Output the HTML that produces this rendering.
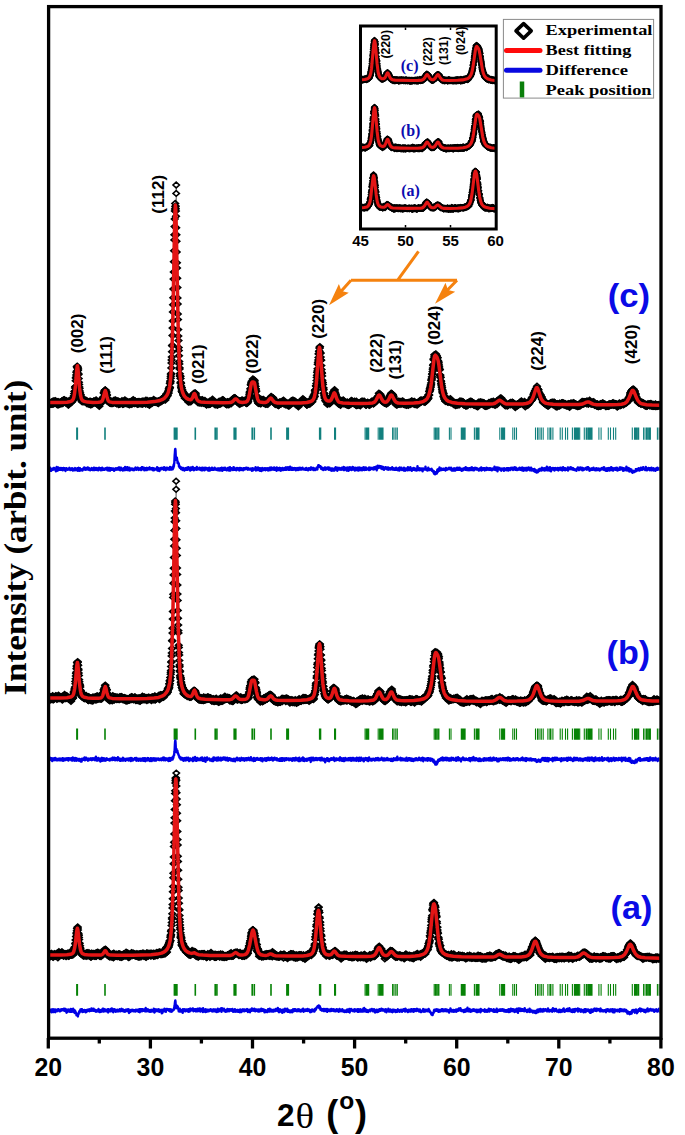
<!DOCTYPE html><html><head><meta charset="utf-8"><style>html,body{margin:0;padding:0;background:#fff;}svg{display:block;}text{font-family:"Liberation Sans",sans-serif;}</style></head><body>
<svg width="685" height="1135" viewBox="0 0 685 1135">
<defs>
<marker id="dm" markerUnits="userSpaceOnUse" markerWidth="12" markerHeight="12" viewBox="-6 -6 12 12" refX="0" refY="0" overflow="visible"><path d="M0,-2.8L3.2,0L0,2.8L-3.2,0Z" fill="none" stroke="#000" stroke-width="1.7" stroke-linejoin="miter"/></marker><marker id="dmw" markerUnits="userSpaceOnUse" markerWidth="12" markerHeight="12" viewBox="-6 -6 12 12" refX="0" refY="0" overflow="visible"><path d="M0,-2.85L3.2,0L0,2.85L-3.2,0Z" fill="#fff" stroke="#000" stroke-width="1.55" stroke-linejoin="miter"/></marker>
<marker id="dmi" markerUnits="userSpaceOnUse" markerWidth="10" markerHeight="10" viewBox="-5 -5 10 10" refX="0" refY="0" overflow="visible"><path d="M0,-2.5L2.8,0L0,2.5L-2.8,0Z" fill="none" stroke="#000" stroke-width="1.6" stroke-linejoin="round"/></marker>
</defs>
<rect width="685" height="1135" fill="#fff"/>
<clipPath id="cp"><rect x="50" y="8" width="609.5" height="1028.5"/></clipPath>
<clipPath id="cpi"><rect x="362" y="27.5" width="132.7" height="200"/></clipPath>
<g clip-path="url(#cp)">
<path d="M48.3,403.9 48.5,403.7 48.7,404.3 48.9,404.9 49.1,404.4 49.3,405 49.5,403.8 49.7,402.4 49.9,404.2 50.1,404.2 50.3,403 50.5,403 50.8,403.1 51,404 51.2,402.9 51.4,402 51.6,403.9 51.8,402.8 52,404.2 52.2,403.4 52.4,403.8 52.6,402 52.8,403 53,401.3 53.2,401.3 53.4,401.6 53.6,404 53.8,401.9 54,401.4 54.2,401.3 54.4,403 54.6,402 54.8,402.6 55,402.5 55.2,400.7 55.4,402.7 55.7,402 55.9,401.2 56.1,402.9 56.3,402.6 56.5,402.5 56.7,402.7 56.9,404.2 57.1,403 57.3,401.8 57.5,404.9 57.7,402.5 57.9,403.4 58.1,404.2 58.3,401.6 58.5,402.9 58.7,404.9 58.9,403.6 59.1,403.1 59.3,403.8 59.5,402.9 59.7,403.6 59.9,402.8 60.1,401.9 60.3,403.9 60.6,402.9 60.8,403.4 61,402.7 61.2,403.9 61.4,403.1 61.6,402.6 61.8,401.3 62,400.9 62.2,403.3 62.4,402.6 62.6,401 62.8,403.6 63,401.9 63.2,401.4 63.4,400 63.6,400.5 63.8,401.5 64,401.6 64.2,401.4 64.4,399.6 64.6,401.7 64.8,401.6 65,401 65.2,401.6 65.5,401.7 65.7,402.8 65.9,401.8 66.1,402.3 66.3,400.8 66.5,401.4 66.7,402.3 66.9,401.7 67.1,402.8 67.3,401.5 67.5,402.7 67.7,402.2 67.9,404.2 68.1,402.5 68.3,404.7 68.5,405.1 68.7,403.3 68.9,403.9 69.1,402.7 69.3,400.5 69.5,403.6 69.7,403.3 69.9,402.3 70.1,401.9 70.4,402.4 70.6,402.3 70.8,401.1 71,401.1 71.2,402.6 71.4,401.3 71.6,401 71.8,401.9 72,400.2 72.2,401.1 72.4,398.8 72.6,399.3 72.8,399.1 73,399.4 73.2,398.4 73.4,400 73.6,398.4 73.8,396 74,398 74.2,393.6 74.4,395.5 74.6,391.2 74.8,391.6 75.1,387.9 75.3,386.7 75.5,386.6 75.7,380.7 75.9,378 76.1,377.3 76.3,375 76.5,372.4 76.7,371.3 76.9,366.6 77.1,367.5 77.3,366.2 77.5,367.3 77.7,368 77.9,370.4 78.1,369 78.3,373.4 78.5,374.6 78.7,378.6 78.9,382.2 79.1,384.4 79.3,387.1 79.5,388.6 79.7,391.1 80,392.8 80.2,395.6 80.4,396.2 80.6,394.4 80.8,398 81,399.2 81.2,398.2 81.4,397.4 81.6,400.9 81.8,399.8 82,400.5 82.2,401.9 82.4,399.3 82.6,400.2 82.8,400.1 83,401.1 83.2,399.8 83.4,400.9 83.6,400.5 83.8,401.6 84,401.8 84.2,399.2 84.4,401.2 84.6,400.4 84.9,400.9 85.1,401.4 85.3,401.6 85.5,400.5 85.7,401.6 85.9,401.6 86.1,401.5 86.3,400.5 86.5,401.1 86.7,401.6 86.9,402.7 87.1,403.7 87.3,401.4 87.5,401.5 87.7,402.8 87.9,402.2 88.1,402.1 88.3,402.1 88.5,402.1 88.7,403.5 88.9,401.6 89.1,404.4 89.3,402.3 89.5,402.6 89.8,402.2 90,401.2 90.2,401.5 90.4,404.2 90.6,404.7 90.8,402 91,403.8 91.2,402.7 91.4,401.7 91.6,404.1 91.8,404.5 92,402 92.2,402.1 92.4,402.3 92.6,401.9 92.8,402.7 93,403.3 93.2,401.9 93.4,402.6 93.6,403.2 93.8,401 94,401.6 94.2,401.1 94.4,402.5 94.7,402.2 94.9,402.6 95.1,402.5 95.3,401.4 95.5,402.5 95.7,401.4 95.9,401.5 96.1,399.9 96.3,403.5 96.5,401.2 96.7,402.3 96.9,402.3 97.1,403.9 97.3,403 97.5,401.8 97.7,402.8 97.9,402.7 98.1,403.1 98.3,401.7 98.5,402.9 98.7,405.2 98.9,403.7 99.1,405 99.3,406.3 99.6,403.4 99.8,401.5 100,402.7 100.2,403.9 100.4,403.6 100.6,401.3 100.8,402.2 101,402.2 101.2,402.1 101.4,401.8 101.6,400.7 101.8,400.7 102,400.8 102.2,401.7 102.4,399.7 102.6,400.5 102.8,398 103,399.9 103.2,397.9 103.4,396.9 103.6,397.5 103.8,393.1 104,392.4 104.3,393.6 104.5,391.2 104.7,390.8 104.9,393.7 105.1,389.9 105.3,390.1 105.5,390.2 105.7,392.1 105.9,391.9 106.1,392.7 106.3,392.1 106.5,394.2 106.7,395.6 106.9,394.9 107.1,398.2 107.3,398.9 107.5,401.2 107.7,398.2 107.9,399.4 108.1,399.9 108.3,400.6 108.5,401.5 108.7,401.7 108.9,402.3 109.2,402.5 109.4,402.3 109.6,400.9 109.8,402 110,402.6 110.2,403.2 110.4,403.2 110.6,400.9 110.8,402 111,402.5 111.2,402.8 111.4,403.6 111.6,402.5 111.8,401.4 112,402.7 112.2,402.4 112.4,402.4 112.6,402 112.8,403.6 113,402.2 113.2,402.8 113.4,401 113.6,402.7 113.8,401.3 114.1,400.3 114.3,402.2 114.5,402.5 114.7,401.7 114.9,401.9 115.1,402.9 115.3,401.5 115.5,400 115.7,402.3 115.9,402.3 116.1,403.3 116.3,402 116.5,403.6 116.7,403.6 116.9,401.2 117.1,403.5 117.3,401.6 117.5,401.2 117.7,402.6 117.9,402.4 118.1,401 118.3,403.2 118.5,403.7 118.7,404.5 119,403.1 119.2,401.7 119.4,402.2 119.6,404.1 119.8,404.1 120,403.7 120.2,402.9 120.4,403.3 120.6,402.9 120.8,402.8 121,403.3 121.2,403 121.4,402.7 121.6,402.9 121.8,402.3 122,400.8 122.2,402 122.4,402.5 122.6,404.2 122.8,402 123,404.3 123.2,403.7 123.4,401.4 123.6,401.5 123.9,402.4 124.1,403.9 124.3,402.5 124.5,402.8 124.7,401.5 124.9,399.9 125.1,402 125.3,403 125.5,403.4 125.7,402.3 125.9,402.5 126.1,403.5 126.3,402.3 126.5,403.6 126.7,401.4 126.9,401.5 127.1,401.6 127.3,403.2 127.5,402.3 127.7,403 127.9,403.3 128.1,403.2 128.3,404.2 128.6,404.4 128.8,402.2 129,403.2 129.2,402.8 129.4,402 129.6,404.7 129.8,403.8 130,402.8 130.2,402.5 130.4,403.2 130.6,401.8 130.8,402.6 131,403.9 131.2,403.6 131.4,401.8 131.6,402.1 131.8,404.3 132,401.1 132.2,401.7 132.4,400.9 132.6,402.6 132.8,402.5 133,403.2 133.2,399.6 133.5,402.2 133.7,400.4 133.9,402.6 134.1,401.8 134.3,403.6 134.5,402.4 134.7,401 134.9,403.3 135.1,401 135.3,401.7 135.5,403.2 135.7,402.7 135.9,402.7 136.1,402.3 136.3,402.9 136.5,403.2 136.7,402.7 136.9,403.5 137.1,403.8 137.3,402.6 137.5,401.8 137.7,404.2 137.9,402.7 138.1,403.4 138.4,403.8 138.6,402 138.8,403.4 139,401.4 139.2,403.6 139.4,402.5 139.6,403.1 139.8,403.6 140,402.2 140.2,402.9 140.4,402.1 140.6,402.7 140.8,403.7 141,402.7 141.2,402.5 141.4,401.5 141.6,403.3 141.8,402.4 142,404 142.2,401.6 142.4,403.3 142.6,404 142.8,402.2 143,401 143.3,403.6 143.5,403.1 143.7,402.8 143.9,403.1 144.1,401.6 144.3,402.8 144.5,402.7 144.7,401.4 144.9,402.8 145.1,401.6 145.3,403.1 145.5,403.3 145.7,404 145.9,400.3 146.1,402.6 146.3,402 146.5,402.3 146.7,402.2 146.9,402.3 147.1,400.5 147.3,403.5 147.5,404 147.7,403.5 147.9,403.8 148.2,401.7 148.4,401.7 148.6,403.5 148.8,403.9 149,402.8 149.2,401 149.4,405.2 149.6,401.8 149.8,403.4 150,401.2 150.2,403.3 150.4,402.4 150.6,403.6 150.8,403 151,400.6 151.2,401.1 151.4,402.2 151.6,402.7 151.8,403.6 152,402.1 152.2,401.6 152.4,401.6 152.6,401.6 152.9,402.6 153.1,401.5 153.3,401.4 153.5,400.1 153.7,399.4 153.9,401.5 154.1,402.1 154.3,401.4 154.5,401.9 154.7,402.1 154.9,401.4 155.1,402.4 155.3,400.7 155.5,401.5 155.7,401.1 155.9,401.6 156.1,402.2 156.3,402.4 156.5,401.7 156.7,402 156.9,401.2 157.1,401.5 157.3,402.8 157.5,401.4 157.8,402.8 158,402 158.2,401.7 158.4,403.5 158.6,401.2 158.8,401.1 159,401.3 159.2,401.5 159.4,401.4 159.6,401.9 159.8,401.1 160,401.3 160.2,400.5 160.4,401.7 160.6,400.1 160.8,400.1 161,400.3 161.2,400.4 161.4,399.3 161.6,401.5 161.8,399.1 162,399.2 162.2,399 162.4,398.8 162.7,399.7 162.9,399.2 163.1,398.1 163.3,398.2 163.5,398.3 163.7,400 163.9,397.7 164.1,396.9 164.3,396.9 164.5,397.6 164.7,399.4 164.9,396.6 165.1,397.6 165.3,400 165.5,396.7 165.7,398.5 165.9,398.1 166.1,397.2 166.3,394.9 166.5,396.4 166.7,395.5 166.7,393.8 166.9,393.8 167.1,395.4 167.2,395.3 167.4,396.1 167.6,395.1 167.7,393.5 167.9,393.2 168,393.1 168.2,391.7 168.4,393.2 168.5,391.9 168.7,390.4 168.9,389.9 169,388.7 169.2,388.7 169.3,388.8 169.5,387.1 169.7,387.7 169.8,387.4 170,383.5 170.2,382.9 170.3,380.9 170.5,381.7 170.7,378.2 170.8,376.3 171,374.3 171.1,373.4 171.3,367.9 171.5,363 171.6,359.9 171.8,357.1 172,351.8 172.1,345.7 172.3,345.2 172.5,335.5 172.6,328.1 172.8,320.9 172.9,311.9 173.1,304.8 173.3,297.7 173.4,289 173.6,279.1 173.8,272 173.9,261.8 174.1,250.8 174.3,239.9 174.4,234.8 174.6,226.6 174.7,219 174.9,211 175.1,209 175.2,203.4 175.4,206.8 175.6,206.1 175.7,208.7 175.9,211.1 176,216.3 176.2,227.8 176.4,234.7 176.5,241.2 176.7,252 176.9,262.8 177,268 177.2,278.3 177.4,287.5 177.5,297.9 177.7,304 177.8,314 178,319.6 178.2,329.6 178.3,336.1 178.5,340.6 178.7,347.4 178.8,350.6 179,355.8 179.2,361.5 179.3,363.9 179.5,367.8 179.6,369.1 179.8,373.8 180,375.9 180.1,375.9 180.3,376.5 180.5,378.5 180.6,382.3 180.8,383.4 180.9,383 181.1,386 181.3,387.9 181.4,387.4 181.6,387.8 181.8,389.9 181.9,391.5 182.1,391.8 182.3,390 182.4,392.1 182.6,391.8 182.7,391.9 182.9,391.8 183.1,393.3 183.2,392.8 183.4,394.7 183.6,394.4 183.7,395.5 183.9,393.4 184.1,395 184.2,396.1 184.4,396 184.5,396.1 184.7,395.4 184.9,398.2 185,397.8 185.1,397.3 185.3,394.4 185.5,396.4 185.7,397.9 185.9,397.3 186.1,396.1 186.3,398.8 186.5,399.1 186.7,397.7 187,398.6 187.2,398.6 187.4,400 187.6,397.6 187.8,397.9 188,399.2 188.2,399.2 188.4,402.1 188.6,399.3 188.8,400.2 189,399.6 189.2,399.3 189.4,400.3 189.6,401.7 189.8,399.5 190,400.6 190.2,400.1 190.4,400.3 190.6,399.9 190.8,401.8 191,398 191.2,398.8 191.4,397.7 191.6,396.5 191.9,398.2 192.1,399.8 192.3,398.5 192.5,398.4 192.7,397.2 192.9,396 193.1,397.7 193.3,394.7 193.5,396.2 193.7,393.7 193.9,393.7 194.1,393.6 194.3,393.2 194.5,393.8 194.7,394.1 194.9,395.7 195.1,394.4 195.3,393 195.5,393.5 195.7,395 195.9,396.4 196.1,398.6 196.3,397 196.5,399.2 196.8,399.8 197,400.5 197.2,400.5 197.4,401.4 197.6,401.3 197.8,402.6 198,402 198.2,399.5 198.4,402 198.6,402.2 198.8,401.5 199,401.3 199.2,403.1 199.4,402.1 199.6,401 199.8,401.6 200,401.7 200.2,400.2 200.4,402.3 200.6,401.5 200.8,402 201,399.9 201.2,403.3 201.4,401.9 201.7,401.8 201.9,400.5 202.1,400.6 202.3,399.8 202.5,402.7 202.7,400.4 202.9,401.5 203.1,401.9 203.3,400.7 203.5,402.2 203.7,403.4 203.9,401.9 204.1,403 204.3,402.3 204.5,401.5 204.7,401.6 204.9,400.5 205.1,402.4 205.3,403.8 205.5,403.2 205.7,403.5 205.9,403.9 206.1,402.4 206.4,403.6 206.6,405 206.8,402.5 207,403.3 207.2,402.9 207.4,403.2 207.6,402.7 207.8,403.3 208,402.2 208.2,403 208.4,403 208.6,402.9 208.8,404.6 209,403.3 209.2,403.3 209.4,402.8 209.6,404.2 209.8,401.2 210,402.6 210.2,403.7 210.4,404.1 210.6,402.6 210.8,402.3 211,402.8 211.3,401.9 211.5,402.5 211.7,401.3 211.9,402.5 212.1,401.8 212.3,400.8 212.5,399.2 212.7,402.6 212.9,402.1 213.1,402.5 213.3,401 213.5,402.9 213.7,402.4 213.9,402 214.1,403 214.3,403.1 214.5,402.8 214.7,404.5 214.9,404 215.1,403.1 215.3,402.7 215.5,403.2 215.7,404.9 215.9,403.7 216.2,402.7 216.4,403 216.6,403.7 216.8,404.6 217,403.2 217.2,404.4 217.4,405 217.6,404.7 217.8,402.6 218,403.7 218.2,402.8 218.4,404.3 218.6,402.9 218.8,404.3 219,403.8 219.2,401.1 219.4,402.6 219.6,403.7 219.8,403.2 220,402.6 220.2,401.6 220.4,403.1 220.6,404.1 220.8,402.6 221.1,402.2 221.3,402 221.5,400.7 221.7,401.5 221.9,401 222.1,402.7 222.3,400.8 222.5,399.6 222.7,400.8 222.9,401.3 223.1,401.4 223.3,399.9 223.5,402.5 223.7,401.8 223.9,401.4 224.1,401.2 224.3,402.5 224.5,401.9 224.7,402.6 224.9,402.4 225.1,402.7 225.3,403.9 225.5,403 225.7,402.3 226,404.1 226.2,403.6 226.4,402.9 226.6,404.6 226.8,403.5 227,404.8 227.2,402.8 227.4,401.7 227.6,402 227.8,404.1 228,403.2 228.2,403.8 228.4,403.7 228.6,402.3 228.8,404.9 229,402.5 229.2,403.4 229.4,401.9 229.6,402.9 229.8,403.5 230,402.4 230.2,401.8 230.4,402.3 230.7,401.7 230.9,402.4 231.1,403.8 231.3,400.7 231.5,400.6 231.7,401 231.9,400.9 232.1,399.7 232.3,401 232.5,401.1 232.7,400.4 232.9,398.9 233.1,401.2 233.3,398.5 233.5,400.2 233.7,400.5 233.9,398 234.1,399.3 234.3,400.4 234.5,399.4 234.7,398 234.9,397.7 235.1,399.4 235.3,398.6 235.6,398.4 235.8,400 236,399.2 236.2,399.8 236.4,400.6 236.6,400.9 236.8,400.6 237,401 237.2,401.9 237.4,402 237.6,400.7 237.8,401.9 238,401.4 238.2,401.2 238.4,402 238.6,400.4 238.8,403.5 239,401.9 239.2,403 239.4,400.9 239.6,401 239.8,404.4 240,403.3 240.2,401.6 240.5,401.4 240.7,401.3 240.9,401.9 241.1,401.3 241.3,400.9 241.5,401.5 241.7,400.3 241.9,403.3 242.1,400.5 242.3,402 242.5,400.1 242.7,401.2 242.9,401.8 243.1,400.6 243.3,401.8 243.5,401.9 243.7,402.6 243.9,401.2 244.1,400.8 244.3,400.4 244.5,401.7 244.7,400.7 244.9,401.8 245.1,402 245.4,401.6 245.6,401.2 245.8,402.7 246,402.7 246.2,402.7 246.4,402.6 246.6,403.5 246.8,401.7 247,403 247.2,402.1 247.4,403.1 247.6,401.7 247.8,401.4 248,401.8 248.2,398.8 248.4,399.8 248.6,397.7 248.8,397.6 249,398.3 249.2,396.9 249.4,394.9 249.6,393.9 249.8,392.5 250,391.4 250.3,391.6 250.5,388.4 250.7,389.2 250.9,384.8 251.1,384.9 251.3,383.8 251.5,382.4 251.7,381.2 251.9,382.8 252.1,382.9 252.3,382 252.5,383.1 252.7,381.9 252.9,378.9 253.1,382 253.3,380 253.5,382.4 253.7,380.5 253.9,381.4 254.1,381.3 254.3,381 254.5,380.3 254.7,383 255,384.1 255.2,386.6 255.4,386.2 255.6,388.7 255.8,389 256,391.5 256.2,391 256.4,396.4 256.6,395.9 256.8,395.9 257,398.3 257.2,399.7 257.4,400 257.6,401.8 257.8,400.9 258,399.1 258.2,400.8 258.4,403.3 258.6,403.2 258.8,402.9 259,401.6 259.2,403.4 259.4,403.3 259.6,401.7 259.9,401.6 260.1,402.7 260.3,403.2 260.5,403.5 260.7,402.5 260.9,403.8 261.1,400.9 261.3,402 261.5,400.8 261.7,399.4 261.9,399.9 262.1,402 262.3,400.1 262.5,399.7 262.7,401.5 262.9,401.7 263.1,400.9 263.3,402.4 263.5,399.5 263.7,403.3 263.9,402.2 264.1,401.5 264.3,401.6 264.5,401.4 264.8,401.5 265,402.1 265.2,401 265.4,404.3 265.6,402.5 265.8,403.3 266,402.6 266.2,402.7 266.4,403.9 266.6,403.7 266.8,402.4 267,402.8 267.2,403.8 267.4,401.1 267.6,400.7 267.8,404.2 268,402.2 268.2,399.8 268.4,401.2 268.6,401.4 268.8,401.5 269,401.4 269.2,400.6 269.4,400.5 269.7,398.8 269.9,399.5 270.1,399.2 270.3,399.6 270.5,398.1 270.7,398.7 270.9,397.8 271.1,396.5 271.3,397.2 271.5,397.1 271.7,397.3 271.9,397.7 272.1,398.1 272.3,398.5 272.5,397.6 272.7,399.7 272.9,397.6 273.1,399.1 273.3,400.2 273.5,400.2 273.7,400.7 273.9,400.2 274.1,401.3 274.3,399.9 274.6,402 274.8,403.7 275,402.5 275.2,404 275.4,402.5 275.6,401.7 275.8,402.4 276,404.5 276.2,404.2 276.4,402.1 276.6,403.6 276.8,404.1 277,403.3 277.2,402.1 277.4,403.3 277.6,404.4 277.8,404.3 278,404 278.2,405.2 278.4,405.5 278.6,404.4 278.8,405.3 279,404.4 279.3,404.1 279.5,401.9 279.7,404.6 279.9,403.8 280.1,403.6 280.3,402.9 280.5,402.1 280.7,403.3 280.9,403.4 281.1,404 281.3,403.1 281.5,401.6 281.7,401.9 281.9,402.7 282.1,402 282.3,401.6 282.5,401.1 282.7,402 282.9,401.7 283.1,403.1 283.3,402.6 283.5,400.1 283.7,403.7 283.9,402.1 284.2,401.7 284.4,402.4 284.6,403 284.8,402.5 285,402.6 285.2,402.9 285.4,404.7 285.6,403.4 285.8,404.2 286,404.1 286.2,403.6 286.4,403.5 286.6,403.4 286.8,404.8 287,403.7 287.2,403.5 287.4,403.7 287.6,403.5 287.8,404.9 288,405 288.2,404.1 288.4,406 288.6,404.5 288.8,405.1 289.1,404.8 289.3,405.9 289.5,405 289.7,404 289.9,403 290.1,402.7 290.3,403.5 290.5,403.4 290.7,403.8 290.9,402.4 291.1,402.8 291.3,401.9 291.5,400.6 291.7,402.1 291.9,403.2 292.1,402.5 292.3,403 292.5,402.7 292.7,400.3 292.9,401.3 293.1,402.8 293.3,400.9 293.5,400.4 293.7,401.9 294,402.3 294.2,402.1 294.4,401.7 294.6,401.5 294.8,401.2 295,401.4 295.2,401.6 295.4,401.6 295.6,402.4 295.8,404.6 296,403.5 296.2,403.3 296.4,404.1 296.6,403.1 296.8,404.4 297,405.1 297.2,403 297.4,403.8 297.6,404.3 297.8,403.7 298,403.6 298.2,404.2 298.4,406.7 298.6,405 298.9,404.8 299.1,405.1 299.3,403.9 299.5,402.9 299.7,404.2 299.9,404.6 300.1,401.6 300.3,403.6 300.5,404.1 300.7,402.6 300.9,402.2 301.1,403 301.3,401.5 301.5,402.4 301.7,402.7 301.9,401.5 302.1,400.8 302.3,402 302.5,401 302.7,401.4 302.9,398.7 303.1,401.9 303.3,400 303.6,401.3 303.8,401.4 304,400.8 304.2,400.7 304.4,400.5 304.6,401.5 304.8,402.5 305,402.6 305.2,401.8 305.4,401.9 305.6,401.4 305.8,402.4 306,402 306.2,401.8 306.4,403.2 306.6,404.8 306.8,404.7 307,405 307.2,402.3 307.4,404.6 307.6,402.8 307.8,403.4 308,402.3 308.2,402.9 308.5,403.9 308.7,403.8 308.9,403.4 309.1,403.2 309.3,403.7 309.5,403 309.7,401.3 309.9,404.1 310.1,402 310.3,402.9 310.5,401.6 310.7,400.7 310.9,401.2 311.1,400.2 311.3,402.1 311.5,399.3 311.7,400.6 311.9,399.2 312.1,399.3 312.3,401.7 312.5,399.7 312.7,398.5 312.9,396.9 313.1,397.9 313.4,397.6 313.6,398.9 313.8,395.8 314,395 314.2,396.3 314.4,396 314.6,396.8 314.8,393.5 315,390.8 315.2,391.9 315.4,390.1 315.6,389.6 315.8,389.8 316,385.6 316.2,386.6 316.4,383.4 316.6,380.6 316.8,377.4 317,375.3 317.2,372.6 317.4,371.1 317.6,368.8 317.8,364.2 318,362.2 318.3,360.1 318.5,357.4 318.7,354 318.9,353.7 319.1,351.5 319.3,350.9 319.5,348.1 319.7,347.9 319.9,346.6 320.1,352.4 320.3,353.1 320.5,353.2 320.7,357.1 320.9,360 321.1,360.2 321.3,365.6 321.5,369.5 321.7,372.5 321.9,373.2 322.1,375.9 322.3,380.3 322.5,382.2 322.7,382.7 322.9,384.6 323.2,387.8 323.4,388.1 323.6,389.7 323.8,393.6 324,393.3 324.2,393.6 324.4,395.6 324.6,398.1 324.8,397 325,396.7 325.2,396.6 325.4,400.8 325.6,396.7 325.8,400.8 326,399.2 326.2,399.3 326.4,399.9 326.6,401 326.8,402.5 327,401.1 327.2,402.6 327.4,404.4 327.6,399.5 327.8,401.6 328.1,400.7 328.3,403.3 328.5,401 328.7,400.9 328.9,400.9 329.1,402.3 329.3,403.2 329.5,402.1 329.7,403.8 329.9,403.1 330.1,401.2 330.3,401.9 330.5,400.8 330.7,400.4 330.9,398.1 331.1,398.2 331.3,399.1 331.5,397.3 331.7,398.7 331.9,397.7 332.1,395.9 332.3,397.4 332.5,395.8 332.8,396.2 333,394.2 333.2,392 333.4,393.9 333.6,392.4 333.8,393.2 334,393.2 334.2,393.2 334.4,390.4 334.6,389.7 334.8,392 335,393.8 335.2,392.9 335.4,394.7 335.6,394.3 335.8,395.6 336,396.4 336.2,396.9 336.4,398.8 336.6,399.3 336.8,401.3 337,400.6 337.2,402.1 337.4,401.4 337.7,402.5 337.9,401.9 338.1,401.9 338.3,403.8 338.5,403.5 338.7,403.7 338.9,402.3 339.1,401.5 339.3,402.3 339.5,403.3 339.7,401.7 339.9,404.3 340.1,401.5 340.3,403.4 340.5,405.2 340.7,400.2 340.9,401.1 341.1,403.3 341.3,402.2 341.5,402.4 341.7,402 341.9,403.4 342.1,402.6 342.3,401.6 342.6,401.8 342.8,400.9 343,401.9 343.2,399.9 343.4,402.6 343.6,401.8 343.8,403.8 344,403.3 344.2,401.2 344.4,403.3 344.6,402.1 344.8,402.8 345,403.8 345.2,403.3 345.4,403.6 345.6,403.8 345.8,402.8 346,403 346.2,404.3 346.4,404.7 346.6,403.8 346.8,404.2 347,403.3 347.2,402 347.5,403.6 347.7,404.4 347.9,404.6 348.1,405.2 348.3,405.2 348.5,405.3 348.7,404.7 348.9,404.6 349.1,403.6 349.3,404.5 349.5,404.2 349.7,405 349.9,402.3 350.1,403.2 350.3,402 350.5,402.7 350.7,402 350.9,403.3 351.1,402.4 351.3,400.5 351.5,403.8 351.7,401.7 351.9,401.1 352.1,402.2 352.4,401.8 352.6,401.3 352.8,403 353,402 353.2,403.2 353.4,403 353.6,403 353.8,402.7 354,402.5 354.2,402.3 354.4,404 354.6,401.1 354.8,402 355,402.5 355.2,403.6 355.4,403.4 355.6,403 355.8,403.2 356,405.2 356.2,403.2 356.4,401.3 356.6,405.6 356.8,403.2 357.1,403.8 357.3,404.3 357.5,403 357.7,405.3 357.9,404.1 358.1,403 358.3,404.4 358.5,404.6 358.7,404.1 358.9,404.5 359.1,402.6 359.3,404.7 359.5,403.1 359.7,404.8 359.9,403 360.1,403.6 360.3,405.7 360.5,403.3 360.7,404.1 360.9,403.5 361.1,401.6 361.3,403.9 361.5,403.8 361.7,401.5 362,402.6 362.2,401.3 362.4,402.3 362.6,403.4 362.8,402.6 363,401.5 363.2,401.8 363.4,402.7 363.6,402.7 363.8,402.9 364,403.3 364.2,401.2 364.4,403 364.6,404.1 364.8,403.6 365,402.7 365.2,402.8 365.4,403.6 365.6,404.2 365.8,403.7 366,405.2 366.2,405 366.4,403.2 366.6,404.4 366.9,403.7 367.1,403 367.3,403.5 367.5,404.1 367.7,402.2 367.9,403.5 368.1,404.4 368.3,403.4 368.5,403.6 368.7,404.6 368.9,403.7 369.1,403.9 369.3,405.4 369.5,403.7 369.7,403.7 369.9,403.7 370.1,404.7 370.3,403.4 370.5,403 370.7,402.8 370.9,403.8 371.1,402.1 371.3,403.7 371.5,402.7 371.8,401.3 372,403 372.2,402.8 372.4,401.3 372.6,402.6 372.8,402.5 373,402 373.2,401.2 373.4,404.1 373.6,402.8 373.8,403 374,403 374.2,402.8 374.4,402.7 374.6,401.6 374.8,402.6 375,401.5 375.2,401.1 375.4,402 375.6,401 375.8,399.3 376,400.3 376.2,400.9 376.4,400.1 376.7,400.5 376.9,399 377.1,398 377.3,399.2 377.5,398.2 377.7,396.4 377.9,397.5 378.1,396.4 378.3,397.3 378.5,396.7 378.7,396.1 378.9,393.3 379.1,395.7 379.3,395.8 379.5,395.9 379.7,395.6 379.9,395 380.1,395.7 380.3,394.2 380.5,396.4 380.7,395.5 380.9,397 381.1,397.1 381.4,399.5 381.6,398.6 381.8,398.9 382,399.4 382.2,401.5 382.4,399 382.6,400.5 382.8,400.8 383,400.9 383.2,401.1 383.4,400.8 383.6,402.5 383.8,402.4 384,401.5 384.2,401.8 384.4,402.4 384.6,402.7 384.8,403.1 385,402.5 385.2,401.4 385.4,403.5 385.6,401.2 385.8,401.9 386,403 386.3,401.9 386.5,403.8 386.7,403.9 386.9,403.4 387.1,402.5 387.3,402.2 387.5,402.2 387.7,401.3 387.9,403.1 388.1,400.3 388.3,401.7 388.5,400.6 388.7,400 388.9,400.2 389.1,399.9 389.3,399.1 389.5,397.6 389.7,396.5 389.9,396 390.1,397 390.3,396.4 390.5,396.1 390.7,394.4 390.9,396.6 391.2,393.2 391.4,394.9 391.6,395.2 391.8,394.2 392,393.7 392.2,394.7 392.4,394.4 392.6,395.7 392.8,395.1 393,395.6 393.2,397.4 393.4,396.5 393.6,398.2 393.8,398.8 394,400.2 394.2,400.1 394.4,399.5 394.6,401.8 394.8,400.4 395,401.1 395.2,401.4 395.4,404 395.6,402.3 395.8,401.9 396.1,403.3 396.3,402.7 396.5,405.1 396.7,402.5 396.9,403.7 397.1,402.5 397.3,404.9 397.5,402.7 397.7,403.5 397.9,402.6 398.1,404.1 398.3,403.8 398.5,401.3 398.7,403.9 398.9,403.7 399.1,403.3 399.3,403.9 399.5,401.9 399.7,401.4 399.9,403.4 400.1,404.3 400.3,401.8 400.5,401.8 400.7,402 401,401.7 401.2,403.4 401.4,402.8 401.6,403.8 401.8,403.9 402,401.9 402.2,403.3 402.4,400.9 402.6,402.8 402.8,403.4 403,402.3 403.2,401.5 403.4,402.7 403.6,404.2 403.8,403 404,402.2 404.2,403.9 404.4,404.2 404.6,402.7 404.8,403.5 405,404.7 405.2,404.1 405.4,404.5 405.7,403.6 405.9,403.8 406.1,402.9 406.3,403.3 406.5,405.2 406.7,403.5 406.9,403.1 407.1,403.4 407.3,402.9 407.5,404.2 407.7,404.4 407.9,402.8 408.1,404.4 408.3,405.2 408.5,402.4 408.7,403.8 408.9,403.4 409.1,404.2 409.3,404.1 409.5,403.9 409.7,403.1 409.9,402.4 410.1,404.6 410.3,402 410.6,403.6 410.8,403.5 411,402 411.2,402.6 411.4,403.8 411.6,401 411.8,403.3 412,402.4 412.2,402.5 412.4,401.5 412.6,403.1 412.8,402 413,403.5 413.2,402 413.4,403.7 413.6,403.4 413.8,401.6 414,403 414.2,403.3 414.4,401.5 414.6,403.2 414.8,404.2 415,403 415.2,404.6 415.5,402.7 415.7,402.6 415.9,404.1 416.1,404.2 416.3,403.5 416.5,403.6 416.7,404.4 416.9,403 417.1,405.1 417.3,403.7 417.5,403.5 417.7,403.3 417.9,402.7 418.1,403.9 418.3,402.2 418.5,402.8 418.7,403.1 418.9,403.6 419.1,403.3 419.3,401.8 419.5,402.9 419.7,401.9 419.9,400.9 420.1,400.8 420.4,400.3 420.6,401.8 420.8,402.4 421,400.5 421.2,401.1 421.4,400.4 421.6,401.3 421.8,400.3 422,400.6 422.2,400.7 422.4,400.9 422.6,401 422.8,401.1 423,401.1 423.2,400.5 423.4,401.8 423.6,399.8 423.8,401.4 424,400.5 424.2,401.4 424.4,401.5 424.6,399.4 424.8,401.5 425,402.2 425.3,401.6 425.5,401.2 425.7,398.8 425.9,400.4 426.1,399.6 426.3,401.1 426.5,399.6 426.7,399.1 426.9,397.7 427.1,399.7 427.3,398.2 427.5,398 427.7,398.9 427.9,397.5 428.1,397.2 428.3,398.6 428.5,395.2 428.7,394.6 428.9,394.9 429.1,395.1 429.3,391.5 429.5,391.8 429.7,390.2 429.9,388.8 430.2,389.7 430.4,387.2 430.6,387.1 430.8,385.7 431,384.4 431.2,382.9 431.4,380.2 431.6,379.7 431.8,378.3 432,376.7 432.2,374.3 432.4,373.8 432.6,371.5 432.8,369.2 433,367.9 433.2,365.6 433.4,364.4 433.6,359.7 433.8,359 434,358.8 434.2,358.3 434.4,354.7 434.6,356.3 434.9,356.4 435.1,355.7 435.3,355.6 435.5,354.4 435.7,356.3 435.9,353.9 436.1,357.8 436.3,356.2 436.5,358.5 436.7,355.4 436.9,358.3 437.1,358.3 437.3,357.4 437.5,357.4 437.7,360.7 437.9,360.4 438.1,362.4 438.3,361.4 438.5,362.7 438.7,364.2 438.9,365.9 439.1,367 439.3,369 439.5,369.2 439.8,369.7 440,375.3 440.2,375 440.4,377 440.6,377.6 440.8,380.8 441,381.5 441.2,383.9 441.4,383.5 441.6,385.5 441.8,387.1 442,387.7 442.2,389.5 442.4,391.9 442.6,390.8 442.8,392 443,393.4 443.2,393.1 443.4,393.6 443.6,396.6 443.8,396.9 444,395.4 444.2,396.1 444.4,398.6 444.7,399.5 444.9,399.4 445.1,399.6 445.3,401 445.5,399.8 445.7,401.3 445.9,401.4 446.1,399.7 446.3,401.3 446.5,400.9 446.7,400.4 446.9,400.3 447.1,401.4 447.3,401.1 447.5,401.9 447.7,399.7 447.9,400.7 448.1,402.2 448.3,401.2 448.5,400.5 448.7,400.7 448.9,399.5 449.1,399.9 449.3,401.5 449.6,401.1 449.8,402.1 450,400.8 450.2,400.9 450.4,398.7 450.6,401 450.8,402.9 451,401.8 451.2,401.2 451.4,402.4 451.6,402.2 451.8,401.9 452,401.4 452.2,402 452.4,402.7 452.6,401.5 452.8,402.7 453,402.9 453.2,403.8 453.4,403.4 453.6,402.4 453.8,404.5 454,403.3 454.2,402.8 454.5,403.8 454.7,403.5 454.9,404.7 455.1,402.8 455.3,403 455.5,403.8 455.7,405.5 455.9,405 456.1,403.3 456.3,402.7 456.5,403.8 456.7,403 456.9,404.5 457.1,404.1 457.3,403.9 457.5,403.4 457.7,405 457.9,402.8 458.1,402.4 458.3,404.3 458.5,404.4 458.7,402.9 458.9,403.6 459.2,404.9 459.4,402.2 459.6,402.6 459.8,403.1 460,400.9 460.2,402.4 460.4,403.1 460.6,402.4 460.8,403.3 461,403.1 461.2,402.2 461.4,403 461.6,403 461.8,401.3 462,402.1 462.2,402.2 462.4,402.5 462.6,402.7 462.8,402 463,403.3 463.2,402 463.4,404.4 463.6,403.9 463.8,405 464.1,404.3 464.3,403.7 464.5,403.1 464.7,404.9 464.9,404.4 465.1,404.8 465.3,405.2 465.5,405.6 465.7,404.6 465.9,406.1 466.1,404.6 466.3,404.7 466.5,405.2 466.7,405.4 466.9,405.7 467.1,403 467.3,405.5 467.5,403.1 467.7,403.7 467.9,404.4 468.1,404.9 468.3,403 468.5,402.4 468.7,404.4 469,403.8 469.2,402.6 469.4,403 469.6,401.6 469.8,403.6 470,402.6 470.2,404 470.4,401.2 470.6,403.5 470.8,404.6 471,403 471.2,403 471.4,401.4 471.6,403.2 471.8,403 472,402.6 472.2,401.9 472.4,403.3 472.6,402.6 472.8,403.1 473,403.9 473.2,403.7 473.4,403.9 473.6,404.8 473.9,403.2 474.1,405.4 474.3,403.5 474.5,403.8 474.7,404.7 474.9,405.4 475.1,405 475.3,404.6 475.5,404.4 475.7,404.8 475.9,404.3 476.1,405.5 476.3,404.9 476.5,406.3 476.7,404.4 476.9,404.9 477.1,405.3 477.3,403.9 477.5,404.2 477.7,406.9 477.9,404.5 478.1,405.6 478.3,403.4 478.5,402.2 478.8,404.4 479,403.8 479.2,404 479.4,403.4 479.6,403 479.8,402.4 480,404.1 480.2,402 480.4,403.9 480.6,402.9 480.8,402.2 481,402.5 481.2,403.8 481.4,403.6 481.6,403.4 481.8,403.1 482,402.3 482.2,404.2 482.4,402.9 482.6,402.9 482.8,403.1 483,403.3 483.2,402.6 483.5,403.5 483.7,403.4 483.9,403.7 484.1,402.9 484.3,405.9 484.5,403.5 484.7,404.9 484.9,405 485.1,405.6 485.3,406.4 485.5,405.3 485.7,405.6 485.9,404.7 486.1,406.3 486.3,404 486.5,404.9 486.7,405.3 486.9,405.6 487.1,405.6 487.3,405.8 487.5,405.2 487.7,404.7 487.9,404.7 488.1,405.6 488.4,404.5 488.6,404.9 488.8,403.9 489,402.5 489.2,403.3 489.4,403.9 489.6,404.8 489.8,404.5 490,404.6 490.2,402.6 490.4,403.7 490.6,403 490.8,403.4 491,402.8 491.2,401.8 491.4,403.4 491.6,403.1 491.8,403.5 492,402.2 492.2,403.8 492.4,403.9 492.6,404.2 492.8,404.3 493,402.9 493.3,401.3 493.5,404.2 493.7,402.8 493.9,403.4 494.1,404.6 494.3,404 494.5,404 494.7,404.4 494.9,402.3 495.1,405.4 495.3,403.6 495.5,403.6 495.7,404.2 495.9,403.6 496.1,402.9 496.3,403.3 496.5,402.9 496.7,402.5 496.9,404.6 497.1,401.4 497.3,400.5 497.5,401.3 497.7,401 497.9,402.8 498.2,401.4 498.4,401.8 498.6,401.3 498.8,399.7 499,401 499.2,400.2 499.4,401.6 499.6,399.9 499.8,399.6 500,400.2 500.2,400.2 500.4,398 500.6,400.7 500.8,400.6 501,400.5 501.2,398.9 501.4,398.3 501.6,400 501.8,401.1 502,401.1 502.2,400 502.4,401.9 502.6,400.2 502.8,400.5 503.1,401.9 503.3,401.7 503.5,401.8 503.7,401.4 503.9,403.8 504.1,402.2 504.3,403.7 504.5,404.3 504.7,403.8 504.9,404.2 505.1,405 505.3,405.7 505.5,405.3 505.7,403.5 505.9,403.2 506.1,404.4 506.3,404 506.5,405.4 506.7,405.1 506.9,404.8 507.1,405.9 507.3,405.8 507.5,404.9 507.8,405.1 508,405.6 508.2,404.4 508.4,404.8 508.6,403.7 508.8,404.4 509,404.5 509.2,404 509.4,404.2 509.6,404.4 509.8,404.1 510,403.1 510.2,403.1 510.4,402.5 510.6,404.7 510.8,403.6 511,403.6 511.2,403.1 511.4,403.5 511.6,403.6 511.8,402.6 512,403.1 512.2,404.1 512.4,402.3 512.7,402.6 512.9,403.9 513.1,402.9 513.3,404.2 513.5,402.9 513.7,404 513.9,404.6 514.1,404.4 514.3,404.8 514.5,404.2 514.7,404.3 514.9,404.6 515.1,405.1 515.3,407.6 515.5,404.8 515.7,406.4 515.9,404.9 516.1,404.2 516.3,404.9 516.5,405.5 516.7,405.3 516.9,405.3 517.1,405.6 517.3,405.5 517.6,405.7 517.8,404 518,404.9 518.2,404 518.4,404.8 518.6,404.5 518.8,404.5 519,403.9 519.2,403.5 519.4,403.8 519.6,404.4 519.8,404.3 520,402.3 520.2,403.6 520.4,403.5 520.6,402 520.8,402.2 521,402.6 521.2,403.2 521.4,401 521.6,402.5 521.8,402.4 522,402.9 522.2,403.9 522.5,403.8 522.7,402.5 522.9,402.6 523.1,403.2 523.3,404 523.5,404.3 523.7,403.5 523.9,404.5 524.1,402.7 524.3,402.7 524.5,401.5 524.7,403.1 524.9,404.4 525.1,404.7 525.3,406.8 525.5,404.6 525.7,404.4 525.9,403.5 526.1,403.9 526.3,403.9 526.5,404.2 526.7,403.9 526.9,403.2 527.1,405.2 527.4,404.6 527.6,405.3 527.8,402.7 528,402.9 528.2,403.2 528.4,404.6 528.6,403.3 528.8,403.4 529,402.9 529.2,402.9 529.4,402.1 529.6,402.6 529.8,401.3 530,401.5 530.2,401.6 530.4,401.2 530.6,401.2 530.8,399.8 531,400.4 531.2,399.6 531.4,399.8 531.6,400.4 531.8,398 532,399.3 532.3,397.4 532.5,397.2 532.7,398.7 532.9,397.6 533.1,396.8 533.3,396.6 533.5,396.5 533.7,394.3 533.9,394.7 534.1,393.6 534.3,393.8 534.5,392.6 534.7,393 534.9,391.8 535.1,390.7 535.3,390.7 535.5,390.7 535.7,390.9 535.9,389.3 536.1,388.8 536.3,389.1 536.5,389.5 536.7,388.1 537,386.2 537.2,389.1 537.4,388.7 537.6,388.9 537.8,392.1 538,390 538.2,391.2 538.4,389.8 538.6,391.9 538.8,392.9 539,392.9 539.2,393.1 539.4,394.3 539.6,394.4 539.8,396.1 540,395.5 540.2,395.1 540.4,394.5 540.6,396 540.8,396.8 541,396.4 541.2,396.9 541.4,396.7 541.6,397.6 541.9,398.9 542.1,398.9 542.3,399.3 542.5,399.5 542.7,399.8 542.9,400.9 543.1,402.3 543.3,401.4 543.5,402.8 543.7,401.4 543.9,401.7 544.1,403.3 544.3,401.6 544.5,401.7 544.7,402.6 544.9,401.6 545.1,401.7 545.3,404.3 545.5,402.7 545.7,403.4 545.9,403.6 546.1,403.4 546.3,404.8 546.5,404.8 546.8,405.1 547,405.1 547.2,404.7 547.4,405.8 547.6,405.5 547.8,404.3 548,404.8 548.2,404.4 548.4,406.1 548.6,405.2 548.8,405 549,404.5 549.2,404.9 549.4,403.6 549.6,404.3 549.8,404.1 550,404 550.2,403.4 550.4,404.2 550.6,402.8 550.8,403.2 551,403.4 551.2,403.4 551.4,403 551.7,402.5 551.9,402.6 552.1,403 552.3,402.6 552.5,403.1 552.7,402.3 552.9,403.3 553.1,404.9 553.3,402.4 553.5,403.4 553.7,404.4 553.9,403.8 554.1,404.4 554.3,402.3 554.5,403.6 554.7,405.3 554.9,403.9 555.1,404.7 555.3,403.1 555.5,405.4 555.7,406.5 555.9,404.8 556.1,405.3 556.3,405.4 556.6,406.8 556.8,404.9 557,404 557.2,406.8 557.4,404.5 557.6,405.8 557.8,403.6 558,405 558.2,405.5 558.4,404.4 558.6,404.8 558.8,405.6 559,404.5 559.2,405.3 559.4,406.1 559.6,403.2 559.8,404.8 560,404.9 560.2,404.1 560.4,405.4 560.6,405.1 560.8,404.4 561,404.3 561.3,403.7 561.5,402.9 561.7,404 561.9,403.2 562.1,403.1 562.3,404.3 562.5,403.3 562.7,404.2 562.9,402.7 563.1,403.2 563.3,403.6 563.5,404.7 563.7,403.7 563.9,404.4 564.1,403.4 564.3,404.1 564.5,404.8 564.7,403.6 564.9,403.9 565.1,405 565.3,403.8 565.5,405 565.7,405.2 565.9,405 566.2,405.7 566.4,405.6 566.6,405.5 566.8,404.4 567,404.4 567.2,405.8 567.4,404.5 567.6,405.7 567.8,405.4 568,405 568.2,405.4 568.4,403.8 568.6,405.4 568.8,406.3 569,404.4 569.2,405.6 569.4,405.4 569.6,407.3 569.8,404.2 570,404.2 570.2,404.1 570.4,403.9 570.6,403.2 570.8,404.4 571.1,403.6 571.3,404.7 571.5,404.3 571.7,403.2 571.9,403.6 572.1,404.8 572.3,403.5 572.5,403.9 572.7,404.3 572.9,403.4 573.1,404.1 573.3,404.9 573.5,404.7 573.7,402.6 573.9,405.1 574.1,403.9 574.3,403.7 574.5,403.8 574.7,405.3 574.9,404.7 575.1,404.5 575.3,404.2 575.5,405.3 575.7,405.8 576,404.3 576.2,404.4 576.4,405 576.6,405.8 576.8,405.1 577,405.4 577.2,404.9 577.4,406.5 577.6,405.5 577.8,405.7 578,406.4 578.2,405.4 578.4,405.5 578.6,405.7 578.8,405.1 579,406.3 579.2,405.2 579.4,404.8 579.6,404.7 579.8,404 580,405.6 580.2,405.7 580.4,404.2 580.6,403.9 580.9,402.6 581.1,403.6 581.3,404.5 581.5,403.1 581.7,404.3 581.9,404.6 582.1,401.5 582.3,403.1 582.5,402.7 582.7,402.7 582.9,401.7 583.1,402.8 583.3,402 583.5,403.7 583.7,404 583.9,401.8 584.1,401.7 584.3,402.4 584.5,402.7 584.7,402.7 584.9,403.4 585.1,401.6 585.3,402.3 585.6,402.4 585.8,402.5 586,402 586.2,402.4 586.4,402.2 586.6,403.7 586.8,402.4 587,401 587.2,403.2 587.4,402.9 587.6,402 587.8,402 588,402.2 588.2,404 588.4,402.3 588.6,403.7 588.8,403.4 589,402.3 589.2,403 589.4,402.1 589.6,400.3 589.8,402.2 590,402.2 590.2,403.5 590.5,403.3 590.7,403.6 590.9,403.2 591.1,403.7 591.3,403.3 591.5,403 591.7,403.6 591.9,404 592.1,404 592.3,402.6 592.5,403 592.7,402.3 592.9,402.3 593.1,403.4 593.3,402.8 593.5,404.4 593.7,401.8 593.9,402.7 594.1,403.8 594.3,404.6 594.5,403.6 594.7,405.4 594.9,404.7 595.1,403.7 595.4,404.4 595.6,404.9 595.8,404 596,405.5 596.2,404.7 596.4,405.4 596.6,405.7 596.8,404.9 597,406 597.2,404 597.4,405.8 597.6,404 597.8,406.3 598,405.1 598.2,406.4 598.4,406.5 598.6,405.4 598.8,405 599,406.3 599.2,404.5 599.4,405.8 599.6,405.1 599.8,404.9 600,404.6 600.3,406.2 600.5,403.7 600.7,404.4 600.9,405 601.1,405.3 601.3,405.7 601.5,405.4 601.7,404 601.9,404.5 602.1,405 602.3,404.6 602.5,403 602.7,404.4 602.9,404.5 603.1,403.2 603.3,403.8 603.5,404.1 603.7,404.6 603.9,405.4 604.1,405.2 604.3,404.7 604.5,404.6 604.7,404.3 604.9,404.2 605.2,404.6 605.4,404.7 605.6,405.6 605.8,406.5 606,405.5 606.2,405.9 606.4,405.7 606.6,405.5 606.8,406.3 607,406.3 607.2,405.6 607.4,405.5 607.6,406 607.8,405.2 608,405.8 608.2,406.3 608.4,405.5 608.6,404.2 608.8,406 609,404.6 609.2,404.4 609.4,404.2 609.6,405.8 609.9,403.7 610.1,405 610.3,405.1 610.5,405 610.7,404.3 610.9,404.6 611.1,404.7 611.3,403.6 611.5,404.9 611.7,405.1 611.9,403.7 612.1,403.7 612.3,403.4 612.5,404.9 612.7,403.3 612.9,403.7 613.1,402.8 613.3,405 613.5,403.9 613.7,404.3 613.9,405.3 614.1,404.7 614.3,403.5 614.5,404.7 614.8,404.9 615,403.9 615.2,403.8 615.4,403.9 615.6,405.3 615.8,404.8 616,404.1 616.2,405.4 616.4,405.5 616.6,404.5 616.8,404 617,406 617.2,407 617.4,406.2 617.6,405.9 617.8,405.3 618,404.7 618.2,405.3 618.4,405.6 618.6,405 618.8,405.7 619,405 619.2,405.4 619.4,402.9 619.7,404.1 619.9,405.3 620.1,405.3 620.3,404.8 620.5,405.6 620.7,404.8 620.9,404.7 621.1,403.4 621.3,404.3 621.5,404.4 621.7,404.8 621.9,404.6 622.1,403.7 622.3,403.7 622.5,402.7 622.7,403.9 622.9,402.6 623.1,403.2 623.3,403.3 623.5,404.8 623.7,404.2 623.9,402.6 624.1,402.1 624.3,403 624.6,402.5 624.8,403.4 625,403.3 625.2,403.5 625.4,402.2 625.6,402.6 625.8,402.9 626,402.9 626.2,402.1 626.4,402.2 626.6,402.9 626.8,400.7 627,401.7 627.2,401.6 627.4,400.2 627.6,400.3 627.8,400.8 628,400 628.2,400.9 628.4,400.2 628.6,401.1 628.8,397.7 629,399.8 629.2,397.2 629.5,397.9 629.7,397.5 629.9,396.2 630.1,395.2 630.3,394.3 630.5,392.7 630.7,393.4 630.9,392.3 631.1,393 631.3,391.3 631.5,391.3 631.7,391.4 631.9,390.7 632.1,390.3 632.3,389.9 632.5,389.5 632.7,390.2 632.9,390.5 633.1,389.2 633.3,391.6 633.5,390.9 633.7,389.3 633.9,393.5 634.1,392.2 634.4,391.5 634.6,394.1 634.8,391 635,396.1 635.2,393.2 635.4,393.7 635.6,394.8 635.8,396.4 636,396.5 636.2,398.1 636.4,397.2 636.6,399.3 636.8,399.1 637,398.5 637.2,400.6 637.4,400.4 637.6,400.3 637.8,401.9 638,400.2 638.2,401.1 638.4,402.8 638.6,401.9 638.8,402.7 639.1,402.8 639.3,402.4 639.5,403.1 639.7,402 639.9,403.4 640.1,402.2 640.3,403.1 640.5,402.5 640.7,403.6 640.9,403.7 641.1,404.2 641.3,403 641.5,402.8 641.7,402 641.9,402.6 642.1,403.5 642.3,403.9 642.5,403.5 642.7,403.9 642.9,402.8 643.1,403.3 643.3,404.6 643.5,404.6 643.7,403.2 644,404 644.2,404.5 644.4,403.6 644.6,404.8 644.8,404.8 645,405 645.2,406.1 645.4,404.2 645.6,405.7 645.8,405.3 646,405.5 646.2,404.5 646.4,405.1 646.6,405 646.8,406.3 647,405.2 647.2,406.1 647.4,404.9 647.6,404.9 647.8,405.1 648,403.7 648.2,404.7 648.4,404.6 648.6,404.9 648.9,405.1 649.1,404.3 649.3,404.2 649.5,405.8 649.7,404.1 649.9,404.5 650.1,404.1 650.3,404.4 650.5,405.6 650.7,405.5 650.9,403.4 651.1,404.5 651.3,405.6 651.5,404.4 651.7,404.9 651.9,405.9 652.1,406.2 652.3,405.8 652.5,404.5 652.7,404.8 652.9,405 653.1,404.6 653.3,404.5 653.5,406.4 653.8,405.2 654,405.6 654.2,405.9 654.4,405.5 654.6,405.3 654.8,405.4 655,406.3 655.2,405.7 655.4,404 655.6,406.1 655.8,406.6 656,405.3 656.2,405.1 656.4,405.2 656.6,406.3 656.8,404.8 657,406.1 657.2,406.3 657.4,405.9 657.6,405.5 657.8,405 658,405 658.2,405.4 658.4,404.7 658.7,405.2 658.9,404.6 659.1,406.2 659.3,406.2 659.5,404.6 659.7,406 659.9,405.3 660.1,405.1 660.3,405.3 660.5,405.3 660.7,404 660.9,406.7" fill="none" stroke="#000" stroke-width="0.7" marker-start="url(#dm)" marker-mid="url(#dm)" marker-end="url(#dm)"/>
<path d="M176.2,185 176.2,193.4 176.2,205.0" fill="none" stroke="#000" stroke-width="0.7" marker-start="url(#dmw)" marker-mid="url(#dmw)"/>
<path d="M48.3,402.6 60.6,402.5 66.9,402.2 70.6,401.5 71.8,400.9 72.6,400.2 73.2,399.2 73.8,397.5 74.6,393.1 75.5,385.4 76.7,370 77.3,365.8 77.5,365.8 77.9,368 79.5,387.7 80.6,395.7 81.2,398.2 81.8,399.6 82.8,400.7 84.2,401.4 87.5,402.1 93,402.4 98.5,402.3 100.2,402 101.2,401.7 102,401.1 102.8,399.5 104.7,391.9 105.3,390.6 105.9,391.9 107.1,397.5 108.1,400.5 108.7,401.3 109.6,401.9 112.2,402.4 120.6,402.6 137.1,402.5 147.3,402.2 154.3,401.6 158.8,400.8 162,399.7 164.5,398.2 166.5,395.8 167.6,394 168.4,391.9 169.7,386.3 170.7,377.8 171.5,364.5 172.8,322.4 174.7,219.6 175.1,209.1 175.4,205 175.7,208.2 176.2,224.9 178.3,334.3 179.2,359.8 180,375.1 181.1,386.1 181.8,389.4 182.6,392.3 183.7,394.9 185,396.8 186.7,398.4 188.6,399.4 190.4,399.8 191,399.6 191.6,399.1 192.5,397.8 193.9,394.1 194.5,393.5 195.1,394.3 196.5,398.5 197.4,400.2 198.6,401.3 200.6,401.9 205.1,402.3 212.5,402.6 223.3,402.8 229.4,402.6 230.9,402.4 232.1,401.9 233.1,401.1 234.9,399.2 235.8,398.9 236.6,399.3 238.6,401.4 239.8,402.1 242.3,402.4 245.6,402.1 246.6,401.6 247.2,401.2 247.8,400.3 248.4,398.8 249.2,395.5 250.9,385.7 251.5,383 252.1,382.1 253.7,382.1 254.3,382.6 254.7,383.7 256.6,394.5 257.6,398.9 258.6,401 259.2,401.6 260.1,402 263.3,402.5 265,402.5 266.2,402.2 267.6,401.4 269.9,398.5 270.7,398.1 271.5,398.6 273.3,401 274.3,402 275.6,402.6 277.4,402.9 287.4,403.1 300.7,402.9 306.8,402.5 310.7,401.5 312.3,400.6 313.6,399 314.4,396.8 315.2,393 316,386.7 316.6,380 318.7,352 319.1,348.6 319.5,347.4 319.9,348.6 320.3,352 322.3,380 322.9,386.6 323.8,392.9 324.6,396.7 325.4,398.8 326.6,400.3 327.4,400.8 328.5,401.1 329.9,401 331.1,399.9 332.1,397.9 333.6,393.9 334,393.1 334.4,392.9 335,393.6 336.8,398.9 338.1,401.2 338.9,402 339.7,402.4 342.8,403 349.5,403.3 360.9,403.4 368.7,403.3 372.6,402.9 374,402.4 375.2,401.4 376.2,399.9 378.3,395.7 378.7,395.2 379.1,395 379.5,395.1 379.9,395.6 381.8,399.3 382.8,400.9 383.8,401.8 384.8,402.2 386.3,402 387.5,401.1 388.5,399.7 390.5,395.6 390.9,395.1 391.4,395 391.8,395.2 392.2,395.7 394.2,399.8 395.2,401.4 396.5,402.4 398.1,403 404.4,403.3 413.8,403 419.5,402.4 421.8,401.9 423.6,401.3 425.7,400.1 427.3,398.3 428.5,396 429.5,392.8 430.6,387.8 431.4,382.2 434,359 434.6,356.1 435.3,355.2 435.9,355.6 437.1,357.5 438.1,360.5 438.9,365.3 441.6,386.4 442.6,391.7 443.6,395.4 444.9,398 446.5,400 448.7,401.4 452,402.4 457.3,403.2 465.1,403.7 479.4,404 490.8,404 493.3,403.7 494.9,403.3 496.3,402.4 498.6,400.6 499.6,400.3 500.6,400.6 504.1,403.2 505.3,403.7 506.7,403.9 510.8,404.1 517.8,404.1 522.7,403.9 526.1,403.5 528,403 529.4,402.4 530.4,401.6 531.4,400.4 532.5,398.6 533.3,396.7 535.9,388.7 536.5,387.7 537,387.6 537.4,388 537.8,388.7 540.6,397.2 541.4,399.1 542.5,400.8 543.5,401.9 544.9,402.8 546.5,403.4 548.8,403.8 553.3,404.2 560,404.5 579,404.6 582.7,404 586.6,402.2 587.8,401.9 589,402.1 593.1,404.1 596.6,404.7 611.9,404.8 617.6,404.6 621.5,404.2 623.3,403.8 624.8,403.3 626,402.5 627,401.5 628.8,398.4 631.7,391.5 632.3,390.5 632.9,390.3 633.5,390.8 634.1,391.9 636.4,397.6 637.6,400.1 639.1,402 640.7,403.3 642.9,404.1 646.6,404.7 652.1,405.1 660.9,405.3" fill="none" stroke="#e31515" stroke-width="3.5" stroke-linejoin="round"/>
<path d="M76.9,427.5V439.7M77.3,427.5V439.7M105,427.5V439.7M174.4,427.5V439.7M175.9,427.5V439.7M176.9,427.5V439.7M195.3,427.5V439.7M215.2,427.5V439.7M216.9,427.5V439.7M234.2,427.5V439.7M235.7,427.5V439.7M235.8,427.5V439.7M252.2,427.5V439.7M254.3,427.5V439.7M271,427.5V439.7M286.9,427.5V439.7M288.3,427.5V439.7M319.7,427.5V439.7M320.5,427.5V439.7M334.8,427.5V439.7M335.3,427.5V439.7" stroke="#12807e" stroke-width="1.6"/>
<path d="M365.1,427.5V439.7M366.4,427.5V439.7M367.3,427.5V439.7M378.2,427.5V439.7M380.1,427.5V439.7M380.6,427.5V439.7M381.5,427.5V439.7M392.6,427.5V439.7M395.8,427.5V439.7M434.2,427.5V439.7M435.5,427.5V439.7M437,427.5V439.7M437.3,427.5V439.7M449.4,427.5V439.7M461.3,427.5V439.7M462.3,427.5V439.7M463.2,427.5V439.7M463.4,427.5V439.7M474.4,427.5V439.7M476.2,427.5V439.7M476.5,427.5V439.7M477.3,427.5V439.7M499.8,427.5V439.7M501.9,427.5V439.7M502.7,427.5V439.7M512.8,427.5V439.7M514.6,427.5V439.7M535.5,427.5V439.7M539,427.5V439.7M541.3,427.5V439.7M547.9,427.5V439.7M550.9,427.5V439.7M560.2,427.5V439.7M565.5,427.5V439.7M572.4,427.5V439.7M574.4,427.5V439.7M575.4,427.5V439.7M576.2,427.5V439.7M576.4,427.5V439.7M577.6,427.5V439.7M584.3,427.5V439.7M586.2,427.5V439.7M587,427.5V439.7M588.3,427.5V439.7M589,427.5V439.7M589.9,427.5V439.7M598.9,427.5V439.7M608.3,427.5V439.7M613.5,427.5V439.7M632.3,427.5V439.7M634.5,427.5V439.7M635.6,427.5V439.7M636.4,427.5V439.7M643.6,427.5V439.7M644,427.5V439.7M646.9,427.5V439.7M648.1,427.5V439.7M657.4,427.5V439.7M659.1,427.5V439.7M366.5,427.5V439.7M367.8,427.5V439.7M368.7,427.5V439.7M379.6,427.5V439.7M381.5,427.5V439.7M382,427.5V439.7M383,427.5V439.7M394,427.5V439.7M397.3,427.5V439.7M435.8,427.5V439.7M437.1,427.5V439.7M438.6,427.5V439.7M438.9,427.5V439.7M451,427.5V439.7M462.9,427.5V439.7M464,427.5V439.7M464.8,427.5V439.7M465.1,427.5V439.7M476.1,427.5V439.7M478,427.5V439.7M478.2,427.5V439.7M479,427.5V439.7M501.6,427.5V439.7M503.7,427.5V439.7M504.6,427.5V439.7M514.6,427.5V439.7M516.5,427.5V439.7M537.5,427.5V439.7M541,427.5V439.7M543.2,427.5V439.7M549.9,427.5V439.7M552.9,427.5V439.7M562.3,427.5V439.7M567.6,427.5V439.7M574.5,427.5V439.7M576.5,427.5V439.7M577.5,427.5V439.7M578.3,427.5V439.7M578.5,427.5V439.7M579.7,427.5V439.7M586.5,427.5V439.7M588.3,427.5V439.7M589.1,427.5V439.7M590.5,427.5V439.7M591.1,427.5V439.7M592,427.5V439.7M601.1,427.5V439.7M610.5,427.5V439.7M615.7,427.5V439.7M634.6,427.5V439.7M636.8,427.5V439.7M638,427.5V439.7M638.7,427.5V439.7M646,427.5V439.7M646.4,427.5V439.7M649.3,427.5V439.7M650.4,427.5V439.7M659.8,427.5V439.7M661.5,427.5V439.7" stroke="#12807e" stroke-width="1.1"/>
<path d="M48.3,469.4 48.5,469.1 48.7,469.3 48.9,469.3 49.1,468.7 49.3,469.2 49.5,470.7 49.7,467.5 49.9,469.3 50.1,469.6 50.3,468.4 50.5,468.2 50.8,470.8 51,468.9 51.2,470.7 51.4,469.5 51.6,469.1 51.8,469.4 52,469.5 52.2,469.8 52.4,469.2 52.6,469 52.8,469 53,469.8 53.2,469.4 53.4,468 53.6,468.3 53.8,469 54,468.3 54.2,468.5 54.4,468.1 54.6,468.6 54.8,469.1 55,469.6 55.2,468.9 55.4,470.4 55.7,468.9 55.9,471.4 56.1,469.8 56.3,469.4 56.5,468.7 56.7,467 56.9,469 57.1,469.3 57.3,470.6 57.5,468.2 57.7,470.7 57.9,469.1 58.1,469.8 58.3,467.4 58.5,469.4 58.7,469 58.9,469.7 59.1,469.3 59.3,468.3 59.5,469.9 59.7,469.6 59.9,469.5 60.1,469.8 60.3,469.8 60.6,469 60.8,467.9 61,467.9 61.2,469.9 61.4,469.4 61.6,468.9 61.8,468.5 62,468.8 62.2,468.8 62.4,468.5 62.6,468.3 62.8,470.4 63,469 63.2,468.4 63.4,467.9 63.6,468.3 63.8,469.5 64,469.5 64.2,468.8 64.4,469 64.6,468.8 64.8,468.2 65,470.1 65.2,469.4 65.5,471 65.7,468.6 65.9,469 66.1,469.8 66.3,469 66.5,468.1 66.7,468.4 66.9,469.2 67.1,469.4 67.3,469 67.5,469.8 67.7,469.8 67.9,469.3 68.1,469 68.3,468.8 68.5,469.3 68.7,469.6 68.9,468.9 69.1,469.2 69.3,468.6 69.5,467.8 69.7,468.1 69.9,469.4 70.1,469.1 70.4,470 70.6,468.9 70.8,469.5 71,469.8 71.2,469.6 71.4,468.4 71.6,468.8 71.8,469 72,468.2 72.2,469.4 72.4,469.8 72.6,468.7 72.8,470.6 73,468.9 73.2,469 73.4,469 73.6,468.7 73.8,469.5 74,469.2 74.2,470.4 74.4,469.7 74.6,469.6 74.8,469 75.1,468.1 75.3,469.1 75.5,468.5 75.7,469.8 75.9,469 76.1,470.3 76.3,469.5 76.5,469.6 76.7,469.1 76.9,469.1 77.1,469.4 77.3,469.6 77.5,468.3 77.7,469.2 77.9,470.8 78.1,468.8 78.3,468.6 78.5,468.3 78.7,467.8 78.9,469.8 79.1,468.9 79.3,469.1 79.5,470.3 79.7,470.8 80,468.3 80.2,469.8 80.4,469.5 80.6,469.4 80.8,469.5 81,469.1 81.2,470.4 81.4,469.6 81.6,469.5 81.8,470.1 82,469.9 82.2,469.6 82.4,469.5 82.6,470.5 82.8,469.6 83,469.1 83.2,468.5 83.4,468.9 83.6,468.3 83.8,469.1 84,469.2 84.2,467.4 84.4,469 84.6,469.4 84.9,469 85.1,468.1 85.3,469.8 85.5,468.3 85.7,467.9 85.9,468 86.1,468.8 86.3,469.5 86.5,469.6 86.7,468.9 86.9,467.9 87.1,468.3 87.3,468.1 87.5,468.7 87.7,467.5 87.9,469 88.1,469.4 88.3,468.8 88.5,469.3 88.7,468.3 88.9,468 89.1,468.6 89.3,470 89.5,469.9 89.8,468.8 90,470.1 90.2,468.9 90.4,470.3 90.6,469.5 90.8,468.8 91,469.8 91.2,468.6 91.4,468.4 91.6,468 91.8,469.3 92,469 92.2,469 92.4,468.7 92.6,470.1 92.8,468.6 93,468.4 93.2,469.9 93.4,470 93.6,469.1 93.8,467.6 94,468.4 94.2,469.3 94.4,468.9 94.7,470 94.9,467.9 95.1,469.4 95.3,468.4 95.5,469.9 95.7,468.9 95.9,469.7 96.1,468.5 96.3,468 96.5,468.2 96.7,468.6 96.9,468.3 97.1,470 97.3,470.1 97.5,469.3 97.7,468.4 97.9,469.1 98.1,468.6 98.3,470.3 98.5,469.4 98.7,469.5 98.9,468.8 99.1,467.6 99.3,468.5 99.6,468.3 99.8,469.4 100,469.1 100.2,468.4 100.4,468.7 100.6,470.2 100.8,468.2 101,468.3 101.2,468.8 101.4,468.4 101.6,468.6 101.8,469.3 102,470.2 102.2,467.6 102.4,468.9 102.6,468.9 102.8,468.8 103,468.8 103.2,468.7 103.4,469.7 103.6,468.6 103.8,468.9 104,469 104.3,469.1 104.5,468.9 104.7,469.8 104.9,469 105.1,469.2 105.3,469 105.5,468.3 105.7,468.4 105.9,468.3 106.1,469.2 106.3,468.5 106.5,468.2 106.7,469.2 106.9,469.4 107.1,467.7 107.3,470.2 107.5,469 107.7,468.8 107.9,469.7 108.1,468.9 108.3,468.4 108.5,470.5 108.7,468 108.9,468.8 109.2,469.5 109.4,468 109.6,468.8 109.8,469.1 110,470.7 110.2,468.2 110.4,468.9 110.6,469.4 110.8,469 111,468.1 111.2,469.3 111.4,469.1 111.6,469.4 111.8,469.9 112,469.9 112.2,469.4 112.4,469.4 112.6,468.4 112.8,469.1 113,469.4 113.2,468.9 113.4,469.3 113.6,468.6 113.8,470.4 114.1,470.8 114.3,468.9 114.5,469.5 114.7,469 114.9,470.1 115.1,469.4 115.3,469.1 115.5,468.9 115.7,469.1 115.9,468.2 116.1,469.4 116.3,468.4 116.5,469.3 116.7,469 116.9,469.7 117.1,468.8 117.3,469.6 117.5,468.1 117.7,469.3 117.9,468.6 118.1,469 118.3,468.9 118.5,469.6 118.7,467.4 119,469.2 119.2,467.8 119.4,469.9 119.6,467.5 119.8,468.3 120,467.8 120.2,470.3 120.4,468.2 120.6,469.2 120.8,468.8 121,467.8 121.2,469 121.4,469.7 121.6,469.1 121.8,469.9 122,468.9 122.2,469.2 122.4,468.9 122.6,469.4 122.8,470.5 123,469.3 123.2,469.2 123.4,468.5 123.6,468.4 123.9,470 124.1,468 124.3,468.1 124.5,468.7 124.7,468.4 124.9,470.2 125.1,466.9 125.3,469 125.5,469.2 125.7,467.8 125.9,468.2 126.1,469 126.3,469.9 126.5,468 126.7,467.6 126.9,469.5 127.1,470 127.3,468.6 127.5,467.2 127.7,470 127.9,468.8 128.1,469.9 128.3,469 128.6,468.8 128.8,468.8 129,470.3 129.2,470.3 129.4,467.6 129.6,468.6 129.8,470.6 130,469 130.2,468.3 130.4,469.3 130.6,469.2 130.8,469.2 131,468.9 131.2,469 131.4,468.8 131.6,469.4 131.8,468.5 132,468.9 132.2,468.9 132.4,470 132.6,469.2 132.8,468.8 133,469.3 133.2,469.2 133.5,469.7 133.7,469.2 133.9,470.2 134.1,469.8 134.3,468.8 134.5,468.5 134.7,469.5 134.9,469.2 135.1,468.8 135.3,467.8 135.5,467.5 135.7,469.2 135.9,469.5 136.1,469.6 136.3,468.1 136.5,469.8 136.7,468.7 136.9,469.4 137.1,469.4 137.3,468.6 137.5,468.7 137.7,467.6 137.9,468.5 138.1,467.8 138.4,469.5 138.6,469.2 138.8,469.9 139,469.4 139.2,468.7 139.4,469.4 139.6,468.8 139.8,469.5 140,469.2 140.2,468.2 140.4,468.9 140.6,468.9 140.8,468.6 141,469.5 141.2,470.1 141.4,468.5 141.6,468.5 141.8,467.1 142,468.6 142.2,468.4 142.4,467.1 142.6,469 142.8,469.2 143,468.2 143.3,468.5 143.5,468.1 143.7,469.4 143.9,467.7 144.1,468.7 144.3,470.4 144.5,469 144.7,469.3 144.9,468.9 145.1,468.2 145.3,469.1 145.5,469.4 145.7,468.4 145.9,469.4 146.1,470.1 146.3,470 146.5,468 146.7,468.4 146.9,467.9 147.1,470 147.3,469.6 147.5,469.6 147.7,468.4 147.9,468.2 148.2,469.1 148.4,469.1 148.6,468.4 148.8,469.1 149,469.4 149.2,469.1 149.4,468.1 149.6,467.3 149.8,468.7 150,469 150.2,468.7 150.4,468.6 150.6,468.4 150.8,469.4 151,468.9 151.2,469 151.4,468.2 151.6,468.5 151.8,469.1 152,468.2 152.2,468.1 152.4,468.8 152.6,470 152.9,469.2 153.1,470.2 153.3,469 153.5,468.9 153.7,468.1 153.9,468.7 154.1,470.2 154.3,469.4 154.5,469.7 154.7,469.7 154.9,469.1 155.1,469 155.3,469.2 155.5,469.6 155.7,469.4 155.9,469.4 156.1,469.1 156.3,468.4 156.5,468.7 156.7,468.2 156.9,469.6 157.1,467.2 157.3,468.6 157.5,470.6 157.8,468.5 158,467.9 158.2,468.7 158.4,469.7 158.6,468.6 158.8,469.2 159,468.8 159.2,468.5 159.4,471.1 159.6,468.8 159.8,468.4 160,468.5 160.2,469.2 160.4,469.2 160.6,469.5 160.8,469.1 161,467.9 161.2,469.4 161.4,468.8 161.6,468.8 161.8,467.9 162,468.6 162.2,468.5 162.4,469.1 162.7,468 162.9,469.1 163.1,469.2 163.3,468.2 163.5,468.6 163.7,468.4 163.9,469.7 164.1,467.1 164.3,468.7 164.5,467.7 164.7,468.6 164.9,469.5 165.1,468.4 165.3,468.9 165.5,468.2 165.7,470.2 165.9,469.4 166.1,469.6 166.3,467.7 166.5,467.9 166.7,469.5 166.9,468.6 167.1,468.5 167.3,469 167.6,467.8 167.8,469.3 168,468.8 168.2,469.2 168.4,468.3 168.6,469.2 168.8,468.3 169,469.6 169.2,469.7 169.4,469.6 169.6,469.3 169.8,469.4 170,466.9 170.2,469.5 170.4,468.7 170.6,468.9 170.8,468.6 171,467.7 171.2,468.3 171.4,469.1 171.6,469.6 171.8,468 172,467.6 172.2,469.2 172.5,467.3 172.7,469.3 172.9,467.5 173.1,466.5 173.3,467.5 173.5,467.6 173.7,464.7 173.9,466.2 174.1,463.7 174.3,463.3 174.5,459.4 174.7,455.1 174.9,452.8 175.1,449.6 175.3,448.9 175.5,450.3 175.7,455 175.9,459.8 176.1,459.5 176.3,458.4 176.5,458.1 176.7,459 176.9,457.8 177.2,460.3 177.4,460.7 177.6,463.2 177.8,462.5 178,462.2 178.2,463.6 178.4,462.9 178.6,464 178.8,463.6 179,466.6 179.2,466.5 179.4,465.6 179.6,466.8 179.8,467.9 180,467.8 180.2,468 180.4,467.2 180.6,467.6 180.8,468.2 181,469 181.2,467.7 181.4,467.6 181.6,469.3 181.8,467.8 182.1,469.3 182.3,468.7 182.5,469.2 182.7,469.9 182.9,469.1 183.1,469.2 183.3,468 183.5,468.2 183.7,469.2 183.9,469.9 184.1,469.8 184.3,470.5 184.5,469 184.7,469 184.9,469.6 185.1,468.9 185.3,468.9 185.5,468.1 185.7,469.7 185.9,468.2 186.1,469.4 186.3,467.9 186.5,469.8 186.7,468.2 187,469.7 187.2,467.8 187.4,468.7 187.6,469.9 187.8,468.4 188,469.1 188.2,468.6 188.4,467.3 188.6,469.2 188.8,469.3 189,468.1 189.2,469.4 189.4,468.3 189.6,468.1 189.8,468.9 190,468.4 190.2,470.6 190.4,467.7 190.6,469.4 190.8,469.6 191,467.4 191.2,467.6 191.4,469.3 191.6,468.5 191.9,469.2 192.1,469.7 192.3,468.6 192.5,468.1 192.7,466.9 192.9,469.1 193.1,468.3 193.3,469.2 193.5,469.2 193.7,468 193.9,470.3 194.1,469.8 194.3,469.7 194.5,468.2 194.7,468.7 194.9,468.6 195.1,468.7 195.3,468.2 195.5,469.4 195.7,469.2 195.9,469.3 196.1,468.6 196.3,469.9 196.5,469.1 196.8,466.9 197,468.4 197.2,468.9 197.4,469.6 197.6,468.6 197.8,468.7 198,468.3 198.2,469.3 198.4,468.5 198.6,468.4 198.8,468.3 199,469.2 199.2,468.4 199.4,467.6 199.6,469.3 199.8,468.3 200,469.2 200.2,469.2 200.4,469.8 200.6,469.7 200.8,468.5 201,468.9 201.2,468 201.4,470.3 201.7,469.4 201.9,470.1 202.1,468.9 202.3,467.6 202.5,470.3 202.7,469.2 202.9,469.2 203.1,469.2 203.3,469.6 203.5,469.5 203.7,467.9 203.9,469.9 204.1,468.7 204.3,468.7 204.5,470.4 204.7,469.7 204.9,468.8 205.1,467.6 205.3,469.1 205.5,469.4 205.7,468.9 205.9,468 206.1,468.3 206.4,468 206.6,469 206.8,469.5 207,469.6 207.2,468.3 207.4,469 207.6,469.3 207.8,468.5 208,468.8 208.2,470.5 208.4,469.1 208.6,469.6 208.8,468.6 209,469 209.2,467.7 209.4,469 209.6,469.9 209.8,470.6 210,470 210.2,469.6 210.4,469.1 210.6,468.7 210.8,469 211,469.6 211.3,468.5 211.5,469.8 211.7,468.4 211.9,467.8 212.1,468.3 212.3,467.8 212.5,468 212.7,469.9 212.9,468.9 213.1,469.2 213.3,469.9 213.5,469.9 213.7,468.6 213.9,469.9 214.1,469.2 214.3,468.9 214.5,469.2 214.7,467.8 214.9,468.3 215.1,468.8 215.3,469.3 215.5,468.6 215.7,468.7 215.9,469.6 216.2,469.9 216.4,469.4 216.6,469.8 216.8,468.6 217,468.7 217.2,469.2 217.4,468.7 217.6,468.6 217.8,470.2 218,468.9 218.2,468.3 218.4,469.4 218.6,470.4 218.8,469.1 219,470 219.2,468.8 219.4,468.7 219.6,468.6 219.8,469 220,470.5 220.2,468.2 220.4,470.3 220.6,468.3 220.8,468.9 221.1,469.6 221.3,469.5 221.5,469.2 221.7,467.7 221.9,469.2 222.1,468.2 222.3,470.9 222.5,468.8 222.7,469.1 222.9,468.1 223.1,468.6 223.3,467.9 223.5,469.7 223.7,468.7 223.9,469.4 224.1,468.4 224.3,468.6 224.5,469.9 224.7,468.3 224.9,467.7 225.1,469.3 225.3,468.2 225.5,468.7 225.7,469.8 226,468.5 226.2,469.8 226.4,468.6 226.6,470.3 226.8,470.1 227,468.8 227.2,469 227.4,468.5 227.6,469.3 227.8,470 228,468 228.2,469.8 228.4,468.1 228.6,468.4 228.8,467.7 229,470.6 229.2,469 229.4,469.1 229.6,468.4 229.8,469.7 230,467.3 230.2,468.9 230.4,470.5 230.7,468.6 230.9,468.9 231.1,469.4 231.3,468.2 231.5,468.9 231.7,469.6 231.9,469 232.1,469.2 232.3,468.7 232.5,469.2 232.7,469 232.9,470.1 233.1,469.6 233.3,468.8 233.5,467.2 233.7,469.6 233.9,469.7 234.1,468.4 234.3,467.6 234.5,468.3 234.7,469.8 234.9,468.3 235.1,468.8 235.3,469.3 235.6,470 235.8,469.1 236,469 236.2,468.6 236.4,470.2 236.6,469.8 236.8,468.9 237,467.9 237.2,468.3 237.4,469.3 237.6,468.3 237.8,469.5 238,469.1 238.2,469 238.4,469.3 238.6,469.1 238.8,468.1 239,468.5 239.2,470.5 239.4,467.9 239.6,468.4 239.8,469.6 240,468.7 240.2,468.3 240.5,467.9 240.7,469.4 240.9,469.8 241.1,470.1 241.3,469.1 241.5,469.9 241.7,468.4 241.9,469.3 242.1,468.7 242.3,469.4 242.5,469.8 242.7,470.1 242.9,468.5 243.1,470.2 243.3,468.9 243.5,468.5 243.7,469.1 243.9,468.2 244.1,469.2 244.3,469.4 244.5,469 244.7,469.5 244.9,468.9 245.1,469.1 245.4,467.9 245.6,469 245.8,468.3 246,468.6 246.2,468.8 246.4,469 246.6,467.6 246.8,467.6 247,468.5 247.2,469.1 247.4,469 247.6,469.4 247.8,469.7 248,469.2 248.2,468.8 248.4,468.1 248.6,468.2 248.8,468.5 249,469.1 249.2,469.1 249.4,469 249.6,468.9 249.8,469.6 250,469.3 250.3,469.4 250.5,469.4 250.7,468.8 250.9,468.4 251.1,469.6 251.3,469.5 251.5,469.1 251.7,468.9 251.9,470.9 252.1,468.6 252.3,469 252.5,469.3 252.7,468.2 252.9,469.1 253.1,470.4 253.3,469.7 253.5,469.4 253.7,469.3 253.9,468.9 254.1,469.5 254.3,468.7 254.5,468.4 254.7,468.8 255,469.4 255.2,468.9 255.4,469.2 255.6,467.2 255.8,469.6 256,470.5 256.2,469.7 256.4,468.5 256.6,468.1 256.8,469 257,468.1 257.2,469.4 257.4,468.5 257.6,469.7 257.8,470 258,467.5 258.2,469.3 258.4,468.6 258.6,468.1 258.8,468.7 259,469.1 259.2,470 259.4,468.1 259.6,470.1 259.9,470.8 260.1,469.7 260.3,469.7 260.5,469.2 260.7,468.3 260.9,469.6 261.1,469.5 261.3,469.7 261.5,471 261.7,469.6 261.9,469.4 262.1,470.2 262.3,468 262.5,468.1 262.7,468.6 262.9,468.4 263.1,469.4 263.3,468.6 263.5,470.1 263.7,470 263.9,469.4 264.1,468.5 264.3,469.3 264.5,469.5 264.8,468.1 265,469.2 265.2,469.5 265.4,469.1 265.6,470.2 265.8,469.9 266,468.4 266.2,469.2 266.4,468.5 266.6,469.6 266.8,468.5 267,469.9 267.2,469.5 267.4,469.9 267.6,469.1 267.8,468.1 268,470.5 268.2,469 268.4,470.2 268.6,469.4 268.8,469.6 269,470.4 269.2,469.3 269.4,470 269.7,467.8 269.9,469.6 270.1,468.7 270.3,468.7 270.5,468.8 270.7,469.1 270.9,470 271.1,467.4 271.3,468.8 271.5,468.2 271.7,469.6 271.9,468.4 272.1,469.1 272.3,468.5 272.5,469.3 272.7,469.6 272.9,468.5 273.1,468.9 273.3,467.8 273.5,469.2 273.7,469.6 273.9,468.6 274.1,469.9 274.3,467.5 274.6,467.7 274.8,468.1 275,468.8 275.2,469.2 275.4,469.1 275.6,469.2 275.8,469.8 276,468.9 276.2,468.3 276.4,468.3 276.6,470.8 276.8,467.4 277,469 277.2,470.2 277.4,469.4 277.6,468.4 277.8,469 278,469.6 278.2,469.9 278.4,468.3 278.6,469.5 278.8,469.1 279,469.7 279.3,469.9 279.5,468.6 279.7,467.8 279.9,469.1 280.1,470.2 280.3,469.4 280.5,469.1 280.7,470.7 280.9,468.1 281.1,469.6 281.3,468.6 281.5,469 281.7,469.1 281.9,470.2 282.1,468.4 282.3,468.7 282.5,468 282.7,469.5 282.9,468.9 283.1,469.5 283.3,468.4 283.5,469 283.7,470 283.9,469.1 284.2,469.7 284.4,469.6 284.6,468.9 284.8,468 285,469.9 285.2,469.2 285.4,469.8 285.6,467.5 285.8,467.7 286,467.3 286.2,468.3 286.4,469.7 286.6,469.3 286.8,468.8 287,468.9 287.2,469.3 287.4,468.5 287.6,469 287.8,468.8 288,467.1 288.2,468.5 288.4,469.8 288.6,468.5 288.8,468.7 289.1,468.3 289.3,468.5 289.5,469.7 289.7,468.7 289.9,468.2 290.1,466.6 290.3,468.6 290.5,467.5 290.7,467.7 290.9,469.7 291.1,469.6 291.3,467.7 291.5,469.8 291.7,469.5 291.9,468.6 292.1,469.7 292.3,467.9 292.5,468.2 292.7,468 292.9,468.3 293.1,469.8 293.3,468.1 293.5,468.2 293.7,468.3 294,469.2 294.2,468.7 294.4,469.6 294.6,468.4 294.8,468 295,468.5 295.2,468.9 295.4,468.2 295.6,469.1 295.8,470.3 296,468.5 296.2,468.9 296.4,469.9 296.6,468.4 296.8,468.3 297,468.1 297.2,469.3 297.4,469.4 297.6,468.9 297.8,469.1 298,470 298.2,469.7 298.4,468 298.6,469.1 298.9,469.2 299.1,469.7 299.3,469 299.5,468.6 299.7,468.8 299.9,467.8 300.1,469.1 300.3,468.7 300.5,469.5 300.7,468.3 300.9,468.7 301.1,468.3 301.3,468.2 301.5,469.5 301.7,468.6 301.9,469.3 302.1,468.1 302.3,469 302.5,467.6 302.7,468.5 302.9,468.5 303.1,469.3 303.3,469 303.5,468.7 303.8,469.5 304,469 304.2,469.3 304.4,469.4 304.6,468.8 304.8,468.7 305,469.1 305.2,468.6 305.4,469.2 305.6,469.8 305.8,469.6 306,468.7 306.2,468 306.4,468.9 306.6,468.9 306.8,469.8 307,468.7 307.2,468.8 307.4,469.5 307.6,468.6 307.8,468.9 308,470.3 308.2,470.1 308.5,469.4 308.7,469.1 308.9,468.2 309.1,469.3 309.3,468.9 309.5,469 309.7,468.4 309.9,468.8 310.1,468.7 310.3,469 310.5,469.9 310.7,469.1 310.9,467.5 311.1,468.1 311.3,467.6 311.5,468.2 311.7,469.2 311.9,469.1 312.1,468.4 312.3,469.1 312.5,468.3 312.7,467.9 312.9,467.9 313.1,468.3 313.4,470.1 313.6,468 313.8,470 314,470.1 314.2,468.9 314.4,469.1 314.6,468.6 314.8,469.1 315,469.6 315.2,469.1 315.4,469.8 315.6,469.9 315.8,469.2 316,469.2 316.2,468.8 316.4,469 316.6,467.8 316.8,468.8 317,468.5 317.2,467.5 317.4,469.5 317.6,466.9 317.8,466.7 318,467.3 318.3,465.3 318.5,465.9 318.7,465.1 318.9,465.3 319.1,465.8 319.3,466 319.5,466.6 319.7,466.5 319.9,466.9 320.1,466.7 320.3,466.2 320.5,467.7 320.7,466.7 320.9,466.9 321.1,468.8 321.3,468.5 321.5,468.3 321.7,468.9 321.9,469.2 322.1,467.6 322.3,468.7 322.5,468 322.7,469 322.9,468.5 323.2,470 323.4,469.4 323.6,468.4 323.8,469 324,468.1 324.2,469.1 324.4,469.4 324.6,469.2 324.8,467.5 325,468.7 325.2,469.3 325.4,469.1 325.6,469.7 325.8,467.8 326,469.2 326.2,468.2 326.4,468.9 326.6,469 326.8,469.2 327,468.2 327.2,468.8 327.4,467.8 327.6,467.6 327.8,469.1 328.1,468.6 328.3,467.5 328.5,468.1 328.7,468.8 328.9,469.9 329.1,469.6 329.3,469.5 329.5,467.6 329.7,468.9 329.9,469.3 330.1,469.3 330.3,469.4 330.5,468.9 330.7,470.4 330.9,470.2 331.1,469.1 331.3,468.4 331.5,470.7 331.7,468.8 331.9,470.1 332.1,470.6 332.3,468.5 332.5,469.4 332.8,468.9 333,469.5 333.2,469.3 333.4,470.5 333.6,469.5 333.8,469 334,469.8 334.2,468.7 334.4,468.6 334.6,470.5 334.8,468.2 335,468.5 335.2,468.8 335.4,468 335.6,467.2 335.8,469.6 336,468.2 336.2,468.4 336.4,468.5 336.6,468.1 336.8,468 337,469 337.2,470.7 337.4,469.4 337.7,469.5 337.9,467.8 338.1,468.9 338.3,468.1 338.5,469.6 338.7,468.9 338.9,469.1 339.1,469 339.3,468.7 339.5,468 339.7,469.5 339.9,468.1 340.1,468.2 340.3,468.9 340.5,468.6 340.7,469.3 340.9,469.8 341.1,469.2 341.3,469.2 341.5,469 341.7,469.6 341.9,467.6 342.1,469.2 342.3,468.2 342.6,467.9 342.8,468.9 343,468.5 343.2,469.2 343.4,469.6 343.6,467 343.8,468.7 344,470.2 344.2,469.4 344.4,469.9 344.6,468.9 344.8,467.7 345,468 345.2,469.4 345.4,469.6 345.6,468.3 345.8,468.7 346,469.1 346.2,467.6 346.4,468.7 346.6,470.2 346.8,470.6 347,468.9 347.2,470.4 347.5,468.6 347.7,468.4 347.9,467.4 348.1,469.8 348.3,468.8 348.5,470.8 348.7,469.3 348.9,469.2 349.1,467.7 349.3,470.1 349.5,468.7 349.7,468.8 349.9,467.3 350.1,469.6 350.3,469.6 350.5,468.4 350.7,468.9 350.9,469.1 351.1,469.6 351.3,468.9 351.5,470.1 351.7,468.6 351.9,468.4 352.1,468.5 352.4,466.9 352.6,468.3 352.8,469.6 353,469.1 353.2,468.3 353.4,469.2 353.6,467.4 353.8,468.8 354,469.4 354.2,469.6 354.4,468.5 354.6,469.8 354.8,470.5 355,468.8 355.2,469.7 355.4,468 355.6,467.7 355.8,469.6 356,469.2 356.2,469.3 356.4,468.7 356.6,468.9 356.8,469.7 357.1,470.3 357.3,468.9 357.5,467.8 357.7,469.9 357.9,469.4 358.1,469.4 358.3,469 358.5,470.6 358.7,468.9 358.9,469.2 359.1,467.4 359.3,468.3 359.5,468.3 359.7,468.7 359.9,469 360.1,468.2 360.3,470.1 360.5,468 360.7,468.4 360.9,469 361.1,467.9 361.3,469.3 361.5,469.3 361.7,468.7 362,470.3 362.2,469 362.4,469.2 362.6,468.3 362.8,467.8 363,468.6 363.2,468.8 363.4,468.7 363.6,469.7 363.8,467.3 364,468.2 364.2,467.7 364.4,470.1 364.6,468.6 364.8,468.7 365,468.2 365.2,469.7 365.4,468.7 365.6,469.1 365.8,467.4 366,469.8 366.2,469.2 366.4,469.2 366.6,469.7 366.9,468.6 367.1,468.6 367.3,469.3 367.5,469 367.7,468.5 367.9,468.7 368.1,468.3 368.3,469.2 368.5,469.4 368.7,468.7 368.9,470.1 369.1,467.5 369.3,468.5 369.5,470 369.7,468.4 369.9,467.6 370.1,469.8 370.3,469.2 370.5,467.9 370.7,469.4 370.9,468.1 371.1,467.9 371.3,468.8 371.5,468.5 371.8,468.1 372,468.6 372.2,468.1 372.4,468.9 372.6,468.8 372.8,469.3 373,468.4 373.2,467.7 373.4,467.6 373.6,468.4 373.8,469.6 374,469 374.2,467.8 374.4,468.9 374.6,467.3 374.8,468.8 375,467.7 375.2,468.4 375.4,468.2 375.6,467.5 375.8,467.8 376,466.7 376.2,467.4 376.4,468.2 376.7,470.3 376.9,467.7 377.1,467.2 377.3,466.3 377.5,467.8 377.7,465.8 377.9,466.4 378.1,467.2 378.3,466 378.5,468.1 378.7,467.8 378.9,466.5 379.1,466.6 379.3,466 379.5,466 379.7,467.4 379.9,467.6 380.1,467.4 380.3,467.4 380.5,466.8 380.7,467.6 380.9,466.3 381.1,467.4 381.4,468.6 381.6,468.5 381.8,467.2 382,467.4 382.2,468.7 382.4,469.1 382.6,466.7 382.8,467.5 383,468 383.2,468.8 383.4,467.3 383.6,468.5 383.8,467.8 384,469.9 384.2,468.4 384.4,468 384.6,467.9 384.8,469 385,468.8 385.2,467.5 385.4,468.5 385.6,467.4 385.8,467.9 386,467.5 386.3,467.5 386.5,468.1 386.7,467.9 386.9,469.1 387.1,469.3 387.3,468.6 387.5,468 387.7,469.5 387.9,467.4 388.1,467.5 388.3,469.5 388.5,469.5 388.7,469.7 388.9,468.8 389.1,468.1 389.3,468.6 389.5,469.4 389.7,468.4 389.9,468.5 390.1,468 390.3,468.1 390.5,469.6 390.7,469.3 390.9,468.1 391.2,468.1 391.4,468.5 391.6,469.3 391.8,468 392,468.8 392.2,467.3 392.4,467.9 392.6,469.2 392.8,469.6 393,468 393.2,468.3 393.4,469.5 393.6,468.6 393.8,468.5 394,469.3 394.2,469.1 394.4,469.8 394.6,469.5 394.8,468.5 395,468.9 395.2,468.9 395.4,468 395.6,468.3 395.8,469.8 396.1,467.8 396.3,469.8 396.5,469.3 396.7,468.9 396.9,469.4 397.1,469.4 397.3,469.9 397.5,468.7 397.7,468.8 397.9,468.8 398.1,470.4 398.3,469.6 398.5,468.2 398.7,468.6 398.9,468.3 399.1,468.9 399.3,469 399.5,470.5 399.7,467.4 399.9,469.6 400.1,469.1 400.3,468.2 400.5,468.6 400.7,468.4 401,468.8 401.2,469.5 401.4,467.6 401.6,469.8 401.8,468.5 402,470 402.2,469.2 402.4,469.8 402.6,469.3 402.8,469.7 403,469 403.2,468.4 403.4,469.5 403.6,469.6 403.8,470.6 404,467.6 404.2,468.9 404.4,469.9 404.6,468.2 404.8,468.9 405,470.7 405.2,470.2 405.4,468.4 405.6,470.2 405.9,470 406.1,469.7 406.3,469.3 406.5,469.2 406.7,468.4 406.9,468.6 407.1,469.5 407.3,469.1 407.5,470.3 407.7,468.7 407.9,467.1 408.1,468.6 408.3,469.1 408.5,469.2 408.7,468.9 408.9,468.3 409.1,470 409.3,468.4 409.5,469.4 409.7,468.7 409.9,468 410.1,470 410.3,467.1 410.6,468.4 410.8,469.3 411,468.8 411.2,469.6 411.4,469 411.6,468.8 411.8,470.8 412,469 412.2,469 412.4,468.4 412.6,468.6 412.8,469.7 413,469.6 413.2,469.2 413.4,468.6 413.6,469.7 413.8,467.9 414,468.9 414.2,468.9 414.4,468.4 414.6,469.2 414.8,468.5 415,468.4 415.2,470.3 415.5,469.5 415.7,469.8 415.9,468.9 416.1,469.6 416.3,469.4 416.5,469.7 416.7,470.6 416.9,468.6 417.1,469 417.3,468.7 417.5,466.2 417.7,467.8 417.9,468.8 418.1,469.3 418.3,468.4 418.5,469.7 418.7,469.9 418.9,468.6 419.1,470 419.3,470.3 419.5,469.3 419.7,468.3 419.9,470.1 420.1,468.9 420.4,468.8 420.6,469.2 420.8,468.7 421,469.9 421.2,469.7 421.4,470 421.6,469.6 421.8,468.5 422,469 422.2,469.8 422.4,468.8 422.6,471.3 422.8,468.9 423,468.6 423.2,469.9 423.4,469.6 423.6,469 423.8,468.8 424,469.3 424.2,469.6 424.4,469.6 424.6,468.8 424.8,469.3 425,469.6 425.3,469.6 425.5,466.7 425.7,468.3 425.9,468.5 426.1,468.9 426.3,469.2 426.5,469.8 426.7,469.6 426.9,469 427.1,469.2 427.3,470.5 427.5,468.7 427.7,469.5 427.9,470.4 428.1,469.5 428.3,467.7 428.5,469.6 428.7,469 428.9,469.2 429.1,470.1 429.3,469.7 429.5,469.1 429.7,470 429.9,469.6 430.2,469.4 430.4,469.6 430.6,469.5 430.8,469.1 431,469.1 431.2,469.5 431.4,468.8 431.6,468.7 431.8,470.7 432,469.7 432.2,470 432.4,470.2 432.6,470.5 432.8,470.8 433,471.1 433.2,470.8 433.4,472.4 433.6,471.5 433.8,473.2 434,471.3 434.2,472.3 434.4,474.1 434.6,473.5 434.9,473.4 435.1,474.3 435.3,473.3 435.5,474.1 435.7,472.3 435.9,473.4 436.1,473 436.3,473.7 436.5,473.6 436.7,472 436.9,473.5 437.1,471.5 437.3,470 437.5,469.5 437.7,472.1 437.9,470.6 438.1,469.9 438.3,469.6 438.5,469.1 438.7,470.8 438.9,469.5 439.1,470.8 439.3,469.2 439.5,467.5 439.8,469.8 440,468.8 440.2,468.9 440.4,470.2 440.6,468.8 440.8,469.9 441,469 441.2,468.4 441.4,469.4 441.6,468.6 441.8,470 442,469.8 442.2,469.2 442.4,469.6 442.6,469.6 442.8,469 443,469.9 443.2,469.1 443.4,469.8 443.6,468.6 443.8,469.4 444,469.7 444.2,468.8 444.4,469.1 444.7,469 444.9,469.9 445.1,468.8 445.3,469.7 445.5,470.5 445.7,469.5 445.9,468 446.1,469.3 446.3,469.9 446.5,468.9 446.7,469.9 446.9,469.5 447.1,469.3 447.3,468.7 447.5,468.5 447.7,468.7 447.9,468.9 448.1,469.2 448.3,469.1 448.5,468.5 448.7,468.8 448.9,469.1 449.1,467.6 449.3,468.2 449.6,468.2 449.8,468.7 450,468.7 450.2,468.7 450.4,468.3 450.6,469.5 450.8,469.2 451,467.8 451.2,469.1 451.4,468.3 451.6,470.5 451.8,468.9 452,468.9 452.2,469.3 452.4,469.1 452.6,469.2 452.8,470.5 453,469.5 453.2,469.9 453.4,470.1 453.6,468.5 453.8,470.5 454,469.7 454.2,469.9 454.5,468.5 454.7,469.7 454.9,469.3 455.1,468.6 455.3,470.6 455.5,469.3 455.7,468.7 455.9,468.9 456.1,469.5 456.3,469.6 456.5,469.2 456.7,469.6 456.9,469.8 457.1,467.8 457.3,468.3 457.5,468 457.7,468.8 457.9,469.8 458.1,469.3 458.3,468 458.5,468.7 458.7,469.7 458.9,468.6 459.2,468.9 459.4,469.3 459.6,467.7 459.8,469.7 460,469.5 460.2,469.7 460.4,468.5 460.6,468.7 460.8,468.9 461,469.5 461.2,469.4 461.4,469.4 461.6,470.7 461.8,470.3 462,468.8 462.2,468.8 462.4,470.5 462.6,469 462.8,470.2 463,470.3 463.2,468.7 463.4,468.8 463.6,469.1 463.8,468.3 464.1,468.2 464.3,468.6 464.5,469.5 464.7,468.5 464.9,468.7 465.1,468.5 465.3,467.8 465.5,469.9 465.7,467.1 465.9,468.3 466.1,469.3 466.3,467.8 466.5,469.3 466.7,469.9 466.9,468.3 467.1,469.1 467.3,468.2 467.5,469.4 467.7,469.1 467.9,469.3 468.1,470.2 468.3,469.5 468.5,470.2 468.7,469.7 469,468.3 469.2,469.4 469.4,469.6 469.6,468.1 469.8,470.2 470,469.3 470.2,469.5 470.4,468.5 470.6,469.2 470.8,469.3 471,468.8 471.2,469.1 471.4,467.4 471.6,470 471.8,468.1 472,467.3 472.2,468.2 472.4,468.2 472.6,469.2 472.8,468.1 473,469 473.2,468.1 473.4,470.4 473.6,469.2 473.9,470.3 474.1,468.1 474.3,469.3 474.5,468.1 474.7,469.3 474.9,469.4 475.1,467.8 475.3,468.1 475.5,468.1 475.7,467.9 475.9,468.5 476.1,468.4 476.3,468 476.5,469.2 476.7,469.6 476.9,468.2 477.1,468.8 477.3,469.2 477.5,469 477.7,468.7 477.9,469.8 478.1,469.8 478.3,469.6 478.5,469 478.8,470.6 479,470.4 479.2,468.7 479.4,468.9 479.6,469.9 479.8,468.4 480,469.2 480.2,468.9 480.4,468.4 480.6,468.7 480.8,467.7 481,468.4 481.2,467.4 481.4,470.6 481.6,470 481.8,469.8 482,469.1 482.2,469.7 482.4,469.9 482.6,469.7 482.8,469.7 483,468.3 483.2,469.4 483.5,468.7 483.7,468.2 483.9,468.3 484.1,469.5 484.3,470 484.5,468.2 484.7,470.5 484.9,470.3 485.1,468.9 485.3,468.9 485.5,469.2 485.7,469.9 485.9,468.9 486.1,468.3 486.3,469.4 486.5,467.6 486.7,469.2 486.9,469.9 487.1,469.3 487.3,469.6 487.5,469.3 487.7,469.5 487.9,469 488.1,468.3 488.4,468.7 488.6,468.8 488.8,469.8 489,470 489.2,469.1 489.4,468.2 489.6,468.3 489.8,468.7 490,469.9 490.2,469.1 490.4,468.8 490.6,468.3 490.8,469.6 491,469.2 491.2,468.9 491.4,469.1 491.6,470.3 491.8,468.9 492,470.3 492.2,470 492.4,469.1 492.6,469.8 492.8,469 493,468.5 493.3,468.9 493.5,468.5 493.7,469.5 493.9,469.1 494.1,469.5 494.3,469.7 494.5,466.7 494.7,469.3 494.9,467.7 495.1,469.1 495.3,468.3 495.5,469 495.7,470 495.9,467.6 496.1,469 496.3,468.8 496.5,467.4 496.7,469.3 496.9,468.9 497.1,468.5 497.3,468.3 497.5,471.3 497.7,468.6 497.9,467.5 498.2,468.2 498.4,468.6 498.6,468.6 498.8,468.9 499,468.2 499.2,469.4 499.4,468.7 499.6,468 499.8,468.5 500,468.8 500.2,469.7 500.4,469.5 500.6,468.9 500.8,469.2 501,469.3 501.2,470.7 501.4,468.7 501.6,469.5 501.8,469.7 502,468.4 502.2,469.3 502.4,469.3 502.6,468.8 502.8,469.5 503.1,469.8 503.3,469.9 503.5,468.9 503.7,469.2 503.9,470.8 504.1,468.2 504.3,469.1 504.5,469.6 504.7,469.1 504.9,469.4 505.1,469.1 505.3,469.5 505.5,469.9 505.7,468.8 505.9,469.1 506.1,468.9 506.3,468.6 506.5,469 506.7,468.1 506.9,469.6 507.1,470.3 507.3,470.3 507.5,470 507.7,468.3 508,470.2 508.2,468.5 508.4,469 508.6,470.5 508.8,468.3 509,469.7 509.2,469.3 509.4,469 509.6,468.4 509.8,469.4 510,468.7 510.2,469.8 510.4,469.9 510.6,468 510.8,468.6 511,468.7 511.2,468 511.4,468.1 511.6,469 511.8,468.7 512,467.6 512.2,468.5 512.4,469.2 512.7,467.9 512.9,468.1 513.1,470 513.3,469.8 513.5,467.6 513.7,467.9 513.9,469.2 514.1,468 514.3,468.7 514.5,468.6 514.7,469.4 514.9,467.1 515.1,467.4 515.3,468.1 515.5,469.8 515.7,469 515.9,467.8 516.1,469.5 516.3,469.7 516.5,469 516.7,468.9 516.9,469.5 517.1,470.1 517.3,469.3 517.6,469.5 517.8,469.1 518,468.8 518.2,468.4 518.4,469.3 518.6,468.8 518.8,468.9 519,469.7 519.2,469.4 519.4,469.6 519.6,467.8 519.8,469.4 520,468.5 520.2,468.3 520.4,468.3 520.6,469.8 520.8,469.5 521,468.4 521.2,468.1 521.4,468.9 521.6,468.6 521.8,470.2 522,467.9 522.2,467.6 522.5,468.8 522.7,469.1 522.9,469.2 523.1,469.7 523.3,470.7 523.5,468.9 523.7,468.8 523.9,467.9 524.1,469.4 524.3,469.9 524.5,469 524.7,470.1 524.9,469.3 525.1,470.4 525.3,469.5 525.5,468.4 525.7,468.7 525.9,468 526.1,467.8 526.3,469.3 526.5,469.7 526.7,470.5 526.9,469 527.1,468.8 527.4,468.1 527.6,469.7 527.8,469.2 528,468.4 528.2,469.4 528.4,469.3 528.6,467.4 528.8,469.4 529,468.9 529.2,468.5 529.4,468.5 529.6,470.2 529.8,470 530,470.3 530.2,468 530.4,468.4 530.6,469.7 530.8,468.1 531,468.5 531.2,467.7 531.4,470.5 531.6,470 531.8,469.6 532,469.5 532.3,469.1 532.5,469.2 532.7,470 532.9,469.1 533.1,470.6 533.3,469.4 533.5,469.3 533.7,471 533.9,470 534.1,470.7 534.3,470.1 534.5,468.9 534.7,471.1 534.9,469.9 535.1,471.9 535.3,470 535.5,470 535.7,471.7 535.9,471.9 536.1,471.8 536.3,470.9 536.5,472.5 536.7,470.8 537,471.5 537.2,471.3 537.4,471.5 537.6,472.3 537.8,471.1 538,471.8 538.2,471.8 538.4,469.8 538.6,470.1 538.8,470.5 539,470.2 539.2,470.7 539.4,468.9 539.6,470.7 539.8,470.6 540,469.9 540.2,468.9 540.4,469.8 540.6,469.3 540.8,470.1 541,469.5 541.2,470.1 541.4,469.2 541.6,470.5 541.9,467.7 542.1,468.6 542.3,469.7 542.5,468.2 542.7,469.8 542.9,468.3 543.1,469.3 543.3,468.5 543.5,468.8 543.7,469.2 543.9,469 544.1,468.7 544.3,470.6 544.5,469 544.7,468.2 544.9,469.6 545.1,469.5 545.3,469.8 545.5,470.2 545.7,468.2 545.9,469.7 546.1,469.7 546.3,468.9 546.5,469.1 546.8,466.6 547,468.5 547.2,470.3 547.4,467.6 547.6,468.6 547.8,469.2 548,469.4 548.2,470.2 548.4,467.7 548.6,469.1 548.8,469.7 549,468.1 549.2,469.1 549.4,470.5 549.6,470.1 549.8,469.5 550,467.1 550.2,469 550.4,469.4 550.6,468.8 550.8,469 551,471.4 551.2,468.9 551.4,468.3 551.7,469.2 551.9,468.7 552.1,468.7 552.3,468.9 552.5,469.5 552.7,469.1 552.9,468 553.1,468.8 553.3,469.3 553.5,468.6 553.7,469.8 553.9,469.5 554.1,468.2 554.3,469.2 554.5,470.5 554.7,470.2 554.9,469 555.1,469.7 555.3,468.5 555.5,468 555.7,469.5 555.9,469.3 556.1,469.5 556.3,469.1 556.6,469.4 556.8,468.8 557,469.6 557.2,469.8 557.4,469.2 557.6,469.8 557.8,467.9 558,468.6 558.2,470.3 558.4,470.5 558.6,469.4 558.8,469.1 559,468.2 559.2,469.4 559.4,469.6 559.6,467.9 559.8,469.4 560,469.3 560.2,469.3 560.4,468.1 560.6,469.3 560.8,467.8 561,470 561.3,468.9 561.5,468 561.7,469.8 561.9,469.7 562.1,468.3 562.3,470.5 562.5,468.1 562.7,469.1 562.9,469.8 563.1,467.2 563.3,469.7 563.5,468.9 563.7,469 563.9,468.2 564.1,469.3 564.3,468.2 564.5,468.3 564.7,468.7 564.9,468.2 565.1,470.3 565.3,468.1 565.5,468.6 565.7,468.9 565.9,469.1 566.2,469.7 566.4,469.7 566.6,468.9 566.8,468.8 567,469.1 567.2,469.7 567.4,469.6 567.6,468.6 567.8,467.4 568,470.6 568.2,469.6 568.4,469.1 568.6,469.1 568.8,468.5 569,468.1 569.2,468.6 569.4,468.6 569.6,468.3 569.8,467.7 570,468.6 570.2,469.2 570.4,468.4 570.6,468.8 570.8,467.3 571.1,468.7 571.3,468.8 571.5,468 571.7,467.7 571.9,469.3 572.1,468.4 572.3,469.4 572.5,468.8 572.7,469.6 572.9,468.9 573.1,468.1 573.3,469.2 573.5,469 573.7,469.8 573.9,468.9 574.1,469 574.3,469.9 574.5,470.1 574.7,469.8 574.9,470 575.1,469.6 575.3,469.8 575.5,469.8 575.7,469.5 576,469.2 576.2,469.2 576.4,470.8 576.6,469 576.8,468.8 577,468.7 577.2,468.9 577.4,469.1 577.6,468 577.8,467.4 578,469 578.2,467.6 578.4,469 578.6,468.9 578.8,469.7 579,470.1 579.2,469.1 579.4,468.4 579.6,468 579.8,468.3 580,468.9 580.2,467.4 580.4,469 580.6,469 580.9,469.5 581.1,468.8 581.3,469.2 581.5,468.5 581.7,468.8 581.9,467.8 582.1,469.2 582.3,470.3 582.5,469.3 582.7,469.4 582.9,468.4 583.1,470.2 583.3,468.5 583.5,469.7 583.7,469.2 583.9,468.3 584.1,469.8 584.3,469 584.5,469.1 584.7,469.3 584.9,468.9 585.1,468.6 585.3,469.2 585.6,468.5 585.8,468.9 586,468.3 586.2,467.7 586.4,468.3 586.6,468.4 586.8,468.8 587,469.7 587.2,467.6 587.4,468.9 587.6,467.2 587.8,468.1 588,468.5 588.2,467.2 588.4,467.6 588.6,469.1 588.8,469.1 589,469 589.2,468.5 589.4,470.7 589.6,469 589.8,468.5 590,470.4 590.2,469.6 590.5,468.9 590.7,470.1 590.9,469.3 591.1,469.7 591.3,469.4 591.5,468.4 591.7,469.9 591.9,469.3 592.1,468.4 592.3,468.5 592.5,469.8 592.7,468.8 592.9,469.1 593.1,469.5 593.3,469.1 593.5,467.8 593.7,469.4 593.9,469.6 594.1,469.6 594.3,470.1 594.5,469.2 594.7,469.5 594.9,470.1 595.1,468.7 595.4,470.2 595.6,470.2 595.8,469.5 596,470.3 596.2,469.6 596.4,468.3 596.6,469.9 596.8,469.3 597,469.4 597.2,469.2 597.4,470.1 597.6,469.5 597.8,468.6 598,469.5 598.2,469.7 598.4,468.6 598.6,468.8 598.8,468.9 599,468.7 599.2,469.4 599.4,469.9 599.6,470.5 599.8,470 600,469.8 600.3,469.9 600.5,470 600.7,468.7 600.9,469.5 601.1,469.2 601.3,468.8 601.5,468.5 601.7,468.5 601.9,468.6 602.1,467.9 602.3,469.2 602.5,468.8 602.7,468.9 602.9,469.1 603.1,469.4 603.3,468.4 603.5,468.8 603.7,467.7 603.9,467.2 604.1,467.5 604.3,470.1 604.5,467.6 604.7,469.4 604.9,470.1 605.2,468.7 605.4,470.3 605.6,470.5 605.8,469.8 606,470.9 606.2,469.6 606.4,468.6 606.6,469.6 606.8,468.8 607,468.2 607.2,468.2 607.4,470.9 607.6,468.7 607.8,469.1 608,468.6 608.2,469.2 608.4,468.9 608.6,468.7 608.8,468.1 609,467.9 609.2,468.4 609.4,469.2 609.6,470.5 609.8,469.7 610.1,470.3 610.3,469.2 610.5,468.8 610.7,467.9 610.9,468.9 611.1,467.3 611.3,468.7 611.5,470.1 611.7,469.2 611.9,469.8 612.1,468.7 612.3,468 612.5,468.7 612.7,468.8 612.9,470 613.1,470.6 613.3,468.6 613.5,468.9 613.7,469.1 613.9,468.9 614.1,468.3 614.3,469.3 614.5,469.5 614.8,469.5 615,468.3 615.2,469.1 615.4,467.9 615.6,469.9 615.8,468.4 616,468.9 616.2,468.8 616.4,468.7 616.6,468.3 616.8,467.7 617,470.3 617.2,469.2 617.4,469.2 617.6,470.5 617.8,468.9 618,469.3 618.2,468.9 618.4,469.8 618.6,469.3 618.8,469.1 619,468.7 619.2,469.1 619.4,469.8 619.7,467.4 619.9,468.8 620.1,468.6 620.3,468.7 620.5,467.5 620.7,469.6 620.9,468.4 621.1,468.9 621.3,468.7 621.5,467.8 621.7,468.8 621.9,467.7 622.1,468.4 622.3,468.9 622.5,469.2 622.7,469.2 622.9,469.1 623.1,470.8 623.3,469.5 623.5,468.2 623.7,468.7 623.9,468.6 624.1,469 624.3,468.6 624.6,468.4 624.8,470.3 625,469.1 625.2,468.8 625.4,468.8 625.6,468.8 625.8,470 626,469.4 626.2,469.8 626.4,466.7 626.6,469.3 626.8,469.8 627,470.5 627.2,469.1 627.4,467.8 627.6,469.6 627.8,468.7 628,467.9 628.2,468.8 628.4,470.1 628.6,470.3 628.8,470 629,468.7 629.2,471.5 629.5,468.8 629.7,469.7 629.9,468.8 630.1,471 630.3,470.4 630.5,470.9 630.7,470.4 630.9,470.5 631.1,470.8 631.3,469.4 631.5,471.8 631.7,471.9 631.9,471 632.1,471.5 632.3,471.8 632.5,472.9 632.7,472.1 632.9,471.9 633.1,471.5 633.3,470.8 633.5,471.5 633.7,471.9 633.9,471.6 634.1,471.7 634.4,472.1 634.6,471.7 634.8,471.4 635,471.5 635.2,471 635.4,470.7 635.6,470.9 635.8,469.1 636,471.2 636.2,469.2 636.4,470.7 636.6,470 636.8,470.7 637,469.8 637.2,469 637.4,470.5 637.6,469.7 637.8,469.6 638,469.6 638.2,470.2 638.4,470 638.6,469.5 638.8,468.2 639.1,469 639.3,469.3 639.5,470.5 639.7,469.4 639.9,469 640.1,470 640.3,468.9 640.5,469 640.7,469.1 640.9,467.8 641.1,469.6 641.3,469.2 641.5,468.6 641.7,468 641.9,469 642.1,469.9 642.3,468.3 642.5,468 642.7,469.2 642.9,467.7 643.1,467.2 643.3,468.6 643.5,468.4 643.7,468.8 644,468.6 644.2,469.3 644.4,469 644.6,468.7 644.8,468.9 645,469.7 645.2,470 645.4,470 645.6,469.9 645.8,466.9 646,468.6 646.2,469.1 646.4,469.5 646.6,468.1 646.8,470.4 647,469.5 647.2,468.8 647.4,469.4 647.6,469 647.8,468.6 648,469.5 648.2,468.8 648.4,468 648.6,468.5 648.9,468.9 649.1,468.1 649.3,469.8 649.5,468.1 649.7,470.2 649.9,469.5 650.1,468.1 650.3,468.9 650.5,469.7 650.7,468.7 650.9,467.9 651.1,468.9 651.3,470.4 651.5,467.8 651.7,469.4 651.9,469 652.1,469 652.3,468.8 652.5,468.9 652.7,469.9 652.9,469.7 653.1,468.5 653.3,470.5 653.5,468.3 653.8,469.8 654,469.5 654.2,470.3 654.4,469.6 654.6,470.2 654.8,469.4 655,470.1 655.2,469.6 655.4,470.9 655.6,468.7 655.8,470.1 656,469.5 656.2,469.3 656.4,468.7 656.6,469.4 656.8,467.9 657,467.9 657.2,469.4 657.4,467.7 657.6,469.9 657.8,468.6 658,468.9 658.2,468.8 658.4,469 658.7,468.5 658.9,468.4 659.1,468.6 659.3,469.5 659.5,469.6 659.7,469.7 659.9,469.1 660.1,468.7 660.3,467.6 660.5,469.4 660.7,469.6 660.9,468.7" fill="none" stroke="#0000e6" stroke-width="2.4" stroke-linejoin="round"/>
<path d="M48.3,697.4 48.5,699.7 48.7,698.3 48.9,697.7 49.1,699.1 49.3,700.6 49.5,699 49.7,699.8 49.9,697.9 50.1,699.4 50.3,696.7 50.5,698.4 50.8,699.3 51,699 51.2,699.6 51.4,698 51.6,696.9 51.8,698.6 52,697.4 52.2,699.2 52.4,697.9 52.6,695.8 52.8,699.6 53,696.8 53.2,696.8 53.4,699.9 53.6,699.4 53.8,698.8 54,696.8 54.2,698.1 54.4,697.8 54.6,696.9 54.8,697.4 55,697.2 55.2,697.8 55.4,696.2 55.7,698.1 55.9,695.6 56.1,697.6 56.3,698.1 56.5,696.5 56.7,696.7 56.9,699.2 57.1,697 57.3,698.6 57.5,698 57.7,696.4 57.9,698.1 58.1,696.9 58.3,697.6 58.5,695.3 58.7,697.4 58.9,698.5 59.1,698.5 59.3,698.3 59.5,697.3 59.7,697.4 59.9,696.4 60.1,697.3 60.3,697.3 60.6,697.2 60.8,697.6 61,697.2 61.2,696.7 61.4,696.7 61.6,698.1 61.8,699.3 62,698.3 62.2,697.2 62.4,700.1 62.6,698 62.8,697 63,698 63.2,698.6 63.4,695.6 63.6,695.9 63.8,697.6 64,695.9 64.2,695.9 64.4,698.4 64.6,694.5 64.8,698.2 65,697.5 65.2,698.4 65.5,697.2 65.7,698.6 65.9,697.3 66.1,696.2 66.3,697.1 66.5,697.7 66.7,695.8 66.9,698.4 67.1,696.5 67.3,697.9 67.5,697.4 67.7,697.7 67.9,697.6 68.1,697.9 68.3,698.7 68.5,698.5 68.7,697.5 68.9,698.2 69.1,699.3 69.3,698.9 69.5,698.9 69.7,698.3 69.9,698.1 70.1,698.2 70.4,699 70.6,698.2 70.8,699.7 71,701.2 71.2,698.2 71.4,699.8 71.6,698.9 71.8,699.1 72,697 72.2,698.8 72.4,697 72.6,697.5 72.8,698 73,698 73.2,695.4 73.4,694.9 73.6,693.9 73.8,691.9 74,692.8 74.2,691.7 74.4,691 74.6,689.3 74.8,688.2 75.1,687 75.3,681.4 75.5,683.8 75.7,678.7 75.9,675.9 76.1,673.6 76.3,672.3 76.5,668.7 76.7,666.7 76.9,665.5 77.1,662.7 77.3,662.4 77.5,662.6 77.7,661.6 77.9,665.3 78.1,665.2 78.3,668.9 78.5,670 78.7,673.1 78.9,675.5 79.1,679.6 79.3,681.7 79.5,684 79.7,684.7 80,685.8 80.2,687 80.4,690.2 80.6,690.6 80.8,693.5 81,695 81.2,694.2 81.4,694.5 81.6,695.9 81.8,696.6 82,694.4 82.2,696.1 82.4,697.3 82.6,693.2 82.8,695.7 83,696.3 83.2,695.4 83.4,697.1 83.6,694.7 83.8,698.2 84,698 84.2,696.9 84.4,697.7 84.6,695.5 84.9,698.8 85.1,698 85.3,697.1 85.5,696.9 85.7,696.5 85.9,697.3 86.1,695.5 86.3,698.4 86.5,697.8 86.7,697.2 86.9,698.5 87.1,698.6 87.3,698.9 87.5,699.2 87.7,699.8 87.9,699.2 88.1,700.3 88.3,698.4 88.5,700.5 88.7,696.8 88.9,697.3 89.1,697.9 89.3,699.3 89.5,699.7 89.8,697.9 90,698.9 90.2,698.5 90.4,699.8 90.6,698 90.8,699.9 91,698.9 91.2,700.7 91.4,699.6 91.6,698.4 91.8,699.3 92,699.2 92.2,697.9 92.4,698.7 92.6,697.3 92.8,701 93,697.8 93.2,697.8 93.4,699.9 93.6,699.5 93.8,697.3 94,699.2 94.2,698.7 94.4,697.4 94.7,698.3 94.9,697.5 95.1,698.8 95.3,697.6 95.5,696.8 95.7,697.5 95.9,700.1 96.1,697.2 96.3,697.8 96.5,698.7 96.7,696.4 96.9,699.6 97.1,695.9 97.3,698.5 97.5,696.3 97.7,697.9 97.9,699.2 98.1,697.8 98.3,697.6 98.5,697.3 98.7,696.8 98.9,698.8 99.1,697.4 99.3,697.1 99.6,698.1 99.8,698.8 100,698.8 100.2,697 100.4,696.9 100.6,698.5 100.8,698.9 101,696.2 101.2,699 101.4,697.1 101.6,697.9 101.8,698.7 102,696.5 102.2,696.6 102.4,694.5 102.6,693.2 102.8,695.3 103,693.4 103.2,692.7 103.4,693.7 103.6,693.2 103.8,689.5 104,690.8 104.3,689.5 104.5,688.9 104.7,687.9 104.9,687.8 105.1,685.8 105.3,685.1 105.5,687.3 105.7,689 105.9,688 106.1,690.8 106.3,690.8 106.5,689.7 106.7,689.5 106.9,692.7 107.1,695.3 107.3,694.1 107.5,698.1 107.7,697.1 107.9,695.3 108.1,696.6 108.3,699.2 108.5,699.8 108.7,697.4 108.9,698.6 109.2,699.3 109.4,698.4 109.6,699.5 109.8,700.9 110,698.2 110.2,699.7 110.4,700.1 110.6,700.4 110.8,698.8 111,699.9 111.2,698.4 111.4,699.3 111.6,697.9 111.8,699.3 112,699.5 112.2,700.8 112.4,699.9 112.6,698 112.8,695.6 113,699.9 113.2,699.6 113.4,698.2 113.6,698 113.8,699.1 114.1,698.3 114.3,700 114.5,698.6 114.7,697.4 114.9,696.6 115.1,698.4 115.3,698.5 115.5,697.7 115.7,697.1 115.9,697.7 116.1,698.9 116.3,697.8 116.5,697.2 116.7,698.9 116.9,699.5 117.1,697.7 117.3,697.8 117.5,697.2 117.7,698.1 117.9,698.8 118.1,698.6 118.3,699.2 118.5,699.2 118.7,698.8 119,698.7 119.2,697.1 119.4,699.5 119.6,698.3 119.8,698.8 120,696.8 120.2,698 120.4,698.7 120.6,697.5 120.8,698.2 121,698.8 121.2,696.8 121.4,697.6 121.6,696.7 121.8,697.2 122,697.6 122.2,698.3 122.4,699.6 122.6,697.8 122.8,698.5 123,697.9 123.2,698.6 123.4,699.4 123.6,699.7 123.9,698.1 124.1,697.6 124.3,699.2 124.5,698.5 124.7,697.6 124.9,699.9 125.1,699.5 125.3,700.3 125.5,698.1 125.7,699 125.9,699.8 126.1,701 126.3,699.6 126.5,698.4 126.7,699.7 126.9,699.9 127.1,698.8 127.3,700.7 127.5,699.4 127.7,698.8 127.9,700.2 128.1,700.2 128.3,699.1 128.6,699.4 128.8,699.5 129,699 129.2,698.9 129.4,700 129.6,699.7 129.8,698.5 130,697.8 130.2,697.5 130.4,699.6 130.6,697.6 130.8,697.9 131,698.6 131.2,698.1 131.4,697.7 131.6,696.7 131.8,699.5 132,697.8 132.2,698.5 132.4,698.6 132.6,697.2 132.8,697.6 133,699.4 133.2,698.7 133.5,698.2 133.7,699.9 133.9,697.6 134.1,698.6 134.3,698.4 134.5,698.3 134.7,696.9 134.9,698.7 135.1,699.2 135.3,697.2 135.5,699.5 135.7,699.6 135.9,700.5 136.1,698.1 136.3,699 136.5,698.8 136.7,699.2 136.9,699.5 137.1,700.2 137.3,700.2 137.5,699 137.7,699.4 137.9,697.9 138.1,700.2 138.4,700 138.6,700.5 138.8,698.1 139,700.6 139.2,698.6 139.4,697.9 139.6,699.4 139.8,698.5 140,701.3 140.2,699.5 140.4,700.7 140.6,698.8 140.8,698.9 141,699.6 141.2,697.9 141.4,698.4 141.6,699.2 141.8,699.1 142,700 142.2,698.6 142.4,696.3 142.6,699.1 142.8,697.9 143,698.8 143.3,697.4 143.5,697.8 143.7,698.4 143.9,699.9 144.1,698.6 144.3,696.9 144.5,698.3 144.7,697.5 144.9,698.6 145.1,699.9 145.3,697.7 145.5,697.8 145.7,698.7 145.9,698.5 146.1,697.8 146.3,698.7 146.5,697.8 146.7,698.4 146.9,700.5 147.1,698.3 147.3,698.8 147.5,699 147.7,697.8 147.9,698.7 148.2,697.7 148.4,697.2 148.6,698.1 148.8,699.8 149,699 149.2,697.4 149.4,698.6 149.6,699.1 149.8,698.4 150,697.9 150.2,698.1 150.4,697.8 150.6,699.2 150.8,698.7 151,698.7 151.2,698.5 151.4,700.6 151.6,698.8 151.8,699.9 152,697.2 152.2,697.1 152.4,697 152.6,697.9 152.9,699.2 153.1,697.8 153.3,699 153.5,698.2 153.7,699.7 153.9,699.4 154.1,698.4 154.3,697 154.5,698.8 154.7,696.5 154.9,696 155.1,700.1 155.3,698.8 155.5,699.6 155.7,698.8 155.9,699.1 156.1,698.6 156.3,697.5 156.5,697.4 156.7,698 156.9,698.2 157.1,698 157.3,697.8 157.5,697.3 157.8,697.7 158,697.1 158.2,698.8 158.4,696.5 158.6,695.4 158.8,696.9 159,698.4 159.2,695.5 159.4,697 159.6,699.6 159.8,696.7 160,695.7 160.2,695.8 160.4,694.8 160.6,695.4 160.8,695.8 161,697.9 161.2,696.9 161.4,695.5 161.6,694.9 161.8,696.6 162,696.1 162.2,694.9 162.4,697.3 162.7,697.3 162.9,695.5 163.1,694.9 163.3,695.6 163.5,697.4 163.7,694.9 163.9,696.3 164.1,694.1 164.3,694.8 164.5,694.3 164.7,693.8 164.9,695 165.1,693.4 165.3,692.8 165.5,693.5 165.7,692.3 165.9,694.2 166.1,692.3 166.3,692.8 166.5,693.9 166.7,692.6 166.7,693.1 166.9,692.8 167.1,691.8 167.2,690.5 167.4,691.7 167.6,690.8 167.7,692.2 167.9,690.1 168,688.5 168.2,688.4 168.4,688.3 168.5,688.9 168.7,688.8 168.9,687.2 169,687.9 169.2,687.1 169.3,683.8 169.5,685 169.7,680.9 169.8,683.6 170,680.2 170.2,680.7 170.3,677.6 170.5,677.4 170.7,674.2 170.8,672.3 171,670.4 171.1,666.5 171.3,662.2 171.5,661.6 171.6,656 171.8,652.9 172,648.5 172.1,640.5 172.3,641.1 172.5,633.1 172.6,628.2 172.8,619.1 172.9,611.5 173.1,597.4 173.3,594.3 173.4,583.2 173.6,574.9 173.8,568.3 173.9,557.4 174.1,545.9 174.3,539.2 174.4,530.4 174.6,521.8 174.7,518.1 174.9,510.9 175.1,504.3 175.2,501 175.4,502.5 175.6,502.1 175.7,504.3 175.9,508.5 176,512.7 176.2,520.7 176.4,528.5 176.5,539.8 176.7,548.3 176.9,555.4 177,568 177.2,574.4 177.4,585 177.5,594.1 177.7,600.4 177.8,610.4 178,618.3 178.2,625.1 178.3,630.6 178.5,632.9 178.7,645.3 178.8,647.5 179,652.5 179.2,655.1 179.3,660.6 179.5,666.7 179.6,664.9 179.8,670.7 180,671.8 180.1,675.6 180.3,677.1 180.5,678.1 180.6,678 180.8,679.4 180.9,682.3 181.1,682.1 181.3,684.1 181.4,684.5 181.6,685.2 181.8,685.4 181.9,687.5 182.1,687.6 182.3,687.8 182.4,688.4 182.6,689.9 182.7,687.5 182.9,690.4 183.1,689.4 183.2,690.4 183.4,689.7 183.6,693.7 183.7,689.4 183.9,692.1 184.1,693.5 184.2,692.3 184.4,690.2 184.5,692.3 184.7,694.4 184.9,693.7 185,692 185.1,695 185.3,693.9 185.5,694.2 185.7,691.7 185.9,694.5 186.1,692.9 186.3,695.1 186.5,695.4 186.7,693.6 187,694.1 187.2,696.6 187.4,694.2 187.6,694.3 187.8,695.7 188,694.9 188.2,694.9 188.4,695.8 188.6,696 188.8,696.1 189,695.8 189.2,696.9 189.4,695.7 189.6,697.2 189.8,695.7 190,695.9 190.2,696.9 190.4,695 190.6,694 190.8,694.6 191,697.4 191.2,694.6 191.4,695.6 191.6,695.8 191.9,696.2 192.1,695.3 192.3,693.6 192.5,694.1 192.7,694.8 192.9,694.6 193.1,693.9 193.3,692.3 193.5,690.4 193.7,693.1 193.9,691.5 194.1,691.6 194.3,691.8 194.5,690.5 194.7,690.5 194.9,693 195.1,693 195.3,691.2 195.5,692.7 195.7,693.2 195.9,694.9 196.1,695.4 196.3,695.1 196.5,696.6 196.8,697.7 197,696.9 197.2,696.4 197.4,698.6 197.6,696.8 197.8,697.3 198,699.1 198.2,698.3 198.4,698.5 198.6,697.9 198.8,697.9 199,699.9 199.2,700 199.4,697.7 199.6,698.7 199.8,698.4 200,698.5 200.2,697.4 200.4,700.1 200.6,697.9 200.8,699.8 201,698.3 201.2,697.7 201.4,700.4 201.7,698.7 201.9,699.4 202.1,699.4 202.3,699.1 202.5,700.2 202.7,700.1 202.9,698.5 203.1,698.4 203.3,699.7 203.5,700.6 203.7,696.9 203.9,698.1 204.1,698.8 204.3,700.1 204.5,699.6 204.7,698.8 204.9,699.9 205.1,697.4 205.3,698.7 205.5,698.5 205.7,699.8 205.9,699.6 206.1,699.4 206.4,698.4 206.6,698.8 206.8,698.8 207,698.2 207.2,698.3 207.4,697 207.6,698.6 207.8,699.4 208,698.4 208.2,697 208.4,698.9 208.6,698.3 208.8,698.7 209,698 209.2,698.2 209.4,699.3 209.6,698.8 209.8,697.7 210,697.6 210.2,697.9 210.4,698 210.6,699.2 210.8,699.3 211,698.2 211.3,700.2 211.5,699.3 211.7,701 211.9,699.8 212.1,700.2 212.3,700.7 212.5,699.1 212.7,700.4 212.9,700.2 213.1,700.2 213.3,700.7 213.5,698.7 213.7,700.6 213.9,700 214.1,701.5 214.3,700.8 214.5,700.7 214.7,700.7 214.9,701 215.1,700.3 215.3,699 215.5,700.6 215.7,700.7 215.9,700.9 216.2,698.2 216.4,699.1 216.6,700 216.8,699.9 217,701.2 217.2,700.7 217.4,700.4 217.6,700.4 217.8,701.3 218,701.2 218.2,700 218.4,700.2 218.6,702.4 218.8,700.4 219,699.2 219.2,701 219.4,700.2 219.6,701.7 219.8,699.5 220,701.3 220.2,701.4 220.4,700.5 220.6,698 220.8,700.7 221.1,701.2 221.3,699.6 221.5,699.7 221.7,698.4 221.9,701 222.1,701.2 222.3,700 222.5,699.3 222.7,699.2 222.9,698.4 223.1,700.7 223.3,700 223.5,699.3 223.7,698.3 223.9,698.6 224.1,699.3 224.3,699.8 224.5,697.9 224.7,697.8 224.9,696.1 225.1,698.7 225.3,697 225.5,699.6 225.7,698.9 226,699 226.2,698.8 226.4,699.1 226.6,698.8 226.8,698.4 227,698.7 227.2,697.7 227.4,698.5 227.6,698.4 227.8,697.1 228,698.3 228.2,698.5 228.4,698.7 228.6,698.7 228.8,698.4 229,699.7 229.2,698.1 229.4,697.8 229.6,698.3 229.8,699.9 230,701 230.2,700.1 230.4,699.6 230.7,699.1 230.9,700.1 231.1,700.3 231.3,698.6 231.5,700.7 231.7,699.1 231.9,699.3 232.1,701.4 232.3,699.8 232.5,700.5 232.7,700.8 232.9,701.5 233.1,701.1 233.3,699 233.5,699.6 233.7,698.7 233.9,699.8 234.1,698.8 234.3,698.5 234.5,699.5 234.7,699.4 234.9,697.1 235.1,697.2 235.3,698.1 235.6,697.1 235.8,696.3 236,695.1 236.2,697.9 236.4,696.4 236.6,695 236.8,697.2 237,696 237.2,700.1 237.4,696.3 237.6,697.9 237.8,699.9 238,697.4 238.2,697.3 238.4,697.3 238.6,697.4 238.8,698.7 239,699.5 239.2,699.3 239.4,699 239.6,698.6 239.8,699.5 240,699 240.2,698.3 240.5,698.8 240.7,697 240.9,697.1 241.1,700.2 241.3,699.7 241.5,700.3 241.7,700.2 241.9,698.6 242.1,700 242.3,700 242.5,699.3 242.7,698.3 242.9,699.3 243.1,699.3 243.3,698.1 243.5,698.4 243.7,698.4 243.9,697.9 244.1,699.7 244.3,698.5 244.5,699.3 244.7,697.7 244.9,697.9 245.1,699.6 245.4,697.3 245.6,699.6 245.8,697.3 246,698.2 246.2,699.1 246.4,699.3 246.6,698.5 246.8,698.1 247,698.6 247.2,697.3 247.4,699 247.6,697.4 247.8,697.1 248,698.6 248.2,696 248.4,697.1 248.6,697.7 248.8,695.2 249,694 249.2,691.9 249.4,692.4 249.6,689.3 249.8,688.1 250,687.3 250.3,685.8 250.5,685.6 250.7,685.4 250.9,683 251.1,681.6 251.3,681.6 251.5,681.5 251.7,682.6 251.9,679.7 252.1,680 252.3,681.8 252.5,680.3 252.7,679.6 252.9,680.6 253.1,679.5 253.3,679.5 253.5,682 253.7,680.7 253.9,679.8 254.1,679.4 254.3,679.1 254.5,683.4 254.7,682 255,681.9 255.2,682.4 255.4,683.1 255.6,687.2 255.8,687.9 256,689.9 256.2,689.2 256.4,692.7 256.6,691.2 256.8,692.6 257,694 257.2,697.6 257.4,696.9 257.6,696.2 257.8,698.9 258,698.3 258.2,698.6 258.4,698 258.6,699 258.8,699.2 259,700.2 259.2,699.9 259.4,700.2 259.6,699.5 259.9,700.5 260.1,699.4 260.3,702.1 260.5,699.4 260.7,700.7 260.9,699.5 261.1,700.5 261.3,699.7 261.5,699.1 261.7,701 261.9,700.3 262.1,700.5 262.3,700.1 262.5,701.7 262.7,700.2 262.9,700.2 263.1,700.6 263.3,700 263.5,701.1 263.7,698.3 263.9,699 264.1,697.6 264.3,700 264.5,700.2 264.8,698.7 265,700.4 265.2,698.5 265.4,699.3 265.6,698.8 265.8,698.2 266,698.3 266.2,696.5 266.4,697.5 266.6,699.2 266.8,697 267,699 267.2,697.6 267.4,698.7 267.6,698.2 267.8,696 268,697.6 268.2,697.5 268.4,697.3 268.6,696.8 268.8,694.9 269,697.3 269.2,697.2 269.4,695.2 269.7,697.2 269.9,695.9 270.1,694.3 270.3,695.4 270.5,695.8 270.7,696.1 270.9,696.4 271.1,696.3 271.3,695.8 271.5,695 271.7,695.5 271.9,697.4 272.1,697.9 272.3,696.8 272.5,699.6 272.7,698.6 272.9,698.8 273.1,699.8 273.3,700 273.5,699 273.7,701.1 273.9,700.7 274.1,700.6 274.3,700.1 274.6,701.6 274.8,699.5 275,701 275.2,701 275.4,701.2 275.6,701.6 275.8,702 276,700.1 276.2,701.1 276.4,701.4 276.6,700.4 276.8,702 277,700.8 277.2,701.4 277.4,702.2 277.6,700.8 277.8,702.8 278,700.8 278.2,702.2 278.4,701 278.6,700.1 278.8,700.8 279,701.8 279.3,701.2 279.5,701.4 279.7,702.1 279.9,701.9 280.1,700.8 280.3,700.3 280.5,702.2 280.7,700.6 280.9,700 281.1,700.2 281.3,701.1 281.5,699.2 281.7,701.1 281.9,699.3 282.1,698.3 282.3,701.5 282.5,699.3 282.7,699.2 282.9,699.2 283.1,700 283.3,699.5 283.5,700.4 283.7,699 283.9,698.5 284.2,699.6 284.4,699.8 284.6,699.4 284.8,698.9 285,698.9 285.2,699 285.4,698.9 285.6,700.2 285.8,701.5 286,698.6 286.2,697.9 286.4,700.5 286.6,699.9 286.8,699.1 287,698.6 287.2,699 287.4,698.5 287.6,699.8 287.8,699.5 288,699.6 288.2,700.4 288.4,699.1 288.6,699.7 288.8,699.5 289.1,700.8 289.3,699.6 289.5,701.5 289.7,700.3 289.9,703 290.1,701.7 290.3,700.2 290.5,701.3 290.7,700.8 290.9,702.4 291.1,699.7 291.3,700.6 291.5,701.1 291.7,700.8 291.9,700.9 292.1,700 292.3,701 292.5,702.5 292.7,701.5 292.9,700.2 293.1,700.8 293.3,701.7 293.5,700.8 293.7,701.3 294,700.9 294.2,702.8 294.4,702.2 294.6,700.9 294.8,701.7 295,701.2 295.2,699.8 295.4,701.8 295.6,701.3 295.8,702 296,702.1 296.2,701.6 296.4,702.8 296.6,703.4 296.8,700.4 297,701.6 297.2,700.5 297.4,701.4 297.6,701.3 297.8,700.8 298,700.8 298.2,702.4 298.4,700.2 298.6,702.1 298.9,701 299.1,698.8 299.3,700.9 299.5,699.4 299.7,701.1 299.9,700.1 300.1,700.5 300.3,700.1 300.5,701.1 300.7,701.1 300.9,699.8 301.1,701.4 301.3,700.6 301.5,699.2 301.7,700.2 301.9,700.4 302.1,700.4 302.3,699.2 302.5,699.6 302.7,699 302.9,699.3 303.1,697.4 303.3,699.3 303.6,700.6 303.8,698.8 304,698.8 304.2,698.6 304.4,700.2 304.6,697.7 304.8,698.8 305,698.8 305.2,700.2 305.4,698.3 305.6,698.8 305.8,697.6 306,699.2 306.2,700 306.4,698.8 306.6,699.8 306.8,698.6 307,700 307.2,699.2 307.4,699.3 307.6,699.2 307.8,699.6 308,699.9 308.2,699.3 308.5,699.8 308.7,699.1 308.9,699.5 309.1,701.3 309.3,699.3 309.5,698 309.7,699 309.9,698.7 310.1,698.8 310.3,699.6 310.5,700.4 310.7,698.4 310.9,698.1 311.1,698.5 311.3,698.5 311.5,698.5 311.7,698.8 311.9,698.4 312.1,698.5 312.3,698.1 312.5,699.1 312.7,698.6 312.9,697.3 313.1,697.9 313.4,699.6 313.6,696.8 313.8,698.7 314,694.2 314.2,694.8 314.4,694.2 314.6,694.8 314.8,694.4 315,692.4 315.2,691 315.4,690.5 315.6,688.1 315.8,685.8 316,684 316.2,683.7 316.4,682.7 316.6,677.9 316.8,676 317,671.9 317.2,667.6 317.4,664.5 317.6,663 317.8,658.8 318,655.1 318.3,654.1 318.5,651.1 318.7,647.9 318.9,647 319.1,646 319.3,645.3 319.5,644 319.7,645 319.9,644.1 320.1,646.9 320.3,646.6 320.5,649.2 320.7,654.9 320.9,654.9 321.1,659.6 321.3,660.6 321.5,664.6 321.7,668.3 321.9,670.4 322.1,674.5 322.3,676.1 322.5,678.5 322.7,681.3 322.9,682.9 323.2,686.2 323.4,686.3 323.6,689.6 323.8,689.1 324,690.5 324.2,691.3 324.4,693.5 324.6,690.8 324.8,694.7 325,694.9 325.2,696.3 325.4,694.7 325.6,696.9 325.8,695.9 326,698 326.2,697.1 326.4,697.9 326.6,696.9 326.8,698.2 327,698.9 327.2,697.8 327.4,699.3 327.6,699.2 327.8,697.7 328.1,700.1 328.3,697.8 328.5,698.8 328.7,699.3 328.9,698.2 329.1,697.8 329.3,698.8 329.5,698.3 329.7,697.4 329.9,697.3 330.1,697.8 330.3,698.2 330.5,698.2 330.7,697.6 330.9,696.1 331.1,695.8 331.3,695.7 331.5,694.2 331.7,695.3 331.9,694.8 332.1,694.2 332.3,691.4 332.5,694.5 332.8,691.5 333,690.7 333.2,690.4 333.4,687.5 333.6,688.1 333.8,688 334,689.3 334.2,687.7 334.4,688.6 334.6,688.3 334.8,688.5 335,689.7 335.2,689.3 335.4,689 335.6,690.4 335.8,692 336,694.9 336.2,692.8 336.4,693.6 336.6,695.6 336.8,696.5 337,696.1 337.2,698 337.4,697.1 337.7,699.2 337.9,699.5 338.1,699 338.3,700.5 338.5,699.5 338.7,699.2 338.9,701 339.1,699.2 339.3,700.6 339.5,699.7 339.7,700.1 339.9,700.7 340.1,700.8 340.3,701.8 340.5,700.9 340.7,701 340.9,699 341.1,699.5 341.3,701.5 341.5,699.6 341.7,700.1 341.9,700.6 342.1,699.8 342.3,699.5 342.6,700.7 342.8,700.4 343,700 343.2,700.9 343.4,699.9 343.6,700.1 343.8,700.6 344,700.7 344.2,699.7 344.4,699.2 344.6,699.7 344.8,700.6 345,699.3 345.2,699.7 345.4,699.4 345.6,698.9 345.8,700.5 346,699.9 346.2,700.3 346.4,700.5 346.6,698.1 346.8,698.9 347,701.1 347.2,699.3 347.5,700.1 347.7,698.7 347.9,699.6 348.1,699.8 348.3,699.6 348.5,699.4 348.7,699.7 348.9,700 349.1,699.9 349.3,699.4 349.5,700.8 349.7,700 349.9,700.1 350.1,700.5 350.3,699.6 350.5,701.3 350.7,700.7 350.9,701.2 351.1,700.2 351.3,701.1 351.5,700.8 351.7,700.6 351.9,702.4 352.1,700.8 352.4,701.9 352.6,701.7 352.8,701.7 353,701 353.2,701.2 353.4,700.5 353.6,701.9 353.8,702.5 354,702.6 354.2,701.7 354.4,701.1 354.6,702.1 354.8,702.9 355,702.3 355.2,702.3 355.4,702.5 355.6,703.1 355.8,704.5 356,702.9 356.2,701.6 356.4,702.2 356.6,704.1 356.8,702.2 357.1,703.6 357.3,700.4 357.5,701.8 357.7,702.8 357.9,701.1 358.1,702.2 358.3,701 358.5,701.3 358.7,702.1 358.9,700.5 359.1,702 359.3,699.7 359.5,700.6 359.7,701.4 359.9,701.9 360.1,699 360.3,699.1 360.5,701.1 360.7,698.7 360.9,699.8 361.1,700.1 361.3,699.9 361.5,700 361.7,698.6 362,699.6 362.2,701.2 362.4,698 362.6,699 362.8,700.6 363,700 363.2,700.5 363.4,699.7 363.6,699.5 363.8,699.6 364,700.3 364.2,700.5 364.4,699.3 364.6,700.1 364.8,698.2 365,700.7 365.2,699.5 365.4,700.1 365.6,700.8 365.8,699.2 366,700.2 366.2,701.1 366.4,700.6 366.6,699.6 366.9,701.4 367.1,699.4 367.3,700 367.5,700.8 367.7,699.5 367.9,699.2 368.1,700.2 368.3,700.5 368.5,699.2 368.7,699.5 368.9,701.5 369.1,700.9 369.3,700.9 369.5,701.1 369.7,702 369.9,700.1 370.1,700.8 370.3,700.8 370.5,699.7 370.7,701.3 370.9,700.9 371.1,700.7 371.3,701.3 371.5,701 371.8,700.3 372,700.9 372.2,699.8 372.4,701.5 372.6,700.6 372.8,701.9 373,700.8 373.2,701.2 373.4,699.4 373.6,699.9 373.8,699.9 374,698.7 374.2,698.9 374.4,699.3 374.6,700.3 374.8,700.7 375,699.2 375.2,699.2 375.4,699.2 375.6,698.5 375.8,699.3 376,696.2 376.2,698.1 376.4,697.2 376.7,695.6 376.9,697.1 377.1,694.3 377.3,693.7 377.5,694.4 377.7,694.6 377.9,693.5 378.1,694.4 378.3,691 378.5,691.9 378.7,692.4 378.9,692.4 379.1,691 379.3,690.2 379.5,693 379.7,692.6 379.9,694 380.1,692.1 380.3,693.1 380.5,691.6 380.7,694.3 380.9,695.1 381.1,695.9 381.4,695 381.6,697.7 381.8,696.1 382,697 382.2,698.1 382.4,698.8 382.6,697.5 382.8,697.1 383,699.4 383.2,698.8 383.4,698 383.6,700.2 383.8,700 384,701 384.2,700.2 384.4,700.2 384.6,700.5 384.8,700.8 385,701.5 385.2,701.3 385.4,700.9 385.6,699.5 385.8,700.4 386,700.6 386.3,699.1 386.5,699.1 386.7,700 386.9,699.7 387.1,698.4 387.3,698.4 387.5,699.1 387.7,697.9 387.9,697.8 388.1,696.4 388.3,697.8 388.5,695.8 388.7,695.8 388.9,696.6 389.1,694.3 389.3,693.9 389.5,695.5 389.7,692 389.9,694.4 390.1,693.7 390.3,692.8 390.5,691.4 390.7,691.3 390.9,691.7 391.2,690.2 391.4,691.1 391.6,690.2 391.8,689.1 392,691.8 392.2,694.8 392.4,693.2 392.6,694.2 392.8,693.6 393,694 393.2,695.8 393.4,696.2 393.6,695.8 393.8,696.2 394,698.8 394.2,696.1 394.4,697.3 394.6,697.7 394.8,697.7 395,699.2 395.2,698.6 395.4,697.9 395.6,698 395.8,698.8 396.1,699.5 396.3,700.1 396.5,698.4 396.7,699.2 396.9,700.1 397.1,701.7 397.3,700.6 397.5,701.6 397.7,699 397.9,699.9 398.1,700.8 398.3,700.4 398.5,698.1 398.7,699.3 398.9,701.5 399.1,700.5 399.3,701.5 399.5,702 399.7,700.4 399.9,698.6 400.1,699.4 400.3,700.7 400.5,701.1 400.7,700.7 401,700.1 401.2,702.2 401.4,702.6 401.6,699.5 401.8,700.9 402,699.8 402.2,701 402.4,699.9 402.6,701.7 402.8,700.8 403,699.9 403.2,700.4 403.4,701.6 403.6,700.5 403.8,701.7 404,702.4 404.2,700.7 404.4,699.9 404.6,700.4 404.8,702.1 405,700.3 405.2,700.4 405.4,701.3 405.7,702.9 405.9,699.9 406.1,700 406.3,700.3 406.5,702.1 406.7,701.8 406.9,699.7 407.1,699.8 407.3,700 407.5,700.6 407.7,700.1 407.9,700.8 408.1,700.6 408.3,701 408.5,700.1 408.7,700.6 408.9,699.5 409.1,699.7 409.3,701 409.5,698.7 409.7,701.2 409.9,699.9 410.1,699.4 410.3,699.3 410.6,702.2 410.8,699.5 411,699.4 411.2,699.2 411.4,702.3 411.6,701 411.8,700.5 412,700.8 412.2,699.3 412.4,701 412.6,699.4 412.8,700 413,701.7 413.2,701.3 413.4,700.8 413.6,700.4 413.8,699.6 414,700.6 414.2,699.6 414.4,701.7 414.6,703 414.8,700.7 415,700 415.2,700.7 415.5,701.2 415.7,700 415.9,698.7 416.1,700.4 416.3,700.9 416.5,701 416.7,698.6 416.9,700.4 417.1,699.8 417.3,699.3 417.5,699.4 417.7,701.2 417.9,699.6 418.1,699.7 418.3,700 418.5,699.6 418.7,700.9 418.9,700.5 419.1,700.9 419.3,699.8 419.5,701.1 419.7,700.2 419.9,701.4 420.1,700.6 420.4,700.8 420.6,700.6 420.8,700.3 421,700.6 421.2,700.5 421.4,702.1 421.6,699.3 421.8,700.7 422,700.3 422.2,700.7 422.4,699 422.6,700.5 422.8,699.2 423,698.4 423.2,697.9 423.4,698.1 423.6,698.5 423.8,699.9 424,697.6 424.2,697.5 424.4,697.6 424.6,697.4 424.8,697.9 425,698.2 425.3,696.6 425.5,696.2 425.7,698.1 425.9,696.1 426.1,696.5 426.3,695.8 426.5,696.1 426.7,695.1 426.9,695 427.1,694.9 427.3,696.7 427.5,694.4 427.7,694.9 427.9,695.7 428.1,693.7 428.3,695.3 428.5,692.8 428.7,691.7 428.9,693.3 429.1,691.5 429.3,691.5 429.5,690.7 429.7,692 429.9,689.4 430.2,689.2 430.4,687.8 430.6,687.6 430.8,685.5 431,685.3 431.2,683.7 431.4,681.7 431.6,681.6 431.8,679.3 432,678.6 432.2,676.7 432.4,676.1 432.6,672.8 432.8,670.5 433,670 433.2,667.1 433.4,665.5 433.6,665.3 433.8,661.7 434,658.8 434.2,659.2 434.4,659.3 434.6,655.6 434.9,655.5 435.1,651.6 435.3,653.3 435.5,652.9 435.7,653.4 435.9,652.3 436.1,653.3 436.3,653.9 436.5,653.1 436.7,654.3 436.9,652.1 437.1,655.4 437.3,654.4 437.5,655.5 437.7,656.7 437.9,653.5 438.1,658.5 438.3,655 438.5,659.1 438.7,658.3 438.9,656.8 439.1,663.1 439.3,663.6 439.5,662.1 439.8,665 440,667.5 440.2,668.7 440.4,671.5 440.6,672.1 440.8,672.3 441,676.1 441.2,677.2 441.4,677.7 441.6,678.4 441.8,682.5 442,682.9 442.2,685.1 442.4,686.3 442.6,687.2 442.8,688.5 443,690.5 443.2,691.6 443.4,691.2 443.6,691.1 443.8,690.8 444,693.1 444.2,693.3 444.4,693.1 444.7,693.5 444.9,694.8 445.1,695.1 445.3,693.8 445.5,696.1 445.7,696.6 445.9,697.9 446.1,696.4 446.3,697.3 446.5,695.6 446.7,697.8 446.9,697 447.1,697.1 447.3,696.7 447.5,699.4 447.7,697.1 447.9,698.6 448.1,698.8 448.3,699.1 448.5,699.3 448.7,699.4 448.9,701.1 449.1,698.8 449.3,699.2 449.6,700.1 449.8,699.4 450,697.5 450.2,699.1 450.4,699.7 450.6,698 450.8,700.1 451,699.5 451.2,699.8 451.4,699.5 451.6,698.6 451.8,698.7 452,699.8 452.2,699.2 452.4,699 452.6,699.3 452.8,698.9 453,699.5 453.2,699.4 453.4,698.7 453.6,699.6 453.8,698.3 454,698.8 454.2,699.4 454.5,699.1 454.7,699 454.9,698.7 455.1,698.5 455.3,698.8 455.5,699.4 455.7,697.6 455.9,698.1 456.1,698.8 456.3,698.2 456.5,698.8 456.7,699.4 456.9,699.2 457.1,697.3 457.3,698.8 457.5,698.9 457.7,700.2 457.9,699.5 458.1,698.3 458.3,699.9 458.5,699.6 458.7,699.6 458.9,700.2 459.2,699.6 459.4,700.8 459.6,700.8 459.8,701.8 460,699.3 460.2,701.3 460.4,701.5 460.6,700.6 460.8,702.2 461,701.9 461.2,702.6 461.4,702 461.6,702.4 461.8,701.7 462,702.3 462.2,702.7 462.4,702.4 462.6,702.3 462.8,702.6 463,701.5 463.2,701.7 463.4,702 463.6,703.1 463.8,701.7 464.1,703 464.3,701.9 464.5,701.9 464.7,702.4 464.9,702.5 465.1,702.3 465.3,700.1 465.5,701.9 465.7,701.8 465.9,700.8 466.1,701.1 466.3,700.6 466.5,702.3 466.7,702.1 466.9,698.6 467.1,701.2 467.3,701.3 467.5,700.9 467.7,700.1 467.9,701.8 468.1,700.6 468.3,700.7 468.5,700.1 468.7,700.4 469,700.9 469.2,701.1 469.4,702.2 469.6,699.5 469.8,701.4 470,700.5 470.2,698.8 470.4,700.4 470.6,699.5 470.8,700.1 471,699.4 471.2,699.9 471.4,700.3 471.6,698.8 471.8,700 472,700.9 472.2,700.1 472.4,699.4 472.6,700.7 472.8,699.3 473,699.3 473.2,698.3 473.4,700.5 473.6,699.6 473.9,701.4 474.1,700.5 474.3,700.2 474.5,700.1 474.7,700.5 474.9,700.6 475.1,701.2 475.3,701.1 475.5,700.7 475.7,700.6 475.9,700.7 476.1,700.5 476.3,700.5 476.5,702.9 476.7,702 476.9,701.9 477.1,702.4 477.3,701.2 477.5,701.5 477.7,702.2 477.9,702.1 478.1,701.4 478.3,702.6 478.5,702.7 478.8,701.8 479,702.1 479.2,701.5 479.4,702.3 479.6,702 479.8,702.9 480,703.2 480.2,702.5 480.4,704.5 480.6,702.1 480.8,701.6 481,702.3 481.2,702.4 481.4,701.4 481.6,702.1 481.8,701.3 482,700.3 482.2,701.3 482.4,701.1 482.6,701.4 482.8,701.5 483,701.4 483.2,701.5 483.5,700.6 483.7,702.6 483.9,701.5 484.1,700.8 484.3,701.9 484.5,701.3 484.7,701.7 484.9,700.8 485.1,700.4 485.3,699.9 485.5,700.6 485.7,701.5 485.9,700.8 486.1,700.5 486.3,699.9 486.5,702.5 486.7,700.6 486.9,702.3 487.1,700.4 487.3,700.6 487.5,700.5 487.7,700.2 487.9,700.5 488.1,701.3 488.4,700.5 488.6,699.9 488.8,700.8 489,700.7 489.2,701.6 489.4,699.8 489.6,701 489.8,701.1 490,700.9 490.2,701.1 490.4,700.6 490.6,699.5 490.8,699.8 491,699.3 491.2,699.2 491.4,700.9 491.6,699.9 491.8,699 492,698.4 492.2,701.2 492.4,701.2 492.6,699.7 492.8,700.3 493,700.8 493.3,699.7 493.5,700.6 493.7,701.7 493.9,700 494.1,699.9 494.3,699.5 494.5,699.2 494.7,699.8 494.9,700.1 495.1,700.4 495.3,701.1 495.5,700.1 495.7,699 495.9,699.2 496.1,698 496.3,699.7 496.5,700.9 496.7,698.7 496.9,698.5 497.1,700.1 497.3,700.4 497.5,698.8 497.7,698.3 497.9,699.6 498.2,698.9 498.4,699.1 498.6,699.4 498.8,699.4 499,698.1 499.2,698.5 499.4,698.7 499.6,700.3 499.8,696.7 500,699 500.2,698.4 500.4,699.3 500.6,698.2 500.8,699.9 501,698.7 501.2,699.1 501.4,698.3 501.6,700.1 501.8,699.9 502,699.7 502.2,698 502.4,701.1 502.6,699.8 502.8,700.7 503.1,700.1 503.3,699.9 503.5,700.5 503.7,700.5 503.9,700.6 504.1,701.3 504.3,701.1 504.5,702.3 504.7,701.4 504.9,701.8 505.1,701.4 505.3,700.7 505.5,701 505.7,701 505.9,700.5 506.1,703.2 506.3,701 506.5,701.4 506.7,701.4 506.9,702.3 507.1,700.9 507.3,700.4 507.5,700.5 507.8,701.2 508,700.6 508.2,700.4 508.4,699.6 508.6,700 508.8,700.8 509,700.7 509.2,700.6 509.4,700.5 509.6,701 509.8,700 510,701 510.2,701 510.4,700.1 510.6,700.7 510.8,700.4 511,701.7 511.2,699.6 511.4,700.2 511.6,700.2 511.8,699.8 512,700 512.2,700.6 512.4,698.6 512.7,700.5 512.9,699.4 513.1,698.8 513.3,700.7 513.5,700.2 513.7,700.9 513.9,699.6 514.1,700.7 514.3,701.3 514.5,699.6 514.7,699.9 514.9,701.3 515.1,699.9 515.3,700.7 515.5,698.9 515.7,699.7 515.9,701.4 516.1,701.3 516.3,701.8 516.5,701.1 516.7,701.2 516.9,700.7 517.1,701.2 517.3,702.4 517.6,701.9 517.8,700.3 518,700.5 518.2,701.5 518.4,701.5 518.6,701.5 518.8,701.4 519,702.7 519.2,700.8 519.4,701.9 519.6,701.3 519.8,703.3 520,701.2 520.2,700.4 520.4,703 520.6,700.3 520.8,701 521,701.9 521.2,702.6 521.4,700.5 521.6,701.2 521.8,701 522,701.6 522.2,702 522.5,700.8 522.7,702.2 522.9,700.8 523.1,702.8 523.3,702.2 523.5,702.6 523.7,700.6 523.9,702.9 524.1,702.4 524.3,701.1 524.5,701.4 524.7,699.9 524.9,700.2 525.1,701.1 525.3,701 525.5,702.8 525.7,702.1 525.9,701.6 526.1,701.4 526.3,702.3 526.5,701.9 526.7,701.7 526.9,700.2 527.1,700.5 527.4,701 527.6,700.8 527.8,700.2 528,700.8 528.2,700.3 528.4,701.3 528.6,699.3 528.8,698.9 529,699.1 529.2,698.8 529.4,698.7 529.6,697.2 529.8,698.4 530,699.3 530.2,698.9 530.4,697.2 530.6,696.7 530.8,696.6 531,696.3 531.2,696.5 531.4,697.6 531.6,696.6 531.8,697.2 532,695.6 532.3,696.1 532.5,694.5 532.7,694.3 532.9,695.4 533.1,692.6 533.3,692.1 533.5,693.5 533.7,691.7 533.9,690.6 534.1,691 534.3,689.4 534.5,689.4 534.7,688.1 534.9,688.3 535.1,688.1 535.3,687 535.5,686.2 535.7,686.3 535.9,686.6 536.1,686.6 536.3,686 536.5,686 536.7,685.3 537,685.4 537.2,685.8 537.4,686 537.6,686.2 537.8,685.4 538,686.3 538.2,688.5 538.4,688.2 538.6,689.6 538.8,690.1 539,690.9 539.2,691.9 539.4,693.3 539.6,694.9 539.8,693.2 540,693 540.2,695.4 540.4,694.8 540.6,696.1 540.8,696.1 541,697.5 541.2,697.5 541.4,697.8 541.6,700 541.9,698.3 542.1,698.9 542.3,701.1 542.5,698.9 542.7,699.7 542.9,699.7 543.1,699.8 543.3,700.5 543.5,701.2 543.7,700.8 543.9,700.9 544.1,698.9 544.3,699.3 544.5,701.1 544.7,701.1 544.9,700.5 545.1,700.3 545.3,701.2 545.5,701.4 545.7,699.1 545.9,699.7 546.1,701.6 546.3,701.7 546.5,700.9 546.8,700 547,699.6 547.2,700.2 547.4,701.1 547.6,699.6 547.8,699.2 548,699.5 548.2,699.8 548.4,698.9 548.6,699.3 548.8,700 549,699.1 549.2,700.1 549.4,698.3 549.6,698.7 549.8,699.7 550,698.8 550.2,698.1 550.4,700.6 550.6,699.2 550.8,697.9 551,700.3 551.2,699.4 551.4,700.4 551.7,699.5 551.9,701.3 552.1,700.8 552.3,700.1 552.5,699.8 552.7,699.7 552.9,699.8 553.1,699.4 553.3,699.9 553.5,700 553.7,701.4 553.9,700.9 554.1,698.6 554.3,699.4 554.5,700.6 554.7,700.8 554.9,700.7 555.1,701.8 555.3,700.2 555.5,702 555.7,701.9 555.9,700.3 556.1,703.5 556.3,701.7 556.6,703.3 556.8,702.6 557,702.2 557.2,702.4 557.4,702.1 557.6,702.8 557.8,702.3 558,703.1 558.2,702.5 558.4,703.2 558.6,701.7 558.8,703.1 559,701.7 559.2,702.4 559.4,702.3 559.6,701.2 559.8,702 560,703.4 560.2,701.7 560.4,704.1 560.6,701.8 560.8,702.3 561,703 561.3,701.9 561.5,702.1 561.7,700.4 561.9,702.2 562.1,700.4 562.3,700.8 562.5,702.2 562.7,702.3 562.9,700.8 563.1,701.8 563.3,701.5 563.5,701.8 563.7,702.5 563.9,701.8 564.1,702.2 564.3,702.6 564.5,701.7 564.7,700.1 564.9,700.2 565.1,701.4 565.3,701.2 565.5,700.9 565.7,700.2 565.9,700.9 566.2,701.5 566.4,701.4 566.6,700.2 566.8,699.1 567,701.4 567.2,702.4 567.4,700.3 567.6,700.9 567.8,700.8 568,699.9 568.2,700.8 568.4,701.8 568.6,702.3 568.8,700.9 569,701.7 569.2,700.6 569.4,701.8 569.6,701.2 569.8,702 570,701.2 570.2,701.3 570.4,700.6 570.6,700.1 570.8,701.2 571.1,701.7 571.3,699.7 571.5,700.9 571.7,700.8 571.9,700.8 572.1,700.2 572.3,700.6 572.5,700.8 572.7,700.8 572.9,702 573.1,701.8 573.3,701.5 573.5,701.3 573.7,701.4 573.9,701.1 574.1,701.3 574.3,701.6 574.5,702.5 574.7,700.7 574.9,700.8 575.1,701.9 575.3,700.8 575.5,700.9 575.7,701.1 576,702.4 576.2,701.9 576.4,701.5 576.6,699.8 576.8,701.6 577,701.2 577.2,701.7 577.4,701.3 577.6,700.6 577.8,702.4 578,703 578.2,700.4 578.4,700.9 578.6,701.4 578.8,700.2 579,700.3 579.2,702.6 579.4,701.2 579.6,700.3 579.8,701.6 580,701.4 580.2,700.5 580.4,701.5 580.6,702.2 580.9,701.9 581.1,702.4 581.3,701 581.5,702.8 581.7,700.8 581.9,702.7 582.1,701.5 582.3,702.6 582.5,701.7 582.7,700.7 582.9,700.6 583.1,700.4 583.3,701.4 583.5,701.2 583.7,701 583.9,700.6 584.1,701.2 584.3,699.9 584.5,700.4 584.7,699.6 584.9,700 585.1,699.6 585.3,700.6 585.6,700.1 585.8,700.6 586,699.7 586.2,699.4 586.4,698.4 586.6,699.9 586.8,696.2 587,698.7 587.2,697.4 587.4,697.5 587.6,700.2 587.8,698.3 588,696.9 588.2,699.9 588.4,697.4 588.6,698.7 588.8,698.4 589,697.8 589.2,699.6 589.4,698 589.6,698.7 589.8,698.9 590,697.9 590.2,695.8 590.5,698.4 590.7,698.3 590.9,698.9 591.1,699.5 591.3,698.9 591.5,698.1 591.7,699.2 591.9,698.8 592.1,699.7 592.3,697.8 592.5,701 592.7,699.4 592.9,699.6 593.1,699.8 593.3,701 593.5,701 593.7,700.5 593.9,700.3 594.1,701.3 594.3,701.3 594.5,700.1 594.7,699.8 594.9,701 595.1,701.2 595.4,701.3 595.6,699 595.8,700.5 596,700.9 596.2,700.2 596.4,699.3 596.6,700.2 596.8,702.1 597,701.2 597.2,701.5 597.4,701.5 597.6,702.2 597.8,701.6 598,702.2 598.2,701.2 598.4,701.5 598.6,702.6 598.8,702.9 599,702.1 599.2,701.3 599.4,701.5 599.6,702 599.8,704.3 600,702.4 600.3,702.6 600.5,702.4 600.7,703 600.9,702.5 601.1,702.7 601.3,700.3 601.5,701.7 601.7,702.4 601.9,702.3 602.1,702.3 602.3,702.1 602.5,702.5 602.7,702.2 602.9,701.4 603.1,701.5 603.3,701.8 603.5,701 603.7,701.7 603.9,702.5 604.1,703 604.3,702.2 604.5,701.7 604.7,701.3 604.9,700.7 605.2,701.8 605.4,701.9 605.6,700.7 605.8,700.4 606,701.5 606.2,700.8 606.4,700 606.6,700.7 606.8,700.9 607,702.3 607.2,699.9 607.4,700.3 607.6,700.7 607.8,701.1 608,701.6 608.2,700.8 608.4,700.8 608.6,699.9 608.8,701.6 609,699.7 609.2,700.7 609.4,699.9 609.6,701.4 609.9,700.5 610.1,699.9 610.3,700.7 610.5,701.8 610.7,701 610.9,700.4 611.1,701.8 611.3,701.8 611.5,700.6 611.7,701.5 611.9,700.3 612.1,701.6 612.3,702.1 612.5,701.3 612.7,699.7 612.9,701.3 613.1,700.7 613.3,700.5 613.5,701.3 613.7,699.8 613.9,700.5 614.1,700.3 614.3,701.8 614.5,701.8 614.8,702.5 615,700.6 615.2,700.7 615.4,700 615.6,699.4 615.8,700.7 616,700.7 616.2,700.2 616.4,699.4 616.6,701.1 616.8,700.1 617,700.8 617.2,700.9 617.4,700.1 617.6,701.3 617.8,701.6 618,700.4 618.2,700.9 618.4,701.1 618.6,701.1 618.8,700.7 619,701.4 619.2,700.6 619.4,700.9 619.7,700.2 619.9,700.3 620.1,700.7 620.3,701.5 620.5,701.2 620.7,701.8 620.9,699.2 621.1,701.5 621.3,700.9 621.5,700.3 621.7,702.2 621.9,701.8 622.1,701.4 622.3,701.8 622.5,701.9 622.7,701.3 622.9,699.8 623.1,700.1 623.3,700.5 623.5,700.4 623.7,701.5 623.9,699.7 624.1,699.7 624.3,700.7 624.6,699.6 624.8,699.7 625,699.8 625.2,700 625.4,699.5 625.6,699.5 625.8,698.3 626,698.1 626.2,698 626.4,698.1 626.6,698.1 626.8,695.9 627,698.7 627.2,696 627.4,696.4 627.6,696.3 627.8,696.5 628,695.9 628.2,696.4 628.4,696.2 628.6,694.7 628.8,695.6 629,693.1 629.2,692.4 629.5,695.8 629.7,693.7 629.9,691.7 630.1,691.3 630.3,690.8 630.5,690 630.7,689.2 630.9,688.6 631.1,687.3 631.3,688.4 631.5,687.2 631.7,689 631.9,687.3 632.1,688 632.3,685.4 632.5,684.4 632.7,685.9 632.9,687.6 633.1,686.6 633.3,686.7 633.5,686.8 633.7,686.3 633.9,686.8 634.1,690.4 634.4,687.3 634.6,689.5 634.8,690.1 635,688.9 635.2,690.9 635.4,692.4 635.6,692.9 635.8,692.3 636,692.1 636.2,692.1 636.4,694 636.6,694.8 636.8,693.5 637,695.7 637.2,694.5 637.4,695.9 637.6,696.3 637.8,697 638,696.9 638.2,697.8 638.4,698.2 638.6,698.1 638.8,698.7 639.1,698.2 639.3,698.5 639.5,699 639.7,699.1 639.9,699.2 640.1,697.8 640.3,699.2 640.5,699.8 640.7,699.6 640.9,698.9 641.1,699.6 641.3,699.6 641.5,699.7 641.7,699.4 641.9,699.3 642.1,699.2 642.3,700.8 642.5,700.4 642.7,701.5 642.9,699 643.1,698.8 643.3,698.7 643.5,699.5 643.7,698.8 644,699.7 644.2,699.8 644.4,700.8 644.6,700.3 644.8,700.2 645,699.2 645.2,698.7 645.4,700.3 645.6,699.8 645.8,699.9 646,700.7 646.2,701.5 646.4,700.9 646.6,701.5 646.8,700.8 647,700.8 647.2,700.9 647.4,701 647.6,700.6 647.8,701.7 648,700.5 648.2,702.4 648.4,701.3 648.6,701.1 648.9,702 649.1,702.6 649.3,701.1 649.5,702.1 649.7,701.1 649.9,701.1 650.1,701.7 650.3,701.7 650.5,701 650.7,701.4 650.9,702.3 651.1,701.5 651.3,701.2 651.5,701.4 651.7,701.4 651.9,701.5 652.1,701.5 652.3,702 652.5,702.2 652.7,700.4 652.9,701.5 653.1,700.9 653.3,702 653.5,700.8 653.8,701.4 654,698.7 654.2,701.4 654.4,701.3 654.6,699.9 654.8,699.8 655,701.9 655.2,700.3 655.4,699.8 655.6,701.2 655.8,699.9 656,700.7 656.2,701.1 656.4,700.6 656.6,700.7 656.8,701.3 657,698.9 657.2,700.7 657.4,701 657.6,699.9 657.8,700.6 658,699.7 658.2,700.8 658.4,700.4 658.7,700.6 658.9,700.6 659.1,700.9 659.3,700.9 659.5,699.7 659.7,701.3 659.9,701.3 660.1,701.2 660.3,700.6 660.5,700.8 660.7,700.5 660.9,702" fill="none" stroke="#000" stroke-width="0.7" marker-start="url(#dm)" marker-mid="url(#dm)" marker-end="url(#dm)"/>
<path d="M176.1,481.2 176.1,489.3 176.1,500.6" fill="none" stroke="#000" stroke-width="0.7" marker-start="url(#dmw)" marker-mid="url(#dmw)"/>
<path d="M48.3,697.9 60.6,697.9 66.9,697.7 70.6,697.1 71.8,696.5 72.6,695.8 73.2,694.9 73.8,693.2 74.6,689 75.5,681.5 76.7,666.5 77.3,662.5 77.5,662.5 77.9,664.6 79.5,683.8 80.6,691.6 81.2,694 81.8,695.4 82.8,696.5 84.2,697.2 87.5,697.9 93,698.2 98.5,698.2 100.2,698 101.2,697.7 102,697 102.8,695.5 104.7,687.9 105.3,686.6 105.9,687.9 107.1,693.5 108.1,696.5 108.7,697.3 109.6,697.9 112.2,698.4 120.6,698.7 136.9,698.8 147.1,698.6 154.1,698.1 158.6,697.4 162,696.2 164.5,694.7 166.5,692.4 167.6,690.5 168.4,688.5 169.7,682.8 170.7,674.3 171.5,660.9 172.8,618.7 174.7,515.3 175.1,504.7 175.4,500.6 175.7,503.8 176.2,520.6 178.3,630.6 179.2,656.3 180,671.7 181.1,682.7 181.8,686.1 182.6,688.9 183.7,691.5 185,693.5 186.7,695.1 188.6,696.1 190.4,696.5 191,696.4 191.6,695.9 192.5,694.6 193.9,690.9 194.5,690.2 195.1,691.1 196.5,695.3 197.4,697 198.6,698.1 200.6,698.7 205.1,699.2 212.5,699.5 223.1,699.8 229.4,699.7 230.9,699.4 232.1,699 233.1,698.2 234.9,696.2 235.8,695.9 236.6,696.4 238.6,698.5 239.8,699.2 242.3,699.5 245.6,699.2 246.6,698.8 247.2,698.4 247.8,697.5 248.4,696.1 249.2,693 250.9,683.6 251.5,681.1 252.1,680.3 253.7,680.2 254.3,680.7 254.7,681.8 256.6,692.1 257.6,696.2 258.6,698.2 259.2,698.8 260.3,699.3 263.7,699.7 265.2,699.7 266.4,699.4 267.6,698.7 269.9,696.2 270.7,695.8 271.5,696.2 273.3,698.5 274.3,699.3 275.6,699.9 277.6,700.2 288.4,700.4 300.9,700.2 307,699.7 310.7,698.8 312.3,697.9 313.6,696.2 314.4,694.1 315.2,690.2 316,683.7 316.6,677 318.7,648.5 319.1,645 319.5,643.7 319.9,645 320.3,648.4 322.3,676.9 322.9,683.7 323.8,690.1 324.6,693.9 325.4,696.1 326.6,697.6 328.3,698.3 329.1,698.4 329.9,698.1 330.5,697.7 331.1,696.8 332.1,694.3 333.6,689.5 334,688.6 334.4,688.3 335,689.1 336.8,695.4 338.1,698.2 338.9,699.2 339.7,699.7 342.6,700.3 349.1,700.7 360.3,700.9 368.5,700.7 372.6,700.3 374,699.8 375.2,698.7 376.2,697.1 378.3,692.6 378.7,692.1 379.1,691.9 379.5,692.1 379.9,692.6 381.8,696.5 382.8,698.2 383.8,699.2 384.8,699.6 386.3,699.4 387.5,698.4 388.5,696.9 390.5,692.6 390.9,692.1 391.4,691.9 391.8,692.1 392.2,692.6 394.2,697.1 395.2,698.7 396.5,699.8 398.1,700.3 400.5,700.6 404.4,700.7 414,700.5 419.9,699.8 424,698.7 426.1,697.5 427.7,695.9 428.9,693.6 429.9,690.5 431,685.7 431.8,680.4 434.4,657 435.1,653.8 435.5,652.8 435.9,652.5 436.5,653.1 437.7,655.1 438.7,658.3 439.5,663.5 442,683 443,688.6 444.2,693 445.5,695.5 447.1,697.4 449.3,698.8 452.6,699.8 457.9,700.5 465.7,701 479.6,701.2 490.8,701.2 493.3,700.9 494.9,700.4 496.3,699.5 498.6,697.7 499.6,697.4 500.6,697.7 504.1,700.3 505.3,700.8 506.7,701 510.6,701.2 517.3,701.1 522.5,700.9 525.9,700.5 527.8,700.1 529.2,699.6 530.4,698.7 531.4,697.6 532.5,695.9 533.3,694.1 535.9,686.5 536.5,685.7 537,685.5 537.8,686.5 540.6,694.6 541.4,696.3 542.5,697.9 543.5,698.9 544.9,699.8 546.5,700.3 548.8,700.7 553.3,701.1 560.2,701.3 579,701.2 582.7,700.6 586.6,698.7 587.8,698.4 589,698.6 593.1,700.6 596.6,701.1 611.9,701.1 617.6,700.8 621.5,700.4 623.3,700 624.8,699.4 626,698.6 627,697.6 628.8,694.6 631.7,687.6 632.3,686.6 632.9,686.4 633.5,686.9 634.1,688 636.4,693.6 637.6,696.1 639.1,698 640.7,699.3 642.9,700.1 646.6,700.6 652.1,701 660.9,701.1" fill="none" stroke="#e31515" stroke-width="3.5" stroke-linejoin="round"/>
<path d="M76.9,728.6V739.7M77.3,728.6V739.7M105,728.6V739.7M174.4,728.6V739.7M175.9,728.6V739.7M176.9,728.6V739.7M195.3,728.6V739.7M215.2,728.6V739.7M216.9,728.6V739.7M234.2,728.6V739.7M235.7,728.6V739.7M235.8,728.6V739.7M252.2,728.6V739.7M254.3,728.6V739.7M271,728.6V739.7M286.9,728.6V739.7M288.3,728.6V739.7M319.7,728.6V739.7M320.5,728.6V739.7M334.8,728.6V739.7M335.3,728.6V739.7" stroke="#068206" stroke-width="1.6"/>
<path d="M365.1,728.6V739.7M366.4,728.6V739.7M367.3,728.6V739.7M378.2,728.6V739.7M380.1,728.6V739.7M380.6,728.6V739.7M381.5,728.6V739.7M392.6,728.6V739.7M395.8,728.6V739.7M434.2,728.6V739.7M435.5,728.6V739.7M437,728.6V739.7M437.3,728.6V739.7M449.4,728.6V739.7M461.3,728.6V739.7M462.3,728.6V739.7M463.2,728.6V739.7M463.4,728.6V739.7M474.4,728.6V739.7M476.2,728.6V739.7M476.5,728.6V739.7M477.3,728.6V739.7M499.8,728.6V739.7M501.9,728.6V739.7M502.7,728.6V739.7M512.8,728.6V739.7M514.6,728.6V739.7M535.5,728.6V739.7M539,728.6V739.7M541.3,728.6V739.7M547.9,728.6V739.7M550.9,728.6V739.7M560.2,728.6V739.7M565.5,728.6V739.7M572.4,728.6V739.7M574.4,728.6V739.7M575.4,728.6V739.7M576.2,728.6V739.7M576.4,728.6V739.7M577.6,728.6V739.7M584.3,728.6V739.7M586.2,728.6V739.7M587,728.6V739.7M588.3,728.6V739.7M589,728.6V739.7M589.9,728.6V739.7M598.9,728.6V739.7M608.3,728.6V739.7M613.5,728.6V739.7M632.3,728.6V739.7M634.5,728.6V739.7M635.6,728.6V739.7M636.4,728.6V739.7M643.6,728.6V739.7M644,728.6V739.7M646.9,728.6V739.7M648.1,728.6V739.7M657.4,728.6V739.7M659.1,728.6V739.7M366.5,728.6V739.7M367.8,728.6V739.7M368.7,728.6V739.7M379.6,728.6V739.7M381.5,728.6V739.7M382,728.6V739.7M383,728.6V739.7M394,728.6V739.7M397.3,728.6V739.7M435.8,728.6V739.7M437.1,728.6V739.7M438.6,728.6V739.7M438.9,728.6V739.7M451,728.6V739.7M462.9,728.6V739.7M464,728.6V739.7M464.8,728.6V739.7M465.1,728.6V739.7M476.1,728.6V739.7M478,728.6V739.7M478.2,728.6V739.7M479,728.6V739.7M501.6,728.6V739.7M503.7,728.6V739.7M504.6,728.6V739.7M514.6,728.6V739.7M516.5,728.6V739.7M537.5,728.6V739.7M541,728.6V739.7M543.2,728.6V739.7M549.9,728.6V739.7M552.9,728.6V739.7M562.3,728.6V739.7M567.6,728.6V739.7M574.5,728.6V739.7M576.5,728.6V739.7M577.5,728.6V739.7M578.3,728.6V739.7M578.5,728.6V739.7M579.7,728.6V739.7M586.5,728.6V739.7M588.3,728.6V739.7M589.1,728.6V739.7M590.5,728.6V739.7M591.1,728.6V739.7M592,728.6V739.7M601.1,728.6V739.7M610.5,728.6V739.7M615.7,728.6V739.7M634.6,728.6V739.7M636.8,728.6V739.7M638,728.6V739.7M638.7,728.6V739.7M646,728.6V739.7M646.4,728.6V739.7M649.3,728.6V739.7M650.4,728.6V739.7M659.8,728.6V739.7M661.5,728.6V739.7" stroke="#068206" stroke-width="1.1"/>
<path d="M48.3,758.1 48.5,760.2 48.7,757.9 48.9,759.7 49.1,758.1 49.3,759.2 49.5,759.1 49.7,758.9 49.9,757.6 50.1,759.2 50.3,759.2 50.5,758.6 50.8,759.2 51,759.9 51.2,758.7 51.4,759.4 51.6,758.3 51.8,759.5 52,759.6 52.2,761 52.4,759.8 52.6,759.5 52.8,760.2 53,758.4 53.2,760 53.4,758.8 53.6,758.7 53.8,760 54,759.4 54.2,760.2 54.4,758.2 54.6,759.5 54.8,758.9 55,759.1 55.2,757.9 55.4,760 55.7,759.5 55.9,758.6 56.1,758.4 56.3,758.8 56.5,760.4 56.7,759.4 56.9,759.2 57.1,759.8 57.3,759.5 57.5,759.7 57.7,760.1 57.9,759.8 58.1,760.2 58.3,758.7 58.5,759.6 58.7,759.3 58.9,759.6 59.1,759.5 59.3,759.1 59.5,759.3 59.7,760.3 59.9,759.1 60.1,758.6 60.3,760 60.6,760.2 60.8,759.3 61,759.6 61.2,758.9 61.4,759.3 61.6,760.3 61.8,760 62,759.5 62.2,759.2 62.4,758.2 62.6,759.6 62.8,759.7 63,760.1 63.2,760.8 63.4,759.5 63.6,759.9 63.8,758.4 64,760.1 64.2,759.8 64.4,760.2 64.6,759.7 64.8,759.5 65,760.2 65.2,758.6 65.5,759.6 65.7,759.9 65.9,758.5 66.1,758.3 66.3,759.4 66.5,759.2 66.7,759.5 66.9,759.6 67.1,758.5 67.3,759.3 67.5,759.9 67.7,758.8 67.9,758.9 68.1,758.3 68.3,759.7 68.5,760.5 68.7,758.1 68.9,759.7 69.1,759.8 69.3,758.7 69.5,758.9 69.7,758.4 69.9,758.6 70.1,759.3 70.4,759.6 70.6,759.3 70.8,759.8 71,759.3 71.2,758.3 71.4,760.3 71.6,760.1 71.8,758.7 72,760.5 72.2,759.6 72.4,759.3 72.6,760.6 72.8,757.4 73,758.1 73.2,759.8 73.4,759.1 73.6,758.6 73.8,760.4 74,759.7 74.2,758.4 74.4,758.9 74.6,760 74.8,760.7 75.1,757.9 75.3,759.6 75.5,759.1 75.7,758.2 75.9,759.3 76.1,758.3 76.3,759.1 76.5,760.7 76.7,759.9 76.9,760.1 77.1,760 77.3,759.8 77.5,760.3 77.7,758.7 77.9,759.3 78.1,760.2 78.3,759 78.5,759.2 78.7,760.4 78.9,760.7 79.1,759.1 79.3,759 79.5,760 79.7,759.7 80,759 80.2,760 80.4,759.9 80.6,759.5 80.8,761.6 81,760.5 81.2,760 81.4,760.2 81.6,761.6 81.8,760.2 82,758.8 82.2,759.6 82.4,759.4 82.6,758.9 82.8,759.5 83,759.5 83.2,759.2 83.4,758.9 83.6,759.9 83.8,758.1 84,759.8 84.2,759.2 84.4,759.4 84.6,757.5 84.9,760.4 85.1,757.9 85.3,758.6 85.5,759.7 85.7,758.8 85.9,758.9 86.1,757.6 86.3,758.9 86.5,759.4 86.7,759.7 86.9,759 87.1,759.4 87.3,759.6 87.5,758.8 87.7,758.7 87.9,760.7 88.1,758.7 88.3,760.2 88.5,759.4 88.7,760.4 88.9,758.8 89.1,759.7 89.3,759.6 89.5,759.1 89.8,759.5 90,758.7 90.2,759.2 90.4,759 90.6,759.8 90.8,759.2 91,758.3 91.2,759 91.4,759.2 91.6,758.6 91.8,760.2 92,759.5 92.2,759.8 92.4,758.7 92.6,758.9 92.8,759.9 93,758.1 93.2,759.5 93.4,759.2 93.6,758.8 93.8,759.2 94,758.4 94.2,759.3 94.4,758.3 94.7,758.3 94.9,760.2 95.1,758.7 95.3,757.7 95.5,759.9 95.7,758.7 95.9,756.7 96.1,759.2 96.3,760 96.5,759.6 96.7,760.6 96.9,759.2 97.1,759.8 97.3,758.6 97.5,759.5 97.7,760.5 97.9,759.8 98.1,759.6 98.3,758 98.5,759.2 98.7,758.5 98.9,760.1 99.1,758.9 99.3,759.8 99.6,758.8 99.8,760.9 100,758.6 100.2,759.6 100.4,761.5 100.6,759.7 100.8,758.9 101,760 101.2,760.2 101.4,760.1 101.6,758 101.8,759.6 102,757.9 102.2,760.9 102.4,759.5 102.6,759.1 102.8,759.9 103,759.8 103.2,758.5 103.4,760.6 103.6,759.2 103.8,758.1 104,760.4 104.3,760.5 104.5,760.3 104.7,759.8 104.9,758.7 105.1,760 105.3,760.7 105.5,759.9 105.7,760.5 105.9,758.8 106.1,760.1 106.3,760.1 106.5,758.3 106.7,758.2 106.9,758.8 107.1,759.5 107.3,759.7 107.5,759.2 107.7,759.4 107.9,759.3 108.1,759.5 108.3,759.9 108.5,759.8 108.7,759.4 108.9,759.6 109.2,759.1 109.4,760 109.6,759.1 109.8,760.6 110,759.4 110.2,759.6 110.4,758.8 110.6,759.1 110.8,759.5 111,759.4 111.2,758.9 111.4,758.4 111.6,759.3 111.8,759.4 112,759.7 112.2,760.1 112.4,759 112.6,757.7 112.8,759 113,757.8 113.2,758.2 113.4,759.9 113.6,759.5 113.8,758.6 114.1,758.6 114.3,759 114.5,757.7 114.7,759.4 114.9,758.7 115.1,760.4 115.3,758.2 115.5,759.8 115.7,758.5 115.9,759.8 116.1,758.3 116.3,759.6 116.5,758.7 116.7,758.5 116.9,759 117.1,759.5 117.3,759.5 117.5,760.4 117.7,759.8 117.9,757.3 118.1,759 118.3,757.8 118.5,759 118.7,759.8 119,758.4 119.2,758.5 119.4,759.5 119.6,759.2 119.8,760.7 120,759.7 120.2,759.9 120.4,760.9 120.6,759.2 120.8,759.6 121,758.8 121.2,759.8 121.4,760.4 121.6,760.6 121.8,759.6 122,759.1 122.2,759 122.4,758.6 122.6,759.7 122.8,760.6 123,757.8 123.2,758 123.4,760.6 123.6,758.4 123.9,759.8 124.1,758.6 124.3,760.1 124.5,760.1 124.7,759.6 124.9,760.1 125.1,759.5 125.3,759.9 125.5,760.8 125.7,760.3 125.9,758.9 126.1,758.8 126.3,759.2 126.5,759.2 126.7,759.5 126.9,758.9 127.1,759.9 127.3,759.4 127.5,759.6 127.7,759.4 127.9,759.8 128.1,758.5 128.3,760.5 128.6,759.6 128.8,759.7 129,759.8 129.2,760.2 129.4,759.9 129.6,759.5 129.8,759.2 130,758.1 130.2,759.5 130.4,759.1 130.6,759.1 130.8,761.1 131,757.9 131.2,759.3 131.4,760.2 131.6,760 131.8,760.2 132,758.3 132.2,758.5 132.4,759.7 132.6,759 132.8,760.5 133,759.4 133.2,759.3 133.5,759.5 133.7,759 133.9,759.3 134.1,758.7 134.3,759.1 134.5,758.8 134.7,759.4 134.9,758.1 135.1,758 135.3,759.5 135.5,759.3 135.7,758.5 135.9,759 136.1,758.4 136.3,760.7 136.5,758 136.7,760.5 136.9,758.6 137.1,759.6 137.3,759.1 137.5,759 137.7,760 137.9,759.9 138.1,759.1 138.4,758.7 138.6,760.9 138.8,760.4 139,759.5 139.2,759.2 139.4,759.6 139.6,759.5 139.8,760.3 140,758.7 140.2,759.4 140.4,758.8 140.6,760.4 140.8,760.8 141,759.4 141.2,759.8 141.4,760.5 141.6,759.2 141.8,758.7 142,760.2 142.2,759.8 142.4,759.3 142.6,760.5 142.8,759.6 143,758.1 143.3,759.7 143.5,759.3 143.7,760.8 143.9,759.4 144.1,759.2 144.3,759.7 144.5,759.6 144.7,758.3 144.9,759.5 145.1,759.1 145.3,760.4 145.5,761.2 145.7,758.5 145.9,758.7 146.1,758.8 146.3,758.9 146.5,758.9 146.7,759.5 146.9,760.3 147.1,758.5 147.3,758.3 147.5,758.1 147.7,760.3 147.9,760.5 148.2,758.3 148.4,758.3 148.6,759.6 148.8,760.3 149,760.3 149.2,759.7 149.4,760 149.6,759.8 149.8,759.1 150,761 150.2,759.5 150.4,758.7 150.6,759.2 150.8,758.3 151,759.5 151.2,760.3 151.4,758.5 151.6,760.3 151.8,761 152,759.7 152.2,758.5 152.4,758.7 152.6,759.1 152.9,758.4 153.1,758.4 153.3,759.1 153.5,759.1 153.7,759.7 153.9,758.3 154.1,760.6 154.3,760 154.5,759.9 154.7,758.7 154.9,760.5 155.1,758.9 155.3,760.5 155.5,760 155.7,758.5 155.9,758.8 156.1,760.6 156.3,759.9 156.5,759.1 156.7,759.3 156.9,759.3 157.1,758.6 157.3,759.1 157.5,758.7 157.8,758.9 158,759.6 158.2,758.5 158.4,759.8 158.6,759.4 158.8,759.9 159,760 159.2,760.2 159.4,759.8 159.6,759.8 159.8,759.2 160,759.7 160.2,758.6 160.4,759.1 160.6,759.9 160.8,759.3 161,759.6 161.2,758.5 161.4,760.3 161.6,758.8 161.8,759.6 162,759.2 162.2,759.9 162.4,758.9 162.7,758.5 162.9,757.8 163.1,759 163.3,758.3 163.5,759.6 163.7,760.2 163.9,757.5 164.1,758.2 164.3,759.4 164.5,760.1 164.7,759.4 164.9,759.4 165.1,759.5 165.3,759.6 165.5,760.4 165.7,759.6 165.9,758.3 166.1,758.8 166.3,759.4 166.5,758.6 166.7,759.1 166.9,758.9 167.1,758.8 167.3,759.9 167.6,759.1 167.8,758.6 168,758.9 168.2,759.4 168.4,761 168.6,759.7 168.8,760.6 169,759.9 169.2,757.9 169.4,759.8 169.6,758.9 169.8,758.5 170,758.7 170.2,760.8 170.4,758.3 170.6,759 170.8,760.3 171,759.9 171.2,758 171.4,759.2 171.6,758.8 171.8,758.9 172,759.5 172.2,758.4 172.5,758.4 172.7,759.5 172.9,756.8 173.1,757.6 173.3,757.9 173.5,756.2 173.7,756.1 173.9,755 174.1,755.1 174.3,753 174.5,751.8 174.7,749 174.9,744.9 175.1,741.5 175.3,740.5 175.5,741.8 175.7,745.5 175.9,751.9 176.1,751.2 176.3,750.6 176.5,749 176.7,751.1 176.9,752.4 177.2,751.7 177.4,750.6 177.6,752.2 177.8,752.7 178,753.5 178.2,753.7 178.4,754.8 178.6,754.7 178.8,755.7 179,755.5 179.2,756.6 179.4,757.6 179.6,756.9 179.8,758.1 180,757.2 180.2,757.8 180.4,758.1 180.6,759.4 180.8,758 181,759.6 181.2,757.7 181.4,758.8 181.6,759.6 181.8,759.5 182.1,758.3 182.3,758.1 182.5,759.8 182.7,758.2 182.9,759.6 183.1,758.7 183.3,759.1 183.5,760.9 183.7,760.3 183.9,759.8 184.1,758.1 184.3,759.4 184.5,759.2 184.7,759.1 184.9,760.2 185.1,757.9 185.3,759.4 185.5,759.3 185.7,758.6 185.9,760.5 186.1,758.2 186.3,759.2 186.5,759.3 186.7,757.6 187,758.1 187.2,758.5 187.4,759.9 187.6,760 187.8,759.8 188,759.5 188.2,757.7 188.4,759.5 188.6,759 188.8,760.3 189,760.4 189.2,761.1 189.4,760 189.6,760.1 189.8,758.7 190,759.6 190.2,758.6 190.4,760.2 190.6,758.6 190.8,759.4 191,758.9 191.2,759.2 191.4,759.9 191.6,759.1 191.9,759.7 192.1,758.8 192.3,760.6 192.5,759 192.7,760.3 192.9,761.1 193.1,757.6 193.3,758.7 193.5,759.3 193.7,760.3 193.9,759 194.1,759.7 194.3,758.8 194.5,759.8 194.7,758.4 194.9,759.9 195.1,757 195.3,757.8 195.5,760.6 195.7,759.3 195.9,758.5 196.1,760.9 196.3,760 196.5,760 196.8,758.9 197,759.6 197.2,759.6 197.4,757.9 197.6,759.6 197.8,759 198,760.2 198.2,760.2 198.4,758.7 198.6,758.8 198.8,759.4 199,759.8 199.2,759 199.4,759.2 199.6,759.8 199.8,759.6 200,760.2 200.2,759.5 200.4,758.7 200.6,758 200.8,760 201,759.1 201.2,759.1 201.4,759.2 201.7,758.2 201.9,759.1 202.1,757.4 202.3,759.1 202.5,758.7 202.7,760.8 202.9,759.7 203.1,759.2 203.3,759.4 203.5,759.9 203.7,758.7 203.9,759.1 204.1,759 204.3,761.1 204.5,759.3 204.7,757.7 204.9,759.8 205.1,761.2 205.3,758.4 205.5,761.8 205.7,759.1 205.9,759.9 206.1,758.7 206.4,758.9 206.6,758.2 206.8,758.3 207,757.5 207.2,760 207.4,758.3 207.6,759.4 207.8,759.4 208,758.7 208.2,759.2 208.4,759.2 208.6,758.9 208.8,759.3 209,759.3 209.2,758.5 209.4,758.4 209.6,758.7 209.8,759.5 210,760.5 210.2,760.6 210.4,759.7 210.6,760.2 210.8,759.6 211,760.4 211.3,759.6 211.5,759.9 211.7,759.3 211.9,759.6 212.1,761 212.3,758.7 212.5,759.6 212.7,759.1 212.9,760.3 213.1,761 213.3,759.3 213.5,757.4 213.7,760 213.9,760 214.1,758.2 214.3,759.3 214.5,759.4 214.7,757.7 214.9,760 215.1,759.8 215.3,759.6 215.5,758.6 215.7,758.8 215.9,758.9 216.2,759.7 216.4,758.6 216.6,760.5 216.8,759.6 217,757.6 217.2,760.6 217.4,759.5 217.6,758.9 217.8,759.4 218,757.9 218.2,759.5 218.4,757.4 218.6,758.6 218.8,760.4 219,760.4 219.2,759.1 219.4,758.6 219.6,760.1 219.8,759.4 220,759.6 220.2,759.9 220.4,758.6 220.6,760 220.8,757.8 221.1,760.5 221.3,758.2 221.5,758.9 221.7,758.9 221.9,759.9 222.1,759.9 222.3,759.6 222.5,759.8 222.7,759.7 222.9,759.2 223.1,757.8 223.3,757.4 223.5,757.4 223.7,759.2 223.9,759 224.1,759 224.3,759.3 224.5,758.9 224.7,758.3 224.9,757.9 225.1,757.5 225.3,760 225.5,759.7 225.7,757.9 226,758.8 226.2,759.3 226.4,760.2 226.6,758.5 226.8,759.1 227,759.9 227.2,757.6 227.4,758.4 227.6,759 227.8,758.4 228,760.7 228.2,759.7 228.4,759.2 228.6,758.4 228.8,759.8 229,759.7 229.2,758.8 229.4,758.9 229.6,758.1 229.8,759.3 230,760 230.2,760.2 230.4,759.9 230.7,760.1 230.9,759 231.1,759.2 231.3,760.5 231.5,759.9 231.7,759 231.9,760 232.1,760.3 232.3,760.2 232.5,759.8 232.7,759.3 232.9,760 233.1,761 233.3,759.8 233.5,759.2 233.7,759.9 233.9,758.7 234.1,759.8 234.3,759.4 234.5,760.3 234.7,759.7 234.9,760.4 235.1,761.3 235.3,759.3 235.6,758.8 235.8,759.8 236,759.4 236.2,759.5 236.4,758.9 236.6,759.8 236.8,759.4 237,757.6 237.2,759.1 237.4,759.5 237.6,760.2 237.8,758.8 238,758.6 238.2,760.1 238.4,758.7 238.6,759.3 238.8,759.6 239,759.8 239.2,759.2 239.4,758.3 239.6,760 239.8,758.9 240,758.8 240.2,760.8 240.5,759.9 240.7,758.4 240.9,758.9 241.1,759.1 241.3,758.7 241.5,757.8 241.7,760 241.9,759.9 242.1,759.5 242.3,759 242.5,759.5 242.7,759.9 242.9,758.5 243.1,759.1 243.3,758.9 243.5,759.9 243.7,759.6 243.9,758.3 244.1,758.9 244.3,760.7 244.5,758.6 244.7,759.4 244.9,758.8 245.1,760.2 245.4,759.2 245.6,758.9 245.8,758.3 246,759 246.2,759.8 246.4,759.7 246.6,758.1 246.8,760.4 247,758.9 247.2,758.3 247.4,759.2 247.6,758.6 247.8,758.7 248,758.6 248.2,759 248.4,758.7 248.6,757.8 248.8,759.5 249,758.7 249.2,760.1 249.4,759.5 249.6,759.6 249.8,759.3 250,760.2 250.3,758.9 250.5,758.4 250.7,759.5 250.9,757.1 251.1,759 251.3,759.4 251.5,759 251.7,760.3 251.9,759.9 252.1,759.4 252.3,759 252.5,760.2 252.7,758.9 252.9,759.1 253.1,760 253.3,759.9 253.5,761 253.7,759.3 253.9,758 254.1,759.9 254.3,760.4 254.5,759.3 254.7,760.6 255,760.8 255.2,758.9 255.4,759.1 255.6,758.5 255.8,759.8 256,760 256.2,759.9 256.4,758.4 256.6,758.8 256.8,758.3 257,758.1 257.2,758.3 257.4,758.1 257.6,759.2 257.8,759.7 258,759.8 258.2,759.3 258.4,758.8 258.6,759.3 258.8,759.8 259,759.1 259.2,759.4 259.4,759.1 259.6,758.9 259.9,759.4 260.1,758.5 260.3,760.2 260.5,758.2 260.7,759.7 260.9,758.3 261.1,760.6 261.3,760.1 261.5,758.8 261.7,759.1 261.9,758.5 262.1,759.4 262.3,759.7 262.5,761.4 262.7,758.4 262.9,760.4 263.1,759 263.3,759.6 263.5,760.1 263.7,759.8 263.9,759.7 264.1,759.2 264.3,759.4 264.5,759.5 264.8,760.3 265,758.2 265.2,759 265.4,758.4 265.6,758.6 265.8,758.7 266,760.1 266.2,760.9 266.4,760.3 266.6,758.3 266.8,759.3 267,758.3 267.2,759.6 267.4,760.2 267.6,759.6 267.8,759.8 268,759 268.2,757.6 268.4,757.6 268.6,759 268.8,759.6 269,760.1 269.2,758.8 269.4,759.2 269.7,759.3 269.9,759.9 270.1,759 270.3,758.2 270.5,759.9 270.7,759.4 270.9,759.4 271.1,758.1 271.3,759.1 271.5,757.8 271.7,757.6 271.9,758.9 272.1,758.8 272.3,759.6 272.5,760.2 272.7,759.1 272.9,760.5 273.1,758.7 273.3,759.7 273.5,758.2 273.7,759.3 273.9,758.9 274.1,759 274.3,759.7 274.6,757.8 274.8,759.3 275,758.6 275.2,759.4 275.4,759.6 275.6,759 275.8,759 276,758.4 276.2,759.8 276.4,758.8 276.6,759.7 276.8,758.3 277,760.4 277.2,758.6 277.4,760.3 277.6,759.1 277.8,759.9 278,759.4 278.2,760 278.4,759.5 278.6,760.5 278.8,760 279,760.1 279.3,760.8 279.5,759 279.7,760.6 279.9,759.6 280.1,758.4 280.3,759.9 280.5,759.4 280.7,760.9 280.9,759.2 281.1,759.6 281.3,759.8 281.5,758.1 281.7,759.9 281.9,758.8 282.1,760.6 282.3,760.8 282.5,759.5 282.7,758.3 282.9,759.6 283.1,759.6 283.3,760 283.5,759.2 283.7,758.5 283.9,759.3 284.2,758.7 284.4,760.7 284.6,758.8 284.8,758.8 285,759.2 285.2,758.3 285.4,758.9 285.6,759.1 285.8,758.8 286,759 286.2,760.1 286.4,759.5 286.6,758.1 286.8,758.8 287,759.7 287.2,758.6 287.4,759.2 287.6,759.1 287.8,759.5 288,759 288.2,759 288.4,758.4 288.6,759.4 288.8,758.4 289.1,760.4 289.3,759.1 289.5,758.9 289.7,759.7 289.9,759.1 290.1,759.2 290.3,759.1 290.5,758.6 290.7,758.5 290.9,758.6 291.1,760.1 291.3,758.7 291.5,758.9 291.7,758.9 291.9,759.8 292.1,760.8 292.3,758.5 292.5,759.7 292.7,759.3 292.9,759 293.1,759.6 293.3,758.3 293.5,759.9 293.7,759.4 294,758.5 294.2,760.5 294.4,759.9 294.6,760.2 294.8,758.2 295,759.1 295.2,758.9 295.4,759.8 295.6,760.3 295.8,757.8 296,759.3 296.2,759.2 296.4,760 296.6,759.2 296.8,758.3 297,759.1 297.2,758.5 297.4,758.7 297.6,759.3 297.8,758.9 298,759.5 298.2,758.2 298.4,761.1 298.6,760.3 298.9,759.9 299.1,758.4 299.3,757.7 299.5,758.7 299.7,759.2 299.9,761.1 300.1,760.4 300.3,759 300.5,760.3 300.7,760.4 300.9,759.4 301.1,760.4 301.3,759.7 301.5,758.9 301.7,758.5 301.9,759.4 302.1,760.2 302.3,758.4 302.5,758.2 302.7,759.9 302.9,757.4 303.1,760.8 303.3,759.1 303.5,760 303.8,760.8 304,758.3 304.2,758.6 304.4,761.1 304.6,759.2 304.8,759.3 305,759.6 305.2,760.2 305.4,760.4 305.6,759.4 305.8,759.1 306,759.3 306.2,759.6 306.4,760.3 306.6,759.4 306.8,760.7 307,758.7 307.2,759.7 307.4,760.6 307.6,760.3 307.8,759.6 308,758.6 308.2,758.7 308.5,759.2 308.7,759.5 308.9,759.1 309.1,758.2 309.3,758.7 309.5,759.7 309.7,759.9 309.9,758.2 310.1,759 310.3,758 310.5,758.9 310.7,762 310.9,759.3 311.1,759 311.3,758.8 311.5,758.4 311.7,757.8 311.9,759.2 312.1,759.1 312.3,760.4 312.5,758 312.7,759.6 312.9,760.3 313.1,757.7 313.4,759.7 313.6,758 313.8,759.6 314,760.3 314.2,759.2 314.4,759.4 314.6,758.6 314.8,759.4 315,760 315.2,759 315.4,759 315.6,759.4 315.8,759.7 316,757.9 316.2,759.2 316.4,758.6 316.6,759.5 316.8,759.9 317,759.4 317.2,760.1 317.4,758.4 317.6,758.8 317.8,758.4 318,759.2 318.3,759.2 318.5,759 318.7,758.3 318.9,759.1 319.1,758.9 319.3,759.7 319.5,759 319.7,760.1 319.9,759.5 320.1,757.9 320.3,759.2 320.5,758.2 320.7,760.1 320.9,760.4 321.1,759.3 321.3,759.7 321.5,758.3 321.7,757.7 321.9,759 322.1,759.2 322.3,758.3 322.5,759.5 322.7,759.7 322.9,759.9 323.2,760.6 323.4,760.1 323.6,759.2 323.8,759.5 324,759.9 324.2,758.7 324.4,760.5 324.6,760.2 324.8,759.3 325,759 325.2,762.4 325.4,760.1 325.6,760.2 325.8,760.8 326,760.2 326.2,759.6 326.4,760 326.6,758.8 326.8,760 327,758.3 327.2,759.8 327.4,759.9 327.6,758.3 327.8,760.9 328.1,758.6 328.3,760.3 328.5,759 328.7,759.7 328.9,758.9 329.1,761.4 329.3,760.2 329.5,760.8 329.7,760 329.9,760 330.1,759.5 330.3,759.2 330.5,759.9 330.7,759.5 330.9,759.3 331.1,758.3 331.3,759.1 331.5,759.8 331.7,759 331.9,759.6 332.1,759.2 332.3,758.5 332.5,758.6 332.8,758.7 333,759 333.2,759 333.4,760 333.6,758.3 333.8,757.6 334,759.6 334.2,758.8 334.4,759 334.6,761 334.8,760.2 335,759.5 335.2,759.7 335.4,759.1 335.6,759.7 335.8,758.5 336,758.4 336.2,758.6 336.4,760.2 336.6,760.2 336.8,758.5 337,759.9 337.2,758.9 337.4,759.9 337.7,758.8 337.9,759.8 338.1,759 338.3,758.9 338.5,759.1 338.7,759.3 338.9,758.7 339.1,758.2 339.3,760.5 339.5,759 339.7,757.9 339.9,757.6 340.1,757.2 340.3,758.9 340.5,760.4 340.7,758.2 340.9,759.2 341.1,758.1 341.3,760.3 341.5,759.8 341.7,759.8 341.9,760.6 342.1,760.8 342.3,760.4 342.6,759.1 342.8,758.6 343,758.8 343.2,758.2 343.4,761 343.6,759.4 343.8,759.7 344,759.7 344.2,761.1 344.4,759.1 344.6,760.4 344.8,759.7 345,759.4 345.2,758 345.4,760.2 345.6,758.9 345.8,759.1 346,759.6 346.2,759.5 346.4,760.2 346.6,758.8 346.8,759.5 347,759.5 347.2,759.3 347.5,759.8 347.7,759.1 347.9,760.2 348.1,758.8 348.3,758.2 348.5,759.3 348.7,760.2 348.9,758.9 349.1,758.8 349.3,759.1 349.5,759.5 349.7,759.2 349.9,759.6 350.1,758 350.3,760.5 350.5,759.8 350.7,758.7 350.9,760.5 351.1,759.8 351.3,760.6 351.5,758.5 351.7,760.7 351.9,759.5 352.1,757.9 352.4,760 352.6,759.2 352.8,758.7 353,759.3 353.2,757.9 353.4,759.9 353.6,759.3 353.8,759.2 354,760.5 354.2,759.4 354.4,758.9 354.6,758.6 354.8,759.3 355,760.1 355.2,758.9 355.4,758.5 355.6,760 355.8,759.3 356,759.2 356.2,760.8 356.4,758.3 356.6,759.3 356.8,757.8 357.1,758.9 357.3,759.6 357.5,760 357.7,758.2 357.9,759.8 358.1,759.7 358.3,759 358.5,761 358.7,759.1 358.9,758.4 359.1,759.5 359.3,757.7 359.5,760.3 359.7,759.9 359.9,758.9 360.1,759.6 360.3,759.6 360.5,760.7 360.7,758.7 360.9,758.2 361.1,757.7 361.3,759 361.5,758.1 361.7,759.2 362,759.6 362.2,759 362.4,758.6 362.6,760.3 362.8,759.2 363,759.5 363.2,760.1 363.4,758.4 363.6,758.7 363.8,761.3 364,759.3 364.2,758.6 364.4,759.2 364.6,758.9 364.8,758.4 365,759.1 365.2,759.4 365.4,759.4 365.6,759.8 365.8,758 366,758.2 366.2,760 366.4,759 366.6,760.3 366.9,759.6 367.1,758.3 367.3,759.8 367.5,758.6 367.7,759.5 367.9,760.3 368.1,761 368.3,759.3 368.5,759.9 368.7,759.6 368.9,760 369.1,757.4 369.3,759.1 369.5,759.6 369.7,759.8 369.9,758.8 370.1,760 370.3,760.3 370.5,759.5 370.7,759.3 370.9,759.2 371.1,759.6 371.3,760.4 371.5,760.6 371.8,759.1 372,758.8 372.2,758.9 372.4,760.3 372.6,759.7 372.8,759.8 373,759.9 373.2,759.8 373.4,759.4 373.6,758.7 373.8,759.1 374,759.6 374.2,759.8 374.4,759.2 374.6,759.2 374.8,760.5 375,759.1 375.2,759.6 375.4,759.2 375.6,758.8 375.8,758.2 376,759 376.2,758.7 376.4,760 376.7,758.4 376.9,759 377.1,759.8 377.3,759.2 377.5,759.6 377.7,759.9 377.9,757.9 378.1,758.9 378.3,758.4 378.5,760.2 378.7,759.1 378.9,759.5 379.1,760.4 379.3,758.8 379.5,759.2 379.7,759.4 379.9,758.9 380.1,760 380.3,759.7 380.5,759.8 380.7,759.1 380.9,758.8 381.1,758.8 381.4,758.8 381.6,757.8 381.8,759.4 382,759.7 382.2,759.1 382.4,758.7 382.6,759.2 382.8,759.3 383,759.4 383.2,760.5 383.4,758.5 383.6,759.5 383.8,759.7 384,759.3 384.2,759 384.4,758.4 384.6,758.8 384.8,759.8 385,760.4 385.2,758.8 385.4,759.6 385.6,759.7 385.8,760.1 386,759.5 386.3,759.7 386.5,760 386.7,758.5 386.9,759.4 387.1,758 387.3,757.9 387.5,758.8 387.7,758.3 387.9,759.8 388.1,760.2 388.3,759.2 388.5,759.4 388.7,759.3 388.9,759.3 389.1,759.6 389.3,759.8 389.5,759.2 389.7,758.9 389.9,759.1 390.1,760.2 390.3,759.2 390.5,760.7 390.7,759.4 390.9,760.6 391.2,758.7 391.4,759 391.6,759.9 391.8,759.9 392,759.4 392.2,761.1 392.4,759.6 392.6,759.8 392.8,759.1 393,760.8 393.2,760.2 393.4,759.8 393.6,758.3 393.8,759.8 394,759.1 394.2,759.7 394.4,760.1 394.6,758.8 394.8,759.6 395,760 395.2,759.5 395.4,759.1 395.6,758.5 395.8,758.8 396.1,758.3 396.3,760 396.5,759.3 396.7,758.3 396.9,759.2 397.1,758.2 397.3,756.7 397.5,760.1 397.7,760.1 397.9,758.1 398.1,758.6 398.3,759.3 398.5,758.9 398.7,758.5 398.9,758.8 399.1,759 399.3,758.8 399.5,759.3 399.7,759 399.9,758.6 400.1,759.2 400.3,757.9 400.5,760.3 400.7,757.9 401,759.2 401.2,759.5 401.4,759.6 401.6,759.4 401.8,760.2 402,758.4 402.2,759.2 402.4,759.4 402.6,758.9 402.8,758.8 403,760.3 403.2,758.8 403.4,758.9 403.6,759.1 403.8,759.1 404,759.4 404.2,759.1 404.4,759.6 404.6,759.4 404.8,759.7 405,760.3 405.2,758.6 405.4,760.5 405.6,758.9 405.9,759.8 406.1,759.4 406.3,759 406.5,757.8 406.7,760.5 406.9,758.7 407.1,758.7 407.3,760 407.5,759.3 407.7,760.7 407.9,760.5 408.1,759.8 408.3,759.4 408.5,759.8 408.7,758.3 408.9,759.4 409.1,759.4 409.3,758.9 409.5,759.5 409.7,758.2 409.9,760 410.1,760.3 410.3,758.4 410.6,759.4 410.8,760.5 411,759.7 411.2,758.6 411.4,758.7 411.6,760 411.8,760.8 412,758.6 412.2,759.5 412.4,758.9 412.6,759.2 412.8,759.7 413,759.4 413.2,759 413.4,761.1 413.6,759.4 413.8,759.4 414,760.3 414.2,759.5 414.4,759.3 414.6,760.2 414.8,758.7 415,760 415.2,760.3 415.5,760 415.7,759.3 415.9,759.5 416.1,758.2 416.3,759.4 416.5,759.7 416.7,760.1 416.9,759.5 417.1,759.1 417.3,758.8 417.5,759.4 417.7,759.5 417.9,760.3 418.1,759.4 418.3,759 418.5,759.3 418.7,759 418.9,759.2 419.1,757.7 419.3,758.2 419.5,758.4 419.7,759.7 419.9,759.3 420.1,759.4 420.4,760.2 420.6,758.6 420.8,760.2 421,759.6 421.2,758.8 421.4,760.4 421.6,758.3 421.8,758.5 422,759.2 422.2,759.6 422.4,759.2 422.6,757.7 422.8,759.1 423,759.3 423.2,761.2 423.4,760.3 423.6,759.4 423.8,758.5 424,759.5 424.2,758.4 424.4,759.4 424.6,759.5 424.8,759 425,759.4 425.3,759 425.5,758.8 425.7,760.4 425.9,759.7 426.1,759 426.3,758.6 426.5,759.3 426.7,759.6 426.9,759.8 427.1,760.3 427.3,759.5 427.5,758.3 427.7,760.7 427.9,760 428.1,759.8 428.3,760.2 428.5,758.1 428.7,758.9 428.9,758.8 429.1,760.1 429.3,758.4 429.5,759 429.7,760.4 429.9,759.8 430.2,759 430.4,760.7 430.6,758.4 430.8,759.7 431,759.3 431.2,759.9 431.4,759.4 431.6,759 431.8,759.9 432,758.9 432.2,760.4 432.4,759.9 432.6,760.9 432.8,760.1 433,760.1 433.2,761.1 433.4,762 433.6,759.8 433.8,761.7 434,762.3 434.2,761.1 434.4,761.8 434.6,763.2 434.9,762.4 435.1,762.7 435.3,764.6 435.5,762.8 435.7,762.9 435.9,761.8 436.1,762.7 436.3,762.5 436.5,764.5 436.7,763.9 436.9,761.8 437.1,763.9 437.3,762.8 437.5,761.8 437.7,762.3 437.9,761.7 438.1,760.6 438.3,759.6 438.5,760 438.7,760.5 438.9,760.1 439.1,759.7 439.3,760.8 439.5,759.2 439.8,760.5 440,759.4 440.2,759.8 440.4,758.8 440.6,759.6 440.8,759 441,758.2 441.2,759.5 441.4,759.4 441.6,760.1 441.8,759.6 442,758.6 442.2,758.9 442.4,757.5 442.6,758.5 442.8,760.3 443,760.4 443.2,759.9 443.4,759.5 443.6,759.7 443.8,759.6 444,758 444.2,758.6 444.4,760.1 444.7,760.1 444.9,759.4 445.1,759 445.3,758.9 445.5,758.8 445.7,758.5 445.9,757.7 446.1,759.3 446.3,758.8 446.5,759 446.7,760.4 446.9,759.6 447.1,758.6 447.3,759.6 447.5,758 447.7,759.9 447.9,759.3 448.1,759 448.3,759.6 448.5,760.2 448.7,758.8 448.9,758.4 449.1,760.7 449.3,759.2 449.6,760.3 449.8,758.7 450,759.5 450.2,758.8 450.4,759.7 450.6,759.1 450.8,758.8 451,760.5 451.2,759.6 451.4,757.8 451.6,759.2 451.8,758.7 452,758.5 452.2,759 452.4,759 452.6,759.4 452.8,758.8 453,758 453.2,759 453.4,760.1 453.6,758.4 453.8,759.9 454,759.8 454.2,759.1 454.5,759.7 454.7,758.9 454.9,759.2 455.1,758.7 455.3,759.8 455.5,760.5 455.7,758.9 455.9,760.3 456.1,757.8 456.3,758.8 456.5,758.6 456.7,760.7 456.9,758.9 457.1,760 457.3,757.8 457.5,759.4 457.7,759.8 457.9,759.3 458.1,757.3 458.3,759.5 458.5,759.9 458.7,760.3 458.9,759.6 459.2,758.1 459.4,759.2 459.6,760 459.8,758.7 460,759.7 460.2,759 460.4,759.4 460.6,759.9 460.8,758.8 461,761.5 461.2,759.5 461.4,759.6 461.6,758.8 461.8,759.4 462,759.2 462.2,758.3 462.4,758.3 462.6,759.6 462.8,759.3 463,757.5 463.2,757.8 463.4,759.2 463.6,759.4 463.8,759.9 464.1,758.5 464.3,759.9 464.5,759.2 464.7,759 464.9,759.3 465.1,760.1 465.3,759.8 465.5,760.1 465.7,758.9 465.9,759.2 466.1,758.5 466.3,758.9 466.5,759 466.7,759 466.9,759.8 467.1,759.6 467.3,759.8 467.5,759.3 467.7,760 467.9,759.3 468.1,759.9 468.3,759.5 468.5,759.7 468.7,759.1 469,758.2 469.2,758 469.4,760.6 469.6,759.4 469.8,759.4 470,759 470.2,758.7 470.4,761.2 470.6,758.2 470.8,759 471,759 471.2,758.2 471.4,758.1 471.6,758.6 471.8,758.9 472,758.8 472.2,759.7 472.4,758.3 472.6,759.5 472.8,760.3 473,759.9 473.2,758.4 473.4,757 473.6,759.9 473.9,759.6 474.1,758.8 474.3,760.2 474.5,759 474.7,759.4 474.9,758.5 475.1,759.6 475.3,759 475.5,759 475.7,760.2 475.9,759.5 476.1,758.2 476.3,759.9 476.5,760 476.7,758.7 476.9,759.1 477.1,759.4 477.3,759.2 477.5,759.5 477.7,759.9 477.9,759 478.1,760.9 478.3,758.8 478.5,758.9 478.8,760.8 479,761.1 479.2,759.4 479.4,759.2 479.6,758.5 479.8,760.2 480,759.5 480.2,758.7 480.4,759.6 480.6,760.4 480.8,759.9 481,761 481.2,760.2 481.4,759.7 481.6,759.4 481.8,759.8 482,760.3 482.2,760.1 482.4,760.2 482.6,759.6 482.8,760 483,760.4 483.2,759.4 483.5,758.5 483.7,760.8 483.9,759.9 484.1,759.2 484.3,759.7 484.5,759.4 484.7,758.3 484.9,759.4 485.1,758.5 485.3,759.7 485.5,759.5 485.7,760.4 485.9,759.4 486.1,759.8 486.3,759.3 486.5,759.2 486.7,758.4 486.9,760.2 487.1,759.6 487.3,759 487.5,759.6 487.7,759.1 487.9,758.8 488.1,759.5 488.4,760.2 488.6,759.1 488.8,758.2 489,758.7 489.2,760.5 489.4,758.5 489.6,760 489.8,758.9 490,759.6 490.2,759 490.4,757.8 490.6,758.7 490.8,760.6 491,758.9 491.2,759.4 491.4,758.7 491.6,758.8 491.8,759.2 492,759.3 492.2,760.6 492.4,758.9 492.6,758.8 492.8,758.5 493,758 493.3,757.8 493.5,759.5 493.7,757.6 493.9,760.1 494.1,759.7 494.3,758.9 494.5,758.3 494.7,759.2 494.9,759.2 495.1,760.1 495.3,758.7 495.5,759 495.7,759.3 495.9,759.1 496.1,758.9 496.3,758.1 496.5,758.2 496.7,758.9 496.9,759.3 497.1,760.2 497.3,761.2 497.5,760.8 497.7,759.8 497.9,760.9 498.2,759.4 498.4,759.1 498.6,761.3 498.8,758.7 499,759.2 499.2,759.3 499.4,760.6 499.6,759.1 499.8,760.1 500,759.2 500.2,758.6 500.4,759.6 500.6,759.6 500.8,758.6 501,758.8 501.2,758.8 501.4,760.1 501.6,759.7 501.8,759.6 502,759.7 502.2,759 502.4,759.7 502.6,758.9 502.8,758.3 503.1,758.8 503.3,759.5 503.5,759.4 503.7,760.1 503.9,758.1 504.1,759.2 504.3,759.6 504.5,758.6 504.7,759.5 504.9,759 505.1,758.5 505.3,760.2 505.5,758.3 505.7,760.1 505.9,759.1 506.1,758.7 506.3,758.7 506.5,758.8 506.7,758.8 506.9,759.6 507.1,758 507.3,760.3 507.5,760 507.7,760.5 508,758.7 508.2,757.7 508.4,758.9 508.6,759.3 508.8,759.6 509,759 509.2,759.3 509.4,759.5 509.6,758.2 509.8,760.7 510,758.5 510.2,759.5 510.4,760.1 510.6,758.7 510.8,759.3 511,760.5 511.2,759 511.4,760 511.6,759.4 511.8,759.4 512,759.7 512.2,759 512.4,759 512.7,759.9 512.9,759.3 513.1,759.5 513.3,758.2 513.5,759.1 513.7,760 513.9,759.8 514.1,759.4 514.3,758.8 514.5,758.7 514.7,759.5 514.9,760.2 515.1,759.2 515.3,760.2 515.5,759 515.7,760.1 515.9,758.5 516.1,759.4 516.3,758.4 516.5,759.8 516.7,759.7 516.9,758.6 517.1,758.7 517.3,759 517.6,758.2 517.8,758.6 518,758.7 518.2,759.9 518.4,760.4 518.6,759 518.8,759.1 519,759.5 519.2,759 519.4,759.1 519.6,760 519.8,759.5 520,759.3 520.2,758.9 520.4,760.4 520.6,758.9 520.8,759.4 521,758.5 521.2,758.9 521.4,759.4 521.6,759 521.8,759.7 522,759.3 522.2,758.2 522.5,757.5 522.7,760 522.9,758.8 523.1,760.4 523.3,759.3 523.5,758.7 523.7,759.7 523.9,759.1 524.1,759.3 524.3,758.6 524.5,759.8 524.7,760.2 524.9,759 525.1,760.7 525.3,759 525.5,759.6 525.7,758.2 525.9,758 526.1,761.1 526.3,760.6 526.5,760.4 526.7,758.3 526.9,759.7 527.1,759.9 527.4,759.6 527.6,759.8 527.8,758.9 528,759.5 528.2,758.7 528.4,759.3 528.6,759.9 528.8,759 529,759.4 529.2,759.3 529.4,759.6 529.6,760.3 529.8,759.8 530,759.9 530.2,758.5 530.4,759.3 530.6,760.1 530.8,758.9 531,759.2 531.2,758.8 531.4,760.5 531.6,759.1 531.8,758.9 532,759.9 532.3,760.3 532.5,759.9 532.7,760.2 532.9,759.7 533.1,759.5 533.3,759.3 533.5,759.3 533.7,759.3 533.9,760.1 534.1,759.8 534.3,760 534.5,760.5 534.7,760.1 534.9,759.3 535.1,759.8 535.3,759.7 535.5,759.2 535.7,760.9 535.9,760 536.1,760 536.3,760.2 536.5,761.8 536.7,760.9 537,761.9 537.2,761.1 537.4,760.8 537.6,761.4 537.8,761.4 538,760.9 538.2,760 538.4,760.3 538.6,759.6 538.8,760.2 539,760.4 539.2,761.3 539.4,761.1 539.6,760.5 539.8,760.6 540,760 540.2,761.8 540.4,760.8 540.6,761.6 540.8,759.8 541,759.8 541.2,760.2 541.4,759.6 541.6,759.6 541.9,758.6 542.1,760.1 542.3,759.4 542.5,759.9 542.7,759.1 542.9,758 543.1,759.7 543.3,760.2 543.5,758.4 543.7,758.6 543.9,759.1 544.1,759.1 544.3,758.1 544.5,760.7 544.7,760.1 544.9,758.9 545.1,758 545.3,759.7 545.5,760.9 545.7,760.1 545.9,760.4 546.1,758.8 546.3,759.7 546.5,758.4 546.8,761 547,760 547.2,758 547.4,758.2 547.6,760 547.8,759.7 548,759.4 548.2,760.1 548.4,761.2 548.6,759.9 548.8,758.3 549,759.5 549.2,758.7 549.4,759 549.6,759.9 549.8,759.5 550,758.8 550.2,759.6 550.4,758.9 550.6,759.9 550.8,759.3 551,759.8 551.2,759.2 551.4,760 551.7,759.3 551.9,759.3 552.1,758.9 552.3,759.4 552.5,757.9 552.7,761.2 552.9,758.7 553.1,759.2 553.3,758.8 553.5,758.7 553.7,759.4 553.9,758.7 554.1,758.7 554.3,758 554.5,758.3 554.7,758.1 554.9,760.4 555.1,758 555.3,758.2 555.5,759.2 555.7,760.1 555.9,757.8 556.1,757.9 556.3,759.2 556.6,759.3 556.8,758 557,757.8 557.2,758.4 557.4,759.7 557.6,759.1 557.8,759.8 558,759.1 558.2,759.2 558.4,759.7 558.6,759.2 558.8,759.5 559,758.6 559.2,758.9 559.4,759.7 559.6,759.2 559.8,758.8 560,759.9 560.2,759.8 560.4,759.4 560.6,758.8 560.8,760 561,761.2 561.3,758.7 561.5,758.2 561.7,758.8 561.9,758.6 562.1,758.4 562.3,758.4 562.5,759.9 562.7,759.9 562.9,760.4 563.1,759.8 563.3,758.9 563.5,760 563.7,758.7 563.9,758.9 564.1,758.3 564.3,760.1 564.5,759.9 564.7,758.8 564.9,758.9 565.1,759.2 565.3,759.3 565.5,759.8 565.7,759.2 565.9,759.5 566.2,758.1 566.4,759 566.6,757.9 566.8,760.6 567,760.3 567.2,759.8 567.4,760.1 567.6,760.8 567.8,760 568,758.1 568.2,759.2 568.4,757.6 568.6,758.8 568.8,758.5 569,759.4 569.2,759.7 569.4,758.8 569.6,759.3 569.8,759.7 570,759.4 570.2,759.4 570.4,757.7 570.6,759.2 570.8,760.1 571.1,759.7 571.3,758.4 571.5,759.3 571.7,759.7 571.9,758.8 572.1,760 572.3,758.9 572.5,759.2 572.7,759.4 572.9,761.1 573.1,759.2 573.3,759 573.5,759.9 573.7,759 573.9,759.5 574.1,757.6 574.3,759.5 574.5,759.3 574.7,758.3 574.9,760.3 575.1,759.1 575.3,759.1 575.5,758.2 575.7,758 576,758.8 576.2,758.1 576.4,759.6 576.6,759.9 576.8,758.7 577,758 577.2,758.9 577.4,758.4 577.6,759.3 577.8,759.3 578,758.9 578.2,759.3 578.4,760 578.6,760.5 578.8,758.8 579,759.8 579.2,759.1 579.4,758.4 579.6,760.2 579.8,759.5 580,759.3 580.2,759.5 580.4,759.1 580.6,758.4 580.9,760.6 581.1,759.9 581.3,759.4 581.5,759.9 581.7,760.2 581.9,759.1 582.1,759.6 582.3,758.9 582.5,759.7 582.7,759 582.9,761 583.1,758.9 583.3,759.5 583.5,759.5 583.7,758.9 583.9,759.8 584.1,759 584.3,758.8 584.5,759.1 584.7,758.5 584.9,760 585.1,759.5 585.3,759.8 585.6,758.1 585.8,759.3 586,758.5 586.2,759.1 586.4,760 586.6,759.3 586.8,759 587,760 587.2,759.9 587.4,760.5 587.6,757.8 587.8,759.4 588,758.9 588.2,758.6 588.4,759.3 588.6,758.4 588.8,757.6 589,758.6 589.2,759.1 589.4,760.8 589.6,758.8 589.8,758.5 590,757.9 590.2,759.2 590.5,759.3 590.7,759.6 590.9,758.4 591.1,758.9 591.3,757.8 591.5,759.6 591.7,758.3 591.9,757.5 592.1,760.4 592.3,759.9 592.5,759.8 592.7,759.8 592.9,758.8 593.1,760.3 593.3,758.7 593.5,761 593.7,759.7 593.9,758.1 594.1,760.1 594.3,761 594.5,759.3 594.7,760.3 594.9,759.3 595.1,759 595.4,757.5 595.6,760.3 595.8,759.1 596,759.7 596.2,758.5 596.4,758.7 596.6,760.2 596.8,759.1 597,759 597.2,758.4 597.4,759.5 597.6,759.9 597.8,758.9 598,759.1 598.2,758.3 598.4,760.3 598.6,758.8 598.8,759.1 599,760.5 599.2,759 599.4,758 599.6,758.5 599.8,758.9 600,760.5 600.3,759.3 600.5,759 600.7,759.8 600.9,760.1 601.1,758.5 601.3,760.2 601.5,759.7 601.7,759.4 601.9,757.3 602.1,759.2 602.3,760.1 602.5,758.9 602.7,760.8 602.9,759.1 603.1,758.3 603.3,759.5 603.5,759.3 603.7,759.7 603.9,758.9 604.1,760 604.3,758.6 604.5,759.2 604.7,758.1 604.9,758.5 605.2,759.2 605.4,758.6 605.6,758.8 605.8,759 606,759.3 606.2,759.7 606.4,759.8 606.6,760 606.8,759.4 607,758.8 607.2,758.1 607.4,759 607.6,758.7 607.8,757.9 608,760.6 608.2,758 608.4,759.6 608.6,759.8 608.8,759.2 609,761.4 609.2,759.4 609.4,758.9 609.6,760.8 609.8,758.8 610.1,758.4 610.3,758.7 610.5,759 610.7,759.5 610.9,759.7 611.1,758.3 611.3,759.7 611.5,761.1 611.7,758.9 611.9,759.3 612.1,760 612.3,760.3 612.5,758.9 612.7,758.7 612.9,758.6 613.1,760.2 613.3,760 613.5,757.7 613.7,757.7 613.9,758.4 614.1,758.2 614.3,759.6 614.5,759.5 614.8,760.8 615,759.9 615.2,759.4 615.4,760.2 615.6,758.6 615.8,758.2 616,759.3 616.2,760 616.4,758.1 616.6,760 616.8,760 617,759 617.2,759.5 617.4,759.1 617.6,759.4 617.8,760 618,758.8 618.2,760.2 618.4,760.1 618.6,760.1 618.8,757.9 619,758 619.2,759.9 619.4,759 619.7,758.9 619.9,758.8 620.1,758.4 620.3,759.2 620.5,758.9 620.7,758.9 620.9,759.8 621.1,758.5 621.3,760.3 621.5,757.7 621.7,761.3 621.9,758.3 622.1,759.8 622.3,760 622.5,759.3 622.7,759.9 622.9,759.2 623.1,757.9 623.3,759.5 623.5,760.1 623.7,758.8 623.9,757.9 624.1,758.8 624.3,759.5 624.6,759.4 624.8,760 625,759.6 625.2,759.6 625.4,757.6 625.6,760.9 625.8,759.2 626,759.8 626.2,758.9 626.4,759.1 626.6,759.2 626.8,760.4 627,760.4 627.2,759.7 627.4,760.8 627.6,759 627.8,759.7 628,759 628.2,760.4 628.4,759.4 628.6,760.2 628.8,760.8 629,758 629.2,761.3 629.5,760 629.7,759.6 629.9,758.5 630.1,759.8 630.3,758.4 630.5,760.4 630.7,760.4 630.9,762 631.1,760.6 631.3,761.8 631.5,762.1 631.7,762.9 631.9,761.4 632.1,762.3 632.3,760.7 632.5,761.2 632.7,761.9 632.9,762.2 633.1,761.3 633.3,762 633.5,762.8 633.7,761.9 633.9,762 634.1,761.3 634.4,762.9 634.6,763.1 634.8,761.7 635,761.3 635.2,762.5 635.4,761.4 635.6,760.4 635.8,759.7 636,760.1 636.2,762.1 636.4,759.9 636.6,762.4 636.8,760.1 637,759.9 637.2,761 637.4,759.7 637.6,760.1 637.8,759 638,758.8 638.2,759.2 638.4,759.9 638.6,759.2 638.8,758.2 639.1,760 639.3,759.5 639.5,759.4 639.7,759.2 639.9,757.9 640.1,760.9 640.3,759.3 640.5,760 640.7,760.7 640.9,760.5 641.1,759.7 641.3,759.6 641.5,759.8 641.7,760.2 641.9,760 642.1,759.2 642.3,759.8 642.5,759.8 642.7,760 642.9,759.6 643.1,760.4 643.3,759.5 643.5,760 643.7,759.4 644,758.9 644.2,758.5 644.4,759.1 644.6,759.6 644.8,760.2 645,759.1 645.2,758.8 645.4,758.8 645.6,760.1 645.8,759.2 646,758.7 646.2,759.7 646.4,758.1 646.6,759.2 646.8,759.1 647,759 647.2,758.2 647.4,759.8 647.6,760.4 647.8,758.1 648,759.2 648.2,759.6 648.4,760.8 648.6,758.8 648.9,758.4 649.1,759.1 649.3,760.7 649.5,759.2 649.7,759.3 649.9,760.5 650.1,757.5 650.3,757.5 650.5,759.9 650.7,759.8 650.9,758.1 651.1,759.6 651.3,759.2 651.5,759.4 651.7,758.6 651.9,758.9 652.1,758.6 652.3,759.3 652.5,759.1 652.7,760.6 652.9,759.7 653.1,758.1 653.3,759.6 653.5,760.4 653.8,759.5 654,760.1 654.2,759.3 654.4,759.9 654.6,758.6 654.8,759.9 655,758.3 655.2,760.4 655.4,758.2 655.6,757.8 655.8,759.8 656,759.3 656.2,759.5 656.4,759.8 656.6,759.4 656.8,758.8 657,759.6 657.2,759.8 657.4,759.9 657.6,761 657.8,759 658,759.6 658.2,760 658.4,759.2 658.7,758.6 658.9,759.1 659.1,760.4 659.3,759.3 659.5,760 659.7,759 659.9,759.9 660.1,759 660.3,758.9 660.5,759.6 660.7,759.5 660.9,760.6" fill="none" stroke="#0000e6" stroke-width="2.4" stroke-linejoin="round"/>
<path d="M48.3,955 48.5,955.3 48.7,956.1 48.9,956.9 49.1,955.7 49.3,956.1 49.5,954.6 49.7,955.4 49.9,954.6 50.1,956.7 50.3,953.9 50.5,955.8 50.8,956.4 51,956.2 51.2,955.3 51.4,953.4 51.6,953.8 51.8,955.8 52,954.4 52.2,954.6 52.4,956.1 52.6,955.6 52.8,956.7 53,955.5 53.2,957.4 53.4,955.5 53.6,955.7 53.8,955.6 54,955.7 54.2,953.7 54.4,955.4 54.6,954.8 54.8,954.3 55,954.2 55.2,954.5 55.4,955.8 55.7,956.4 55.9,956.1 56.1,955.8 56.3,955.3 56.5,955.3 56.7,954.1 56.9,955.3 57.1,953.2 57.3,954 57.5,955.5 57.7,954 57.9,957.8 58.1,953.3 58.3,954.2 58.5,954.1 58.7,956.2 58.9,951.7 59.1,954.5 59.3,954.3 59.5,952.9 59.7,954.2 59.9,954.9 60.1,953.3 60.3,955 60.6,953.1 60.8,953.8 61,952.8 61.2,955.2 61.4,952.7 61.6,953.7 61.8,952 62,954.9 62.2,952.3 62.4,953.6 62.6,953.6 62.8,955.3 63,954 63.2,954 63.4,955.7 63.6,956.1 63.8,955.7 64,953.4 64.2,954.9 64.4,954.1 64.6,954.8 64.8,955 65,954.9 65.2,955.6 65.5,953.8 65.7,954.9 65.9,954.8 66.1,956.5 66.3,954.6 66.5,955.6 66.7,955.3 66.9,953.6 67.1,955.8 67.3,954.7 67.5,953.8 67.7,953.1 67.9,954.8 68.1,953.9 68.3,953.8 68.5,955.3 68.7,956.3 68.9,956 69.1,953.3 69.3,953.8 69.5,955.4 69.7,954.6 69.9,954.4 70.1,954.3 70.4,954 70.6,951.6 70.8,954.9 71,953.9 71.2,954.9 71.4,954.8 71.6,955.1 71.8,954.4 72,954.7 72.2,953.7 72.4,953.8 72.6,954.9 72.8,951.7 73,954.9 73.2,953 73.4,950.7 73.6,953.5 73.8,950.7 74,950 74.2,950.5 74.4,952.1 74.6,947.3 74.8,947.6 75.1,947 75.3,943.2 75.5,944 75.7,939.9 75.9,940 76.1,936.5 76.3,936.6 76.5,933.7 76.7,932.6 76.9,930.8 77.1,928.5 77.3,928.4 77.5,927.9 77.7,927 77.9,929.9 78.1,933.6 78.3,933.3 78.5,934.7 78.7,935.5 78.9,937.5 79.1,939.6 79.3,942.9 79.5,943.5 79.7,947.6 80,945.7 80.2,948 80.4,949 80.6,950.9 80.8,951.2 81,952.7 81.2,951.8 81.4,954.4 81.6,952.2 81.8,953 82,951.7 82.2,954.1 82.4,954.4 82.6,954.2 82.8,954.5 83,954.7 83.2,955.8 83.4,955.9 83.6,955.3 83.8,955 84,955.9 84.2,955.9 84.4,954.9 84.6,953.8 84.9,954.8 85.1,953.8 85.3,953.5 85.5,953.6 85.7,954.9 85.9,954.8 86.1,956.3 86.3,955.1 86.5,953.8 86.7,955.5 86.9,952.9 87.1,952.8 87.3,954.8 87.5,953.4 87.7,955.9 87.9,955.6 88.1,954.9 88.3,954.6 88.5,954.8 88.7,955.6 88.9,952.7 89.1,954.5 89.3,954.6 89.5,954.3 89.8,954.8 90,955.3 90.2,955.7 90.4,956.9 90.6,953.7 90.8,956.2 91,957 91.2,956.1 91.4,956.9 91.6,953.2 91.8,954.9 92,953.8 92.2,953.7 92.4,954.6 92.6,954.5 92.8,955.8 93,955.1 93.2,955.6 93.4,954.9 93.6,955.6 93.8,953.5 94,953.9 94.2,954.8 94.4,956.3 94.7,953.9 94.9,953.6 95.1,954.6 95.3,955.8 95.5,954 95.7,953.3 95.9,956.4 96.1,953.8 96.3,956.3 96.5,954.4 96.7,952.7 96.9,954.4 97.1,954 97.3,954.9 97.5,954.6 97.7,952.2 97.9,953.3 98.1,955.1 98.3,955.2 98.5,954.8 98.7,952.6 98.9,954.7 99.1,953.8 99.3,955.4 99.6,956.3 99.8,953.7 100,955.1 100.2,955.8 100.4,955.7 100.6,955.7 100.8,955.6 101,956.5 101.2,953.6 101.4,954.4 101.6,953.7 101.8,955 102,954.2 102.2,954.2 102.4,953 102.6,953.2 102.8,953.4 103,954.2 103.2,954.6 103.4,953.8 103.6,953.3 103.8,952.8 104,953.2 104.3,949.6 104.5,950.8 104.7,953 104.9,951.8 105.1,951.9 105.3,950.1 105.5,949.2 105.7,951.7 105.9,950.2 106.1,951.6 106.3,950.4 106.5,950.6 106.7,952.2 106.9,952.2 107.1,953.3 107.3,954.1 107.5,955.2 107.7,953.9 107.9,954.6 108.1,955.1 108.3,955 108.5,955.2 108.7,956.2 108.9,955.8 109.2,954.2 109.4,955.6 109.6,954 109.8,956.7 110,956.9 110.2,955.4 110.4,954.8 110.6,956.2 110.8,954.9 111,954.6 111.2,954.4 111.4,955.6 111.6,955.5 111.8,957.1 112,955.4 112.2,955.1 112.4,953.9 112.6,956.6 112.8,956.2 113,956.3 113.2,954.4 113.4,957.8 113.6,956.3 113.8,953.1 114.1,954.6 114.3,956.6 114.5,955.3 114.7,954.4 114.9,954.7 115.1,955.5 115.3,956.2 115.5,954.6 115.7,955.4 115.9,954.7 116.1,955.1 116.3,956 116.5,954.2 116.7,956.2 116.9,955.3 117.1,956.4 117.3,956 117.5,956.1 117.7,956.5 117.9,955.6 118.1,954.6 118.3,954 118.5,954.4 118.7,956.1 119,954.4 119.2,955.4 119.4,954 119.6,957.1 119.8,954.3 120,956.3 120.2,954.5 120.4,956.1 120.6,954.6 120.8,955.8 121,957.3 121.2,956.3 121.4,955.6 121.6,955.2 121.8,957.4 122,956.3 122.2,955.8 122.4,955.3 122.6,954.8 122.8,955.8 123,956.5 123.2,954.6 123.4,955.2 123.6,954 123.9,955.4 124.1,954.2 124.3,955.8 124.5,954.7 124.7,954.9 124.9,954.5 125.1,955.9 125.3,955.2 125.5,955.9 125.7,955.3 125.9,954.6 126.1,952.2 126.3,955.2 126.5,954.6 126.7,955.2 126.9,954.2 127.1,954.9 127.3,954.4 127.5,955.1 127.7,953 127.9,954 128.1,957.1 128.3,955.1 128.6,955.3 128.8,957.5 129,956.2 129.2,955.7 129.4,955.9 129.6,955 129.8,956.9 130,954.3 130.2,954.2 130.4,954.6 130.6,955.2 130.8,954.8 131,955.2 131.2,953.6 131.4,954.2 131.6,952.6 131.8,955 132,953.1 132.2,955.1 132.4,954.7 132.6,955.6 132.8,954.1 133,954.7 133.2,954 133.5,953.2 133.7,954.8 133.9,954.4 134.1,953.9 134.3,955 134.5,955.5 134.7,954.7 134.9,954.6 135.1,954.4 135.3,954.4 135.5,956 135.7,954.9 135.9,954.2 136.1,955.9 136.3,955.1 136.5,956.1 136.7,955.3 136.9,953.8 137.1,955.3 137.3,956.5 137.5,955.1 137.7,955.2 137.9,954.3 138.1,956.7 138.4,956.2 138.6,955.3 138.8,956.8 139,954 139.2,957.1 139.4,955.8 139.6,956.4 139.8,955.6 140,954 140.2,954.2 140.4,953.8 140.6,954.1 140.8,956.7 141,954.4 141.2,956.5 141.4,955.2 141.6,955.1 141.8,955.3 142,954.3 142.2,955.6 142.4,953.1 142.6,954.3 142.8,953.8 143,954.3 143.3,954.2 143.5,955.2 143.7,953.3 143.9,956.4 144.1,954.9 144.3,955.4 144.5,955.7 144.7,955.2 144.9,956.3 145.1,954.7 145.3,954.9 145.5,955.5 145.7,954.9 145.9,956.7 146.1,957.4 146.3,956.1 146.5,955.8 146.7,953 146.9,955.6 147.1,954.3 147.3,954.4 147.5,953.1 147.7,955 147.9,954.4 148.2,955.1 148.4,955.7 148.6,955.8 148.8,955.5 149,953.2 149.2,954.3 149.4,954.7 149.6,954.4 149.8,955 150,954.4 150.2,954.4 150.4,953.8 150.6,953.5 150.8,956.1 151,954.2 151.2,953.1 151.4,955.6 151.6,954.9 151.8,954.5 152,953.6 152.2,954.2 152.4,955.1 152.6,954.4 152.9,954 153.1,954.7 153.3,953.2 153.5,954.7 153.7,956.2 153.9,956 154.1,955.3 154.3,955.4 154.5,954.5 154.7,954.8 154.9,953.4 155.1,954.2 155.3,953.5 155.5,955.7 155.7,955.2 155.9,954 156.1,954.5 156.3,953.9 156.5,954.1 156.7,954.9 156.9,952.4 157.1,952.9 157.3,955.5 157.5,954.4 157.8,953.7 158,952.9 158.2,953.6 158.4,954.9 158.6,952.6 158.8,953.6 159,952.1 159.2,953 159.4,952.2 159.6,952.4 159.8,952.4 160,953.8 160.2,952.2 160.4,953.1 160.6,954.6 160.8,953.7 161,953.7 161.2,952.9 161.4,952.7 161.6,954.5 161.8,952.6 162,953.4 162.2,954.4 162.4,952.4 162.7,954 162.9,954.4 163.1,952.3 163.3,952 163.5,953.5 163.7,951.6 163.9,951.5 164.1,952.9 164.3,950.1 164.5,952 164.7,951.5 164.9,954 165.1,950.6 165.3,951.7 165.5,950.3 165.7,952.3 165.9,948.9 166.1,948.3 166.3,947.5 166.5,952.5 166.7,948.3 166.7,948.6 166.9,952 167.1,949.2 167.2,948.3 167.4,946.4 167.6,948.6 167.7,947.1 167.9,947.1 168,946.4 168.2,946.9 168.4,945.2 168.5,944.7 168.7,947 168.9,943.8 169,945.5 169.2,944.5 169.3,942.4 169.5,943.1 169.7,941.9 169.8,941 170,940.5 170.2,941 170.3,940.5 170.5,937.5 170.7,936.3 170.8,935.4 171,934.5 171.1,931.5 171.3,930.7 171.5,930.1 171.6,925.6 171.8,922.5 172,919 172.1,917.8 172.3,913.7 172.5,908 172.6,904.4 172.8,898.7 172.9,891.7 173.1,886.5 173.3,877.8 173.4,873.2 173.6,863.7 173.8,856.9 173.9,846.5 174.1,842.2 174.3,833.9 174.4,823.1 174.6,817.7 174.7,809.5 174.9,800.7 175.1,793.6 175.2,790.7 175.4,783.1 175.6,780.7 175.7,778.3 175.9,777.7 176,779.8 176.2,780.6 176.4,786 176.5,792.8 176.7,799 176.9,804.8 177,813.2 177.2,820.8 177.4,831.5 177.5,839.6 177.7,845 177.8,856.3 178,861.5 178.2,870.2 178.3,879.2 178.5,887.2 178.7,890.5 178.8,898.1 179,903.3 179.2,909.5 179.3,910 179.5,915.5 179.6,919.2 179.8,921.9 180,925 180.1,927.8 180.3,929.6 180.5,932.7 180.6,937.3 180.8,934.9 180.9,936.7 181.1,938.5 181.3,937.8 181.4,942.2 181.6,944.9 181.8,940.6 181.9,942.5 182.1,945.5 182.3,944.7 182.4,944 182.6,946.5 182.7,945 182.9,943.6 183.1,944.8 183.2,946.7 183.4,946.6 183.6,948.3 183.7,947.4 183.9,948.2 184.1,949.1 184.2,949.7 184.4,946.4 184.5,948.6 184.7,950 184.9,949.6 185,947.8 185.1,947.7 185.3,950.4 185.5,949.7 185.7,949.3 185.9,950.8 186.1,951.9 186.3,951.9 186.5,951.1 186.7,952.2 187,952.9 187.2,952.1 187.4,951.1 187.6,951.5 187.8,952.6 188,950.6 188.2,953.6 188.4,953 188.6,954.5 188.8,952.4 189,953.4 189.2,955.1 189.4,954.3 189.6,951.7 189.8,952.9 190,953.5 190.2,952.8 190.4,955.3 190.6,954.5 190.8,955 191,954.4 191.2,953.9 191.4,953 191.6,952.4 191.9,952.3 192.1,950.5 192.3,953.7 192.5,953.1 192.7,952.4 192.9,953.7 193.1,953 193.3,952.2 193.5,953.4 193.7,951.9 193.9,951.1 194.1,953.5 194.3,954.6 194.5,952.3 194.7,953.5 194.9,952.4 195.1,953.2 195.3,952.6 195.5,952 195.7,952.5 195.9,953.9 196.1,954.9 196.3,956.4 196.5,956.3 196.8,955.1 197,954.3 197.2,955.2 197.4,955.3 197.6,956.4 197.8,956.5 198,956.6 198.2,954.4 198.4,957 198.6,954.4 198.8,956 199,954.6 199.2,954.8 199.4,954.3 199.6,953.9 199.8,955.8 200,955.9 200.2,955.3 200.4,955.6 200.6,954.2 200.8,954.9 201,954.8 201.2,954.3 201.4,955.1 201.7,953.6 201.9,956.4 202.1,954.4 202.3,954.1 202.5,955.4 202.7,955.3 202.9,953.8 203.1,955 203.3,956.6 203.5,956 203.7,953.8 203.9,955.7 204.1,953.6 204.3,953.6 204.5,955.2 204.7,954.6 204.9,956 205.1,955.6 205.3,956 205.5,954.8 205.7,956.6 205.9,955.6 206.1,955.5 206.4,955.1 206.6,957.6 206.8,957.3 207,956.5 207.2,955.9 207.4,955.5 207.6,955.5 207.8,953.7 208,955 208.2,955.1 208.4,956.1 208.6,954.8 208.8,954.9 209,954.8 209.2,955.5 209.4,954.8 209.6,953.9 209.8,956 210,957.3 210.2,954.4 210.4,954.5 210.6,955.4 210.8,955.5 211,952.5 211.3,955.5 211.5,956.2 211.7,955.5 211.9,954.6 212.1,955.6 212.3,955.5 212.5,954.8 212.7,955.5 212.9,955 213.1,955.2 213.3,956.3 213.5,955.2 213.7,956.4 213.9,954.5 214.1,956.3 214.3,955.7 214.5,957.3 214.7,956 214.9,956.8 215.1,954.3 215.3,955.8 215.5,955.3 215.7,957.4 215.9,957 216.2,956 216.4,957.1 216.6,954.7 216.8,956.2 217,955.7 217.2,955.5 217.4,955.9 217.6,955 217.8,956.3 218,955.3 218.2,954.5 218.4,955.4 218.6,955.5 218.8,955.8 219,955.4 219.2,954.8 219.4,955.7 219.6,957 219.8,955.2 220,955.5 220.2,954.9 220.4,955.3 220.6,953.9 220.8,956.5 221.1,956.2 221.3,954.7 221.5,956.3 221.7,955.1 221.9,955.4 222.1,957.3 222.3,954.9 222.5,954.3 222.7,955.4 222.9,956.9 223.1,955 223.3,956.7 223.5,955.9 223.7,955.5 223.9,956.6 224.1,957.5 224.3,956.1 224.5,956.1 224.7,956.8 224.9,956.8 225.1,955.4 225.3,956.2 225.5,956.6 225.7,956.7 226,956 226.2,956 226.4,956.3 226.6,957.4 226.8,956.4 227,956.6 227.2,955.9 227.4,954.9 227.6,955 227.8,955.3 228,955.7 228.2,956 228.4,955.4 228.6,956.1 228.8,955.9 229,956.3 229.2,955.6 229.4,955.5 229.6,953.7 229.8,954.9 230,955.7 230.2,954.6 230.4,955.8 230.7,954.4 230.9,954.6 231.1,952.6 231.3,956.3 231.5,955.3 231.7,955.3 231.9,954.9 232.1,954.4 232.3,956 232.5,955.7 232.7,954.6 232.9,953.9 233.1,955.8 233.3,956.1 233.5,953.4 233.7,953.5 233.9,953.1 234.1,955 234.3,954 234.5,953.5 234.7,953.1 234.9,953.5 235.1,953.3 235.3,952.1 235.6,953.5 235.8,953.5 236,953.4 236.2,953.5 236.4,952.9 236.6,953.3 236.8,953.6 237,951.9 237.2,953.1 237.4,953.8 237.6,952.4 237.8,954.3 238,953.8 238.2,954 238.4,954.6 238.6,954.5 238.8,954.1 239,955.6 239.2,954.7 239.4,954.2 239.6,954.2 239.8,954.2 240,952.4 240.2,954 240.5,954.8 240.7,954.9 240.9,954.8 241.1,954.5 241.3,955.2 241.5,953.6 241.7,956 241.9,954.5 242.1,954.7 242.3,956.2 242.5,954.6 242.7,954.7 242.9,955.8 243.1,953.1 243.3,954.6 243.5,955.5 243.7,955.6 243.9,955.8 244.1,954.8 244.3,954.9 244.5,956.2 244.7,955.7 244.9,955.3 245.1,954.9 245.4,954.7 245.6,954.9 245.8,953.5 246,953 246.2,953.6 246.4,955.5 246.6,953.3 246.8,952.3 247,952.6 247.2,952 247.4,951.8 247.6,952.9 247.8,953.5 248,949.9 248.2,950.5 248.4,949 248.6,949.1 248.8,948.3 249,946 249.2,947.8 249.4,945.7 249.6,946 249.8,943.8 250,942.4 250.3,941.1 250.5,940.6 250.7,941.1 250.9,938.3 251.1,936.4 251.3,935.2 251.5,932.8 251.7,933.6 251.9,934.4 252.1,933 252.3,931.7 252.5,930 252.7,932.1 252.9,929.6 253.1,929.9 253.3,931.8 253.5,930.4 253.7,932.5 253.9,932.3 254.1,933.5 254.3,933.8 254.5,936.4 254.7,935.5 255,939.6 255.2,938.8 255.4,940.1 255.6,938.9 255.8,941.1 256,943.3 256.2,944.8 256.4,944.8 256.6,946.4 256.8,944.4 257,950.3 257.2,948.2 257.4,951.5 257.6,948.7 257.8,951.2 258,949.4 258.2,952.1 258.4,951 258.6,952.3 258.8,951.8 259,953.3 259.2,956.4 259.4,954.6 259.6,955.7 259.9,953.6 260.1,954.2 260.3,954.9 260.5,954.7 260.7,955.1 260.9,955.9 261.1,953.7 261.3,955.3 261.5,955.8 261.7,957 261.9,956.3 262.1,955.7 262.3,955.9 262.5,956.1 262.7,955.7 262.9,956.6 263.1,955.6 263.3,956.9 263.5,956.2 263.7,956.1 263.9,954.6 264.1,954.8 264.3,955.2 264.5,956.2 264.8,955.5 265,954.4 265.2,953.9 265.4,956.3 265.6,955.4 265.8,954.9 266,954.7 266.2,955 266.4,954.4 266.6,956.3 266.8,953.6 267,956.1 267.2,955 267.4,954.6 267.6,954.1 267.8,954.3 268,954.3 268.2,953.9 268.4,955.2 268.6,954.4 268.8,953.6 269,955.7 269.2,956.2 269.4,955.8 269.7,953.5 269.9,953.6 270.1,955 270.3,954.3 270.5,954.1 270.7,953.5 270.9,956.2 271.1,955 271.3,954.7 271.5,954.2 271.7,954.4 271.9,954.8 272.1,954.3 272.3,956.9 272.5,951.8 272.7,953.9 272.9,953.9 273.1,955.3 273.3,954.4 273.5,952.9 273.7,953.2 273.9,954.8 274.1,956 274.3,954.8 274.6,955.3 274.8,954.3 275,956.2 275.2,955.4 275.4,955 275.6,955.8 275.8,954.5 276,956.5 276.2,956.7 276.4,956 276.6,955.1 276.8,956.2 277,956.5 277.2,955.4 277.4,956 277.6,956.7 277.8,956.2 278,956.6 278.2,955.9 278.4,956.3 278.6,957.1 278.8,956.9 279,956.8 279.3,956.1 279.5,956.1 279.7,957.1 279.9,956.4 280.1,956 280.3,955.2 280.5,955.9 280.7,954.3 280.9,955.9 281.1,955.2 281.3,956 281.5,956.5 281.7,955.5 281.9,955.1 282.1,955.2 282.3,955.3 282.5,955.6 282.7,956 282.9,955.5 283.1,954.9 283.3,954.5 283.5,958.1 283.7,954.8 283.9,954.4 284.2,954.3 284.4,955.2 284.6,955 284.8,956 285,955.8 285.2,955.4 285.4,956.9 285.6,956.7 285.8,955.9 286,957.3 286.2,956.2 286.4,957.6 286.6,956.2 286.8,956.4 287,957 287.2,957.3 287.4,957 287.6,958.5 287.8,956.9 288,956.4 288.2,955.5 288.4,956.9 288.6,956.6 288.8,955.2 289.1,954.8 289.3,956.7 289.5,955.3 289.7,955.1 289.9,955.6 290.1,956.8 290.3,956.7 290.5,955.3 290.7,953.8 290.9,955.9 291.1,954.3 291.3,954 291.5,956.7 291.7,956.1 291.9,954.3 292.1,954.8 292.3,955.2 292.5,955.7 292.7,955.2 292.9,956.4 293.1,953.7 293.3,956.9 293.5,957.6 293.7,956 294,955 294.2,956.7 294.4,956.4 294.6,957.3 294.8,956.6 295,957.5 295.2,957.5 295.4,958 295.6,957.3 295.8,955.2 296,956.9 296.2,956.7 296.4,954.9 296.6,957.4 296.8,957.7 297,956.4 297.2,957.8 297.4,956.4 297.6,955.7 297.8,957.5 298,957 298.2,955 298.4,957.3 298.6,956.9 298.9,956 299.1,956.4 299.3,956.8 299.5,954.6 299.7,956.4 299.9,955.6 300.1,956.2 300.3,956 300.5,956.9 300.7,954.9 300.9,956.1 301.1,954.6 301.3,956.7 301.5,956.2 301.7,955.4 301.9,955.7 302.1,956.4 302.3,956 302.5,957.1 302.7,955.9 302.9,958.3 303.1,955.9 303.3,954.9 303.6,955.4 303.8,955.5 304,956.6 304.2,955.8 304.4,956.6 304.6,956.3 304.8,956.3 305,959.2 305.2,955.4 305.4,955.8 305.6,955.4 305.8,956.9 306,955.4 306.2,955.5 306.4,957.8 306.6,957.3 306.8,955.6 307,956.1 307.2,955.4 307.4,955.9 307.6,953.9 307.8,956.8 308,956.2 308.2,955.7 308.5,956 308.7,955.2 308.9,954.6 309.1,955.7 309.3,954.1 309.5,953.1 309.7,953.3 309.9,952.4 310.1,953.1 310.3,954.1 310.5,952.4 310.7,953.3 310.9,952.1 311.1,953.9 311.3,955.6 311.5,954.6 311.7,953.3 311.9,952.8 312.1,953.3 312.3,952 312.5,953.8 312.7,953 312.9,951.1 313.1,951.5 313.4,951 313.6,949.1 313.8,948.7 314,949.7 314.2,947.8 314.4,948.6 314.6,945.7 314.8,943.9 315,944.6 315.2,939.4 315.4,937.1 315.6,936.6 315.8,934 316,931 316.2,930.5 316.4,926.6 316.6,924.9 316.8,924.5 317,921.3 317.2,918.6 317.4,914.4 317.6,913.6 317.8,910.9 318,911.5 318.3,911.7 318.5,907.4 318.7,906.9 318.9,910.5 319.1,912.4 319.3,912.4 319.5,917.1 319.7,918.2 319.9,922 320.1,922.3 320.3,925.1 320.5,928.4 320.7,931.1 320.9,934.5 321.1,936 321.3,936 321.5,939.7 321.7,939.9 321.9,943.8 322.1,944.6 322.3,946.3 322.5,947.4 322.7,947.5 322.9,951.2 323.2,949.3 323.4,950.1 323.6,951.4 323.8,951.8 324,952.6 324.2,952.1 324.4,953 324.6,954.1 324.8,953.4 325,952.8 325.2,953.5 325.4,954 325.6,953.9 325.8,954.6 326,954.7 326.2,956 326.4,954.6 326.6,953.6 326.8,954.9 327,955.4 327.2,953.8 327.4,954.5 327.6,954.6 327.8,954.3 328.1,954.2 328.3,954.9 328.5,955.6 328.7,953.4 328.9,955 329.1,955.7 329.3,954.9 329.5,954.1 329.7,956.4 329.9,954 330.1,955.3 330.3,953.4 330.5,954.6 330.7,955.2 330.9,953.9 331.1,953.8 331.3,955.1 331.5,954.4 331.7,954.9 331.9,953.4 332.1,955.3 332.3,953.9 332.5,955.4 332.8,952.6 333,954.9 333.2,953.5 333.4,952 333.6,952.3 333.8,952.1 334,952.4 334.2,951.8 334.4,952.9 334.6,951 334.8,950.6 335,950.8 335.2,951.7 335.4,950.8 335.6,951.7 335.8,951.6 336,952.4 336.2,953 336.4,954 336.6,956 336.8,953.3 337,954.2 337.2,952.6 337.4,956.3 337.7,954 337.9,955.8 338.1,955.1 338.3,956 338.5,955.1 338.7,955.6 338.9,954.9 339.1,955.7 339.3,955.5 339.5,954.9 339.7,955.6 339.9,956.3 340.1,955.2 340.3,956.4 340.5,956 340.7,956.7 340.9,957 341.1,959 341.3,955.9 341.5,957.5 341.7,955.9 341.9,955 342.1,957.6 342.3,955.8 342.6,956.5 342.8,956.1 343,957.4 343.2,956.3 343.4,956.2 343.6,955.1 343.8,954.4 344,955.9 344.2,956.4 344.4,954.2 344.6,956.1 344.8,956 345,955.9 345.2,955.5 345.4,955.3 345.6,956.3 345.8,955.9 346,954.3 346.2,954.5 346.4,955.5 346.6,955.6 346.8,956.1 347,955.1 347.2,956.4 347.5,955.9 347.7,956.4 347.9,956.6 348.1,956.1 348.3,956.2 348.5,956.7 348.7,956.4 348.9,956.3 349.1,956.8 349.3,957 349.5,956.6 349.7,956 349.9,955.7 350.1,956.4 350.3,956.8 350.5,956.6 350.7,955.1 350.9,955.9 351.1,957.4 351.3,956.6 351.5,957 351.7,956.8 351.9,957.8 352.1,956.4 352.4,957.5 352.6,956.8 352.8,955 353,955.4 353.2,956.8 353.4,956.9 353.6,956.8 353.8,957.5 354,956.7 354.2,956.1 354.4,956.7 354.6,955.3 354.8,955.9 355,956.3 355.2,954.4 355.4,955.3 355.6,955.9 355.8,954.5 356,954.9 356.2,956.6 356.4,955.9 356.6,956.5 356.8,957.4 357.1,954.8 357.3,955.2 357.5,957.5 357.7,956.2 357.9,958 358.1,955.8 358.3,956.8 358.5,957.1 358.7,955.8 358.9,956.9 359.1,957.2 359.3,956.2 359.5,957.2 359.7,956.3 359.9,957 360.1,956.3 360.3,956.4 360.5,956.3 360.7,957.7 360.9,955.3 361.1,956.9 361.3,955.3 361.5,957.1 361.7,956.8 362,956.7 362.2,955.5 362.4,956.8 362.6,956 362.8,957.6 363,956.7 363.2,956 363.4,956.3 363.6,957.7 363.8,955.8 364,957 364.2,954.6 364.4,956.4 364.6,954.4 364.8,955.8 365,956 365.2,956.8 365.4,956.6 365.6,956.2 365.8,958.3 366,955.9 366.2,957.8 366.4,957.1 366.6,959.2 366.9,956.6 367.1,956.5 367.3,956.9 367.5,956.9 367.7,957.5 367.9,957.1 368.1,956.2 368.3,957.6 368.5,956.8 368.7,956.6 368.9,957.3 369.1,956.9 369.3,956.8 369.5,957.3 369.7,954.8 369.9,957.1 370.1,955.2 370.3,955.7 370.5,958.1 370.7,956.1 370.9,955.4 371.1,955.4 371.3,956.8 371.5,955.7 371.8,956.9 372,956.6 372.2,955.9 372.4,955.5 372.6,954.2 372.8,955.2 373,954.5 373.2,956.4 373.4,956.3 373.6,955.7 373.8,953.8 374,956.3 374.2,956.5 374.4,955.1 374.6,953.9 374.8,956.2 375,954.9 375.2,955.7 375.4,953 375.6,953.5 375.8,953.6 376,953.5 376.2,953.4 376.4,952.7 376.7,953 376.9,952.7 377.1,952.5 377.3,950.9 377.5,951.2 377.7,949.1 377.9,951.4 378.1,948.4 378.3,948 378.5,946.9 378.7,948 378.9,949 379.1,948.3 379.3,946.3 379.5,947.7 379.7,948 379.9,948.3 380.1,948.1 380.3,948.6 380.5,950.3 380.7,949.8 380.9,948.7 381.1,948.7 381.4,950.7 381.6,951.5 381.8,950.2 382,952 382.2,953.3 382.4,952.8 382.6,952.4 382.8,952 383,954.2 383.2,953.6 383.4,954.6 383.6,953.6 383.8,954.6 384,954.9 384.2,956.1 384.4,955.7 384.6,955.9 384.8,958.8 385,955.1 385.2,955.9 385.4,956.1 385.6,956.3 385.8,956 386,955.8 386.3,957 386.5,955.7 386.7,955.6 386.9,955.6 387.1,956.8 387.3,955.4 387.5,956.2 387.7,954.6 387.9,953.5 388.1,953.7 388.3,954.5 388.5,954.4 388.7,954.1 388.9,953 389.1,953.6 389.3,953.2 389.5,954.7 389.7,953 389.9,952.6 390.1,952.2 390.3,950.4 390.5,952.6 390.7,952.4 390.9,950.6 391.2,952 391.4,951.3 391.6,951.1 391.8,951.4 392,952.4 392.2,951.1 392.4,950.9 392.6,953.5 392.8,953.1 393,952.4 393.2,953.8 393.4,954.8 393.6,954.6 393.8,953.8 394,955.7 394.2,954.9 394.4,955 394.6,956.1 394.8,955.2 395,955.2 395.2,955.1 395.4,955.2 395.6,957.4 395.8,955.4 396.1,955.7 396.3,955.3 396.5,956.9 396.7,955.4 396.9,955.8 397.1,957 397.3,955 397.5,956.7 397.7,956.8 397.9,955.6 398.1,956.4 398.3,955.6 398.5,956.1 398.7,955.7 398.9,955.2 399.1,956 399.3,955.3 399.5,955.3 399.7,956.8 399.9,955.4 400.1,955.7 400.3,956.2 400.5,955.4 400.7,955.1 401,955.9 401.2,957.8 401.4,956.3 401.6,956.9 401.8,957 402,956.6 402.2,957.2 402.4,955.7 402.6,956.8 402.8,957.1 403,956.5 403.2,956.4 403.4,956.1 403.6,956.6 403.8,957.1 404,956.9 404.2,958.7 404.4,958.1 404.6,956 404.8,957 405,955.2 405.2,955.2 405.4,957.6 405.7,956.2 405.9,954 406.1,957 406.3,955.9 406.5,956.4 406.7,956.3 406.9,956.3 407.1,956.1 407.3,955.4 407.5,956.7 407.7,955.6 407.9,956.6 408.1,955.6 408.3,955.8 408.5,956.7 408.7,956 408.9,956.8 409.1,956.9 409.3,955.3 409.5,957.8 409.7,955.9 409.9,955.9 410.1,957 410.3,955.7 410.6,955.9 410.8,957.7 411,956.3 411.2,956.4 411.4,957.4 411.6,956.3 411.8,956.2 412,957.4 412.2,958.4 412.4,956.4 412.6,957.3 412.8,958 413,956.9 413.2,958.5 413.4,956.7 413.6,955.1 413.8,958.6 414,955.8 414.2,956.8 414.4,956.3 414.6,956.7 414.8,955.3 415,955.7 415.2,956.3 415.5,956.7 415.7,955.9 415.9,954.5 416.1,956.4 416.3,955 416.5,955.1 416.7,957 416.9,954.4 417.1,955.3 417.3,953.4 417.5,953.9 417.7,955.5 417.9,955.5 418.1,956.2 418.3,956.5 418.5,954.7 418.7,955.7 418.9,955.8 419.1,955.6 419.3,954.9 419.5,954.7 419.7,955.5 419.9,955.7 420.1,955.4 420.4,953.7 420.6,957.2 420.8,956.4 421,954.9 421.2,955.1 421.4,954.1 421.6,953.9 421.8,953.3 422,955.5 422.2,954.2 422.4,954.8 422.6,953.6 422.8,954.2 423,953.4 423.2,954.7 423.4,953.7 423.6,954.1 423.8,953.8 424,953.8 424.2,954.1 424.4,952 424.6,952.6 424.8,951.7 425,953.3 425.3,954 425.5,952.6 425.7,952 425.9,950.9 426.1,950.4 426.3,950 426.5,949.5 426.7,949.9 426.9,950.1 427.1,950.6 427.3,948.8 427.5,949.5 427.7,949.2 427.9,947.4 428.1,947.1 428.3,945.7 428.5,946.5 428.7,943.7 428.9,943.5 429.1,942.9 429.3,942.3 429.5,941.3 429.7,940.2 429.9,935.7 430.2,937 430.4,933 430.6,932 430.8,930.3 431,928 431.2,925.3 431.4,921.8 431.6,919.8 431.8,918.1 432,917.3 432.2,915.6 432.4,909.2 432.6,910.7 432.8,909.7 433,905.1 433.2,907.2 433.4,903.6 433.6,902.9 433.8,903.4 434,902.5 434.2,905.6 434.4,905.8 434.6,905.1 434.9,905.7 435.1,906.8 435.3,907.4 435.5,910.3 435.7,913.6 435.9,912.5 436.1,915.2 436.3,916.2 436.5,917 436.7,921.5 436.9,923.2 437.1,927.1 437.3,927.3 437.5,930.1 437.7,932.2 437.9,933.4 438.1,937.4 438.3,937.3 438.5,939 438.7,939.3 438.9,944 439.1,943.5 439.3,942.3 439.5,945.9 439.8,946.8 440,945.5 440.2,945.5 440.4,948.5 440.6,949.8 440.8,950.2 441,950.5 441.2,951.3 441.4,951.7 441.6,951.1 441.8,951.5 442,951.4 442.2,952 442.4,953.4 442.6,951.8 442.8,952.4 443,953.3 443.2,953.2 443.4,952.9 443.6,953.2 443.8,953.6 444,952.9 444.2,952.8 444.4,954.1 444.7,954 444.9,955.1 445.1,954.4 445.3,954 445.5,953.8 445.7,954.5 445.9,954.8 446.1,955.5 446.3,954.8 446.5,956 446.7,955.1 446.9,955.3 447.1,956.2 447.3,955.2 447.5,955.8 447.7,955.1 447.9,956.1 448.1,955.4 448.3,954.5 448.5,955.7 448.7,955.2 448.9,956.4 449.1,956.2 449.3,957.5 449.6,956.1 449.8,956.9 450,955.8 450.2,957.6 450.4,956.6 450.6,955.8 450.8,955.5 451,957.2 451.2,956.2 451.4,953.7 451.6,955.1 451.8,955.6 452,958 452.2,956.5 452.4,955.3 452.6,955.6 452.8,955.4 453,955 453.2,955.8 453.4,955.2 453.6,957.4 453.8,953.9 454,956.3 454.2,956.6 454.5,954.9 454.7,955.7 454.9,955.5 455.1,956.8 455.3,956.2 455.5,955.9 455.7,957.4 455.9,956.8 456.1,956.9 456.3,956.9 456.5,957.3 456.7,957.8 456.9,956.5 457.1,956.7 457.3,956 457.5,957 457.7,957.4 457.9,958.1 458.1,956.8 458.3,957.1 458.5,955.2 458.7,955 458.9,955.5 459.2,957.5 459.4,957.8 459.6,956.8 459.8,957.3 460,955.4 460.2,956.4 460.4,956.8 460.6,956.4 460.8,955.4 461,957.1 461.2,955.9 461.4,957.4 461.6,956.5 461.8,956.8 462,956.1 462.2,956.2 462.4,955.4 462.6,955.8 462.8,956.9 463,957.5 463.2,957.2 463.4,956.9 463.6,956.8 463.8,957.3 464.1,955.9 464.3,956.1 464.5,957.1 464.7,957.4 464.9,957.3 465.1,957.2 465.3,957.2 465.5,958.5 465.7,957.6 465.9,958.8 466.1,957.3 466.3,956.8 466.5,958.2 466.7,957.2 466.9,957.8 467.1,957.8 467.3,955.7 467.5,956.5 467.7,956.8 467.9,957.4 468.1,956.7 468.3,957.1 468.5,956.6 468.7,957.6 469,956.9 469.2,957.1 469.4,957.8 469.6,955.3 469.8,956 470,957.2 470.2,957.7 470.4,957.1 470.6,957.2 470.8,957 471,957.7 471.2,957.2 471.4,956.6 471.6,956.3 471.8,958.3 472,956.8 472.2,957.6 472.4,957.7 472.6,957.3 472.8,957.6 473,956.7 473.2,956.7 473.4,957.6 473.6,957.9 473.9,956.1 474.1,956.1 474.3,957.3 474.5,957.8 474.7,957 474.9,956.7 475.1,958.2 475.3,956.4 475.5,957.9 475.7,956.9 475.9,958.2 476.1,957.7 476.3,958 476.5,957.6 476.7,956.8 476.9,958.2 477.1,957.7 477.3,956.9 477.5,957.7 477.7,955.7 477.9,958.3 478.1,955.1 478.3,957.5 478.5,956.2 478.8,955.7 479,956.5 479.2,958 479.4,957.1 479.6,956.8 479.8,956.4 480,956.1 480.2,956.1 480.4,955.8 480.6,957.8 480.8,956.3 481,958.5 481.2,957.1 481.4,958.1 481.6,958.8 481.8,956.7 482,957.6 482.2,956.8 482.4,958.9 482.6,958.7 482.8,957.9 483,958.4 483.2,957.8 483.5,958.4 483.7,958.2 483.9,958.8 484.1,957 484.3,958.2 484.5,958.8 484.7,957.3 484.9,957.4 485.1,957.6 485.3,957.5 485.5,957.9 485.7,957.6 485.9,959.1 486.1,958.5 486.3,958.2 486.5,956.9 486.7,956.1 486.9,957.1 487.1,957.1 487.3,955.9 487.5,957 487.7,956.2 487.9,956.3 488.1,957.6 488.4,956.4 488.6,956.4 488.8,957.5 489,957.4 489.2,957.6 489.4,955.6 489.6,955.1 489.8,956.2 490,955.6 490.2,958 490.4,955.9 490.6,955.5 490.8,955.9 491,957.9 491.2,956.4 491.4,957.4 491.6,956.5 491.8,957.9 492,957.4 492.2,957.8 492.4,957 492.6,957.4 492.8,956.5 493,956.6 493.3,956.9 493.5,957.2 493.7,957.3 493.9,956.9 494.1,956.2 494.3,956.6 494.5,956.3 494.7,956.4 494.9,956.3 495.1,956.6 495.3,957.4 495.5,955.3 495.7,955.1 495.9,956.2 496.1,953.7 496.3,956.1 496.5,954.1 496.7,954.6 496.9,954.4 497.1,953.6 497.3,953.7 497.5,954.3 497.7,955.1 497.9,955.2 498.2,954 498.4,952.8 498.6,953.3 498.8,954.1 499,953.8 499.2,953.5 499.4,952.7 499.6,954.9 499.8,953.7 500,954.2 500.2,955.2 500.4,955.6 500.6,953.8 500.8,954.8 501,955.4 501.2,955.3 501.4,954.7 501.6,955.5 501.8,954.4 502,956.1 502.2,956.6 502.4,956.1 502.6,956.8 502.8,956.4 503.1,955.2 503.3,954.8 503.5,955.7 503.7,956.1 503.9,957 504.1,957.1 504.3,956 504.5,956.1 504.7,956.7 504.9,956.6 505.1,955.1 505.3,955.5 505.5,956.3 505.7,956.2 505.9,955.4 506.1,956.2 506.3,956.4 506.5,957.8 506.7,958 506.9,958.3 507.1,958.6 507.3,957 507.5,956.8 507.8,957.8 508,956.9 508.2,957 508.4,957.5 508.6,958.7 508.8,956.5 509,956.6 509.2,958.2 509.4,956.3 509.6,957.8 509.8,958.5 510,958.3 510.2,959.4 510.4,958.2 510.6,959.2 510.8,957 511,957.6 511.2,958.9 511.4,957.3 511.6,959 511.8,957.5 512,957.2 512.2,957.4 512.4,958.3 512.7,957.4 512.9,957.4 513.1,957.1 513.3,956 513.5,955.8 513.7,955.8 513.9,957.5 514.1,957.5 514.3,956.9 514.5,956.6 514.7,958.5 514.9,957.4 515.1,955.6 515.3,957.9 515.5,957.6 515.7,957.6 515.9,956.7 516.1,957.2 516.3,957.5 516.5,958.5 516.7,956.9 516.9,957.5 517.1,958 517.3,957.6 517.6,957 517.8,958.8 518,958.9 518.2,958.5 518.4,958.5 518.6,960.2 518.8,958.3 519,956.9 519.2,958 519.4,956.9 519.6,959.9 519.8,957.7 520,956.5 520.2,956.3 520.4,957.8 520.6,958 520.8,956.9 521,958.1 521.2,957.3 521.4,958.3 521.6,956.8 521.8,956.8 522,955.4 522.2,956.3 522.5,957.1 522.7,956.6 522.9,957.4 523.1,956.4 523.3,956.5 523.5,956 523.7,955.6 523.9,957.9 524.1,956 524.3,955.7 524.5,957.2 524.7,954.8 524.9,956.9 525.1,954.3 525.3,955.7 525.5,955.6 525.7,956.1 525.9,955.5 526.1,957.2 526.3,957 526.5,957.9 526.7,955.8 526.9,956.8 527.1,955.5 527.4,955.6 527.6,957.1 527.8,955.3 528,955.5 528.2,955.4 528.4,955 528.6,955.2 528.8,955 529,953.9 529.2,955.3 529.4,955.2 529.6,954.5 529.8,952.7 530,953.5 530.2,951.2 530.4,955.1 530.6,952.6 530.8,951.9 531,950.8 531.2,949.4 531.4,950.2 531.6,950.4 531.8,948.2 532,947 532.3,950.1 532.5,946.7 532.7,946.3 532.9,946.7 533.1,945.8 533.3,944.4 533.5,944.1 533.7,943.8 533.9,944.1 534.1,942.2 534.3,942.6 534.5,941.5 534.7,941.9 534.9,940.9 535.1,940.3 535.3,940.7 535.5,940.4 535.7,942.6 535.9,941.1 536.1,941.7 536.3,943 536.5,943.1 536.7,946.2 537,944 537.2,945.1 537.4,947.5 537.6,945.5 537.8,947.2 538,947 538.2,948 538.4,948 538.6,948.9 538.8,949.7 539,949.5 539.2,949.7 539.4,952.8 539.6,951.3 539.8,952.2 540,953 540.2,951.3 540.4,951.9 540.6,953.9 540.8,954.2 541,952.9 541.2,954.3 541.4,954.3 541.6,955.9 541.9,954.6 542.1,953.8 542.3,955.3 542.5,955.2 542.7,953.9 542.9,954.8 543.1,954.5 543.3,955.3 543.5,955 543.7,957.4 543.9,956.9 544.1,957.7 544.3,954.8 544.5,956.5 544.7,956.8 544.9,957.4 545.1,957.7 545.3,959.2 545.5,955.3 545.7,957.2 545.9,957.2 546.1,958.4 546.3,957.3 546.5,957 546.8,957.4 547,956.9 547.2,958 547.4,957.1 547.6,956.7 547.8,956.9 548,957.1 548.2,957.4 548.4,958.1 548.6,956.9 548.8,957.6 549,958 549.2,956.7 549.4,958.5 549.6,957.7 549.8,956.7 550,956.6 550.2,957.6 550.4,957.3 550.6,956.9 550.8,957.4 551,958 551.2,957.1 551.4,957.3 551.7,957.4 551.9,956.7 552.1,957.4 552.3,958 552.5,957.6 552.7,956.3 552.9,958.4 553.1,958.1 553.3,958.5 553.5,957.7 553.7,958.9 553.9,957.7 554.1,957.5 554.3,958.7 554.5,958.7 554.7,959.2 554.9,958.1 555.1,959 555.3,958.6 555.5,958.4 555.7,958.6 555.9,957.4 556.1,956.8 556.3,959.6 556.6,958.5 556.8,957.7 557,958.6 557.2,958.2 557.4,957.6 557.6,956.6 557.8,956.7 558,957.7 558.2,957.4 558.4,957.7 558.6,957.5 558.8,958.2 559,958.6 559.2,957.5 559.4,956.5 559.6,956.6 559.8,958.6 560,957.3 560.2,957.6 560.4,957 560.6,958 560.8,956.5 561,957.4 561.3,956.8 561.5,956.6 561.7,958.8 561.9,957.5 562.1,956.3 562.3,957.4 562.5,956.7 562.7,957.2 562.9,957.9 563.1,957.4 563.3,956.8 563.5,956.7 563.7,956.6 563.9,958.5 564.1,957 564.3,958.7 564.5,957.7 564.7,957.8 564.9,957.1 565.1,957.3 565.3,956.6 565.5,957.9 565.7,956.8 565.9,957.1 566.2,957.3 566.4,958.1 566.6,956.8 566.8,956.9 567,956.5 567.2,957 567.4,957.2 567.6,956.6 567.8,956.5 568,956.3 568.2,955.4 568.4,957.3 568.6,955.3 568.8,959 569,956.1 569.2,957.4 569.4,955.4 569.6,957.5 569.8,956.1 570,957.7 570.2,957.8 570.4,956.5 570.6,956.5 570.8,957.7 571.1,955.5 571.3,957.5 571.5,956.2 571.7,958.2 571.9,958.2 572.1,957.5 572.3,958.3 572.5,957.3 572.7,959.2 572.9,957.5 573.1,958.1 573.3,958.4 573.5,957.5 573.7,957.8 573.9,958 574.1,957 574.3,957.3 574.5,957.2 574.7,956.5 574.9,957.4 575.1,956.7 575.3,957.5 575.5,956.7 575.7,956.7 576,957.4 576.2,958 576.4,957.8 576.6,957.5 576.8,956.3 577,956.7 577.2,956.8 577.4,956.1 577.6,955.9 577.8,955.3 578,956.7 578.2,955.8 578.4,955.6 578.6,956.9 578.8,956 579,956.7 579.2,956.2 579.4,955.6 579.6,957.2 579.8,956.5 580,956.3 580.2,955.6 580.4,956.1 580.6,955.1 580.9,956 581.1,955.6 581.3,954.6 581.5,954.7 581.7,954.6 581.9,954.6 582.1,953.6 582.3,953.2 582.5,954.4 582.7,954.5 582.9,954.7 583.1,952.2 583.3,954.3 583.5,954.5 583.7,953.1 583.9,952.4 584.1,954.3 584.3,953.3 584.5,954.4 584.7,953.8 584.9,952 585.1,953.3 585.3,953.7 585.6,953.6 585.8,953.6 586,954 586.2,955.1 586.4,955.2 586.6,952.9 586.8,955.3 587,954 587.2,955.7 587.4,954.3 587.6,955 587.8,956 588,954.5 588.2,957 588.4,956.6 588.6,957.3 588.8,957.5 589,957.3 589.2,958 589.4,957.6 589.6,956.4 589.8,959 590,958.7 590.2,958.6 590.5,958.3 590.7,957.3 590.9,957.6 591.1,957.8 591.3,958 591.5,956.4 591.7,959 591.9,959 592.1,958.1 592.3,957.9 592.5,958.2 592.7,958.5 592.9,958.8 593.1,958 593.3,958.2 593.5,958 593.7,958.3 593.9,956.5 594.1,957.1 594.3,956 594.5,957.7 594.7,957.2 594.9,957.4 595.1,957.2 595.4,957.4 595.6,957.4 595.8,958.7 596,957.5 596.2,956.8 596.4,958.8 596.6,957.7 596.8,957.1 597,956.7 597.2,957.7 597.4,957.4 597.6,956.6 597.8,957 598,958.3 598.2,958.4 598.4,957.3 598.6,958 598.8,958.5 599,958.3 599.2,958 599.4,958.3 599.6,958.4 599.8,958.3 600,959.2 600.3,956.8 600.5,957.1 600.7,956.9 600.9,958 601.1,957.7 601.3,957.3 601.5,957 601.7,958.8 601.9,957.1 602.1,958 602.3,957.2 602.5,957.6 602.7,955.8 602.9,956.6 603.1,956.9 603.3,955.8 603.5,956.8 603.7,957.3 603.9,956.9 604.1,957 604.3,956.7 604.5,956.2 604.7,956.9 604.9,956.9 605.2,956.2 605.4,956.8 605.6,956.4 605.8,957.1 606,958.2 606.2,958.1 606.4,958.6 606.6,956.7 606.8,957.3 607,958 607.2,958.4 607.4,957.5 607.6,957.9 607.8,957.6 608,958.5 608.2,958.7 608.4,956.8 608.6,958.6 608.8,957.9 609,956.9 609.2,959.1 609.4,957.3 609.6,957.7 609.9,957.7 610.1,957.4 610.3,958.3 610.5,959 610.7,956 610.9,957.5 611.1,956.6 611.3,956.3 611.5,956.9 611.7,956.7 611.9,956.5 612.1,955.8 612.3,956.6 612.5,956 612.7,957.1 612.9,957.2 613.1,956.9 613.3,956.7 613.5,956.7 613.7,955.7 613.9,956.6 614.1,957.2 614.3,955.9 614.5,957.2 614.8,957.3 615,957.3 615.2,958 615.4,958.6 615.6,957.8 615.8,958.2 616,958.6 616.2,958 616.4,958.3 616.6,958.6 616.8,959.5 617,958.3 617.2,956.9 617.4,957.5 617.6,957.4 617.8,958.1 618,957.3 618.2,958.5 618.4,958.2 618.6,957.4 618.8,958.7 619,957.6 619.2,957.3 619.4,956.2 619.7,957.8 619.9,956.9 620.1,957.6 620.3,957.4 620.5,958.9 620.7,957.5 620.9,955.9 621.1,956.3 621.3,956.5 621.5,954.7 621.7,956.1 621.9,957.3 622.1,956.5 622.3,956.3 622.5,955.1 622.7,956.9 622.9,955.8 623.1,955.3 623.3,956.6 623.5,955.9 623.7,957.4 623.9,955.6 624.1,957.3 624.3,955.7 624.6,953.9 624.8,954.8 625,954.8 625.2,954.5 625.4,952.6 625.6,953.6 625.8,952.8 626,953.6 626.2,953.2 626.4,953.3 626.6,952.1 626.8,952 627,950.1 627.2,949.8 627.4,949.9 627.6,949.7 627.8,951.1 628,948.6 628.2,947.2 628.4,946.3 628.6,949 628.8,947.9 629,945.2 629.2,945.8 629.5,944.7 629.7,944.7 629.9,943.5 630.1,945.5 630.3,944.3 630.5,943 630.7,943.8 630.9,944.9 631.1,944.1 631.3,944.6 631.5,946 631.7,945.1 631.9,945.6 632.1,946.8 632.3,946.5 632.5,948.8 632.7,947.8 632.9,949.1 633.1,950.3 633.3,950.5 633.5,949.6 633.7,951.5 633.9,951.8 634.1,952.5 634.4,953 634.6,952 634.8,951.4 635,952.4 635.2,953.3 635.4,953.4 635.6,954.5 635.8,954.8 636,955.5 636.2,953.7 636.4,955.2 636.6,955.6 636.8,955.7 637,955.1 637.2,955.8 637.4,955.4 637.6,955.4 637.8,954.6 638,956.6 638.2,955.5 638.4,956.3 638.6,956.1 638.8,954.7 639.1,955.5 639.3,956.3 639.5,955.8 639.7,956.2 639.9,955.5 640.1,956.7 640.3,956.1 640.5,956.7 640.7,956.6 640.9,956.8 641.1,957.3 641.3,956.8 641.5,956.3 641.7,957.5 641.9,957.5 642.1,957 642.3,957.9 642.5,956.8 642.7,957 642.9,959.2 643.1,958 643.3,958.4 643.5,957.1 643.7,957 644,958.5 644.2,958.2 644.4,957.7 644.6,957.9 644.8,957.2 645,957 645.2,957.2 645.4,956.8 645.6,956.9 645.8,957.6 646,957.8 646.2,958 646.4,956.9 646.6,956.8 646.8,956.7 647,957.6 647.2,957.6 647.4,957.1 647.6,956.5 647.8,957.1 648,957.2 648.2,957.9 648.4,957.1 648.6,957 648.9,958.1 649.1,956.3 649.3,958.2 649.5,957 649.7,957.8 649.9,957.6 650.1,958.3 650.3,958.2 650.5,957.4 650.7,958.1 650.9,958.3 651.1,957.5 651.3,957.7 651.5,958.1 651.7,958.1 651.9,957.1 652.1,958.4 652.3,958.1 652.5,958.1 652.7,959.4 652.9,959.7 653.1,958.3 653.3,957.8 653.5,958.3 653.8,958.8 654,958.8 654.2,957.8 654.4,958.5 654.6,959.4 654.8,957.8 655,958.1 655.2,958 655.4,957.5 655.6,957.3 655.8,957.8 656,958.3 656.2,959.5 656.4,957.9 656.6,958.2 656.8,957.2 657,957.3 657.2,957.8 657.4,957.2 657.6,958.2 657.8,958.2 658,958.8 658.2,958.5 658.4,958.2 658.7,957.6 658.9,958.9 659.1,957.9 659.3,956.9 659.5,959.4 659.7,958.8 659.9,958.6 660.1,958 660.3,957.4 660.5,958 660.7,958.9 660.9,959.4" fill="none" stroke="#000" stroke-width="0.7" marker-start="url(#dm)" marker-mid="url(#dm)" marker-end="url(#dm)"/>
<path d="M176.3,773.1 176.3,778.8" fill="none" stroke="#000" stroke-width="0.7" marker-start="url(#dmw)" marker-mid="url(#dmw)"/>
<path d="M48.3,955 60.6,955 66.9,954.8 70.6,954.3 71.8,953.9 72.6,953.3 73.2,952.6 73.8,951.4 74.6,948.2 75.5,942.6 76.7,931.3 77.3,928.3 77.5,928.3 77.9,929.9 79.5,944.2 80.6,950.1 81.2,951.9 82,953.2 83,953.9 84.4,954.4 87.3,954.8 91.6,955 97.9,955.1 101.2,954.9 102,954.6 102.8,954.1 104.7,951.2 105.3,950.7 105.9,951.2 107.1,953.3 107.9,954.3 108.9,954.8 110.4,955.1 117.1,955.2 132.8,955.2 151,954.8 157.3,954.1 161.6,953.1 163.3,952.4 164.7,951.6 165.9,950.5 167.1,949.2 168,947.5 168.9,945.6 170.2,940.4 171.1,932.3 172,919.7 173.3,880.5 175.2,789 175.6,780.9 175.7,779.1 175.9,778.9 176.2,783.3 176.5,793.3 178.8,897.1 179.5,915.4 180.3,929.8 181.4,940.2 182.1,943.4 183.1,946.4 184.2,948.7 185.7,950.6 187.4,951.9 189.4,952.9 191.6,953.4 194.5,952.8 197,954.2 198.6,954.7 202.9,955.1 209.8,955.4 222.9,955.6 230,955.5 232.3,954.9 234.7,953 235.6,952.6 236.4,952.9 238.4,954.4 239.8,955 242.3,955.1 244.9,954.6 246.2,953.9 247,953.1 247.8,951.6 248.4,950 249.6,945.1 251.9,932.8 252.5,930.7 252.9,930.1 253.1,930.1 253.5,930.7 254.1,932.8 256.4,945.2 257.6,950.1 258.2,951.7 259,953.2 259.9,954 260.9,954.7 263.3,955.2 266.2,955.4 267.6,955.1 269.9,954 270.7,953.9 271.5,954.1 273.9,955.4 275.6,955.8 287.2,956.1 302.7,955.9 306.8,955.5 309.7,954.8 311.3,954.1 312.5,952.8 313.4,951 314.2,947.9 315,942.7 315.6,937.2 317.6,914.2 318,911.4 318.5,910.4 318.9,911.4 319.3,914.2 321.3,937.2 322.5,946.8 323.2,949.6 324,952 325,953.5 326.4,954.5 328.7,955 330.5,954.8 331.5,954.2 333.6,951.6 334.4,951.1 335.2,951.7 336.6,953.8 337.7,955 338.9,955.7 340.3,956 345.8,956.3 356.6,956.5 366.4,956.5 371.5,956.2 373.6,955.7 375,954.6 376.2,952.8 378.3,948.3 378.7,947.8 379.1,947.6 379.5,947.8 379.9,948.3 381.8,952.3 382.8,954 383.8,955 385,955.5 386.3,955.5 387.5,955.1 388.5,954.3 390.5,951.9 391.4,951.5 392.2,952 395,955.2 396.3,955.9 397.7,956.2 402.2,956.5 409.7,956.4 415.2,956 419.3,955.5 422.8,954.4 424.2,953.7 425.3,952.9 426.9,950.6 428.1,947.3 429.1,942.6 430.2,935.2 432.8,907.9 433.4,904.7 433.6,904.2 434,903.9 434.4,904.5 434.9,905.9 435.5,909.5 438.3,937.4 439.1,942.9 440.2,947.5 441.4,950.8 443,953 445.3,954.5 448.3,955.5 453.4,956.3 461.4,956.8 475.9,957.1 490.2,957.1 492.8,957 494.7,956.6 496.1,956.1 498.6,954.6 499.6,954.3 500.6,954.6 504.1,956.5 506.7,957.1 516.9,957.1 521.2,956.9 524.5,956.6 526.3,956.1 527.8,955.5 529,954.6 530,953.4 531.6,950.2 534.3,942.4 534.9,941.4 535.3,941.2 535.7,941.4 536.3,942.4 539,950.2 539.8,952.1 540.8,953.8 542.1,955.1 543.3,955.8 544.9,956.4 547.4,956.9 552.3,957.3 559.8,957.5 570,957.6 575.3,957.4 577.2,957 578.6,956.5 580,955.5 582.5,953.4 583.7,952.9 584.9,953.3 587.6,955.5 589,956.5 590.5,957.1 592.3,957.5 597.6,957.7 607.6,957.8 614.5,957.6 619,957.2 620.9,956.8 622.3,956.3 623.5,955.5 624.6,954.5 626.4,951.6 629.2,945.1 629.9,944.4 630.3,944.2 630.9,944.6 631.5,945.5 633.9,951.2 635.2,953.5 636.6,955.2 638.4,956.5 640.9,957.2 645,957.7 660.9,958.2" fill="none" stroke="#e31515" stroke-width="3.5" stroke-linejoin="round"/>
<path d="M76.9,984V995.7M77.3,984V995.7M105,984V995.7M174.4,984V995.7M175.9,984V995.7M176.9,984V995.7M195.3,984V995.7M215.2,984V995.7M216.9,984V995.7M234.2,984V995.7M235.7,984V995.7M235.8,984V995.7M252.2,984V995.7M254.3,984V995.7M271,984V995.7M286.9,984V995.7M288.3,984V995.7M319.7,984V995.7M320.5,984V995.7M334.8,984V995.7M335.3,984V995.7" stroke="#068206" stroke-width="1.6"/>
<path d="M365.1,984V995.7M366.4,984V995.7M367.3,984V995.7M378.2,984V995.7M380.1,984V995.7M380.6,984V995.7M381.5,984V995.7M392.6,984V995.7M395.8,984V995.7M434.2,984V995.7M435.5,984V995.7M437,984V995.7M437.3,984V995.7M449.4,984V995.7M461.3,984V995.7M462.3,984V995.7M463.2,984V995.7M463.4,984V995.7M474.4,984V995.7M476.2,984V995.7M476.5,984V995.7M477.3,984V995.7M499.8,984V995.7M501.9,984V995.7M502.7,984V995.7M512.8,984V995.7M514.6,984V995.7M535.5,984V995.7M539,984V995.7M541.3,984V995.7M547.9,984V995.7M550.9,984V995.7M560.2,984V995.7M565.5,984V995.7M572.4,984V995.7M574.4,984V995.7M575.4,984V995.7M576.2,984V995.7M576.4,984V995.7M577.6,984V995.7M584.3,984V995.7M586.2,984V995.7M587,984V995.7M588.3,984V995.7M589,984V995.7M589.9,984V995.7M598.9,984V995.7M608.3,984V995.7M613.5,984V995.7M632.3,984V995.7M634.5,984V995.7M635.6,984V995.7M636.4,984V995.7M643.6,984V995.7M644,984V995.7M646.9,984V995.7M648.1,984V995.7M657.4,984V995.7M659.1,984V995.7M366.5,984V995.7M367.8,984V995.7M368.7,984V995.7M379.6,984V995.7M381.5,984V995.7M382,984V995.7M383,984V995.7M394,984V995.7M397.3,984V995.7M435.8,984V995.7M437.1,984V995.7M438.6,984V995.7M438.9,984V995.7M451,984V995.7M462.9,984V995.7M464,984V995.7M464.8,984V995.7M465.1,984V995.7M476.1,984V995.7M478,984V995.7M478.2,984V995.7M479,984V995.7M501.6,984V995.7M503.7,984V995.7M504.6,984V995.7M514.6,984V995.7M516.5,984V995.7M537.5,984V995.7M541,984V995.7M543.2,984V995.7M549.9,984V995.7M552.9,984V995.7M562.3,984V995.7M567.6,984V995.7M574.5,984V995.7M576.5,984V995.7M577.5,984V995.7M578.3,984V995.7M578.5,984V995.7M579.7,984V995.7M586.5,984V995.7M588.3,984V995.7M589.1,984V995.7M590.5,984V995.7M591.1,984V995.7M592,984V995.7M601.1,984V995.7M610.5,984V995.7M615.7,984V995.7M634.6,984V995.7M636.8,984V995.7M638,984V995.7M638.7,984V995.7M646,984V995.7M646.4,984V995.7M649.3,984V995.7M650.4,984V995.7M659.8,984V995.7M661.5,984V995.7" stroke="#068206" stroke-width="1.1"/>
<path d="M48.3,1012.2 48.5,1011.5 48.7,1009.9 48.9,1011.8 49.1,1009 49.3,1010.9 49.5,1011 49.7,1009.9 49.9,1010.2 50.1,1009.8 50.3,1010.6 50.5,1011.6 50.8,1011.4 51,1011 51.2,1011.6 51.4,1009.5 51.6,1012.3 51.8,1010.8 52,1009.9 52.2,1010.6 52.4,1010.4 52.6,1010.9 52.8,1011.1 53,1009.1 53.2,1011.8 53.4,1012.1 53.6,1010 53.8,1011.8 54,1011.6 54.2,1011.4 54.4,1011.8 54.6,1009.5 54.8,1011 55,1009.7 55.2,1012.2 55.4,1009.6 55.7,1009.4 55.9,1011.1 56.1,1010.7 56.3,1010.2 56.5,1010.3 56.7,1010.6 56.9,1011.4 57.1,1009.6 57.3,1009.7 57.5,1009.6 57.7,1010 57.9,1010.1 58.1,1009.1 58.3,1010.3 58.5,1009.1 58.7,1009.8 58.9,1009.9 59.1,1009.9 59.3,1011.2 59.5,1011.3 59.7,1010.9 59.9,1011.3 60.1,1009.9 60.3,1011.2 60.6,1010.1 60.8,1010.3 61,1010.3 61.2,1009.1 61.4,1009.7 61.6,1010 61.8,1010.4 62,1010 62.2,1009.4 62.4,1009.2 62.6,1010.1 62.8,1009.2 63,1009.2 63.2,1010 63.4,1010.2 63.6,1009.5 63.8,1008.8 64,1010.4 64.2,1010.8 64.4,1009.9 64.6,1010 64.8,1008.6 65,1011 65.2,1009.6 65.5,1011 65.7,1010.1 65.9,1010.5 66.1,1010.5 66.3,1009.4 66.5,1012.8 66.7,1009.6 66.9,1010.9 67.1,1010.3 67.3,1010.7 67.5,1012 67.7,1009.6 67.9,1010.9 68.1,1011.3 68.3,1011 68.5,1011.2 68.7,1010.3 68.9,1009.6 69.1,1009.8 69.3,1010.5 69.5,1011.3 69.7,1010.7 69.9,1011.8 70.1,1010.6 70.4,1010.6 70.6,1010.5 70.8,1009 71,1010.7 71.2,1009.4 71.4,1009.9 71.6,1011.9 71.8,1009.2 72,1010.2 72.2,1010.3 72.4,1010.2 72.6,1010.1 72.8,1009.7 73,1011.7 73.2,1008.8 73.4,1009.6 73.6,1011.5 73.8,1010.9 74,1010 74.2,1010.1 74.4,1010.7 74.6,1013 74.8,1011.6 75.1,1010.7 75.3,1011.9 75.5,1011.5 75.7,1013.4 75.9,1012.8 76.1,1013.9 76.3,1013.5 76.5,1015.3 76.7,1014.4 76.9,1014.6 77.1,1013.9 77.3,1014.5 77.5,1015.2 77.7,1014.4 77.9,1016.5 78.1,1014.4 78.3,1013.4 78.5,1014.3 78.7,1012.8 78.9,1013 79.1,1012.2 79.3,1011.3 79.5,1012.5 79.7,1011.2 80,1011.7 80.2,1010.4 80.4,1009.4 80.6,1009.4 80.8,1009.8 81,1010 81.2,1010.1 81.4,1010.4 81.6,1009.1 81.8,1010.2 82,1009.2 82.2,1009.6 82.4,1012.1 82.6,1011.2 82.8,1010 83,1011.7 83.2,1011.5 83.4,1011.2 83.6,1011.7 83.8,1010.5 84,1010.7 84.2,1010.2 84.4,1011.3 84.6,1010 84.9,1010.6 85.1,1011.3 85.3,1010.6 85.5,1011.2 85.7,1012.3 85.9,1010.2 86.1,1012 86.3,1010.4 86.5,1010.1 86.7,1010.9 86.9,1011.5 87.1,1010.1 87.3,1010 87.5,1010.1 87.7,1009.8 87.9,1010.4 88.1,1009.7 88.3,1009.9 88.5,1010.3 88.7,1009.7 88.9,1010.8 89.1,1009.4 89.3,1009.3 89.5,1011.3 89.8,1010.9 90,1009.8 90.2,1010.4 90.4,1010 90.6,1009.4 90.8,1010.3 91,1010 91.2,1010.8 91.4,1008.5 91.6,1010.5 91.8,1010.1 92,1009.5 92.2,1009.7 92.4,1009.8 92.6,1009.1 92.8,1009.7 93,1010.8 93.2,1009.1 93.4,1010 93.6,1008.6 93.8,1010 94,1010.7 94.2,1010.4 94.4,1010.5 94.7,1009.7 94.9,1011 95.1,1009.9 95.3,1011.3 95.5,1010.7 95.7,1010.3 95.9,1011.7 96.1,1010.3 96.3,1011.4 96.5,1010.7 96.7,1010.7 96.9,1011.5 97.1,1011 97.3,1010.7 97.5,1010.7 97.7,1010.9 97.9,1010.8 98.1,1010.6 98.3,1010 98.5,1008.9 98.7,1010.8 98.9,1010.7 99.1,1011.8 99.3,1011.2 99.6,1011.7 99.8,1012.1 100,1010.8 100.2,1010.2 100.4,1011.4 100.6,1010.3 100.8,1010.6 101,1011.8 101.2,1011.1 101.4,1011.5 101.6,1009.6 101.8,1010.6 102,1011.4 102.2,1009.5 102.4,1010.6 102.6,1010.7 102.8,1008.6 103,1011.5 103.2,1009.8 103.4,1010.2 103.6,1011.5 103.8,1008.9 104,1010.5 104.3,1009.9 104.5,1010.2 104.7,1009.6 104.9,1011.2 105.1,1009.4 105.3,1010.5 105.5,1010.7 105.7,1010.2 105.9,1010.1 106.1,1010.2 106.3,1011.2 106.5,1010.8 106.7,1010.4 106.9,1009.7 107.1,1010.6 107.3,1010.9 107.5,1010.5 107.7,1011.7 107.9,1009.2 108.1,1012.5 108.3,1010.5 108.5,1009.7 108.7,1009.3 108.9,1011.2 109.2,1011 109.4,1010.3 109.6,1010.4 109.8,1010.6 110,1010.1 110.2,1011.2 110.4,1010.8 110.6,1010.2 110.8,1009 111,1011.2 111.2,1009.8 111.4,1009.3 111.6,1011 111.8,1010.4 112,1008.5 112.2,1008.7 112.4,1009.7 112.6,1009 112.8,1009.9 113,1011.9 113.2,1012.2 113.4,1010 113.6,1010.7 113.8,1010.8 114.1,1010 114.3,1009.1 114.5,1011 114.7,1010.1 114.9,1010.7 115.1,1010.9 115.3,1009.8 115.5,1011.7 115.7,1010.6 115.9,1010.7 116.1,1010.3 116.3,1011.2 116.5,1011.4 116.7,1010.2 116.9,1011.1 117.1,1010.3 117.3,1009.7 117.5,1010.4 117.7,1011.1 117.9,1011 118.1,1011.4 118.3,1010.1 118.5,1010.3 118.7,1010.5 119,1010.9 119.2,1010.3 119.4,1009.7 119.6,1009.2 119.8,1011.2 120,1011.1 120.2,1009.7 120.4,1011.3 120.6,1010.1 120.8,1010.5 121,1011.1 121.2,1009.8 121.4,1009.6 121.6,1008.8 121.8,1010.4 122,1010.5 122.2,1010.8 122.4,1010.6 122.6,1010.3 122.8,1011.1 123,1009.5 123.2,1010.6 123.4,1010.7 123.6,1010.2 123.9,1011.6 124.1,1010.7 124.3,1011.4 124.5,1011.1 124.7,1010.3 124.9,1011.9 125.1,1011.3 125.3,1010.5 125.5,1010.4 125.7,1009.7 125.9,1010.4 126.1,1010.3 126.3,1010.7 126.5,1010.2 126.7,1011 126.9,1010.5 127.1,1009.4 127.3,1010.2 127.5,1009.9 127.7,1009.6 127.9,1010.4 128.1,1011.3 128.3,1009.8 128.6,1009.2 128.8,1010.6 129,1013 129.2,1010.3 129.4,1011 129.6,1010.5 129.8,1011.5 130,1011.9 130.2,1010.7 130.4,1011.8 130.6,1010.1 130.8,1011 131,1009.9 131.2,1011 131.4,1010.4 131.6,1011 131.8,1010 132,1011 132.2,1010.9 132.4,1010.3 132.6,1010.1 132.8,1009.8 133,1010.3 133.2,1010.9 133.5,1010.4 133.7,1010.6 133.9,1011.4 134.1,1010.1 134.3,1010.5 134.5,1010.9 134.7,1010.6 134.9,1010.4 135.1,1010.2 135.3,1011.5 135.5,1010 135.7,1009.7 135.9,1010.4 136.1,1011.2 136.3,1011 136.5,1010 136.7,1010.6 136.9,1010.3 137.1,1010 137.3,1010.5 137.5,1010.5 137.7,1010.2 137.9,1011.4 138.1,1009.8 138.4,1011.2 138.6,1011.8 138.8,1011.8 139,1010.5 139.2,1010.2 139.4,1009.1 139.6,1010.3 139.8,1012.2 140,1009.2 140.2,1009.3 140.4,1011.1 140.6,1010.9 140.8,1009.1 141,1010.4 141.2,1010.7 141.4,1009.3 141.6,1011.2 141.8,1009.4 142,1011.3 142.2,1010.5 142.4,1009.9 142.6,1009.1 142.8,1010.1 143,1010.2 143.3,1010.2 143.5,1009.8 143.7,1010.1 143.9,1010.9 144.1,1009.5 144.3,1010.1 144.5,1010.6 144.7,1010.2 144.9,1010.9 145.1,1011.4 145.3,1009.9 145.5,1010.4 145.7,1008 145.9,1010 146.1,1010.8 146.3,1009.4 146.5,1011.3 146.7,1008.9 146.9,1011.3 147.1,1010 147.3,1009.6 147.5,1010 147.7,1010.2 147.9,1009.7 148.2,1009.4 148.4,1010.1 148.6,1011.2 148.8,1010.8 149,1011.5 149.2,1010.1 149.4,1010.3 149.6,1010.3 149.8,1010.7 150,1010.9 150.2,1011.9 150.4,1011.1 150.6,1010.7 150.8,1011.6 151,1010 151.2,1009.7 151.4,1011.2 151.6,1010.8 151.8,1010.8 152,1011.4 152.2,1010.4 152.4,1010.6 152.6,1011 152.9,1011.2 153.1,1011.4 153.3,1010.8 153.5,1010.9 153.7,1008.8 153.9,1011.6 154.1,1009.4 154.3,1010.6 154.5,1012.5 154.7,1010.3 154.9,1009.3 155.1,1011.7 155.3,1010 155.5,1010.3 155.7,1010.2 155.9,1010.8 156.1,1010.8 156.3,1010.1 156.5,1011 156.7,1009.5 156.9,1010.6 157.1,1009.6 157.3,1010.6 157.5,1009.6 157.8,1009.8 158,1011.2 158.2,1009.3 158.4,1009.2 158.6,1010.6 158.8,1010 159,1009.9 159.2,1010.2 159.4,1011.9 159.6,1009.6 159.8,1010.3 160,1010.7 160.2,1009.9 160.4,1010.6 160.6,1011.1 160.8,1010.1 161,1011.7 161.2,1010.1 161.4,1010.9 161.6,1011.3 161.8,1013.4 162,1009.7 162.2,1011.3 162.4,1012.9 162.7,1010.6 162.9,1011.8 163.1,1011.1 163.3,1009.8 163.5,1011.2 163.7,1010.1 163.9,1010.8 164.1,1009.5 164.3,1011.1 164.5,1008.6 164.7,1010.2 164.9,1011.2 165.1,1010.5 165.3,1009.7 165.5,1009.7 165.7,1009.5 165.9,1011.8 166.1,1009.6 166.3,1009.6 166.5,1009 166.7,1009.1 166.9,1009.9 167.1,1009 167.3,1008.9 167.6,1009.1 167.8,1009.2 168,1009.7 168.2,1009.2 168.4,1009.5 168.6,1009.2 168.8,1010.7 169,1010 169.2,1009.7 169.4,1010.3 169.6,1010.1 169.8,1009.1 170,1010.2 170.2,1011.6 170.4,1010.8 170.6,1011.4 170.8,1010.1 171,1009.5 171.2,1010.1 171.4,1011.7 171.6,1009.9 171.8,1010 172,1011.4 172.2,1010.4 172.5,1010.4 172.7,1010.7 172.9,1010.4 173.1,1010 173.3,1010.2 173.5,1009.3 173.7,1009.5 173.9,1009.7 174.1,1007.8 174.3,1007.6 174.5,1005.5 174.7,1005.1 174.9,1002.9 175.1,1001.3 175.3,1000.5 175.5,1001.6 175.7,1005.2 175.9,1007.8 176.1,1008.2 176.3,1005.2 176.5,1007.4 176.7,1006.2 176.9,1006.8 177.2,1005.8 177.4,1007.9 177.6,1008.4 177.8,1006.8 178,1008 178.2,1008.5 178.4,1008.7 178.6,1010.5 178.8,1011.4 179,1009.2 179.2,1011 179.4,1010.1 179.6,1011.5 179.8,1008.7 180,1010.3 180.2,1011.6 180.4,1010.1 180.6,1011.6 180.8,1010.3 181,1011.5 181.2,1011.1 181.4,1010.3 181.6,1010 181.8,1010.4 182.1,1011.4 182.3,1010.4 182.5,1009.9 182.7,1012.9 182.9,1009.2 183.1,1010.1 183.3,1010.7 183.5,1009.5 183.7,1010.2 183.9,1009.9 184.1,1009.1 184.3,1010.6 184.5,1009.4 184.7,1009.7 184.9,1011.2 185.1,1009.5 185.3,1010.8 185.5,1011.2 185.7,1011.1 185.9,1010.8 186.1,1010.3 186.3,1009.4 186.5,1010.6 186.7,1010.8 187,1010.1 187.2,1009.8 187.4,1011.2 187.6,1009.7 187.8,1010.9 188,1010.2 188.2,1009.2 188.4,1011.7 188.6,1010.9 188.8,1010.8 189,1009.3 189.2,1010.3 189.4,1010.5 189.6,1009.7 189.8,1011.5 190,1008.7 190.2,1010.7 190.4,1008.7 190.6,1008.9 190.8,1009.1 191,1010.5 191.2,1009.5 191.4,1009.6 191.6,1009.4 191.9,1009 192.1,1009.4 192.3,1009.4 192.5,1009.9 192.7,1009.9 192.9,1008.4 193.1,1009.7 193.3,1011.2 193.5,1010 193.7,1010.3 193.9,1009.8 194.1,1009.9 194.3,1010.4 194.5,1009.5 194.7,1010.4 194.9,1009.3 195.1,1010.8 195.3,1009.3 195.5,1011 195.7,1011.3 195.9,1009.3 196.1,1011 196.3,1010.1 196.5,1011.3 196.8,1010 197,1010.1 197.2,1010 197.4,1011.2 197.6,1008.7 197.8,1010.7 198,1010.1 198.2,1009.6 198.4,1009.8 198.6,1010.6 198.8,1010.5 199,1011.1 199.2,1009.3 199.4,1008.4 199.6,1009.4 199.8,1009.7 200,1009.5 200.2,1010.7 200.4,1011.6 200.6,1010.2 200.8,1008.6 201,1010.7 201.2,1009.5 201.4,1010.1 201.7,1010.7 201.9,1010.4 202.1,1010.2 202.3,1010.5 202.5,1010.9 202.7,1010.9 202.9,1012 203.1,1008.3 203.3,1010 203.5,1010.2 203.7,1011.3 203.9,1010.9 204.1,1011.4 204.3,1009.7 204.5,1010.6 204.7,1011.3 204.9,1010.7 205.1,1010.5 205.3,1011 205.5,1012 205.7,1009.2 205.9,1011.9 206.1,1010.9 206.4,1010 206.6,1011.2 206.8,1010.7 207,1011.5 207.2,1010 207.4,1011.3 207.6,1009.8 207.8,1010.7 208,1011 208.2,1010.4 208.4,1010.9 208.6,1010 208.8,1011.2 209,1010 209.2,1009.8 209.4,1010.3 209.6,1010.3 209.8,1009.7 210,1010.9 210.2,1010.2 210.4,1010.7 210.6,1009.2 210.8,1009.3 211,1010.1 211.3,1009.5 211.5,1010.2 211.7,1010.7 211.9,1011.1 212.1,1011.4 212.3,1010.8 212.5,1009.7 212.7,1010.7 212.9,1009.9 213.1,1010.7 213.3,1009.5 213.5,1011.3 213.7,1010.6 213.9,1010.1 214.1,1009.3 214.3,1010.5 214.5,1010 214.7,1010.6 214.9,1009.8 215.1,1010 215.3,1010.9 215.5,1011.5 215.7,1009.5 215.9,1010.3 216.2,1010.8 216.4,1010.4 216.6,1010.2 216.8,1012.1 217,1009.9 217.2,1010.8 217.4,1010.1 217.6,1010.4 217.8,1008.8 218,1011.1 218.2,1010.3 218.4,1009.7 218.6,1011.6 218.8,1010.1 219,1009.8 219.2,1009.6 219.4,1011 219.6,1010.2 219.8,1009.9 220,1009.1 220.2,1009.3 220.4,1010.2 220.6,1009.9 220.8,1008.4 221.1,1009.2 221.3,1010 221.5,1011.8 221.7,1009.2 221.9,1008.1 222.1,1010.4 222.3,1009.4 222.5,1008.8 222.7,1010.3 222.9,1009.7 223.1,1009.2 223.3,1009 223.5,1009.9 223.7,1010.1 223.9,1008.8 224.1,1010.9 224.3,1009.3 224.5,1011.3 224.7,1010.6 224.9,1010.3 225.1,1010.7 225.3,1010.1 225.5,1010.5 225.7,1011.8 226,1010.2 226.2,1011.3 226.4,1010 226.6,1010.7 226.8,1011.4 227,1009.8 227.2,1010.9 227.4,1009 227.6,1009.7 227.8,1010.2 228,1011.2 228.2,1011 228.4,1009.7 228.6,1010.3 228.8,1010.4 229,1009.1 229.2,1010.5 229.4,1011.2 229.6,1011 229.8,1009.6 230,1009.7 230.2,1009.3 230.4,1009.6 230.7,1009.8 230.9,1010.5 231.1,1010 231.3,1009.3 231.5,1010.6 231.7,1010.7 231.9,1009.6 232.1,1009.9 232.3,1010 232.5,1008.9 232.7,1010.3 232.9,1010.8 233.1,1011.8 233.3,1010.5 233.5,1010.2 233.7,1010.4 233.9,1011 234.1,1011.2 234.3,1010 234.5,1010.8 234.7,1011.2 234.9,1009.3 235.1,1011.8 235.3,1010.7 235.6,1011.5 235.8,1010.8 236,1010.7 236.2,1010.8 236.4,1011.1 236.6,1011.5 236.8,1010.6 237,1010 237.2,1010.3 237.4,1010 237.6,1011.3 237.8,1010 238,1011.8 238.2,1010.7 238.4,1010.6 238.6,1011.6 238.8,1010.3 239,1010.3 239.2,1011.1 239.4,1011 239.6,1009.7 239.8,1012.2 240,1010.8 240.2,1009.4 240.5,1010.2 240.7,1011 240.9,1010.4 241.1,1010.9 241.3,1012 241.5,1010.9 241.7,1011.7 241.9,1010.6 242.1,1009.6 242.3,1011.2 242.5,1009.5 242.7,1010.8 242.9,1010.5 243.1,1009.4 243.3,1009.5 243.5,1009.9 243.7,1010.3 243.9,1011 244.1,1010.1 244.3,1011.4 244.5,1010.7 244.7,1009.5 244.9,1009.6 245.1,1010.1 245.4,1009.7 245.6,1010 245.8,1010.7 246,1010.3 246.2,1010.9 246.4,1009.7 246.6,1009.6 246.8,1009.2 247,1009 247.2,1010 247.4,1010.5 247.6,1010.3 247.8,1010.5 248,1012 248.2,1009.7 248.4,1010.4 248.6,1010.2 248.8,1009.9 249,1011.6 249.2,1010.6 249.4,1011.5 249.6,1009.7 249.8,1011.9 250,1012.2 250.3,1009.8 250.5,1010.4 250.7,1010.3 250.9,1010.8 251.1,1009.3 251.3,1010.6 251.5,1010.8 251.7,1009.7 251.9,1008.4 252.1,1009.6 252.3,1009.8 252.5,1010.6 252.7,1009.5 252.9,1009.1 253.1,1010.4 253.3,1010.2 253.5,1010.5 253.7,1010 253.9,1010.8 254.1,1010.4 254.3,1008.7 254.5,1010.2 254.7,1010.7 255,1010.2 255.2,1011.3 255.4,1010 255.6,1010.9 255.8,1009.5 256,1010.5 256.2,1010.1 256.4,1009.8 256.6,1009.6 256.8,1010.8 257,1011 257.2,1010.3 257.4,1009.8 257.6,1010.1 257.8,1011.3 258,1009.9 258.2,1011.6 258.4,1009.5 258.6,1010.9 258.8,1011.2 259,1011.6 259.2,1010.3 259.4,1010 259.6,1009.5 259.9,1011.2 260.1,1010.3 260.3,1010 260.5,1010 260.7,1010.5 260.9,1010.3 261.1,1011.1 261.3,1008.6 261.5,1010.8 261.7,1009.8 261.9,1010.1 262.1,1010 262.3,1010.1 262.5,1010.8 262.7,1010.4 262.9,1009.2 263.1,1010.3 263.3,1010.3 263.5,1010.7 263.7,1010.5 263.9,1010.5 264.1,1011.3 264.3,1009.8 264.5,1012.3 264.8,1010.3 265,1010 265.2,1011.4 265.4,1011.6 265.6,1011.8 265.8,1011.9 266,1011.2 266.2,1010.9 266.4,1011.1 266.6,1010.8 266.8,1010.4 267,1012 267.2,1012.1 267.4,1010.7 267.6,1010.5 267.8,1010.2 268,1009.3 268.2,1010 268.4,1010.1 268.6,1010.4 268.8,1009.6 269,1008.9 269.2,1010.8 269.4,1011.6 269.7,1008.7 269.9,1010.1 270.1,1010.9 270.3,1009.4 270.5,1009.2 270.7,1010.3 270.9,1010.1 271.1,1009.8 271.3,1011.5 271.5,1011.4 271.7,1010.8 271.9,1010.3 272.1,1010.1 272.3,1011 272.5,1010.2 272.7,1011.5 272.9,1011.3 273.1,1010 273.3,1011 273.5,1011.6 273.7,1010.9 273.9,1009.6 274.1,1010.1 274.3,1010 274.6,1010.3 274.8,1010.2 275,1009.9 275.2,1010.8 275.4,1011.1 275.6,1009.6 275.8,1008.9 276,1010.2 276.2,1009.9 276.4,1010.2 276.6,1009.3 276.8,1010 277,1009.1 277.2,1010.6 277.4,1011 277.6,1009.1 277.8,1007.9 278,1009.5 278.2,1009.5 278.4,1010.1 278.6,1010 278.8,1010.5 279,1012.2 279.3,1009.9 279.5,1010.1 279.7,1010.8 279.9,1009.2 280.1,1011.2 280.3,1010.3 280.5,1009.7 280.7,1010.2 280.9,1011.3 281.1,1011.6 281.3,1012 281.5,1011.4 281.7,1010.6 281.9,1011.6 282.1,1011.1 282.3,1012.9 282.5,1009.6 282.7,1012.3 282.9,1011.6 283.1,1011.3 283.3,1010.8 283.5,1010.4 283.7,1010 283.9,1009.5 284.2,1012.1 284.4,1011.2 284.6,1010.9 284.8,1010.6 285,1008.8 285.2,1010 285.4,1010.2 285.6,1011 285.8,1009.3 286,1010.2 286.2,1009.8 286.4,1010 286.6,1009.4 286.8,1010.3 287,1010.1 287.2,1008.7 287.4,1011 287.6,1011.8 287.8,1009.6 288,1011.2 288.2,1009.6 288.4,1010 288.6,1011.8 288.8,1010.7 289.1,1011.8 289.3,1011 289.5,1011.6 289.7,1010.7 289.9,1012 290.1,1012.3 290.3,1011.5 290.5,1010.6 290.7,1010.8 290.9,1010.4 291.1,1011.5 291.3,1011.4 291.5,1010.5 291.7,1011.7 291.9,1010.5 292.1,1012.3 292.3,1011.5 292.5,1012 292.7,1010.2 292.9,1009.9 293.1,1009.3 293.3,1011 293.5,1009.7 293.7,1011.4 294,1010.5 294.2,1010.9 294.4,1009.3 294.6,1009.8 294.8,1010.4 295,1010.7 295.2,1009.2 295.4,1010.4 295.6,1009.5 295.8,1010.8 296,1010 296.2,1010 296.4,1010.5 296.6,1011.1 296.8,1010.1 297,1011.2 297.2,1009.6 297.4,1010.6 297.6,1009.6 297.8,1010.6 298,1009.8 298.2,1010.6 298.4,1011 298.6,1009.9 298.9,1009.3 299.1,1010.5 299.3,1011.1 299.5,1010.9 299.7,1010 299.9,1011.3 300.1,1010.5 300.3,1011.3 300.5,1010 300.7,1011 300.9,1011.6 301.1,1010.2 301.3,1010.4 301.5,1011.1 301.7,1011 301.9,1010.8 302.1,1010.4 302.3,1009.3 302.5,1010.5 302.7,1009.5 302.9,1010.5 303.1,1008.6 303.3,1011.4 303.5,1011.7 303.8,1010.6 304,1009.6 304.2,1010 304.4,1010.8 304.6,1010.6 304.8,1009.6 305,1011 305.2,1010.6 305.4,1010.4 305.6,1009.7 305.8,1010 306,1009.4 306.2,1010.1 306.4,1009.5 306.6,1010.8 306.8,1010 307,1010.1 307.2,1010.2 307.4,1010.2 307.6,1008.9 307.8,1011 308,1010.1 308.2,1009.7 308.5,1009.4 308.7,1009.6 308.9,1009.7 309.1,1010.2 309.3,1009.6 309.5,1010.4 309.7,1010.5 309.9,1009.9 310.1,1012.2 310.3,1010.5 310.5,1010.9 310.7,1010.8 310.9,1010.6 311.1,1011.3 311.3,1011.9 311.5,1010.8 311.7,1010.3 311.9,1011.3 312.1,1009.4 312.3,1011.1 312.5,1010.9 312.7,1011.2 312.9,1009.9 313.1,1010.6 313.4,1010.2 313.6,1010.5 313.8,1011.3 314,1010.6 314.2,1010.3 314.4,1011.5 314.6,1010.5 314.8,1008.9 315,1009.5 315.2,1010.4 315.4,1010.2 315.6,1009.9 315.8,1009.7 316,1008.6 316.2,1008.9 316.4,1007.8 316.6,1007.7 316.8,1007.3 317,1007 317.2,1007.1 317.4,1006.8 317.6,1006.2 317.8,1007.3 318,1006 318.3,1007.4 318.5,1007.1 318.7,1005.5 318.9,1007.2 319.1,1005.8 319.3,1008.2 319.5,1007.6 319.7,1007 319.9,1006.4 320.1,1008.1 320.3,1007.7 320.5,1009.8 320.7,1008.3 320.9,1009.3 321.1,1010 321.3,1009.8 321.5,1010.1 321.7,1009.8 321.9,1010.6 322.1,1009.4 322.3,1010.6 322.5,1009.3 322.7,1010.3 322.9,1009.4 323.2,1010.1 323.4,1010.6 323.6,1011.1 323.8,1008.9 324,1009.6 324.2,1009.4 324.4,1011.1 324.6,1009.5 324.8,1010.7 325,1009.8 325.2,1009.1 325.4,1010.2 325.6,1009.3 325.8,1010.7 326,1010.8 326.2,1011.2 326.4,1009.5 326.6,1011.4 326.8,1011 327,1008.9 327.2,1011.9 327.4,1011.6 327.6,1009.6 327.8,1010.6 328.1,1009.4 328.3,1010.3 328.5,1010.5 328.7,1010.8 328.9,1009.8 329.1,1010.3 329.3,1009.7 329.5,1010.6 329.7,1010.8 329.9,1010.4 330.1,1011.2 330.3,1010.8 330.5,1010.5 330.7,1011.1 330.9,1009.3 331.1,1010.2 331.3,1008.9 331.5,1010.2 331.7,1009.8 331.9,1010.8 332.1,1009.8 332.3,1009.7 332.5,1010.1 332.8,1010.1 333,1010.6 333.2,1009.6 333.4,1009.1 333.6,1009.1 333.8,1011.1 334,1009.4 334.2,1010 334.4,1009.5 334.6,1011 334.8,1010 335,1011.3 335.2,1009.9 335.4,1010.7 335.6,1011.1 335.8,1011.2 336,1009.6 336.2,1010.2 336.4,1010.4 336.6,1009.1 336.8,1011 337,1010.7 337.2,1010.8 337.4,1009.4 337.7,1010.5 337.9,1010.7 338.1,1011.1 338.3,1009.9 338.5,1010.7 338.7,1011.7 338.9,1009.8 339.1,1009.8 339.3,1009.9 339.5,1009 339.7,1009.8 339.9,1011.3 340.1,1009.4 340.3,1009.9 340.5,1011 340.7,1010.5 340.9,1010.3 341.1,1009.9 341.3,1010.2 341.5,1010.3 341.7,1010.9 341.9,1010.5 342.1,1011.2 342.3,1009.2 342.6,1011.2 342.8,1010.3 343,1010.8 343.2,1010.5 343.4,1011.4 343.6,1010.9 343.8,1011.5 344,1010.4 344.2,1011.2 344.4,1012 344.6,1011.9 344.8,1010.9 345,1011.2 345.2,1010.8 345.4,1011 345.6,1011.1 345.8,1011.9 346,1011.4 346.2,1012 346.4,1012 346.6,1009.9 346.8,1011 347,1010.4 347.2,1009.4 347.5,1009.8 347.7,1010.1 347.9,1011.7 348.1,1010.4 348.3,1010.2 348.5,1010.2 348.7,1009.6 348.9,1010.3 349.1,1010 349.3,1008.9 349.5,1009.7 349.7,1012.5 349.9,1010.5 350.1,1009.9 350.3,1010.5 350.5,1009.3 350.7,1010.1 350.9,1010.7 351.1,1008.9 351.3,1009.5 351.5,1009.8 351.7,1009.9 351.9,1009.8 352.1,1010.4 352.4,1010.9 352.6,1010.4 352.8,1011 353,1011 353.2,1009.8 353.4,1010.4 353.6,1010 353.8,1010.7 354,1010 354.2,1010.1 354.4,1011.5 354.6,1010.1 354.8,1009.1 355,1010.3 355.2,1010.5 355.4,1009.9 355.6,1010.3 355.8,1011 356,1009.9 356.2,1010.1 356.4,1009.7 356.6,1010.5 356.8,1010.2 357.1,1009.6 357.3,1010.2 357.5,1011.7 357.7,1009.1 357.9,1009.4 358.1,1010.7 358.3,1009.4 358.5,1011.9 358.7,1009.4 358.9,1009.5 359.1,1010.1 359.3,1011.3 359.5,1011.1 359.7,1010.9 359.9,1010.7 360.1,1011.4 360.3,1009.1 360.5,1010.7 360.7,1011.5 360.9,1009.6 361.1,1010.6 361.3,1011.3 361.5,1011.3 361.7,1010.2 362,1011.6 362.2,1010.6 362.4,1011 362.6,1009.4 362.8,1009.6 363,1009.6 363.2,1011.5 363.4,1008.4 363.6,1008.8 363.8,1010.8 364,1010.3 364.2,1008 364.4,1010 364.6,1010.1 364.8,1011.2 365,1009 365.2,1010 365.4,1011.3 365.6,1011.1 365.8,1009.9 366,1010.4 366.2,1009.6 366.4,1011.8 366.6,1010.5 366.9,1011.8 367.1,1011.5 367.3,1010.3 367.5,1010.8 367.7,1011.4 367.9,1011.3 368.1,1012 368.3,1011.7 368.5,1011.1 368.7,1011.3 368.9,1010.3 369.1,1010.3 369.3,1011.1 369.5,1010.9 369.7,1009.7 369.9,1010.4 370.1,1009.8 370.3,1009.9 370.5,1011.2 370.7,1009.5 370.9,1009.6 371.1,1010.5 371.3,1010.1 371.5,1010.1 371.8,1008.9 372,1009.9 372.2,1009.7 372.4,1009.3 372.6,1009.5 372.8,1009.8 373,1010.6 373.2,1011.4 373.4,1010.2 373.6,1011.3 373.8,1010.4 374,1009.3 374.2,1010.5 374.4,1011.5 374.6,1011.7 374.8,1010.1 375,1012.5 375.2,1010.4 375.4,1010.5 375.6,1010.7 375.8,1012.2 376,1011.4 376.2,1011.8 376.4,1009.6 376.7,1011.2 376.9,1011.1 377.1,1011.7 377.3,1010.8 377.5,1012 377.7,1010.6 377.9,1010 378.1,1009.7 378.3,1011.7 378.5,1011.3 378.7,1010.1 378.9,1011.3 379.1,1010.3 379.3,1010.2 379.5,1009.2 379.7,1009.7 379.9,1010.1 380.1,1010.1 380.3,1009.5 380.5,1010.5 380.7,1010.8 380.9,1009.1 381.1,1010 381.4,1008.6 381.6,1010 381.8,1009 382,1009.6 382.2,1009.8 382.4,1009.6 382.6,1010.5 382.8,1009.3 383,1009.5 383.2,1010.2 383.4,1010 383.6,1010.2 383.8,1010 384,1009.6 384.2,1010.7 384.4,1010.4 384.6,1011 384.8,1011.4 385,1010.2 385.2,1009.9 385.4,1010.2 385.6,1010.1 385.8,1009.1 386,1011.7 386.3,1010.9 386.5,1012.2 386.7,1010.1 386.9,1011 387.1,1010.7 387.3,1010.5 387.5,1011.2 387.7,1010.5 387.9,1010.4 388.1,1010.6 388.3,1008.8 388.5,1009.9 388.7,1009.9 388.9,1011.6 389.1,1010.8 389.3,1010.9 389.5,1010.8 389.7,1010.2 389.9,1011.6 390.1,1010.3 390.3,1009.4 390.5,1010.9 390.7,1011.3 390.9,1010.6 391.2,1010.8 391.4,1011.2 391.6,1011.7 391.8,1011 392,1011.8 392.2,1010.8 392.4,1012.2 392.6,1009.7 392.8,1011.3 393,1010.9 393.2,1010.8 393.4,1009.8 393.6,1011.5 393.8,1010.5 394,1009.9 394.2,1010.2 394.4,1010.5 394.6,1010.7 394.8,1010 395,1009.9 395.2,1010.9 395.4,1010.5 395.6,1012 395.8,1010.2 396.1,1011.1 396.3,1011.8 396.5,1010.4 396.7,1011.2 396.9,1010.7 397.1,1010.5 397.3,1011.7 397.5,1009.8 397.7,1010.1 397.9,1009.3 398.1,1010.5 398.3,1011.3 398.5,1010.4 398.7,1011.2 398.9,1010 399.1,1011.4 399.3,1010.5 399.5,1010.3 399.7,1011.8 399.9,1010.6 400.1,1011.1 400.3,1010.7 400.5,1011.1 400.7,1010.7 401,1009.7 401.2,1010.8 401.4,1010.9 401.6,1010.8 401.8,1010.4 402,1011.8 402.2,1010 402.4,1010.6 402.6,1010.6 402.8,1009.6 403,1009.5 403.2,1010.8 403.4,1010.8 403.6,1010.4 403.8,1009.1 404,1010.1 404.2,1010.4 404.4,1010.7 404.6,1011.1 404.8,1010.6 405,1010.9 405.2,1011.5 405.4,1008.6 405.6,1011 405.9,1010 406.1,1010.6 406.3,1010.5 406.5,1009.6 406.7,1009.7 406.9,1010.7 407.1,1010.3 407.3,1010.9 407.5,1010.1 407.7,1012 407.9,1010.3 408.1,1012 408.3,1009.9 408.5,1010.9 408.7,1011.3 408.9,1009.6 409.1,1009.8 409.3,1010.8 409.5,1011.3 409.7,1011.5 409.9,1010.9 410.1,1011.2 410.3,1009.6 410.6,1010.1 410.8,1011.5 411,1010 411.2,1010.2 411.4,1009.1 411.6,1010.2 411.8,1009.2 412,1010.6 412.2,1011.4 412.4,1010.5 412.6,1010.4 412.8,1010 413,1010.7 413.2,1009.5 413.4,1009.9 413.6,1011.8 413.8,1009.3 414,1009.8 414.2,1009.2 414.4,1011.1 414.6,1010 414.8,1009.3 415,1009.3 415.2,1010.9 415.5,1010.6 415.7,1010.7 415.9,1010.1 416.1,1010.8 416.3,1011.1 416.5,1010.6 416.7,1009 416.9,1008.7 417.1,1009.1 417.3,1010.4 417.5,1009.1 417.7,1009.4 417.9,1010.3 418.1,1009.7 418.3,1009.4 418.5,1011.1 418.7,1010.8 418.9,1011 419.1,1011.2 419.3,1011.6 419.5,1010.6 419.7,1010.5 419.9,1009.5 420.1,1010.6 420.4,1010.4 420.6,1011.6 420.8,1011.4 421,1012 421.2,1011.8 421.4,1011.9 421.6,1011.4 421.8,1011.2 422,1010.8 422.2,1011.1 422.4,1010.4 422.6,1011.3 422.8,1011 423,1009.5 423.2,1009 423.4,1010.4 423.6,1010.5 423.8,1010.6 424,1011.7 424.2,1010.2 424.4,1009.7 424.6,1010.8 424.8,1011.2 425,1011.6 425.3,1009.6 425.5,1010.1 425.7,1009.9 425.9,1011.3 426.1,1010.6 426.3,1010.1 426.5,1010.6 426.7,1009.8 426.9,1009.9 427.1,1010.1 427.3,1009.7 427.5,1010 427.7,1010.4 427.9,1010.4 428.1,1011.4 428.3,1011 428.5,1010.4 428.7,1009 428.9,1009.7 429.1,1010.5 429.3,1010.8 429.5,1010.3 429.7,1011.2 429.9,1011.8 430.2,1011.5 430.4,1012.2 430.6,1012.6 430.8,1012.5 431,1012.8 431.2,1013.7 431.4,1014.3 431.6,1013.6 431.8,1013.1 432,1014 432.2,1015.1 432.4,1013.5 432.6,1015.1 432.8,1013.7 433,1013.8 433.2,1012.7 433.4,1013.3 433.6,1012.4 433.8,1012.3 434,1010.2 434.2,1011.8 434.4,1009.8 434.6,1010.5 434.9,1010.9 435.1,1010.2 435.3,1010.5 435.5,1010.2 435.7,1010.1 435.9,1009.4 436.1,1010.7 436.3,1010.7 436.5,1009.6 436.7,1009.3 436.9,1010.1 437.1,1009.5 437.3,1010.2 437.5,1010.7 437.7,1010.7 437.9,1011.3 438.1,1010.6 438.3,1009.6 438.5,1009.8 438.7,1010.9 438.9,1011.9 439.1,1010.3 439.3,1010 439.5,1011.6 439.8,1010.6 440,1011.2 440.2,1011.5 440.4,1010 440.6,1010.4 440.8,1010.3 441,1011 441.2,1011.1 441.4,1010.2 441.6,1011 441.8,1009.3 442,1010.7 442.2,1010.7 442.4,1010.4 442.6,1009.3 442.8,1010.3 443,1009.5 443.2,1011.3 443.4,1010 443.6,1010.1 443.8,1010.1 444,1010.6 444.2,1010.2 444.4,1010.6 444.7,1009.5 444.9,1011 445.1,1009.9 445.3,1010.8 445.5,1010.4 445.7,1011 445.9,1010.2 446.1,1009.3 446.3,1009.5 446.5,1010.2 446.7,1011.3 446.9,1010.1 447.1,1010.4 447.3,1011.3 447.5,1010 447.7,1010.7 447.9,1010.7 448.1,1010.1 448.3,1010.6 448.5,1011.2 448.7,1011.2 448.9,1010.3 449.1,1012.6 449.3,1010.8 449.6,1010.3 449.8,1010 450,1009.8 450.2,1011.1 450.4,1008.5 450.6,1010.4 450.8,1009.6 451,1010.5 451.2,1010.6 451.4,1009.7 451.6,1009.9 451.8,1011.6 452,1010.3 452.2,1010.7 452.4,1010.5 452.6,1011.3 452.8,1011.6 453,1011.4 453.2,1011.2 453.4,1011.2 453.6,1010 453.8,1011.8 454,1010.4 454.2,1010.2 454.5,1010.5 454.7,1010.2 454.9,1011 455.1,1011.2 455.3,1011.6 455.5,1010.6 455.7,1010.2 455.9,1010.3 456.1,1009.6 456.3,1009.9 456.5,1011.7 456.7,1009.7 456.9,1009.9 457.1,1010.6 457.3,1010.2 457.5,1010.5 457.7,1009.3 457.9,1009.2 458.1,1010.8 458.3,1009.4 458.5,1009.8 458.7,1010 458.9,1008.5 459.2,1009.7 459.4,1009.4 459.6,1010.2 459.8,1009.7 460,1008.4 460.2,1010.5 460.4,1008.2 460.6,1009.8 460.8,1009.7 461,1009.8 461.2,1010.3 461.4,1011 461.6,1009.8 461.8,1010 462,1011 462.2,1010.9 462.4,1011.1 462.6,1010.9 462.8,1010.5 463,1010.3 463.2,1010.3 463.4,1011.3 463.6,1011.7 463.8,1012 464.1,1009.9 464.3,1010.4 464.5,1010.5 464.7,1010.4 464.9,1009.6 465.1,1011.9 465.3,1011.4 465.5,1010.2 465.7,1009.9 465.9,1010.2 466.1,1009.3 466.3,1009.8 466.5,1010.6 466.7,1011.2 466.9,1010.6 467.1,1010.9 467.3,1009.2 467.5,1007.7 467.7,1010.9 467.9,1010.1 468.1,1009.9 468.3,1011.2 468.5,1009.4 468.7,1009.4 469,1009.6 469.2,1011.3 469.4,1010.9 469.6,1009 469.8,1011.5 470,1010.4 470.2,1010.7 470.4,1009.9 470.6,1011.8 470.8,1010.8 471,1011.5 471.2,1009.9 471.4,1011.1 471.6,1010.7 471.8,1010.4 472,1010 472.2,1010.1 472.4,1009.8 472.6,1010.1 472.8,1010.5 473,1011 473.2,1009.4 473.4,1009.7 473.6,1010 473.9,1009.3 474.1,1010.2 474.3,1010.2 474.5,1010.2 474.7,1010.7 474.9,1011 475.1,1010.9 475.3,1010.5 475.5,1010.8 475.7,1009.8 475.9,1009.7 476.1,1010.8 476.3,1010.8 476.5,1012 476.7,1010.3 476.9,1009.8 477.1,1010.7 477.3,1010.2 477.5,1009.9 477.7,1011.6 477.9,1012 478.1,1010.9 478.3,1010.2 478.5,1010.9 478.8,1010.7 479,1009.7 479.2,1011.3 479.4,1010.9 479.6,1011.6 479.8,1010.3 480,1010.6 480.2,1010.5 480.4,1009.4 480.6,1012.3 480.8,1009 481,1009.7 481.2,1010.2 481.4,1009.3 481.6,1010.7 481.8,1010 482,1010.4 482.2,1010.5 482.4,1010.3 482.6,1010.4 482.8,1010.2 483,1010.6 483.2,1010.9 483.5,1010.1 483.7,1010 483.9,1010 484.1,1010.6 484.3,1010.1 484.5,1010.1 484.7,1009.3 484.9,1011.8 485.1,1009.6 485.3,1011.7 485.5,1011.1 485.7,1011.3 485.9,1010.8 486.1,1011 486.3,1010.8 486.5,1011.1 486.7,1011.2 486.9,1011.7 487.1,1009.9 487.3,1010.9 487.5,1011.7 487.7,1011.5 487.9,1009.7 488.1,1010.6 488.4,1010.6 488.6,1010.5 488.8,1008.6 489,1010.8 489.2,1008.9 489.4,1011.6 489.6,1010.5 489.8,1009.9 490,1010.3 490.2,1009.9 490.4,1009.4 490.6,1009.7 490.8,1010 491,1009.1 491.2,1010.2 491.4,1010.5 491.6,1010.5 491.8,1010.6 492,1010.7 492.2,1010.3 492.4,1010.8 492.6,1010 492.8,1010.3 493,1011.1 493.3,1011.5 493.5,1009.9 493.7,1009.2 493.9,1011.9 494.1,1011.3 494.3,1011.8 494.5,1011.2 494.7,1010.8 494.9,1010.2 495.1,1010 495.3,1011.8 495.5,1011.5 495.7,1011.1 495.9,1010.1 496.1,1010.5 496.3,1010.5 496.5,1010.7 496.7,1008.8 496.9,1011 497.1,1012 497.3,1010.4 497.5,1010.8 497.7,1011 497.9,1010 498.2,1011 498.4,1010 498.6,1010.2 498.8,1010.7 499,1010.4 499.2,1010.5 499.4,1009.7 499.6,1010.9 499.8,1009.5 500,1010.9 500.2,1009.9 500.4,1009.4 500.6,1010.1 500.8,1009.4 501,1009.8 501.2,1010.1 501.4,1010.7 501.6,1010.8 501.8,1010.5 502,1010 502.2,1009.1 502.4,1010.1 502.6,1010 502.8,1010.2 503.1,1009.9 503.3,1010 503.5,1011 503.7,1009.4 503.9,1010.5 504.1,1011.4 504.3,1010 504.5,1009.8 504.7,1010.4 504.9,1010.4 505.1,1010.8 505.3,1011.7 505.5,1010.6 505.7,1011.1 505.9,1010.3 506.1,1010.4 506.3,1011 506.5,1010.3 506.7,1011.7 506.9,1010.5 507.1,1010.7 507.3,1010 507.5,1010.5 507.7,1010.1 508,1010.4 508.2,1009.5 508.4,1010.7 508.6,1012 508.8,1009.3 509,1011.9 509.2,1010.5 509.4,1011.2 509.6,1009.8 509.8,1012 510,1009.7 510.2,1010.3 510.4,1011.5 510.6,1009.4 510.8,1008.6 511,1010.2 511.2,1009.6 511.4,1009.5 511.6,1009.5 511.8,1009 512,1011.1 512.2,1011 512.4,1009.1 512.7,1010 512.9,1009.8 513.1,1010.9 513.3,1009.5 513.5,1011.4 513.7,1010.2 513.9,1009.6 514.1,1010.2 514.3,1009.9 514.5,1012 514.7,1010.5 514.9,1010.1 515.1,1010.6 515.3,1011.6 515.5,1009.9 515.7,1009.4 515.9,1011.6 516.1,1011.1 516.3,1010.4 516.5,1010.6 516.7,1011.5 516.9,1008.7 517.1,1011.6 517.3,1010.5 517.6,1011.2 517.8,1010.6 518,1012.9 518.2,1010.1 518.4,1011.3 518.6,1008.5 518.8,1010.4 519,1010.9 519.2,1009 519.4,1008.6 519.6,1010.1 519.8,1010.7 520,1010.8 520.2,1009.4 520.4,1010.1 520.6,1008.7 520.8,1011 521,1009.3 521.2,1010.6 521.4,1009.5 521.6,1009.4 521.8,1010.9 522,1009.1 522.2,1010.7 522.5,1009.5 522.7,1009.2 522.9,1009.3 523.1,1010.8 523.3,1010 523.5,1009.9 523.7,1009.1 523.9,1011.2 524.1,1011.2 524.3,1010.7 524.5,1011.2 524.7,1008.2 524.9,1010.3 525.1,1010.9 525.3,1010.9 525.5,1010.5 525.7,1011.1 525.9,1010.4 526.1,1010.5 526.3,1010.1 526.5,1011.1 526.7,1010.5 526.9,1010.6 527.1,1012 527.4,1010.9 527.6,1010.9 527.8,1009.7 528,1010.5 528.2,1011.6 528.4,1011.2 528.6,1010.8 528.8,1010.6 529,1010.7 529.2,1010.9 529.4,1010.4 529.6,1008.7 529.8,1012 530,1011.4 530.2,1010.4 530.4,1011.6 530.6,1009.6 530.8,1011.5 531,1010.7 531.2,1011.3 531.4,1010.4 531.6,1010.9 531.8,1011.3 532,1011.7 532.3,1011.4 532.5,1011.4 532.7,1010.8 532.9,1012.6 533.1,1011.6 533.3,1011.4 533.5,1011.5 533.7,1010.9 533.9,1011.4 534.1,1010.9 534.3,1012.3 534.5,1012.2 534.7,1012.5 534.9,1011.4 535.1,1012.1 535.3,1011.9 535.5,1013.1 535.7,1011.1 535.9,1011 536.1,1013 536.3,1012.1 536.5,1010.5 536.7,1012.6 537,1012.5 537.2,1012.1 537.4,1009.6 537.6,1011.1 537.8,1010.2 538,1010.6 538.2,1009.5 538.4,1012 538.6,1010.1 538.8,1010.8 539,1011.2 539.2,1011 539.4,1010.9 539.6,1010.3 539.8,1010.8 540,1010.5 540.2,1009 540.4,1011.5 540.6,1010.3 540.8,1010.4 541,1010.5 541.2,1009.7 541.4,1009.9 541.6,1009.4 541.9,1011.1 542.1,1011.6 542.3,1010.8 542.5,1009.8 542.7,1011.6 542.9,1010.4 543.1,1009.3 543.3,1009.1 543.5,1010.6 543.7,1011.4 543.9,1010 544.1,1009.8 544.3,1010 544.5,1009.5 544.7,1009.7 544.9,1010.2 545.1,1009.4 545.3,1010.6 545.5,1009.2 545.7,1010.4 545.9,1010.2 546.1,1009.6 546.3,1009.7 546.5,1009.7 546.8,1011.2 547,1009.4 547.2,1010.9 547.4,1010.9 547.6,1009.9 547.8,1011.4 548,1008.5 548.2,1010.5 548.4,1010.5 548.6,1010.5 548.8,1011.1 549,1010.2 549.2,1010.4 549.4,1011.5 549.6,1010.6 549.8,1009.9 550,1011.1 550.2,1010.6 550.4,1010.3 550.6,1011.1 550.8,1010.1 551,1009.9 551.2,1010.4 551.4,1010.4 551.7,1010.5 551.9,1009.5 552.1,1011.7 552.3,1010.9 552.5,1010.4 552.7,1010.4 552.9,1008.3 553.1,1010.8 553.3,1009.3 553.5,1010.5 553.7,1009.2 553.9,1010.8 554.1,1009.6 554.3,1009.9 554.5,1011.2 554.7,1010.8 554.9,1009 555.1,1009.6 555.3,1010.3 555.5,1010 555.7,1010.9 555.9,1009.8 556.1,1009 556.3,1009.7 556.6,1010.4 556.8,1011 557,1011.2 557.2,1011.6 557.4,1010.9 557.6,1010.6 557.8,1011.4 558,1010.8 558.2,1010.6 558.4,1010.6 558.6,1011.7 558.8,1012.1 559,1012 559.2,1009.8 559.4,1011.8 559.6,1010.2 559.8,1010.7 560,1011.4 560.2,1009.9 560.4,1010 560.6,1010.3 560.8,1012.1 561,1011.6 561.3,1010.1 561.5,1010.8 561.7,1010.8 561.9,1010.9 562.1,1010.1 562.3,1011.6 562.5,1010.2 562.7,1011.1 562.9,1009.2 563.1,1010.7 563.3,1010.5 563.5,1011.4 563.7,1008.4 563.9,1010.8 564.1,1010.9 564.3,1010.1 564.5,1011.3 564.7,1011.8 564.9,1010.9 565.1,1010.8 565.3,1011.2 565.5,1010.5 565.7,1011.1 565.9,1010.6 566.2,1009.6 566.4,1009.3 566.6,1010.9 566.8,1010.5 567,1009.5 567.2,1010 567.4,1011.1 567.6,1008.7 567.8,1009.3 568,1010.5 568.2,1010.6 568.4,1009.1 568.6,1009.2 568.8,1010.1 569,1011 569.2,1010 569.4,1008.3 569.6,1010.9 569.8,1010.1 570,1009.8 570.2,1009.3 570.4,1011.2 570.6,1010.5 570.8,1010.7 571.1,1010.7 571.3,1010.8 571.5,1011.1 571.7,1011.8 571.9,1009.8 572.1,1010.6 572.3,1010.3 572.5,1012 572.7,1010.5 572.9,1009.5 573.1,1010.7 573.3,1010.2 573.5,1010.1 573.7,1010.3 573.9,1009.7 574.1,1009.2 574.3,1012 574.5,1010.4 574.7,1009.8 574.9,1010.9 575.1,1011.4 575.3,1009 575.5,1009.9 575.7,1010.4 576,1009.5 576.2,1010.4 576.4,1009.1 576.6,1009.5 576.8,1009.9 577,1010.3 577.2,1010 577.4,1009.5 577.6,1009.7 577.8,1008.4 578,1011.6 578.2,1009.7 578.4,1009.9 578.6,1010.3 578.8,1010.6 579,1010.5 579.2,1009.8 579.4,1009.1 579.6,1010.3 579.8,1009.9 580,1010.1 580.2,1010.6 580.4,1010.9 580.6,1011.7 580.9,1010.7 581.1,1009.5 581.3,1011.3 581.5,1011.6 581.7,1009.6 581.9,1011.3 582.1,1011 582.3,1010.5 582.5,1011 582.7,1011.1 582.9,1011.2 583.1,1011.6 583.3,1010.7 583.5,1010.6 583.7,1012.4 583.9,1009.7 584.1,1010.2 584.3,1010.1 584.5,1010.9 584.7,1011.1 584.9,1009.2 585.1,1011.1 585.3,1009.3 585.6,1012.1 585.8,1009.6 586,1010.9 586.2,1009.9 586.4,1010.6 586.6,1009.5 586.8,1010.2 587,1010.2 587.2,1010.2 587.4,1010.8 587.6,1009.9 587.8,1010.1 588,1009.4 588.2,1010.3 588.4,1010.1 588.6,1011.2 588.8,1011.1 589,1010.1 589.2,1011 589.4,1011.7 589.6,1010.6 589.8,1009.9 590,1012.7 590.2,1011.3 590.5,1011.4 590.7,1012.8 590.9,1010.3 591.1,1011.1 591.3,1009.5 591.5,1011.3 591.7,1011.2 591.9,1010.3 592.1,1010.2 592.3,1010.6 592.5,1010.6 592.7,1011.9 592.9,1010.5 593.1,1010.5 593.3,1010.4 593.5,1009.3 593.7,1010.1 593.9,1009.4 594.1,1010.5 594.3,1008.7 594.5,1009.4 594.7,1010.4 594.9,1008.6 595.1,1009 595.4,1010.9 595.6,1009.1 595.8,1010 596,1010.3 596.2,1009.2 596.4,1008.7 596.6,1011.1 596.8,1009.5 597,1010.3 597.2,1009.3 597.4,1010.2 597.6,1008.9 597.8,1008.9 598,1009.1 598.2,1009.4 598.4,1009.4 598.6,1009.7 598.8,1010.2 599,1009.5 599.2,1010.6 599.4,1009.5 599.6,1010.5 599.8,1011 600,1011.3 600.3,1008.6 600.5,1011.4 600.7,1008.8 600.9,1011.2 601.1,1010.2 601.3,1010.5 601.5,1009.6 601.7,1011 601.9,1010.9 602.1,1010 602.3,1010 602.5,1011.1 602.7,1011.3 602.9,1011.1 603.1,1010.3 603.3,1010.6 603.5,1011.3 603.7,1011.3 603.9,1011.5 604.1,1010.8 604.3,1010.2 604.5,1010.9 604.7,1011 604.9,1010.3 605.2,1011 605.4,1010 605.6,1010.8 605.8,1010.2 606,1012.2 606.2,1011.5 606.4,1010.7 606.6,1009.5 606.8,1009.6 607,1011 607.2,1010.3 607.4,1010.7 607.6,1009.2 607.8,1009.3 608,1010.5 608.2,1010.2 608.4,1009.4 608.6,1009.8 608.8,1011 609,1010 609.2,1010.8 609.4,1011.6 609.6,1010.7 609.8,1010.5 610.1,1010 610.3,1011.4 610.5,1009.4 610.7,1009.7 610.9,1010.5 611.1,1009.5 611.3,1011.3 611.5,1010.1 611.7,1011 611.9,1010.4 612.1,1010.4 612.3,1010.6 612.5,1009.2 612.7,1009.8 612.9,1010.3 613.1,1012.3 613.3,1011.2 613.5,1011.1 613.7,1009.8 613.9,1011.2 614.1,1011.5 614.3,1011.1 614.5,1012.4 614.8,1009.4 615,1009.6 615.2,1010.2 615.4,1009.7 615.6,1010.4 615.8,1010.8 616,1010.4 616.2,1010.4 616.4,1010.7 616.6,1010.9 616.8,1009.9 617,1009.9 617.2,1011.3 617.4,1010.2 617.6,1009.8 617.8,1010.7 618,1010.2 618.2,1010.6 618.4,1010.4 618.6,1011 618.8,1011.2 619,1009.9 619.2,1009.6 619.4,1011.7 619.7,1010 619.9,1009.4 620.1,1009.1 620.3,1010.5 620.5,1010 620.7,1009.1 620.9,1009.7 621.1,1009.6 621.3,1011.1 621.5,1010.5 621.7,1010.3 621.9,1009.4 622.1,1010.2 622.3,1010.8 622.5,1010.4 622.7,1011 622.9,1010.3 623.1,1010.7 623.3,1010.5 623.5,1009.8 623.7,1011.2 623.9,1010.5 624.1,1010.9 624.3,1009.5 624.6,1009.5 624.8,1010.2 625,1009.8 625.2,1010.9 625.4,1010.8 625.6,1011.5 625.8,1011.1 626,1009.9 626.2,1011.5 626.4,1010.4 626.6,1010.4 626.8,1011.1 627,1011.2 627.2,1012.1 627.4,1013.5 627.6,1011.9 627.8,1012.8 628,1011.7 628.2,1012.3 628.4,1011.8 628.6,1012 628.8,1013.5 629,1012.9 629.2,1013.1 629.5,1012.2 629.7,1014.2 629.9,1012.8 630.1,1012.5 630.3,1012.9 630.5,1013.3 630.7,1013.3 630.9,1013.7 631.1,1011.6 631.3,1011.9 631.5,1013.2 631.7,1013.5 631.9,1011.1 632.1,1011.4 632.3,1010.1 632.5,1010.5 632.7,1010.4 632.9,1010.9 633.1,1010 633.3,1011.5 633.5,1010.8 633.7,1010.6 633.9,1011.5 634.1,1010.7 634.4,1010 634.6,1011 634.8,1012.7 635,1011.2 635.2,1011.6 635.4,1011.1 635.6,1011.1 635.8,1011.7 636,1009.4 636.2,1010.5 636.4,1011 636.6,1011.2 636.8,1012.5 637,1013.2 637.2,1011.8 637.4,1011.6 637.6,1011.7 637.8,1012.2 638,1010.3 638.2,1010.6 638.4,1011 638.6,1011 638.8,1009.2 639.1,1010.9 639.3,1009.3 639.5,1010.9 639.7,1010.9 639.9,1008.5 640.1,1010.5 640.3,1010.2 640.5,1009.5 640.7,1010.7 640.9,1011.4 641.1,1010.3 641.3,1009.1 641.5,1008.9 641.7,1009.1 641.9,1009.2 642.1,1010.9 642.3,1010.3 642.5,1010.1 642.7,1010.9 642.9,1010.3 643.1,1010.4 643.3,1009.8 643.5,1010 643.7,1010.6 644,1009.8 644.2,1011.9 644.4,1010.8 644.6,1010.4 644.8,1011.5 645,1010 645.2,1011.6 645.4,1010.9 645.6,1012.2 645.8,1010.4 646,1010.5 646.2,1010.1 646.4,1009.8 646.6,1010.8 646.8,1009.8 647,1010.8 647.2,1010 647.4,1011.2 647.6,1008.5 647.8,1010.6 648,1010.3 648.2,1010.2 648.4,1009.7 648.6,1011.4 648.9,1009.7 649.1,1010.3 649.3,1009.8 649.5,1009.7 649.7,1010 649.9,1010.5 650.1,1009.1 650.3,1009.6 650.5,1008.9 650.7,1010.3 650.9,1009.4 651.1,1009.5 651.3,1010.6 651.5,1010.1 651.7,1010.5 651.9,1010.1 652.1,1010.5 652.3,1010.3 652.5,1009.4 652.7,1010.5 652.9,1010.1 653.1,1010.2 653.3,1010.6 653.5,1010 653.8,1009.6 654,1011.3 654.2,1011.8 654.4,1010.2 654.6,1011.3 654.8,1010.7 655,1009.9 655.2,1009.8 655.4,1010.2 655.6,1010.1 655.8,1010.1 656,1010.3 656.2,1009.5 656.4,1011 656.6,1009.5 656.8,1009.6 657,1011 657.2,1010.9 657.4,1011.5 657.6,1010.5 657.8,1009.9 658,1011.2 658.2,1010.3 658.4,1010.3 658.7,1009.8 658.9,1010.7 659.1,1008.7 659.3,1010.8 659.5,1008.9 659.7,1011.1 659.9,1009.3 660.1,1010.9 660.3,1012.3 660.5,1010.2 660.7,1009.5 660.9,1011.8" fill="none" stroke="#0000e6" stroke-width="2.4" stroke-linejoin="round"/>
</g>
<g stroke="#000" stroke-width="3.3" fill="none">
<rect x="48.6" y="6.6" width="612.4" height="1031.6"/>
<path d="M48.3,1038V1048.5M150.4,1038V1048.5M252.5,1038V1048.5M354.6,1038V1048.5M456.7,1038V1048.5M558.8,1038V1048.5M660.9,1038V1048.5M99.3,1038V1043.5M201.4,1038V1043.5M303.6,1038V1043.5M405.7,1038V1043.5M507.8,1038V1043.5M609.9,1038V1043.5"/>
</g>
<g font-weight="bold" font-size="26.5" text-anchor="middle">
<text x="48.3" y="1076" textLength="27.6" lengthAdjust="spacingAndGlyphs">20</text>
<text x="150.4" y="1076" textLength="27.6" lengthAdjust="spacingAndGlyphs">30</text>
<text x="252.5" y="1076" textLength="27.6" lengthAdjust="spacingAndGlyphs">40</text>
<text x="354.6" y="1076" textLength="27.6" lengthAdjust="spacingAndGlyphs">50</text>
<text x="456.7" y="1076" textLength="27.6" lengthAdjust="spacingAndGlyphs">60</text>
<text x="558.8" y="1076" textLength="27.6" lengthAdjust="spacingAndGlyphs">70</text>
<text x="660.9" y="1076" textLength="27.6" lengthAdjust="spacingAndGlyphs">80</text>
</g>
<text x="277" y="1126" font-weight="bold" font-size="31.5">2</text>
<text x="295.6" y="1127.6" font-size="35" textLength="18.6" lengthAdjust="spacingAndGlyphs" style="font-family:'Liberation Serif',serif">&#952;</text>
<text x="326.3" y="1126.4" font-weight="bold" font-size="36">(</text>
<text x="339.3" y="1108.6" font-size="24.5" font-weight="bold">o</text>
<text x="355.1" y="1126.4" font-weight="bold" font-size="36">)</text>
<text transform="translate(25.8,537.6) rotate(-90)" text-anchor="middle" font-weight="bold" font-size="30.5" textLength="316" lengthAdjust="spacingAndGlyphs" style="font-family:'Liberation Serif',serif">Intensity (arbit. unit)</text>
<g font-weight="bold" font-size="17" text-anchor="middle">
<text transform="translate(83.2,333.4) rotate(-90)">(002)</text>
<text transform="translate(112.1,354.9) rotate(-90)">(111)</text>
<text transform="translate(163.9,194.3) rotate(-90)">(112)</text>
<text transform="translate(204.2,364.2) rotate(-90)">(021)</text>
<text transform="translate(257.7,353.8) rotate(-90)">(022)</text>
<text transform="translate(324,318.8) rotate(-90)">(220)</text>
<text transform="translate(381.8,353) rotate(-90)">(222)</text>
<text transform="translate(401.4,359.6) rotate(-90)">(131)</text>
<text transform="translate(440.4,325.4) rotate(-90)">(024)</text>
<text transform="translate(543.2,350.9) rotate(-90)">(224)</text>
<text transform="translate(636.8,344.3) rotate(-90)">(420)</text>
</g>
<g font-weight="bold" font-size="32.5" text-anchor="middle" fill="#0a0ae6">
<text x="628.9" y="307" textLength="42.4" lengthAdjust="spacingAndGlyphs">(c)</text><text x="628.4" y="663.9" textLength="43.6" lengthAdjust="spacingAndGlyphs">(b)</text><text x="631.5" y="918.5" textLength="41.8" lengthAdjust="spacingAndGlyphs">(a)</text>
</g>
<g stroke="#f5820f" stroke-width="3" fill="none" stroke-linecap="butt"><path d="M418.5,251.4L397.7,280.2M351,280.2H457M351,280.2L340,292.6M457,280.2L445.5,292"/></g>
<path d="M329.0,305.3L338.9,284.0L341.5,291.0L348.8,292.7ZM435.0,303.8L445.5,282.8L448.0,289.9L455.2,291.8Z" fill="#f5820f"/>
<rect x="360.5" y="26" width="135.7" height="203" fill="#fff"/>
<g clip-path="url(#cpi)">
<path d="M360.5,79.9 360.7,80 360.9,80.6 361,80.2 361.2,79.4 361.4,79.6 361.6,80.1 361.8,79.6 361.9,79.2 362.1,80.3 362.3,79.6 362.5,79.2 362.7,80.1 362.8,79.1 363,79.7 363.2,79.1 363.4,79.2 363.6,79.5 363.7,79.8 363.9,79.9 364.1,79.5 364.3,79.4 364.5,78.8 364.6,79.5 364.8,79.3 365,78.6 365.2,79.2 365.4,79.1 365.5,78.5 365.7,79.2 365.9,79.1 366.1,78.8 366.3,79.2 366.4,79.7 366.6,79.8 366.8,79.1 367,78.4 367.2,78.4 367.3,78 367.5,78.3 367.7,79 367.9,79.3 368.1,78.7 368.2,78.5 368.4,78.6 368.6,77.6 368.8,78.3 369,77.4 369.1,77.1 369.3,78.1 369.5,77.1 369.7,75.9 369.9,75.7 370,75.6 370.2,75.7 370.4,74.9 370.6,73.7 370.8,72.3 370.9,71.8 371.1,71 371.3,69.7 371.5,68 371.7,68.1 371.8,66.1 372,63.7 372.2,61.2 372.4,59.3 372.6,58.4 372.7,55.8 372.9,54.2 373.1,51.8 373.3,49.3 373.5,47.7 373.6,45.9 373.8,44.7 374,43.6 374.2,41.6 374.4,40.7 374.5,40.2 374.7,41.4 374.9,42 375.1,41.6 375.3,43.6 375.4,44.9 375.6,47.8 375.8,49.9 376,52.3 376.2,53.1 376.3,56.6 376.5,59 376.7,60.4 376.9,61.1 377.1,63.7 377.2,65.3 377.4,67 377.6,68.5 377.8,69.9 378,71.7 378.1,71.1 378.3,73 378.5,73.1 378.7,75.3 378.9,74.8 379,76.2 379.2,76.8 379.4,76.3 379.6,76.3 379.8,76.4 379.9,76.7 380.1,77.7 380.3,77.4 380.5,78.2 380.7,78.3 380.8,78.1 381,78.4 381.2,78 381.4,79.4 381.6,78 381.7,78.9 381.9,77.9 382.1,78.1 382.3,79.3 382.5,78.8 382.6,78.4 382.8,79.2 383,79.2 383.2,78.9 383.4,78.4 383.5,78.3 383.7,78.9 383.9,78.2 384.1,77.8 384.3,78 384.4,78.7 384.6,78.5 384.8,77.8 385,77.3 385.2,77.2 385.3,77.4 385.5,77.3 385.7,75.8 385.9,76.2 386.1,74.7 386.2,75.9 386.4,75 386.6,74.8 386.8,73 387,73 387.1,73.6 387.3,74.2 387.5,72.3 387.7,72.8 387.9,73.6 388,74 388.2,73.2 388.4,73.9 388.6,74.1 388.8,74.4 388.9,75.2 389.1,75.6 389.3,75.6 389.5,76.4 389.7,76.9 389.8,76.9 390,78.6 390.2,77.2 390.4,77.9 390.6,78.8 390.7,78.7 390.9,78.2 391.1,78.7 391.3,80 391.5,79.8 391.6,79.3 391.8,78.6 392,79.2 392.2,79.8 392.4,79.4 392.5,79.8 392.7,80 392.9,79.7 393.1,80.9 393.3,79.4 393.4,79.7 393.6,80.2 393.8,80.4 394,80.6 394.2,79.9 394.3,80 394.5,80 394.7,79.3 394.9,81.2 395.1,80.5 395.2,80.5 395.4,79.7 395.6,80.3 395.8,80.6 396,80.1 396.1,80 396.3,79.4 396.5,80.1 396.7,80.4 396.9,80.5 397,80.6 397.2,80 397.4,79.9 397.6,80.4 397.8,80.3 397.9,79.6 398.1,80.2 398.3,80.1 398.5,80.8 398.7,80.6 398.8,81.3 399,81 399.2,80.2 399.4,79.7 399.6,80.5 399.7,80.9 399.9,80.3 400.1,79.8 400.3,80.4 400.5,79.9 400.6,80.4 400.8,81 401,80.8 401.2,80.5 401.4,79.3 401.5,80.1 401.7,80.5 401.9,80.3 402.1,80.3 402.3,80.6 402.4,80.5 402.6,80.5 402.8,80.1 403,79.7 403.2,79.8 403.3,80.6 403.5,80.2 403.7,80.8 403.9,80.9 404.1,80.4 404.2,80.1 404.4,80.5 404.6,80.1 404.8,80.1 405,80.1 405.1,80.5 405.3,81.1 405.5,79.6 405.7,80.7 405.9,80.1 406,80.2 406.2,80.6 406.4,79.6 406.6,80.1 406.8,80.5 406.9,80.7 407.1,80.9 407.3,81.1 407.5,80.2 407.7,80.7 407.8,80.7 408,80.2 408.2,80.6 408.4,80.2 408.6,80.8 408.7,80.7 408.9,80.1 409.1,80.8 409.3,80.2 409.5,80.2 409.6,80.5 409.8,81.3 410,81.1 410.2,81 410.4,81.1 410.5,80.1 410.7,80.9 410.9,81.1 411.1,80.7 411.3,80.5 411.4,81.3 411.6,80.2 411.8,80.2 412,80.8 412.2,80.1 412.3,81.2 412.5,80.8 412.7,80.6 412.9,80.5 413.1,80 413.2,80.6 413.4,81 413.6,80.4 413.8,80.4 414,80.3 414.1,80.6 414.3,80.4 414.5,80.8 414.7,80.2 414.9,80.8 415,80.8 415.2,79.9 415.4,80.8 415.6,80.5 415.8,80.2 415.9,80.6 416.1,80 416.3,80.7 416.5,80 416.7,81.2 416.8,81.1 417,80.4 417.2,79.8 417.4,79.7 417.6,80.8 417.7,80.4 417.9,80.7 418.1,81.4 418.3,80.1 418.5,80.6 418.6,79.8 418.8,80.3 419,80.6 419.2,80.7 419.4,80.5 419.5,80.1 419.7,80.6 419.9,79 420.1,80.2 420.3,80.8 420.4,80.2 420.6,79.7 420.8,80 421,80.4 421.2,80.5 421.3,80.5 421.5,80.7 421.7,80.3 421.9,79.9 422.1,80.3 422.2,79.2 422.4,79.7 422.6,80 422.8,79.7 423,78.9 423.1,80.3 423.3,79.3 423.5,77.9 423.7,78.6 423.9,79.3 424,78.6 424.2,78.6 424.4,76.8 424.6,78.3 424.8,77.9 424.9,77.6 425.1,77.9 425.3,78.5 425.5,76.6 425.7,75.9 425.8,76.1 426,75.3 426.2,74.9 426.4,74.7 426.6,75.7 426.7,73.9 426.9,74.1 427.1,74.1 427.3,74.6 427.5,74.7 427.6,75.1 427.8,74.8 428,74.8 428.2,75.8 428.4,75.4 428.5,76.4 428.7,76.1 428.9,76.8 429.1,76.6 429.3,76.4 429.4,77.5 429.6,78.1 429.8,78.4 430,78 430.2,78.8 430.3,78.3 430.5,78.8 430.7,78.6 430.9,79.5 431.1,79.8 431.2,79.8 431.4,79.3 431.6,79.9 431.8,79.3 432,80.7 432.1,80 432.3,79.8 432.5,80.6 432.7,80 432.9,80.4 433,79.7 433.2,79.7 433.4,79.2 433.6,79.9 433.8,80.2 433.9,79.6 434.1,79.1 434.3,79 434.5,78.9 434.7,78.2 434.8,78.8 435,78.5 435.2,78.6 435.4,78.2 435.6,77.1 435.7,77.2 435.9,78.4 436.1,76.1 436.3,77.5 436.5,76.4 436.6,75.3 436.8,75.5 437,75 437.2,74.6 437.4,74.7 437.5,75.3 437.7,74.4 437.9,74.9 438.1,75.9 438.3,74.8 438.4,74.6 438.6,75 438.8,75.3 439,74.7 439.2,75.7 439.3,75.7 439.5,76.3 439.7,76 439.9,77.3 440.1,76.9 440.2,76.8 440.4,78.2 440.6,77.7 440.8,79.2 441,78.6 441.1,78.6 441.3,79.5 441.5,80.2 441.7,79.4 441.9,79.7 442,79.6 442.2,79.6 442.4,79.4 442.6,79.2 442.8,79.8 442.9,80.8 443.1,79.8 443.3,80 443.5,80.1 443.7,79.5 443.8,80.1 444,80.4 444.2,80.1 444.4,81.1 444.6,79.9 444.7,80.3 444.9,79.6 445.1,80 445.3,80.2 445.5,80.3 445.6,81 445.8,80.4 446,80.3 446.2,80 446.4,80.2 446.5,80.1 446.7,80.1 446.9,80.7 447.1,80.3 447.3,80.6 447.4,81.1 447.6,81.2 447.8,80.1 448,79.8 448.2,79.8 448.3,80.9 448.5,79.8 448.7,79.7 448.9,80.8 449.1,80.3 449.2,79.7 449.4,80.4 449.6,79.9 449.8,80.8 450,80.7 450.1,80.1 450.3,80.6 450.5,80.4 450.7,80.4 450.9,81 451,79.8 451.2,80.6 451.4,80.6 451.6,80.7 451.8,80.5 451.9,80.9 452.1,80.1 452.3,80.6 452.5,80.1 452.7,80.9 452.8,81 453,80.9 453.2,80.4 453.4,81.1 453.6,80.1 453.7,80.6 453.9,80 454.1,80.6 454.3,80.1 454.5,80.9 454.6,81 454.8,80.2 455,80.7 455.2,79.9 455.4,80.7 455.5,80.2 455.7,80.8 455.9,81.2 456.1,79.7 456.3,80.5 456.4,79.9 456.6,80.3 456.8,81.2 457,80.2 457.2,79.8 457.3,79.7 457.5,79.6 457.7,80.1 457.9,80.4 458.1,80.3 458.2,80.9 458.4,79.9 458.6,79.9 458.8,80.1 459,80.6 459.1,79.9 459.3,80.5 459.5,79.6 459.7,80.5 459.9,80.4 460,80.3 460.2,80.7 460.4,80.6 460.6,80.3 460.8,81.3 460.9,79.1 461.1,79.9 461.3,79.9 461.5,80.5 461.7,79.9 461.8,80 462,79.9 462.2,80.7 462.4,80 462.6,80.8 462.7,80 462.9,80.3 463.1,80.1 463.3,80 463.5,79.4 463.6,79.2 463.8,79.7 464,80.2 464.2,78.9 464.4,80.3 464.5,79.8 464.7,79.6 464.9,79.9 465.1,78.8 465.3,79.2 465.4,78.8 465.6,79.5 465.8,78.8 466,79.3 466.2,79.2 466.3,78.9 466.5,78.8 466.7,78.7 466.9,79 467.1,79.6 467.2,78.9 467.4,80 467.6,78.7 467.8,78.9 468,77.9 468.1,79.6 468.3,77.1 468.5,78.2 468.7,78.7 468.9,77.5 469,77.3 469.2,77.2 469.4,76.1 469.6,77.5 469.8,76.7 469.9,76.5 470.1,76.7 470.3,75.9 470.5,75 470.7,75.8 470.8,74.7 471,74 471.2,73.8 471.4,74.5 471.6,72.9 471.7,72.7 471.9,71.1 472.1,71.2 472.3,69.2 472.5,70.2 472.6,68.4 472.8,68.2 473,65.6 473.2,64.7 473.4,65 473.5,62.8 473.7,62 473.9,61.7 474.1,59.9 474.3,57.9 474.4,56.2 474.6,55.4 474.8,53.6 475,52.2 475.2,51 475.3,50.9 475.5,49 475.7,47.9 475.9,48.6 476.1,46 476.2,45.7 476.4,46.4 476.6,45 476.8,47 477,47.2 477.1,47.1 477.3,47.4 477.5,45.9 477.7,47.3 477.9,47.6 478,47.6 478.2,47 478.4,48.3 478.6,49 478.8,48.9 478.9,48.8 479.1,50.3 479.3,50 479.5,51.5 479.7,52.7 479.8,53.3 480,53.5 480.2,56.1 480.4,56.3 480.6,58 480.7,59.5 480.9,60.9 481.1,61.6 481.3,62.9 481.5,64.2 481.6,65.2 481.8,67.1 482,68 482.2,69.1 482.4,69.6 482.5,70.4 482.7,71.2 482.9,71.4 483.1,72.9 483.3,73.1 483.4,73.1 483.6,73.1 483.8,74.5 484,74.3 484.2,74.6 484.3,76.2 484.5,75.9 484.7,76.9 484.9,76.8 485.1,76.6 485.2,77.7 485.4,77 485.6,77.6 485.8,77.8 486,77.6 486.1,78.4 486.3,79 486.5,78.2 486.7,78.7 486.9,78.6 487,79.2 487.2,79.2 487.4,79.3 487.6,79.5 487.8,79.4 487.9,79.4 488.1,79.1 488.3,77.6 488.5,79.6 488.7,80.1 488.8,79.1 489,80 489.2,79.9 489.4,79.7 489.6,79.6 489.7,79.6 489.9,79.6 490.1,79.8 490.3,79.2 490.5,79.4 490.6,80.1 490.8,80 491,80.6 491.2,79.6 491.4,80.1 491.5,79.1 491.7,80.4 491.9,79.4 492.1,80.6 492.3,81 492.4,80.6 492.6,80 492.8,79.7 493,80.7 493.2,79.8 493.3,80.6 493.5,80.6 493.7,80.5 493.9,79.6 494.1,80.3 494.2,80.3 494.4,81.1 494.6,80.4 494.8,80.3 495,79.7 495.1,80.9 495.3,80.9 495.5,81" fill="none" stroke="#000" stroke-width="0.5" marker-start="url(#dmi)" marker-mid="url(#dmi)" marker-end="url(#dmi)"/>
<path d="M360.5,79.9 364.8,79.5 367.5,78.7 369,77.7 370,75.7 370.8,73 371.5,68.5 373.8,43.9 374.2,41.5 374.5,40.6 374.9,41.5 375.3,43.9 377.1,63.7 378.1,72 378.9,75.1 379.6,76.8 380.5,77.9 381.7,78.6 383.4,78.8 384.6,78.1 385.5,76.8 387.1,73.3 387.7,72.9 388.2,73.4 389.8,77.2 390.9,78.8 392.4,79.7 395.1,80.1 411.1,80.5 417.9,80.4 421.3,80.2 422.6,79.8 423.7,79.1 424.6,78 426.4,75 427.1,74.5 427.8,75 430.3,78.8 431.2,79.4 432.1,79.7 433.4,79.6 434.5,78.9 435.4,77.9 437.2,75 437.9,74.6 438.6,75.1 440.4,78 441.3,79.1 442.4,79.9 443.8,80.2 449.4,80.5 457.7,80.3 462.7,79.9 466.3,79.1 468.1,78.3 469.6,77 470.7,75.4 471.6,73.1 472.5,69.5 473.2,65.6 475.5,49.1 476.1,47.1 476.6,46.4 477.1,46.7 478.2,48.1 479.1,50.2 479.8,53.6 482.4,69.4 483.4,73.5 484.5,76 486,77.8 488.1,79.1 491.2,80 495.5,80.5" fill="none" stroke="#e31515" stroke-width="3.1" stroke-linejoin="round"/>
<path d="M360.5,148 360.7,147.3 360.9,148 361,147 361.2,147.6 361.4,148 361.6,147.9 361.8,148.2 361.9,148.3 362.1,147 362.3,147.1 362.5,148 362.7,147.7 362.8,146.7 363,147.8 363.2,147.4 363.4,147.2 363.6,147.5 363.7,147.5 363.9,147.5 364.1,147.3 364.3,148.1 364.5,147.3 364.6,147.2 364.8,147.9 365,147 365.2,147.6 365.4,148.4 365.5,148 365.7,147 365.9,146.8 366.1,147.2 366.3,147.6 366.4,147 366.6,146.4 366.8,146.8 367,147.4 367.2,146.4 367.3,146.7 367.5,146.6 367.7,146.4 367.9,146 368.1,146.3 368.2,146.6 368.4,146 368.6,145.7 368.8,145 369,146.1 369.1,145.3 369.3,145.4 369.5,144.5 369.7,144.6 369.9,145.5 370,142.9 370.2,143.2 370.4,142.8 370.6,142.3 370.8,141.2 370.9,140.4 371.1,138.7 371.3,137.3 371.5,136.1 371.7,134.4 371.8,133.5 372,130.9 372.2,129.5 372.4,127.2 372.6,125 372.7,123.4 372.9,120.2 373.1,118.3 373.3,117 373.5,113.5 373.6,111.6 373.8,112.1 374,111.1 374.2,109 374.4,107.6 374.5,107.1 374.7,107.5 374.9,108.6 375.1,109 375.3,110.6 375.4,113 375.6,114.5 375.8,116 376,119.2 376.2,121.4 376.3,123.7 376.5,124.4 376.7,127 376.9,128.9 377.1,131.5 377.2,133 377.4,133.9 377.6,136.2 377.8,136.7 378,138.6 378.1,139.6 378.3,140.3 378.5,140.9 378.7,141.2 378.9,142.9 379,142.4 379.2,144.2 379.4,144.6 379.6,145.7 379.8,144.4 379.9,144.3 380.1,145.9 380.3,145.6 380.5,145.8 380.7,146.6 380.8,145.9 381,145.9 381.2,146.4 381.4,146.7 381.6,146.2 381.7,146 381.9,147.1 382.1,146.4 382.3,146.2 382.5,147.8 382.6,146.3 382.8,145.6 383,147.1 383.2,145.8 383.4,146.6 383.5,146.1 383.7,146.4 383.9,146.8 384.1,147 384.3,144.8 384.4,146.5 384.6,145.7 384.8,144.6 385,144.9 385.2,144.7 385.3,145.5 385.5,144.3 385.7,144.3 385.9,144.1 386.1,142.5 386.2,141.7 386.4,142 386.6,141.5 386.8,140.4 387,139.7 387.1,140.4 387.3,138.9 387.5,138.8 387.7,139.3 387.9,140 388,139.3 388.2,139.5 388.4,139.3 388.6,141.1 388.8,140.4 388.9,142 389.1,142.1 389.3,143 389.5,143.4 389.7,143.2 389.8,144.7 390,144.4 390.2,145.3 390.4,145.6 390.6,146.2 390.7,146 390.9,147.4 391.1,146.7 391.3,146.3 391.5,146.5 391.6,147.8 391.8,147.7 392,147.5 392.2,146.4 392.4,147.6 392.5,147.5 392.7,147.6 392.9,147.4 393.1,148 393.3,147.5 393.4,147.4 393.6,147.2 393.8,148.2 394,147.3 394.2,146.9 394.3,147.4 394.5,147.5 394.7,149 394.9,147.2 395.1,147 395.2,147.3 395.4,147.7 395.6,147.5 395.8,146.5 396,148.3 396.1,148.2 396.3,147.5 396.5,147.9 396.7,149 396.9,147.9 397,147.9 397.2,148.5 397.4,147.9 397.6,147.9 397.8,148.9 397.9,147.8 398.1,147.1 398.3,147.3 398.5,148.6 398.7,148.7 398.8,148.1 399,148 399.2,148.7 399.4,148.5 399.6,147.5 399.7,148 399.9,147.6 400.1,148.2 400.3,147.7 400.5,148.4 400.6,148.4 400.8,148.6 401,149.1 401.2,148.4 401.4,148.8 401.5,148.4 401.7,148.1 401.9,148.1 402.1,148 402.3,148.4 402.4,148.2 402.6,147.7 402.8,148.3 403,148.2 403.2,149.4 403.3,148.7 403.5,147.7 403.7,148.6 403.9,148.7 404.1,147.8 404.2,148.8 404.4,147.8 404.6,148.3 404.8,148.5 405,149.2 405.1,147.6 405.3,149.1 405.5,148.8 405.7,147.9 405.9,148.8 406,148 406.2,148.3 406.4,148.4 406.6,148.8 406.8,148.6 406.9,148.1 407.1,148.7 407.3,148 407.5,148.2 407.7,148 407.8,148.2 408,148 408.2,148.1 408.4,147.9 408.6,148.1 408.7,148.1 408.9,148.7 409.1,149.1 409.3,148.3 409.5,147.8 409.6,148.7 409.8,149 410,148.5 410.2,148.1 410.4,147.9 410.5,148.4 410.7,148.8 410.9,148.3 411.1,148 411.3,148.3 411.4,147.8 411.6,148.5 411.8,147.9 412,147.5 412.2,148.8 412.3,148.7 412.5,148 412.7,146.8 412.9,148.1 413.1,148.3 413.2,147.7 413.4,148.3 413.6,149.1 413.8,148.7 414,147.7 414.1,149.1 414.3,149 414.5,147.9 414.7,148.2 414.9,147.7 415,148.8 415.2,148.6 415.4,148.4 415.6,148.9 415.8,148.4 415.9,148.3 416.1,147.9 416.3,148.3 416.5,148.4 416.7,148 416.8,147.7 417,147.8 417.2,148.1 417.4,148.4 417.6,148.5 417.7,148.8 417.9,148.2 418.1,148.2 418.3,147.4 418.5,148.1 418.6,147.8 418.8,147.6 419,149.1 419.2,148.5 419.4,148.3 419.5,148.1 419.7,148.7 419.9,147.7 420.1,147.7 420.3,147.9 420.4,147.7 420.6,148.6 420.8,147.5 421,148.3 421.2,148.9 421.3,147.9 421.5,147.7 421.7,148.2 421.9,148.6 422.1,148.3 422.2,147.8 422.4,148.9 422.6,147.1 422.8,147 423,147.5 423.1,146.7 423.3,147.2 423.5,147.5 423.7,146.5 423.9,146.3 424,146.9 424.2,146.9 424.4,146.4 424.6,145 424.8,145.5 424.9,143.6 425.1,145.1 425.3,144.1 425.5,143.9 425.7,143.8 425.8,142.9 426,143.5 426.2,142.8 426.4,143.1 426.6,143.5 426.7,142.1 426.9,142.6 427.1,142.7 427.3,141.7 427.5,142.2 427.6,142.1 427.8,141.5 428,142.6 428.2,142.8 428.4,144 428.5,143.2 428.7,143.5 428.9,144.9 429.1,144.3 429.3,144.8 429.4,145.4 429.6,145.5 429.8,144.5 430,146.4 430.2,146.4 430.3,146.4 430.5,146.7 430.7,147.7 430.9,146.6 431.1,146.6 431.2,146.3 431.4,147.5 431.6,147.9 431.8,147 432,147.9 432.1,147.4 432.3,147.6 432.5,147.4 432.7,147.7 432.9,147.1 433,147.9 433.2,146.2 433.4,146.9 433.6,147.5 433.8,147.6 433.9,147.1 434.1,147.2 434.3,147.2 434.5,145.9 434.7,146 434.8,146.8 435,145.8 435.2,145.8 435.4,145.1 435.6,145.6 435.7,143.9 435.9,144.6 436.1,143.3 436.3,144.3 436.5,143 436.6,143.4 436.8,142.1 437,142.9 437.2,143.1 437.4,142.9 437.5,142.5 437.7,141.7 437.9,141.8 438.1,142 438.3,141.6 438.4,141.4 438.6,143.1 438.8,142.3 439,141.8 439.2,143.7 439.3,144.1 439.5,143.9 439.7,144.3 439.9,145 440.1,145.1 440.2,144.5 440.4,145.2 440.6,146.4 440.8,147.1 441,147 441.1,146.5 441.3,147.2 441.5,147.4 441.7,146.8 441.9,147.4 442,147.6 442.2,147.4 442.4,146.9 442.6,147.5 442.8,147.4 442.9,147.8 443.1,147.1 443.3,148.5 443.5,148.5 443.7,148.2 443.8,147 444,147.3 444.2,148.6 444.4,148.3 444.6,147.9 444.7,148.1 444.9,147.7 445.1,148.4 445.3,149 445.5,147.9 445.6,147.6 445.8,148.9 446,149.1 446.2,148.4 446.4,149.1 446.5,148 446.7,148.8 446.9,147.9 447.1,148.4 447.3,148.2 447.4,148 447.6,148.4 447.8,148.8 448,147.8 448.2,149 448.3,147.6 448.5,148.6 448.7,148.6 448.9,148.1 449.1,148.1 449.2,148.1 449.4,149 449.6,148.7 449.8,148.1 450,148.1 450.1,148.4 450.3,147.7 450.5,148.4 450.7,147.9 450.9,147.8 451,148.1 451.2,148.4 451.4,148 451.6,148.1 451.8,148 451.9,148.7 452.1,148.1 452.3,147.5 452.5,148.4 452.7,148.2 452.8,148.4 453,147.9 453.2,149.3 453.4,147.5 453.6,148 453.7,148.4 453.9,148.2 454.1,147.7 454.3,148.1 454.5,147.9 454.6,147.7 454.8,148.2 455,147.9 455.2,147.5 455.4,148 455.5,148.5 455.7,147.9 455.9,147.3 456.1,148.4 456.3,148 456.4,148 456.6,147.8 456.8,148.4 457,148.2 457.2,147.2 457.3,147.8 457.5,148.5 457.7,147.8 457.9,148.1 458.1,147.4 458.2,148.9 458.4,148.1 458.6,147.6 458.8,148.7 459,148.5 459.1,147.9 459.3,148.1 459.5,148.2 459.7,147.9 459.9,148.7 460,148.4 460.2,147.2 460.4,148.3 460.6,147.8 460.8,148 460.9,147.5 461.1,147.8 461.3,147.7 461.5,147.3 461.7,147.7 461.8,148.7 462,148.2 462.2,147.1 462.4,147.3 462.6,147.9 462.7,148.5 462.9,148.1 463.1,146.7 463.3,147.1 463.5,147.1 463.6,148.4 463.8,148.3 464,147.9 464.2,148.2 464.4,147.4 464.5,148 464.7,147.2 464.9,147.5 465.1,147.6 465.3,147 465.4,147.1 465.6,147.2 465.8,147.4 466,147.2 466.2,148 466.3,148 466.5,147.3 466.7,146.8 466.9,146 467.1,146.6 467.2,147.2 467.4,146.9 467.6,147.2 467.8,146.5 468,146.4 468.1,146.3 468.3,146.1 468.5,145.6 468.7,145.7 468.9,146.5 469,145.3 469.2,146.1 469.4,145.3 469.6,145.3 469.8,144.3 469.9,145 470.1,144.8 470.3,144.6 470.5,143.8 470.7,143.8 470.8,143.8 471,142.9 471.2,141.8 471.4,141.7 471.6,141.3 471.7,142 471.9,141.2 472.1,140.5 472.3,140.9 472.5,138.3 472.6,139.4 472.8,137.5 473,137.6 473.2,135.9 473.4,134.5 473.5,133.6 473.7,133.3 473.9,132 474.1,129.8 474.3,129.1 474.4,127.7 474.6,125.8 474.8,126.6 475,123.4 475.2,121.4 475.3,119.7 475.5,119.2 475.7,118.9 475.9,116.7 476.1,115.2 476.2,116.1 476.4,115.6 476.6,114.8 476.8,114.6 477,115.6 477.1,115.8 477.3,115.1 477.5,114.8 477.7,114.3 477.9,115.1 478,114.9 478.2,114.3 478.4,113.5 478.6,115.2 478.8,116.6 478.9,115.7 479.1,116.7 479.3,116.9 479.5,117 479.7,117.8 479.8,119.9 480,120.7 480.2,120.7 480.4,121.5 480.6,121.8 480.7,123.9 480.9,125.8 481.1,127.1 481.3,128.5 481.5,130.1 481.6,131.3 481.8,132 482,132.8 482.2,134.3 482.4,134.9 482.5,136 482.7,136.9 482.9,137.9 483.1,138.3 483.3,139.2 483.4,141.3 483.6,140.3 483.8,141 484,141.9 484.2,142 484.3,142.9 484.5,142.9 484.7,143.8 484.9,143.3 485.1,143.8 485.2,145 485.4,144.9 485.6,144.4 485.8,144.8 486,145.1 486.1,146 486.3,145.9 486.5,145.6 486.7,145.7 486.9,146 487,146.5 487.2,146.3 487.4,146.6 487.6,147 487.8,147.1 487.9,147 488.1,147.5 488.3,146.6 488.5,146.5 488.7,146.5 488.8,147.4 489,147.5 489.2,147 489.4,147.4 489.6,147.4 489.7,147.5 489.9,148.2 490.1,146.8 490.3,148.2 490.5,148.3 490.6,147.2 490.8,148.1 491,147.1 491.2,147.5 491.4,147.5 491.5,147.9 491.7,148.5 491.9,148.4 492.1,147.8 492.3,147.9 492.4,148.5 492.6,148.5 492.8,148.4 493,148 493.2,147.8 493.3,147.6 493.5,148.2 493.7,147.4 493.9,147.8 494.1,147.4 494.2,148.6 494.4,147.9 494.6,147.7 494.8,149.1 495,147.8 495.1,148.1 495.3,147.8 495.5,148.2" fill="none" stroke="#000" stroke-width="0.5" marker-start="url(#dmi)" marker-mid="url(#dmi)" marker-end="url(#dmi)"/>
<path d="M360.5,147.7 364.8,147.2 367.5,146.5 369,145.4 370,143.4 370.8,140.6 371.5,136.1 373.8,111 374.2,108.5 374.5,107.7 374.9,108.5 375.3,111 377.1,131.2 378.1,139.6 378.7,142.1 379.4,144.2 380.3,145.5 381.6,146.2 382.5,146.4 383.4,146.4 384.1,146.1 384.6,145.6 385.5,144 387.1,139.8 387.7,139.3 388.2,139.9 389.8,144.4 390.9,146.4 391.6,147 392.4,147.4 394.9,147.9 400.6,148.1 410.5,148.3 417.7,148.2 421.3,147.9 422.6,147.6 423.7,146.8 424.6,145.6 426.4,142.5 427.1,142 427.8,142.5 430.3,146.4 431.2,147.1 432.1,147.4 433.4,147.3 434.5,146.6 435.4,145.5 437.2,142.5 437.9,142 438.6,142.5 440.4,145.7 441.3,146.8 442.4,147.6 443.8,148 449.4,148.3 457.9,148.2 463.1,147.7 466.7,146.9 468.5,146.1 469.9,144.9 471,143.3 471.9,141.2 472.8,137.8 473.5,133.9 475.9,117.4 476.4,115.1 476.8,114.4 477.1,114.2 477.7,114.6 478.8,116 479.7,118.3 482.7,136.8 483.8,141.1 484.9,143.7 486.3,145.6 488.3,146.8 491.2,147.7 495.5,148.3" fill="none" stroke="#e31515" stroke-width="3.1" stroke-linejoin="round"/>
<path d="M360.5,207.3 360.7,208 360.9,208 361,207.4 361.2,207.4 361.4,208.4 361.6,207.2 361.8,207.2 361.9,207.2 362.1,208 362.3,207.1 362.5,207.4 362.7,207.2 362.8,207.7 363,207.8 363.2,207.9 363.4,207.9 363.6,207.1 363.7,207.9 363.9,207.8 364.1,207.3 364.3,207.6 364.5,208.4 364.6,207.7 364.8,207.6 365,206.6 365.2,207 365.4,207.7 365.5,207.8 365.7,207.4 365.9,207 366.1,207.5 366.3,206.8 366.4,207.7 366.6,206.8 366.8,206.3 367,208.1 367.2,206.7 367.3,206.5 367.5,206.3 367.7,206.3 367.9,206.3 368.1,205.9 368.2,205.8 368.4,205.6 368.6,204.6 368.8,204.6 369,204.3 369.1,204.7 369.3,204.2 369.5,202.9 369.7,203.4 369.9,201.7 370,202.2 370.2,199.4 370.4,198.9 370.6,198.8 370.8,197.6 370.9,197.2 371.1,194.7 371.3,192.5 371.5,191.2 371.7,190 371.8,186.9 372,186 372.2,184.4 372.4,183.1 372.6,180.9 372.7,178 372.9,178 373.1,178.3 373.3,176.2 373.5,174.6 373.6,174.9 373.8,176.1 374,176.1 374.2,178.1 374.4,177.9 374.5,180.2 374.7,181.6 374.9,183.2 375.1,185.1 375.3,185.4 375.4,187.3 375.6,190.1 375.8,191.5 376,192.2 376.2,194.8 376.3,196.3 376.5,197.8 376.7,197.7 376.9,199.5 377.1,200.6 377.2,201.7 377.4,202.7 377.6,202.4 377.8,203.9 378,204.3 378.1,205.3 378.3,205.4 378.5,205.4 378.7,205.7 378.9,206.4 379,206.2 379.2,206.1 379.4,207.5 379.6,206.1 379.8,206.6 379.9,207.3 380.1,206.8 380.3,206.6 380.5,206.9 380.7,206.9 380.8,207 381,206.7 381.2,207.7 381.4,207.4 381.6,207 381.7,207.2 381.9,207.7 382.1,207.4 382.3,207.6 382.5,207.3 382.6,208.1 382.8,208.1 383,208 383.2,207.4 383.4,206.2 383.5,206.9 383.7,206.7 383.9,207.3 384.1,206.5 384.3,207 384.4,207.1 384.6,206.5 384.8,207.5 385,207.9 385.2,207.3 385.3,205.9 385.5,206 385.7,206.2 385.9,206.2 386.1,206 386.2,205.5 386.4,205.9 386.6,204.9 386.8,205.5 387,204.2 387.1,204.9 387.3,205.1 387.5,204.7 387.7,205 387.9,204.6 388,205.6 388.2,205 388.4,204.9 388.6,205 388.8,205.6 388.9,205 389.1,206.7 389.3,206.2 389.5,206.5 389.7,206.5 389.8,206.8 390,206.2 390.2,207 390.4,207.6 390.6,206.1 390.7,207.4 390.9,207.6 391.1,207.2 391.3,208 391.5,207.9 391.6,207.4 391.8,208.4 392,208.1 392.2,207.5 392.4,207.1 392.5,208 392.7,208.1 392.9,207.5 393.1,208.8 393.3,208.4 393.4,208.5 393.6,209.1 393.8,209.5 394,208.3 394.2,207.7 394.3,207.9 394.5,207.6 394.7,209.4 394.9,208.3 395.1,207.6 395.2,208.6 395.4,208.8 395.6,208.1 395.8,208.2 396,207.9 396.1,208.2 396.3,207.7 396.5,207.9 396.7,208.1 396.9,208.4 397,207.9 397.2,208.6 397.4,207.8 397.6,207.8 397.8,207.9 397.9,208.9 398.1,208.1 398.3,208.1 398.5,207.9 398.7,209 398.8,208.6 399,208.4 399.2,207.7 399.4,208.6 399.6,207.9 399.7,208.3 399.9,207.5 400.1,208.2 400.3,209.1 400.5,208.5 400.6,208.2 400.8,207.8 401,208.1 401.2,208.5 401.4,208.9 401.5,208.4 401.7,208.4 401.9,207.8 402.1,207.9 402.3,209 402.4,209.4 402.6,208.6 402.8,208.3 403,208.8 403.2,208.6 403.3,207.8 403.5,208.1 403.7,209.2 403.9,208.2 404.1,208.3 404.2,208.5 404.4,208.1 404.6,208.1 404.8,207.3 405,208.3 405.1,208.7 405.3,208.6 405.5,208.1 405.7,207.5 405.9,208.1 406,208.2 406.2,208.3 406.4,208.6 406.6,208.4 406.8,209 406.9,208.1 407.1,208.2 407.3,208.3 407.5,208.8 407.7,208.5 407.8,208.7 408,208.3 408.2,208.6 408.4,208.3 408.6,208 408.7,207.8 408.9,208.9 409.1,208.6 409.3,208.9 409.5,207.9 409.6,208.8 409.8,207.8 410,208.7 410.2,208 410.4,208.7 410.5,208.5 410.7,208.4 410.9,208.4 411.1,208.5 411.3,208.1 411.4,207.9 411.6,208 411.8,208.7 412,209.3 412.2,208.4 412.3,209.7 412.5,208.1 412.7,208.1 412.9,209 413.1,208.2 413.2,208.7 413.4,207.8 413.6,208.8 413.8,208.8 414,208.7 414.1,208.3 414.3,208.9 414.5,207.4 414.7,208.6 414.9,207.6 415,208.5 415.2,208.6 415.4,208.7 415.6,208.8 415.8,208.2 415.9,207.8 416.1,208.4 416.3,208.8 416.5,208.3 416.7,208.8 416.8,209.6 417,208.3 417.2,209.2 417.4,208.7 417.6,208.3 417.7,208.6 417.9,208.5 418.1,207.6 418.3,207.9 418.5,207.6 418.6,208.2 418.8,208.2 419,207.5 419.2,208.6 419.4,208.1 419.5,208.2 419.7,208.1 419.9,208 420.1,208.2 420.3,207.9 420.4,208.6 420.6,208 420.8,208.7 421,207.6 421.2,207.7 421.3,208.2 421.5,208.3 421.7,208 421.9,207.7 422.1,208.6 422.2,208.3 422.4,207.4 422.6,207.8 422.8,208.2 423,208.6 423.1,207.6 423.3,208.1 423.5,207.1 423.7,207 423.9,205.9 424,207.2 424.2,206 424.4,206.7 424.6,206.3 424.8,205.6 424.9,205.6 425.1,204 425.3,204.6 425.5,204.6 425.7,202.7 425.8,204 426,203.4 426.2,203.1 426.4,203.1 426.6,202.1 426.7,201.7 426.9,202.9 427.1,202.4 427.3,202.4 427.5,203 427.6,203.2 427.8,202.9 428,203.4 428.2,203.1 428.4,203.1 428.5,203.8 428.7,204.1 428.9,205 429.1,205.2 429.3,205 429.4,205.2 429.6,205.8 429.8,205.8 430,206.4 430.2,207.1 430.3,206.6 430.5,207.1 430.7,207.9 430.9,206.8 431.1,207.1 431.2,207.1 431.4,207.8 431.6,206.9 431.8,207.4 432,207.3 432.1,208.1 432.3,208 432.5,207.2 432.7,207.9 432.9,207.8 433,207.1 433.2,207.3 433.4,207.7 433.6,206.9 433.8,208.5 433.9,207.7 434.1,207.9 434.3,206.9 434.5,206.7 434.7,207.6 434.8,207.2 435,206.7 435.2,206.8 435.4,206.8 435.6,206.3 435.7,205.6 435.9,206.4 436.1,206.8 436.3,206.1 436.5,205.9 436.6,205.9 436.8,205.2 437,205 437.2,204.8 437.4,204.9 437.5,204.9 437.7,205.5 437.9,205.2 438.1,205.4 438.3,204.9 438.4,205.2 438.6,205.3 438.8,205.2 439,205.7 439.2,205.2 439.3,205.4 439.5,206.6 439.7,205.7 439.9,206.7 440.1,207.1 440.2,207 440.4,207.6 440.6,207 440.8,206.8 441,208.2 441.1,207.4 441.3,207.4 441.5,207.5 441.7,207.6 441.9,207.7 442,208.2 442.2,207.7 442.4,208 442.6,207.8 442.8,208.1 442.9,208.4 443.1,208.3 443.3,208 443.5,207.8 443.7,209.2 443.8,208.9 444,209.1 444.2,208.6 444.4,208.7 444.6,208.3 444.7,208.6 444.9,207.8 445.1,208.7 445.3,208.8 445.5,208.8 445.6,208.6 445.8,208.4 446,208.7 446.2,208.9 446.4,209.1 446.5,208.4 446.7,208.7 446.9,208.9 447.1,208.6 447.3,208.3 447.4,207.6 447.6,207.8 447.8,208.9 448,208.7 448.2,209.4 448.3,209.4 448.5,209.3 448.7,208.1 448.9,208.6 449.1,209.2 449.2,208.8 449.4,208.7 449.6,208.8 449.8,207.8 450,209.4 450.1,208.7 450.3,208.4 450.5,208.3 450.7,209.5 450.9,208.4 451,209.1 451.2,208.8 451.4,209.2 451.6,208.1 451.8,207.1 451.9,208 452.1,208.6 452.3,209.3 452.5,208.1 452.7,207.9 452.8,209 453,208 453.2,209.3 453.4,209 453.6,208.4 453.7,209.1 453.9,208.1 454.1,207.8 454.3,208.4 454.5,208.2 454.6,207.7 454.8,208.2 455,207.8 455.2,207.8 455.4,208.9 455.5,207.4 455.7,207.8 455.9,208.3 456.1,208 456.3,208.2 456.4,208.3 456.6,208.8 456.8,208.5 457,208.5 457.2,207.8 457.3,208.1 457.5,208.1 457.7,208.3 457.9,207.7 458.1,209.4 458.2,208.7 458.4,207.8 458.6,208.4 458.8,207.9 459,207.5 459.1,207.8 459.3,208.9 459.5,208.3 459.7,208.7 459.9,207.9 460,207.6 460.2,208.2 460.4,207.9 460.6,208.2 460.8,207.2 460.9,208 461.1,207.9 461.3,207.7 461.5,207.5 461.7,207.6 461.8,207.9 462,207.9 462.2,207.6 462.4,207.6 462.6,208 462.7,208.1 462.9,207.9 463.1,207.5 463.3,207.9 463.5,208.2 463.6,207.8 463.8,207.8 464,207.3 464.2,207.8 464.4,207.7 464.5,206.5 464.7,207.2 464.9,207.8 465.1,206.7 465.3,207.4 465.4,207.5 465.6,206.8 465.8,207.7 466,207 466.2,206.6 466.3,206.4 466.5,207 466.7,206.9 466.9,206.6 467.1,205.9 467.2,207.2 467.4,205.8 467.6,205.9 467.8,205.3 468,206.4 468.1,205.1 468.3,205.9 468.5,205.2 468.7,205.3 468.9,206.1 469,204.7 469.2,204.2 469.4,203.6 469.6,204.1 469.8,204 469.9,202.6 470.1,202.7 470.3,201.5 470.5,200.7 470.7,201 470.8,200.3 471,199.9 471.2,199.8 471.4,197.8 471.6,196.4 471.7,195.2 471.9,194.7 472.1,192.4 472.3,192.4 472.5,190.8 472.6,189.6 472.8,188 473,186.3 473.2,184.9 473.4,183.1 473.5,181 473.7,179.5 473.9,178.7 474.1,176.2 474.3,175.7 474.4,173.8 474.6,173.1 474.8,173.6 475,172.4 475.2,170.8 475.3,171.6 475.5,171.6 475.7,171.6 475.9,171.5 476.1,171.7 476.2,172.8 476.4,172.2 476.6,174.6 476.8,175.5 477,176.5 477.1,177.6 477.3,178.1 477.5,179.1 477.7,182.3 477.9,183.8 478,184.9 478.2,186.9 478.4,187.9 478.6,190.5 478.8,190.8 478.9,193.8 479.1,193.5 479.3,194.6 479.5,194.7 479.7,197.6 479.8,197.7 480,198.6 480.2,200.2 480.4,200.3 480.6,201.5 480.7,202.3 480.9,203 481.1,202.8 481.3,203.7 481.5,204.6 481.6,203.7 481.8,205.1 482,204.2 482.2,204.7 482.4,205.4 482.5,206 482.7,205.9 482.9,206.3 483.1,206 483.3,206.1 483.4,204.9 483.6,207.3 483.8,206.7 484,206.2 484.2,206.1 484.3,206 484.5,207.3 484.7,206.5 484.9,208.4 485.1,207.1 485.2,206.7 485.4,206.8 485.6,207.9 485.8,207.7 486,208.4 486.1,207.8 486.3,208.2 486.5,207.4 486.7,208 486.9,207.4 487,207.7 487.2,207.9 487.4,206.9 487.6,207.3 487.8,208.5 487.9,207.2 488.1,207.6 488.3,207.3 488.5,207.8 488.7,208.9 488.8,208.2 489,209.2 489.2,208.8 489.4,208.5 489.6,207.6 489.7,208.2 489.9,208.1 490.1,207.9 490.3,208.7 490.5,207.8 490.6,208.2 490.8,208.8 491,208.6 491.2,208.5 491.4,208.1 491.5,207.7 491.7,208.6 491.9,208.5 492.1,207.6 492.3,207 492.4,207.6 492.6,208.4 492.8,208.7 493,208.2 493.2,208.4 493.3,208.9 493.5,207.9 493.7,207.4 493.9,209 494.1,209 494.2,208.8 494.4,209.2 494.6,208.3 494.8,209.3 495,208.3 495.1,208.5 495.3,208.3 495.5,209.4" fill="none" stroke="#000" stroke-width="0.5" marker-start="url(#dmi)" marker-mid="url(#dmi)" marker-end="url(#dmi)"/>
<path d="M360.5,207.8 364.3,207.5 366.8,206.9 368.2,205.9 369.1,204.4 369.9,202.2 370.6,198.5 372.9,178.3 373.3,176.3 373.6,175.6 374,176.3 374.4,178.3 376.2,194.7 377.2,201.4 377.8,203.5 378.5,205.2 379.4,206.2 380.7,206.9 382.6,207.3 384.3,207.2 385.2,206.7 387,204.9 387.7,204.5 388.4,204.9 390.6,207.3 391.6,207.8 392.9,208 407.3,208.4 420.4,208.2 422.2,207.9 423.5,207.1 424.6,205.8 426.4,202.7 427.1,202.1 427.8,202.7 430.3,206.7 431.4,207.5 432.5,207.8 433.6,207.8 434.7,207.4 437.2,205.2 437.9,205 438.6,205.3 441.3,207.7 442.4,208.1 444,208.4 450.1,208.5 457.5,208.3 462,207.9 465.3,207.2 467.2,206.3 468.7,205.1 469.8,203.4 470.7,200.9 472.1,193.4 474.4,174.1 475,171.8 475.2,171.4 475.5,171.2 475.9,171.6 476.2,172.6 476.8,175.2 478.8,191.3 479.7,197.1 480.6,201.1 481.6,203.9 482.4,205 483.3,206 484.3,206.7 485.8,207.3 489.6,208.2 495.5,208.7" fill="none" stroke="#e31515" stroke-width="3.1" stroke-linejoin="round"/>
</g>
<g stroke="#000" stroke-width="3" fill="none"><rect x="360.5" y="26" width="135.7" height="203"/>
<path d="M405.5,27.5v2.5M450.5,27.5v2.5M405.5,227.5v-2.5M450.5,227.5v-2.5" stroke-width="1.5"/></g>
<g font-weight="bold" font-size="15" text-anchor="middle">
<text x="360.5" y="245.5">45</text>
<text x="405.5" y="245.5">50</text>
<text x="450.5" y="245.5">55</text>
<text x="495.5" y="245.5">60</text>
</g>
<g font-weight="bold" font-size="16" text-anchor="middle" fill="#0c0cb0" style="font-family:'Liberation Serif',serif">
<text x="409.6" y="70.7" style="font-family:'Liberation Serif',serif">(c)</text><text x="410.6" y="136.1" style="font-family:'Liberation Serif',serif">(b)</text><text x="410.6" y="196.1" style="font-family:'Liberation Serif',serif">(a)</text>
</g>
<g font-weight="bold" font-size="12.6" text-anchor="middle">
<text transform="translate(389.9,44.3) rotate(-90)" textLength="28.6" lengthAdjust="spacingAndGlyphs">(220)</text>
<text transform="translate(432.0,51.4) rotate(-90)" textLength="28.6" lengthAdjust="spacingAndGlyphs">(222)</text>
<text transform="translate(447.5,50.7) rotate(-90)" textLength="28.6" lengthAdjust="spacingAndGlyphs">(131)</text>
<text transform="translate(465.0,40.7) rotate(-90)" textLength="28.6" lengthAdjust="spacingAndGlyphs">(024)</text>
</g>
<rect x="503.4" y="19.4" width="150.2" height="78.7" fill="#fff" stroke="#8a8a8a" stroke-width="1"/>
<path d="M523.6,23.6L531.2,30.9L523.6,38.2L516,30.9Z" fill="none" stroke="#000" stroke-width="3.6" stroke-linejoin="round"/>
<path d="M506.5,50.5H540" stroke="#ff0a0a" stroke-width="5" stroke-linecap="round"/>
<path d="M506.5,70.3H540" stroke="#0808e0" stroke-width="5" stroke-linecap="round"/>
<path d="M522,81.5V97.4" stroke="#0a7f0a" stroke-width="4.5"/>
<g font-weight="bold" font-size="15.5" style="font-family:'Liberation Serif',serif">
<text x="545.6" y="35.4" textLength="106.8" lengthAdjust="spacingAndGlyphs" style="font-family:'Liberation Serif',serif">Experimental</text>
<text x="545.6" y="55" textLength="85.8" lengthAdjust="spacingAndGlyphs" style="font-family:'Liberation Serif',serif">Best fitting</text>
<text x="545.6" y="74.7" textLength="82.3" lengthAdjust="spacingAndGlyphs" style="font-family:'Liberation Serif',serif">Difference</text>
<text x="545.6" y="94.5" textLength="106" lengthAdjust="spacingAndGlyphs" style="font-family:'Liberation Serif',serif">Peak position</text>
</g>
</svg></body></html>
